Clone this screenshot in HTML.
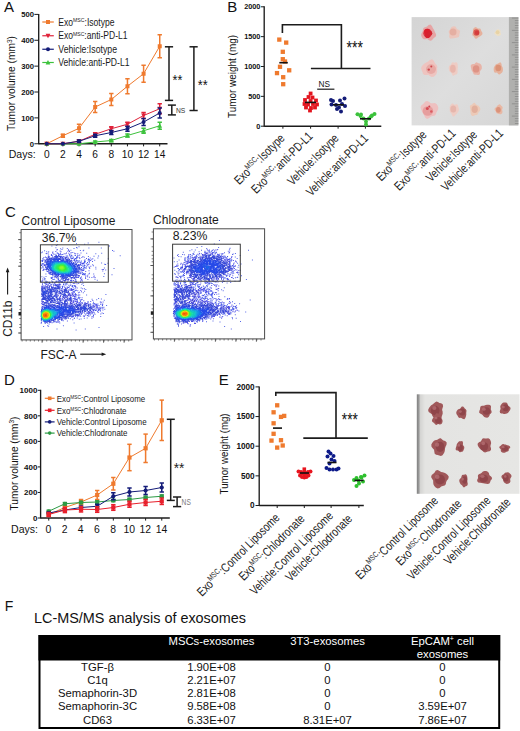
<!DOCTYPE html>
<html><head><meta charset="utf-8"><style>
html,body{margin:0;padding:0;background:#fff;}
body{width:520px;height:731px;overflow:hidden;position:relative;}
svg{position:absolute;left:0;top:0;font-family:"Liberation Sans", sans-serif;}
</style></head><body>
<svg width="520" height="731" viewBox="0 0 520 731">
<defs><filter id="bl" x="-5%" y="-5%" width="110%" height="110%"><feGaussianBlur stdDeviation="0.6"/></filter></defs>
<text x="4.0" y="11.9" font-size="15" fill="#111">A</text>
<line x1="38.7" y1="13.9" x2="38.7" y2="144.25" stroke="#1c1c1c" stroke-width="1.35"/>
<line x1="34.4" y1="143.75" x2="38.7" y2="143.75" stroke="#1c1c1c" stroke-width="1.0"/>
<text x="34.0" y="146.55" font-size="7.7" text-anchor="end" font-weight="bold" fill="#111">0</text>
<line x1="34.4" y1="117.88" x2="38.7" y2="117.88" stroke="#1c1c1c" stroke-width="1.0"/>
<text x="34.0" y="120.67999999999999" font-size="7.7" text-anchor="end" font-weight="bold" fill="#111">100</text>
<line x1="34.4" y1="92.01" x2="38.7" y2="92.01" stroke="#1c1c1c" stroke-width="1.0"/>
<text x="34.0" y="94.81" font-size="7.7" text-anchor="end" font-weight="bold" fill="#111">200</text>
<line x1="34.4" y1="66.14" x2="38.7" y2="66.14" stroke="#1c1c1c" stroke-width="1.0"/>
<text x="34.0" y="68.94" font-size="7.7" text-anchor="end" font-weight="bold" fill="#111">300</text>
<line x1="34.4" y1="40.27000000000001" x2="38.7" y2="40.27000000000001" stroke="#1c1c1c" stroke-width="1.0"/>
<text x="34.0" y="43.07000000000001" font-size="7.7" text-anchor="end" font-weight="bold" fill="#111">400</text>
<line x1="34.4" y1="14.400000000000006" x2="38.7" y2="14.400000000000006" stroke="#1c1c1c" stroke-width="1.0"/>
<text x="34.0" y="17.200000000000006" font-size="7.7" text-anchor="end" font-weight="bold" fill="#111">500</text>
<line x1="38.7" y1="143.75" x2="167.5" y2="143.75" stroke="#1c1c1c" stroke-width="1.35"/>
<line x1="46.75" y1="143.75" x2="46.75" y2="146.35" stroke="#1c1c1c" stroke-width="1.0"/>
<text x="46.75" y="158.3" font-size="10.2" text-anchor="middle" fill="#111">0</text>
<line x1="62.89" y1="143.75" x2="62.89" y2="146.35" stroke="#1c1c1c" stroke-width="1.0"/>
<text x="62.89" y="158.3" font-size="10.2" text-anchor="middle" fill="#111">2</text>
<line x1="79.03" y1="143.75" x2="79.03" y2="146.35" stroke="#1c1c1c" stroke-width="1.0"/>
<text x="79.03" y="158.3" font-size="10.2" text-anchor="middle" fill="#111">4</text>
<line x1="95.17" y1="143.75" x2="95.17" y2="146.35" stroke="#1c1c1c" stroke-width="1.0"/>
<text x="95.17" y="158.3" font-size="10.2" text-anchor="middle" fill="#111">6</text>
<line x1="111.31" y1="143.75" x2="111.31" y2="146.35" stroke="#1c1c1c" stroke-width="1.0"/>
<text x="111.31" y="158.3" font-size="10.2" text-anchor="middle" fill="#111">8</text>
<line x1="127.45" y1="143.75" x2="127.45" y2="146.35" stroke="#1c1c1c" stroke-width="1.0"/>
<text x="127.45" y="158.3" font-size="10.2" text-anchor="middle" fill="#111">10</text>
<line x1="143.59" y1="143.75" x2="143.59" y2="146.35" stroke="#1c1c1c" stroke-width="1.0"/>
<text x="143.59" y="158.3" font-size="10.2" text-anchor="middle" fill="#111">12</text>
<line x1="159.73000000000002" y1="143.75" x2="159.73000000000002" y2="146.35" stroke="#1c1c1c" stroke-width="1.0"/>
<text x="159.73000000000002" y="158.3" font-size="10.2" text-anchor="middle" fill="#111">14</text>
<text x="8.7" y="157.9" font-size="10.8" textLength="27" lengthAdjust="spacingAndGlyphs" fill="#111">Days:</text>
<text transform="translate(15.0,131) rotate(-90)" font-size="10.2" fill="#111" textLength="95" lengthAdjust="spacingAndGlyphs">Tumor volume (mm<tspan font-size="6.5" dy="-3.5">3</tspan><tspan dy="3.5">)</tspan></text>
<polyline points="46.75,143.75 62.89,135.75 79.03,128.25 95.17,107.00 111.31,99.50 127.45,86.25 143.59,73.75 159.73,46.25" fill="none" stroke="#ef7a2e" stroke-width="1.0"/>
<rect x="44.75" y="141.75" width="4.0" height="4.0" fill="#ef7a2e"/>
<line x1="62.89" y1="134.25" x2="62.89" y2="137.25" stroke="#ef7a2e" stroke-width="1.5"/>
<line x1="60.69" y1="134.25" x2="65.09" y2="134.25" stroke="#ef7a2e" stroke-width="1.5"/>
<line x1="60.69" y1="137.25" x2="65.09" y2="137.25" stroke="#ef7a2e" stroke-width="1.5"/>
<rect x="60.89" y="133.75" width="4.0" height="4.0" fill="#ef7a2e"/>
<line x1="79.03" y1="124.25" x2="79.03" y2="132.25" stroke="#ef7a2e" stroke-width="1.5"/>
<line x1="76.83" y1="124.25" x2="81.23" y2="124.25" stroke="#ef7a2e" stroke-width="1.5"/>
<line x1="76.83" y1="132.25" x2="81.23" y2="132.25" stroke="#ef7a2e" stroke-width="1.5"/>
<rect x="77.03" y="126.25" width="4.0" height="4.0" fill="#ef7a2e"/>
<line x1="95.17" y1="101.5" x2="95.17" y2="112.5" stroke="#ef7a2e" stroke-width="1.5"/>
<line x1="92.97" y1="101.5" x2="97.37" y2="101.5" stroke="#ef7a2e" stroke-width="1.5"/>
<line x1="92.97" y1="112.5" x2="97.37" y2="112.5" stroke="#ef7a2e" stroke-width="1.5"/>
<rect x="93.17" y="105.00" width="4.0" height="4.0" fill="#ef7a2e"/>
<line x1="111.31" y1="93.5" x2="111.31" y2="105.5" stroke="#ef7a2e" stroke-width="1.5"/>
<line x1="109.11" y1="93.5" x2="113.51" y2="93.5" stroke="#ef7a2e" stroke-width="1.5"/>
<line x1="109.11" y1="105.5" x2="113.51" y2="105.5" stroke="#ef7a2e" stroke-width="1.5"/>
<rect x="109.31" y="97.50" width="4.0" height="4.0" fill="#ef7a2e"/>
<line x1="127.45" y1="78.75" x2="127.45" y2="93.75" stroke="#ef7a2e" stroke-width="1.5"/>
<line x1="125.25" y1="78.75" x2="129.65" y2="78.75" stroke="#ef7a2e" stroke-width="1.5"/>
<line x1="125.25" y1="93.75" x2="129.65" y2="93.75" stroke="#ef7a2e" stroke-width="1.5"/>
<rect x="125.45" y="84.25" width="4.0" height="4.0" fill="#ef7a2e"/>
<line x1="143.59" y1="65.25" x2="143.59" y2="82.25" stroke="#ef7a2e" stroke-width="1.5"/>
<line x1="141.39000000000001" y1="65.25" x2="145.79" y2="65.25" stroke="#ef7a2e" stroke-width="1.5"/>
<line x1="141.39000000000001" y1="82.25" x2="145.79" y2="82.25" stroke="#ef7a2e" stroke-width="1.5"/>
<rect x="141.59" y="71.75" width="4.0" height="4.0" fill="#ef7a2e"/>
<line x1="159.73000000000002" y1="34.75" x2="159.73000000000002" y2="57.75" stroke="#ef7a2e" stroke-width="1.5"/>
<line x1="157.53000000000003" y1="34.75" x2="161.93" y2="34.75" stroke="#ef7a2e" stroke-width="1.5"/>
<line x1="157.53000000000003" y1="57.75" x2="161.93" y2="57.75" stroke="#ef7a2e" stroke-width="1.5"/>
<rect x="157.73" y="44.25" width="4.0" height="4.0" fill="#ef7a2e"/>
<polyline points="46.75,143.75 62.89,143.75 79.03,143.75 95.17,142.00 111.31,140.50 127.45,135.50 143.59,130.75 159.73,125.75" fill="none" stroke="#3cc23c" stroke-width="1.0"/>
<polygon points="46.75,141.35 49.15,145.75 44.35,145.75" fill="#3cc23c"/>
<polygon points="62.89,141.35 65.29,145.75 60.49,145.75" fill="#3cc23c"/>
<polygon points="79.03,141.35 81.43,145.75 76.63,145.75" fill="#3cc23c"/>
<line x1="95.17" y1="141" x2="95.17" y2="143" stroke="#3cc23c" stroke-width="1.5"/>
<line x1="92.97" y1="141" x2="97.37" y2="141" stroke="#3cc23c" stroke-width="1.5"/>
<line x1="92.97" y1="143" x2="97.37" y2="143" stroke="#3cc23c" stroke-width="1.5"/>
<polygon points="95.17,139.60 97.57,144.00 92.77,144.00" fill="#3cc23c"/>
<line x1="111.31" y1="139.5" x2="111.31" y2="141.5" stroke="#3cc23c" stroke-width="1.5"/>
<line x1="109.11" y1="139.5" x2="113.51" y2="139.5" stroke="#3cc23c" stroke-width="1.5"/>
<line x1="109.11" y1="141.5" x2="113.51" y2="141.5" stroke="#3cc23c" stroke-width="1.5"/>
<polygon points="111.31,138.10 113.71,142.50 108.91,142.50" fill="#3cc23c"/>
<line x1="127.45" y1="134.0" x2="127.45" y2="137.0" stroke="#3cc23c" stroke-width="1.5"/>
<line x1="125.25" y1="134.0" x2="129.65" y2="134.0" stroke="#3cc23c" stroke-width="1.5"/>
<line x1="125.25" y1="137.0" x2="129.65" y2="137.0" stroke="#3cc23c" stroke-width="1.5"/>
<polygon points="127.45,133.10 129.85,137.50 125.05,137.50" fill="#3cc23c"/>
<line x1="143.59" y1="128.25" x2="143.59" y2="133.25" stroke="#3cc23c" stroke-width="1.5"/>
<line x1="141.39000000000001" y1="128.25" x2="145.79" y2="128.25" stroke="#3cc23c" stroke-width="1.5"/>
<line x1="141.39000000000001" y1="133.25" x2="145.79" y2="133.25" stroke="#3cc23c" stroke-width="1.5"/>
<polygon points="143.59,128.35 145.99,132.75 141.19,132.75" fill="#3cc23c"/>
<line x1="159.73000000000002" y1="122.25" x2="159.73000000000002" y2="129.25" stroke="#3cc23c" stroke-width="1.5"/>
<line x1="157.53000000000003" y1="122.25" x2="161.93" y2="122.25" stroke="#3cc23c" stroke-width="1.5"/>
<line x1="157.53000000000003" y1="129.25" x2="161.93" y2="129.25" stroke="#3cc23c" stroke-width="1.5"/>
<polygon points="159.73,123.35 162.13,127.75 157.33,127.75" fill="#3cc23c"/>
<polyline points="46.75,143.75 62.89,143.75 79.03,141.25 95.17,134.25 111.31,128.75 127.45,124.25 143.59,115.50 159.73,108.75" fill="none" stroke="#e0233a" stroke-width="1.0"/>
<polygon points="46.75,146.15 49.15,141.75 44.35,141.75" fill="#e0233a"/>
<polygon points="62.89,146.15 65.29,141.75 60.49,141.75" fill="#e0233a"/>
<line x1="79.03" y1="140.05" x2="79.03" y2="142.45" stroke="#e0233a" stroke-width="1.5"/>
<line x1="76.83" y1="140.05" x2="81.23" y2="140.05" stroke="#e0233a" stroke-width="1.5"/>
<line x1="76.83" y1="142.45" x2="81.23" y2="142.45" stroke="#e0233a" stroke-width="1.5"/>
<polygon points="79.03,143.65 81.43,139.25 76.63,139.25" fill="#e0233a"/>
<line x1="95.17" y1="132.75" x2="95.17" y2="135.75" stroke="#e0233a" stroke-width="1.5"/>
<line x1="92.97" y1="132.75" x2="97.37" y2="132.75" stroke="#e0233a" stroke-width="1.5"/>
<line x1="92.97" y1="135.75" x2="97.37" y2="135.75" stroke="#e0233a" stroke-width="1.5"/>
<polygon points="95.17,136.65 97.57,132.25 92.77,132.25" fill="#e0233a"/>
<line x1="111.31" y1="126.75" x2="111.31" y2="130.75" stroke="#e0233a" stroke-width="1.5"/>
<line x1="109.11" y1="126.75" x2="113.51" y2="126.75" stroke="#e0233a" stroke-width="1.5"/>
<line x1="109.11" y1="130.75" x2="113.51" y2="130.75" stroke="#e0233a" stroke-width="1.5"/>
<polygon points="111.31,131.15 113.71,126.75 108.91,126.75" fill="#e0233a"/>
<line x1="127.45" y1="122.25" x2="127.45" y2="126.25" stroke="#e0233a" stroke-width="1.5"/>
<line x1="125.25" y1="122.25" x2="129.65" y2="122.25" stroke="#e0233a" stroke-width="1.5"/>
<line x1="125.25" y1="126.25" x2="129.65" y2="126.25" stroke="#e0233a" stroke-width="1.5"/>
<polygon points="127.45,126.65 129.85,122.25 125.05,122.25" fill="#e0233a"/>
<line x1="143.59" y1="112.5" x2="143.59" y2="118.5" stroke="#e0233a" stroke-width="1.5"/>
<line x1="141.39000000000001" y1="112.5" x2="145.79" y2="112.5" stroke="#e0233a" stroke-width="1.5"/>
<line x1="141.39000000000001" y1="118.5" x2="145.79" y2="118.5" stroke="#e0233a" stroke-width="1.5"/>
<polygon points="143.59,117.90 145.99,113.50 141.19,113.50" fill="#e0233a"/>
<line x1="159.73000000000002" y1="103.75" x2="159.73000000000002" y2="113.75" stroke="#e0233a" stroke-width="1.5"/>
<line x1="157.53000000000003" y1="103.75" x2="161.93" y2="103.75" stroke="#e0233a" stroke-width="1.5"/>
<line x1="157.53000000000003" y1="113.75" x2="161.93" y2="113.75" stroke="#e0233a" stroke-width="1.5"/>
<polygon points="159.73,111.15 162.13,106.75 157.33,106.75" fill="#e0233a"/>
<polyline points="46.75,143.75 62.89,143.75 79.03,141.25 95.17,135.75 111.31,132.50 127.45,128.75 143.59,122.00 159.73,113.00" fill="none" stroke="#141c78" stroke-width="1.0"/>
<circle cx="46.75" cy="143.75" r="2.00" fill="#141c78"/>
<circle cx="62.89" cy="143.75" r="2.00" fill="#141c78"/>
<line x1="79.03" y1="140.05" x2="79.03" y2="142.45" stroke="#141c78" stroke-width="1.5"/>
<line x1="76.83" y1="140.05" x2="81.23" y2="140.05" stroke="#141c78" stroke-width="1.5"/>
<line x1="76.83" y1="142.45" x2="81.23" y2="142.45" stroke="#141c78" stroke-width="1.5"/>
<circle cx="79.03" cy="141.25" r="2.00" fill="#141c78"/>
<line x1="95.17" y1="134.25" x2="95.17" y2="137.25" stroke="#141c78" stroke-width="1.5"/>
<line x1="92.97" y1="134.25" x2="97.37" y2="134.25" stroke="#141c78" stroke-width="1.5"/>
<line x1="92.97" y1="137.25" x2="97.37" y2="137.25" stroke="#141c78" stroke-width="1.5"/>
<circle cx="95.17" cy="135.75" r="2.00" fill="#141c78"/>
<line x1="111.31" y1="130.5" x2="111.31" y2="134.5" stroke="#141c78" stroke-width="1.5"/>
<line x1="109.11" y1="130.5" x2="113.51" y2="130.5" stroke="#141c78" stroke-width="1.5"/>
<line x1="109.11" y1="134.5" x2="113.51" y2="134.5" stroke="#141c78" stroke-width="1.5"/>
<circle cx="111.31" cy="132.50" r="2.00" fill="#141c78"/>
<line x1="127.45" y1="126.25" x2="127.45" y2="131.25" stroke="#141c78" stroke-width="1.5"/>
<line x1="125.25" y1="126.25" x2="129.65" y2="126.25" stroke="#141c78" stroke-width="1.5"/>
<line x1="125.25" y1="131.25" x2="129.65" y2="131.25" stroke="#141c78" stroke-width="1.5"/>
<circle cx="127.45" cy="128.75" r="2.00" fill="#141c78"/>
<line x1="143.59" y1="118.5" x2="143.59" y2="125.5" stroke="#141c78" stroke-width="1.5"/>
<line x1="141.39000000000001" y1="118.5" x2="145.79" y2="118.5" stroke="#141c78" stroke-width="1.5"/>
<line x1="141.39000000000001" y1="125.5" x2="145.79" y2="125.5" stroke="#141c78" stroke-width="1.5"/>
<circle cx="143.59" cy="122.00" r="2.00" fill="#141c78"/>
<line x1="159.73000000000002" y1="108" x2="159.73000000000002" y2="118" stroke="#141c78" stroke-width="1.5"/>
<line x1="157.53000000000003" y1="108" x2="161.93" y2="108" stroke="#141c78" stroke-width="1.5"/>
<line x1="157.53000000000003" y1="118" x2="161.93" y2="118" stroke="#141c78" stroke-width="1.5"/>
<circle cx="159.73" cy="113.00" r="2.00" fill="#141c78"/>
<line x1="42.3" y1="22" x2="53.8" y2="22" stroke="#ef7a2e" stroke-width="1.2"/>
<rect x="46.00" y="20.00" width="4.0" height="4.0" fill="#ef7a2e"/>
<text x="58.3" y="25.6" font-size="10" textLength="56.3" lengthAdjust="spacingAndGlyphs" fill="#1a1a1a">Exo<tspan font-size="6" dy="-3.3">MSC</tspan><tspan dy="3.3">:Isotype</tspan></text>
<line x1="42.3" y1="35.75" x2="53.8" y2="35.75" stroke="#e0233a" stroke-width="1.2"/>
<polygon points="48.00,38.15 50.40,33.75 45.60,33.75" fill="#e0233a"/>
<text x="58.3" y="39.35" font-size="10" textLength="69.2" lengthAdjust="spacingAndGlyphs" fill="#1a1a1a">Exo<tspan font-size="6" dy="-3.3">MSC</tspan><tspan dy="3.3">:anti-PD-L1</tspan></text>
<line x1="42.3" y1="49.25" x2="53.8" y2="49.25" stroke="#141c78" stroke-width="1.2"/>
<circle cx="48.00" cy="49.25" r="2.00" fill="#141c78"/>
<text x="58.3" y="52.85" font-size="10" textLength="58.7" lengthAdjust="spacingAndGlyphs" fill="#1a1a1a">Vehicle:Isotype</text>
<line x1="42.3" y1="62.5" x2="53.8" y2="62.5" stroke="#3cc23c" stroke-width="1.2"/>
<polygon points="48.00,60.10 50.40,64.50 45.60,64.50" fill="#3cc23c"/>
<text x="58.3" y="66.1" font-size="10" textLength="71.2" lengthAdjust="spacingAndGlyphs" fill="#1a1a1a">Vehicle:anti-PD-L1</text>
<line x1="169.0" y1="46.8" x2="169.0" y2="100.4" stroke="#1c1c1c" stroke-width="1.5"/>
<line x1="164.9" y1="46.8" x2="173.1" y2="46.8" stroke="#1c1c1c" stroke-width="1.5"/>
<line x1="164.9" y1="100.4" x2="173.1" y2="100.4" stroke="#1c1c1c" stroke-width="1.5"/>
<text x="172.6" y="85.0" font-size="15" textLength="9.8" lengthAdjust="spacingAndGlyphs" fill="#111">**</text>
<line x1="193.9" y1="46.8" x2="193.9" y2="110.5" stroke="#1c1c1c" stroke-width="1.5"/>
<line x1="189.5" y1="46.8" x2="197.7" y2="46.8" stroke="#1c1c1c" stroke-width="1.5"/>
<line x1="189.5" y1="110.5" x2="197.7" y2="110.5" stroke="#1c1c1c" stroke-width="1.5"/>
<text x="197.7" y="90.3" font-size="15" textLength="9.9" lengthAdjust="spacingAndGlyphs" fill="#111">**</text>
<line x1="171.8" y1="105.1" x2="171.8" y2="114.9" stroke="#1c1c1c" stroke-width="1.5"/>
<line x1="167.9" y1="105.1" x2="175.9" y2="105.1" stroke="#1c1c1c" stroke-width="1.5"/>
<line x1="167.9" y1="114.9" x2="175.9" y2="114.9" stroke="#1c1c1c" stroke-width="1.5"/>
<text x="175.9" y="112.9" font-size="8" textLength="9.3" lengthAdjust="spacingAndGlyphs" fill="#333">NS</text>
<text x="227.3" y="11.9" font-size="15" fill="#111">B</text>
<line x1="264.2" y1="6.3" x2="264.2" y2="126.7" stroke="#1c1c1c" stroke-width="1.35"/>
<line x1="260.8" y1="126.2" x2="264.2" y2="126.2" stroke="#1c1c1c" stroke-width="1.0"/>
<text x="260.4" y="128.8" font-size="7.3" text-anchor="end" font-weight="bold" fill="#111">0</text>
<line x1="260.8" y1="96.35" x2="264.2" y2="96.35" stroke="#1c1c1c" stroke-width="1.0"/>
<text x="260.4" y="98.94999999999999" font-size="7.3" text-anchor="end" font-weight="bold" fill="#111">500</text>
<line x1="260.8" y1="66.5" x2="264.2" y2="66.5" stroke="#1c1c1c" stroke-width="1.0"/>
<text x="260.4" y="69.1" font-size="7.3" text-anchor="end" font-weight="bold" fill="#111">1000</text>
<line x1="260.8" y1="36.64999999999999" x2="264.2" y2="36.64999999999999" stroke="#1c1c1c" stroke-width="1.0"/>
<text x="260.4" y="39.24999999999999" font-size="7.3" text-anchor="end" font-weight="bold" fill="#111">1500</text>
<line x1="260.8" y1="6.799999999999997" x2="264.2" y2="6.799999999999997" stroke="#1c1c1c" stroke-width="1.0"/>
<text x="260.4" y="9.399999999999997" font-size="7.3" text-anchor="end" font-weight="bold" fill="#111">2000</text>
<line x1="264.2" y1="126.2" x2="381.3" y2="126.2" stroke="#1c1c1c" stroke-width="1.35"/>
<line x1="282.9" y1="126.2" x2="282.9" y2="128.7" stroke="#1c1c1c" stroke-width="1.0"/>
<line x1="310.6" y1="126.2" x2="310.6" y2="128.7" stroke="#1c1c1c" stroke-width="1.0"/>
<line x1="338.1" y1="126.2" x2="338.1" y2="128.7" stroke="#1c1c1c" stroke-width="1.0"/>
<line x1="365.4" y1="126.2" x2="365.4" y2="128.7" stroke="#1c1c1c" stroke-width="1.0"/>
<text transform="translate(236.4,118.0) rotate(-90)" font-size="10.7" fill="#111" textLength="83" lengthAdjust="spacingAndGlyphs">Tumor weight (mg)</text>
<rect x="277.15" y="37.45" width="4.3" height="4.3" fill="#ef7a2e"/>
<rect x="284.05" y="40.45" width="4.3" height="4.3" fill="#ef7a2e"/>
<rect x="280.65" y="49.65" width="4.3" height="4.3" fill="#ef7a2e"/>
<rect x="280.65" y="57.05" width="4.3" height="4.3" fill="#ef7a2e"/>
<rect x="277.85" y="64.65" width="4.3" height="4.3" fill="#ef7a2e"/>
<rect x="287.05" y="68.15" width="4.3" height="4.3" fill="#ef7a2e"/>
<rect x="274.85" y="70.95" width="4.3" height="4.3" fill="#ef7a2e"/>
<rect x="281.05" y="75.05" width="4.3" height="4.3" fill="#ef7a2e"/>
<rect x="281.05" y="82.05" width="4.3" height="4.3" fill="#ef7a2e"/>
<rect x="282.85" y="59.35" width="4.3" height="4.3" fill="#ef7a2e"/>
<line x1="279.3" y1="62.7" x2="287.8" y2="62.7" stroke="#111" stroke-width="1.6"/>
<rect x="308.70" y="91.60" width="3.8" height="3.8" fill="#e3151f"/>
<rect x="306.60" y="95.10" width="3.8" height="3.8" fill="#e3151f"/>
<rect x="310.60" y="95.60" width="3.8" height="3.8" fill="#e3151f"/>
<rect x="303.10" y="98.10" width="3.8" height="3.8" fill="#e3151f"/>
<rect x="308.70" y="99.10" width="3.8" height="3.8" fill="#e3151f"/>
<rect x="314.10" y="98.60" width="3.8" height="3.8" fill="#e3151f"/>
<rect x="302.60" y="102.10" width="3.8" height="3.8" fill="#e3151f"/>
<rect x="306.10" y="102.60" width="3.8" height="3.8" fill="#e3151f"/>
<rect x="311.10" y="102.10" width="3.8" height="3.8" fill="#e3151f"/>
<rect x="315.10" y="102.60" width="3.8" height="3.8" fill="#e3151f"/>
<rect x="304.10" y="105.60" width="3.8" height="3.8" fill="#e3151f"/>
<rect x="309.10" y="106.10" width="3.8" height="3.8" fill="#e3151f"/>
<rect x="313.10" y="105.60" width="3.8" height="3.8" fill="#e3151f"/>
<rect x="308.10" y="108.60" width="3.8" height="3.8" fill="#e3151f"/>
<line x1="305" y1="102.4" x2="316" y2="102.4" stroke="#111" stroke-width="1.6"/>
<circle cx="344.50" cy="98.50" r="2.00" fill="#141c78"/>
<circle cx="340.00" cy="100.50" r="2.00" fill="#141c78"/>
<circle cx="333.00" cy="101.00" r="2.00" fill="#141c78"/>
<circle cx="342.00" cy="104.00" r="2.00" fill="#141c78"/>
<circle cx="336.00" cy="105.00" r="2.00" fill="#141c78"/>
<circle cx="331.50" cy="104.50" r="2.00" fill="#141c78"/>
<circle cx="339.00" cy="107.50" r="2.00" fill="#141c78"/>
<circle cx="345.00" cy="106.00" r="2.00" fill="#141c78"/>
<circle cx="341.00" cy="111.50" r="2.00" fill="#141c78"/>
<circle cx="337.00" cy="109.00" r="2.00" fill="#141c78"/>
<circle cx="331.00" cy="100.00" r="2.00" fill="#141c78"/>
<line x1="333" y1="104.8" x2="344" y2="104.8" stroke="#111" stroke-width="1.6"/>
<circle cx="357.50" cy="114.20" r="2.00" fill="#3cc23c"/>
<circle cx="360.50" cy="116.00" r="2.00" fill="#3cc23c"/>
<circle cx="363.50" cy="118.50" r="2.00" fill="#3cc23c"/>
<circle cx="366.00" cy="121.50" r="2.00" fill="#3cc23c"/>
<circle cx="366.00" cy="124.50" r="2.00" fill="#3cc23c"/>
<circle cx="369.00" cy="118.50" r="2.00" fill="#3cc23c"/>
<circle cx="372.00" cy="115.50" r="2.00" fill="#3cc23c"/>
<circle cx="374.50" cy="114.00" r="2.00" fill="#3cc23c"/>
<circle cx="361.00" cy="114.50" r="2.00" fill="#3cc23c"/>
<circle cx="371.00" cy="116.50" r="2.00" fill="#3cc23c"/>
<line x1="360" y1="118.8" x2="371" y2="118.8" stroke="#111" stroke-width="1.6"/>
<polyline points="282.40,32.90 282.40,24.80 341.40,24.80 341.40,68.50" fill="none" stroke="#1c1c1c" stroke-width="1.6"/>
<line x1="310.9" y1="68.5" x2="370.5" y2="68.5" stroke="#1c1c1c" stroke-width="1.6"/>
<text x="346.6" y="53.8" font-size="18" textLength="16.4" lengthAdjust="spacingAndGlyphs" fill="#111">***</text>
<line x1="317.2" y1="89.2" x2="334.4" y2="89.2" stroke="#1c1c1c" stroke-width="1.2"/>
<text x="318.6" y="86.6" font-size="9" textLength="11.5" lengthAdjust="spacingAndGlyphs" fill="#111">NS</text>
<text transform="translate(285.5,139.0) rotate(-45) scale(0.79,1)" font-size="12.5" text-anchor="end" fill="#1a1a1a">Exo<tspan font-size="8" dy="-4.8">MSC</tspan><tspan dy="4.8">:Isotype</tspan></text>
<text transform="translate(313.5,137.0) rotate(-45) scale(0.79,1)" font-size="12.5" text-anchor="end" fill="#1a1a1a">Exo<tspan font-size="8" dy="-4.8">MSC</tspan><tspan dy="4.8">:anti-PD-L1</tspan></text>
<text transform="translate(339.5,139.0) rotate(-45) scale(0.79,1)" font-size="12.5" text-anchor="end" fill="#1a1a1a">Vehicle:Isotype</text>
<text transform="translate(369.0,139.0) rotate(-45) scale(0.79,1)" font-size="12.5" text-anchor="end" fill="#1a1a1a">Vehicle:anti-PD-L1</text>
<defs><linearGradient id="pbg" x1="0" y1="0" x2="1" y2="1"><stop offset="0" stop-color="#d4d4d4"/><stop offset="0.5" stop-color="#dedede"/><stop offset="1" stop-color="#d6d6d6"/></linearGradient></defs>
<rect x="411.6" y="17.1" width="106.79999999999995" height="108.30000000000001" fill="url(#pbg)"/>
<rect x="508.9" y="17.1" width="9.5" height="108.3" fill="#b0b0ae"/>
<line x1="511.9" y1="18.1" x2="518.4" y2="18.1" stroke="#7a7a7a" stroke-width="0.6"/>
<line x1="514.9" y1="20.6" x2="518.4" y2="20.6" stroke="#7a7a7a" stroke-width="0.6"/>
<line x1="514.9" y1="23.0" x2="518.4" y2="23.0" stroke="#7a7a7a" stroke-width="0.6"/>
<line x1="514.9" y1="25.5" x2="518.4" y2="25.5" stroke="#7a7a7a" stroke-width="0.6"/>
<line x1="514.9" y1="27.9" x2="518.4" y2="27.9" stroke="#7a7a7a" stroke-width="0.6"/>
<line x1="511.9" y1="30.4" x2="518.4" y2="30.4" stroke="#7a7a7a" stroke-width="0.6"/>
<line x1="514.9" y1="32.8" x2="518.4" y2="32.8" stroke="#7a7a7a" stroke-width="0.6"/>
<line x1="514.9" y1="35.2" x2="518.4" y2="35.2" stroke="#7a7a7a" stroke-width="0.6"/>
<line x1="514.9" y1="37.7" x2="518.4" y2="37.7" stroke="#7a7a7a" stroke-width="0.6"/>
<line x1="514.9" y1="40.2" x2="518.4" y2="40.2" stroke="#7a7a7a" stroke-width="0.6"/>
<line x1="511.9" y1="42.6" x2="518.4" y2="42.6" stroke="#7a7a7a" stroke-width="0.6"/>
<line x1="514.9" y1="45.1" x2="518.4" y2="45.1" stroke="#7a7a7a" stroke-width="0.6"/>
<line x1="514.9" y1="47.5" x2="518.4" y2="47.5" stroke="#7a7a7a" stroke-width="0.6"/>
<line x1="514.9" y1="50.0" x2="518.4" y2="50.0" stroke="#7a7a7a" stroke-width="0.6"/>
<line x1="514.9" y1="52.4" x2="518.4" y2="52.4" stroke="#7a7a7a" stroke-width="0.6"/>
<line x1="511.9" y1="54.9" x2="518.4" y2="54.9" stroke="#7a7a7a" stroke-width="0.6"/>
<line x1="514.9" y1="57.3" x2="518.4" y2="57.3" stroke="#7a7a7a" stroke-width="0.6"/>
<line x1="514.9" y1="59.8" x2="518.4" y2="59.8" stroke="#7a7a7a" stroke-width="0.6"/>
<line x1="514.9" y1="62.2" x2="518.4" y2="62.2" stroke="#7a7a7a" stroke-width="0.6"/>
<line x1="514.9" y1="64.7" x2="518.4" y2="64.7" stroke="#7a7a7a" stroke-width="0.6"/>
<line x1="511.9" y1="67.1" x2="518.4" y2="67.1" stroke="#7a7a7a" stroke-width="0.6"/>
<line x1="514.9" y1="69.6" x2="518.4" y2="69.6" stroke="#7a7a7a" stroke-width="0.6"/>
<line x1="514.9" y1="72.0" x2="518.4" y2="72.0" stroke="#7a7a7a" stroke-width="0.6"/>
<line x1="514.9" y1="74.5" x2="518.4" y2="74.5" stroke="#7a7a7a" stroke-width="0.6"/>
<line x1="514.9" y1="76.9" x2="518.4" y2="76.9" stroke="#7a7a7a" stroke-width="0.6"/>
<line x1="511.9" y1="79.4" x2="518.4" y2="79.4" stroke="#7a7a7a" stroke-width="0.6"/>
<line x1="514.9" y1="81.8" x2="518.4" y2="81.8" stroke="#7a7a7a" stroke-width="0.6"/>
<line x1="514.9" y1="84.2" x2="518.4" y2="84.2" stroke="#7a7a7a" stroke-width="0.6"/>
<line x1="514.9" y1="86.7" x2="518.4" y2="86.7" stroke="#7a7a7a" stroke-width="0.6"/>
<line x1="514.9" y1="89.2" x2="518.4" y2="89.2" stroke="#7a7a7a" stroke-width="0.6"/>
<line x1="511.9" y1="91.6" x2="518.4" y2="91.6" stroke="#7a7a7a" stroke-width="0.6"/>
<line x1="514.9" y1="94.1" x2="518.4" y2="94.1" stroke="#7a7a7a" stroke-width="0.6"/>
<line x1="514.9" y1="96.5" x2="518.4" y2="96.5" stroke="#7a7a7a" stroke-width="0.6"/>
<line x1="514.9" y1="99.0" x2="518.4" y2="99.0" stroke="#7a7a7a" stroke-width="0.6"/>
<line x1="514.9" y1="101.4" x2="518.4" y2="101.4" stroke="#7a7a7a" stroke-width="0.6"/>
<line x1="511.9" y1="103.8" x2="518.4" y2="103.8" stroke="#7a7a7a" stroke-width="0.6"/>
<line x1="514.9" y1="106.3" x2="518.4" y2="106.3" stroke="#7a7a7a" stroke-width="0.6"/>
<line x1="514.9" y1="108.8" x2="518.4" y2="108.8" stroke="#7a7a7a" stroke-width="0.6"/>
<line x1="514.9" y1="111.2" x2="518.4" y2="111.2" stroke="#7a7a7a" stroke-width="0.6"/>
<line x1="514.9" y1="113.7" x2="518.4" y2="113.7" stroke="#7a7a7a" stroke-width="0.6"/>
<line x1="511.9" y1="116.1" x2="518.4" y2="116.1" stroke="#7a7a7a" stroke-width="0.6"/>
<line x1="514.9" y1="118.6" x2="518.4" y2="118.6" stroke="#7a7a7a" stroke-width="0.6"/>
<line x1="514.9" y1="121.0" x2="518.4" y2="121.0" stroke="#7a7a7a" stroke-width="0.6"/>
<line x1="514.9" y1="123.5" x2="518.4" y2="123.5" stroke="#7a7a7a" stroke-width="0.6"/>
<path d="M435.6 33.2 L436.2 35.0 L435.6 36.7 L434.1 37.8 L432.9 38.9 L431.9 40.3 L430.2 40.8 L428.6 39.9 L427.3 39.0 L425.8 39.3 L424.0 39.3 L422.5 38.3 L421.6 36.8 L421.1 35.0 L421.6 33.2 L422.5 31.7 L422.9 30.3 L423.2 28.6 L424.2 27.4 L425.8 27.0 L427.1 26.4 L428.6 25.1 L430.5 24.6 L431.9 25.9 L432.7 27.8 L433.5 29.1 L434.2 30.3 L434.8 31.7Z" fill="#e6a4a4"/>
<ellipse cx="427.6" cy="33.2" rx="4.3" ry="4.4" fill="#d82432" opacity="0.85"/>
<circle cx="427.1" cy="31.7" r="3.0" fill="#dc1e2c"/>
<circle cx="427.6" cy="35.2" r="2.8" fill="#d8202e"/>
<circle cx="430.1" cy="33.2" r="2.2" fill="#d42430"/>
<path d="M459.8 32.8 L459.4 34.1 L459.3 35.6 L458.8 36.9 L457.5 37.5 L456.3 37.8 L455.2 38.1 L454.1 38.2 L453.0 38.2 L451.6 38.5 L450.0 38.4 L449.2 37.1 L449.3 35.3 L449.4 34.0 L448.8 32.8 L448.7 31.5 L449.4 30.3 L450.2 29.4 L450.7 28.1 L451.5 27.0 L452.8 26.4 L454.1 26.2 L455.4 26.5 L456.3 27.7 L456.9 29.0 L457.8 29.6 L459.2 30.1 L460.1 31.3Z" fill="#ecc6bc"/>
<ellipse cx="453.1" cy="32.0" rx="3.4" ry="3.6" fill="#e4aa9e" opacity="0.85"/>
<path d="M482.4 32.8 L482.4 34.2 L481.5 35.2 L480.5 35.9 L479.7 36.5 L478.8 36.9 L478.0 37.4 L477.0 38.4 L475.8 38.8 L474.7 38.0 L474.1 36.8 L473.3 36.1 L472.4 35.2 L472.3 34.0 L472.8 32.8 L473.0 31.8 L472.9 30.6 L473.0 29.3 L473.7 28.2 L474.6 27.4 L475.8 27.1 L477.0 27.8 L477.9 28.5 L478.9 28.5 L480.1 28.5 L480.8 29.5 L481.1 30.6 L481.6 31.6Z" fill="#e6b09c"/>
<ellipse cx="476.4" cy="32.5" rx="3.0" ry="3.2" fill="#d84a44" opacity="0.85"/>
<circle cx="477.0" cy="32.8" r="2.2" fill="#d43c3c"/>
<path d="M500.4 32.8 L500.9 33.5 L501.0 34.5 L500.5 35.1 L499.8 35.4 L499.2 35.8 L498.6 36.1 L497.9 36.0 L497.3 35.8 L496.7 35.6 L496.1 35.3 L495.7 34.7 L495.1 34.3 L494.4 33.7 L494.4 32.8 L495.0 32.1 L495.6 31.6 L495.8 31.0 L496.1 30.3 L496.6 29.8 L497.2 29.6 L497.9 29.4 L498.6 29.3 L499.3 29.7 L499.9 30.1 L500.4 30.6 L500.5 31.4 L500.3 32.2Z" fill="#eee0c4"/>
<ellipse cx="497.6" cy="32.2" rx="1.9" ry="2.0" fill="#e6d0a0" opacity="0.85"/>
<path d="M437.1 68.6 L437.1 70.3 L437.1 72.1 L436.4 73.9 L435.2 75.4 L433.7 76.7 L431.7 77.1 L429.8 76.0 L428.4 74.8 L426.8 74.9 L424.6 75.1 L423.0 74.0 L422.5 72.1 L421.8 70.4 L421.1 68.6 L421.5 66.7 L422.6 65.2 L423.9 63.9 L425.2 62.9 L426.8 62.3 L428.2 61.5 L429.8 60.0 L432.0 59.2 L433.7 60.5 L434.6 62.6 L435.5 64.0 L436.9 65.2 L437.4 66.9Z" fill="#eec4c0"/>
<ellipse cx="431.0" cy="69.1" rx="5.0" ry="4.8" fill="#e6a4a0" opacity="0.85"/>
<circle cx="428.8" cy="69.6" r="1.2" fill="#d04a50"/>
<circle cx="431.3" cy="66.6" r="1.0" fill="#cc4448"/>
<path d="M457.7 68.6 L457.5 69.9 L457.6 71.4 L457.5 73.1 L456.8 74.3 L455.7 74.6 L454.7 75.0 L453.7 75.8 L452.6 75.6 L451.9 74.1 L451.4 72.8 L450.6 72.2 L449.6 71.5 L449.0 70.2 L448.7 68.6 L448.8 66.9 L449.5 65.6 L450.5 64.9 L451.2 63.9 L451.8 62.7 L452.7 62.2 L453.7 62.6 L454.6 62.7 L455.8 62.2 L457.0 62.5 L457.6 64.0 L457.7 65.8 L457.8 67.2Z" fill="#eeccc4"/>
<ellipse cx="452.9" cy="68.8" rx="2.8" ry="4.0" fill="#e6b2a8" opacity="0.85"/>
<path d="M481.8 68.6 L481.1 69.9 L480.2 70.8 L480.0 72.0 L480.0 73.8 L479.1 75.1 L477.7 75.1 L476.4 74.7 L475.2 74.8 L474.0 74.4 L473.2 73.3 L472.7 72.1 L472.0 71.1 L471.5 69.9 L471.2 68.6 L470.8 67.1 L470.7 65.4 L471.8 64.3 L473.4 64.1 L474.5 63.9 L475.3 63.0 L476.4 62.3 L477.6 62.7 L478.6 63.2 L479.8 63.6 L481.0 64.4 L481.6 65.7 L481.8 67.1Z" fill="#e8b4a8"/>
<ellipse cx="476.1" cy="68.9" rx="3.3" ry="3.7" fill="#dc8e80" opacity="0.85"/>
<path d="M502.9 68.6 L502.9 69.8 L502.8 71.1 L502.3 72.3 L501.5 73.0 L500.6 73.8 L499.6 74.5 L498.5 74.3 L497.6 73.2 L496.9 72.5 L495.8 72.7 L494.5 72.4 L493.9 71.3 L493.7 69.9 L493.7 68.6 L493.9 67.4 L494.5 66.3 L495.1 65.4 L495.7 64.4 L496.6 63.9 L497.6 63.7 L498.5 63.3 L499.7 62.4 L500.9 62.6 L501.5 64.1 L501.7 65.6 L502.1 66.5 L502.7 67.5Z" fill="#e6b29c"/>
<ellipse cx="498.3" cy="68.0" rx="2.9" ry="3.3" fill="#d88c70" opacity="0.85"/>
<path d="M438.1 109.5 L437.1 111.2 L436.3 112.7 L435.8 114.4 L434.5 115.7 L432.6 116.0 L431.0 116.6 L429.3 118.1 L427.0 118.9 L425.1 117.6 L424.2 115.6 L423.3 114.0 L422.4 112.6 L421.8 111.1 L421.1 109.5 L420.5 107.6 L421.0 105.7 L422.5 104.4 L423.9 103.2 L425.3 101.6 L427.2 101.0 L429.3 102.1 L430.8 103.3 L432.5 103.2 L434.8 103.0 L436.6 104.0 L437.7 105.7 L438.3 107.6Z" fill="#eec0c0"/>
<ellipse cx="427.9" cy="111.0" rx="5.3" ry="4.8" fill="#e49898" opacity="0.85"/>
<circle cx="427.3" cy="108.5" r="1.5" fill="#d84a54"/>
<circle cx="431.3" cy="111.5" r="1.3" fill="#dc5a60"/>
<circle cx="429.3" cy="106.5" r="1.0" fill="#d04450"/>
<path d="M459.0 109.5 L458.7 110.9 L458.0 112.0 L457.4 113.0 L456.7 113.8 L455.9 114.4 L455.1 115.3 L454.1 116.4 L452.9 116.5 L452.0 115.1 L451.6 113.7 L450.8 112.9 L450.0 112.1 L449.7 110.8 L449.8 109.5 L449.7 108.2 L449.7 106.8 L450.2 105.5 L451.0 104.4 L451.9 103.6 L453.1 103.6 L454.1 104.4 L454.9 104.8 L456.0 104.3 L457.3 104.3 L458.0 105.4 L458.3 106.9 L458.7 108.1Z" fill="#eeccc4"/>
<ellipse cx="453.3" cy="109.0" rx="2.9" ry="3.6" fill="#e4b2a8" opacity="0.85"/>
<path d="M480.4 109.5 L479.8 110.9 L478.8 111.9 L478.2 113.0 L477.8 114.3 L476.9 115.1 L475.7 115.0 L474.7 115.2 L473.5 115.9 L472.2 116.0 L471.2 114.9 L470.7 113.4 L470.4 112.1 L470.4 110.7 L470.4 109.5 L470.1 108.2 L469.8 106.6 L470.4 105.3 L471.6 104.7 L472.5 103.9 L473.5 102.9 L474.7 102.8 L475.7 103.9 L476.5 104.8 L477.5 105.2 L478.5 105.7 L479.4 106.7 L480.2 108.0Z" fill="#eccab8"/>
<ellipse cx="474.7" cy="109.3" rx="3.1" ry="3.7" fill="#e0ac98" opacity="0.85"/>
<path d="M502.1 109.5 L502.2 110.4 L502.5 111.6 L502.3 112.9 L501.6 113.7 L500.8 114.2 L499.9 114.3 L499.0 114.0 L498.2 113.7 L497.4 113.6 L496.6 113.3 L496.2 112.4 L495.8 111.4 L495.1 110.6 L494.5 109.5 L494.8 108.3 L495.7 107.5 L496.4 106.9 L496.9 106.2 L497.5 105.5 L498.2 105.0 L499.0 104.4 L499.9 104.3 L500.7 105.0 L501.3 105.8 L502.1 106.4 L502.7 107.3 L502.5 108.5Z" fill="#e8b8a4"/>
<ellipse cx="498.4" cy="109.8" rx="2.4" ry="2.9" fill="#d88c74" opacity="0.85"/>
<text transform="translate(427.5,135.5) rotate(-45) scale(0.79,1)" font-size="12.5" text-anchor="end" fill="#1a1a1a">Exo<tspan font-size="8" dy="-4.8">MSC</tspan><tspan dy="4.8">:Isotype</tspan></text>
<text transform="translate(456.5,134.0) rotate(-45) scale(0.79,1)" font-size="12.5" text-anchor="end" fill="#1a1a1a">Exo<tspan font-size="8" dy="-4.8">MSC</tspan><tspan dy="4.8">:anti-PD-L1</tspan></text>
<text transform="translate(478.0,135.5) rotate(-45) scale(0.79,1)" font-size="12.5" text-anchor="end" fill="#1a1a1a">Vehicle:Isotype</text>
<text transform="translate(504.0,134.0) rotate(-45) scale(0.79,1)" font-size="12.5" text-anchor="end" fill="#1a1a1a">Vehicle:anti-PD-L1</text>
<text x="5.0" y="216.8" font-size="15" fill="#111">C</text>
<g transform="translate(21.1,229.5)" filter="url(#bl)"><path d="M0 0m33.1 32h1v1h-1zm0 .1h1v1h-1zm.5 .1h1v1h-1zm3.6 .4h1v1h-1zm-3.9 .1h1v1h-1zm4.5 0h1v1h-1zm-.4 .2h1v1h-1zm-6.2 .1h1v1h-1zm-.1 .1h1v1h-1zm.1 .3h1v1h-1zm0 .1h1v1h-1zm.5 .3h1v1h-1zm-.2 .1h1v1h-1zm.3 0h1v1h-1zm-1.5 .1h1v1h-1zm.5 .1h1v1h-1zm15.4 .3h1v1h-1zm-16 .1h1v1h-1zm16.2 0h1v1h-1zm-15.6 .1h1v1h-1zm16 .1h1v1h-1zm-15.9 .3h1v1h-1zm15.3 0h1v1h-1zm-16 .1h1v1h-1zm-.1 .1h1v1h-1zm18.1 0h1v1h-1zm-18 .1h1v1h-1zm.7 .1h1v1h-1zm.1 .1h1v1h-1zm-.6 .2h1v1h-1zm18.4 .1h1v1h-1zm-.8 .1h1v1h-1zm1.8 .1h1v1h-1zm-.2 .4h1v1h-1zm-.2 .2h1v1h-1zm.4 .2h1v1h-1zm.6 .4h1v1h-1zm.1 0h1v1h-1zm.5 0h1v1h-1zm-.1 .1h1v1h-1zm-.9 .1h1v1h-1zm.6 .2h1v1h-1zm-.1 .2h1v1h-1zm-.4 .2h1v1h-1zm.6 0h1v1h-1zm-.6 .3h1v1h-1zm.3 0h1v1h-1zm.3 0h1v1h-1zm-.5 .6h1v1h-1zm.5 0h1v1h-1zm-20.5 .1h1v1h-1zm.7 .2h1v1h-1zm-.4 .1h1v1h-1zm.3 0h1v1h-1zm-.1 .1h1v1h-1zm-.5 .2h1v1h-1zm.6 0h1v1h-1zm-.1 .1h1v1h-1zm.1 .1h1v1h-1zm1.1 .4h1v1h-1zm18.4 0h1v1h-1zm-18.8 .1h1v1h-1zm18.6 0h1v1h-1zm.2 .1h1v1h-1zm.1 0h1v1h-1zm-18.9 .2h1v1h-1zm-.5 .2h1v1h-1zm.9 .1h1v1h-1zm18.5 0h1v1h-1zm-17.1 .6h1v1h-1zm.4 0h1v1h-1zm-.3 .2h1v1h-1zm.4 .1h1v1h-1zm-.3 .1h1v1h-1zm2.2 .2h1v1h-1zm13.2 0h1v1h-1zm-13.6 .2h1v1h-1zm13.5 0h1v1h-1zm0 0h1v1h-1zm-13.5 .1h1v1h-1zm13.2 .1h1v1h-1zm-12.7 .1h1v1h-1zm-.4 .1h1v1h-1zm12.6 0h1v1h-1zm-12.9 .1h1v1h-1zm13.4 0h1v1h-1zm-13.4 .1h1v1h-1zm6.3 .1h1v1h-1zm1.9 0h1v1h-1zm.9 0h1v1h-1zm-3.3 .1h1v1h-1zm1.7 0h1v1h-1zm1.5 0h1v1h-1zm-3.9 .1h1v1h-1zm4.4 0h1v1h-1zm1.4 0h1v1h-1zm.3 0h1v1h-1zm.2 0h1v1h-1zm-5.2 .1h1v1h-1zm1.1 0h1v1h-1zm.6 0h1v1h-1zm3 0h1v1h-1zm-5.8 .1h1v1h-1zm.5 0h1v1h-1zm.7 0h1v1h-1zm1.6 0h1v1h-1zm.8 0h1v1h-1zm3.1 0h1v1h-1zm-6.2 .1h1v1h-1zm3 0h1v1h-1zm2.7 0h1v1h-1zm.5 0h1v1h-1zm-5.5 .1h1v1h-1zm2.8 0h1v1h-1zm1.8 .2h1v1h-1zm.6 0h1v1h-1zm-5.5 .1h1v1h-1zm2.2 0h1v1h-1zm3.4 0h1v1h-1zm-3.4 .1h1v1h-1zm1.4 0h1v1h-1zm.5 0h1v1h-1zm1 0h1v1h-1zm-22.4 35h1v1h-1zm3.5 .1h1v1h-1zm-4.3 .2h1v1h-1zm.8 0h1v1h-1zm-.7 .1h1v1h-1zm0 .1h1v1h-1zm.9 .3h1v1h-1zm3.4 0h1v1h-1zm.5 .1h1v1h-1zm4.4 .3h1v1h-1zm0 .2h1v1h-1zm-.2 .2h1v1h-1zm0 0h1v1h-1zm0 0h1v1h-1zm.2 0h1v1h-1zm0 .1h1v1h-1zm0 .2h1v1h-1zm0 .1h1v1h-1zm2.1 .5h1v1h-1zm-.3 .3h1v1h-1zm.1 0h1v1h-1zm.7 .1h1v1h-1zm.1 .2h1v1h-1zm.1 .5h1v1h-1zm.3 0h1v1h-1zm.5 .2h1v1h-1zm-.8 .1h1v1h-1zm.5 0h1v1h-1zm-.2 .2h1v1h-1zm.1 0h1v1h-1zm-.4 .1h1v1h-1zm.9 .2h1v1h-1zm-.6 .1h1v1h-1zm.1 .1h1v1h-1zm-1.6 1.6h1v1h-1zm-.9 .4h1v1h-1zm.8 0h1v1h-1zm-1.8 .5h1v1h-1zm.1 0h1v1h-1zm-12.4 .3h1v1h-1zm.2 0h1v1h-1zm13 0h1v1h-1zm-13.3 .1h1v1h-1zm13.4 0h1v1h-1zm-13.5 .1h1v1h-1z" fill="#1888e8"/><path d="M0 0m33.6 31h1v1h-1zm1.9 0h1v1h-1zm5.7 0h1v1h-1zm-8.8 .1h1v1h-1zm9.2 0h1v1h-1zm-8.8 .1h1v1h-1zm1.2 0h1v1h-1zm.2 0h1v1h-1zm.9 0h1v1h-1zm-2.9 .1h1v1h-1zm7 0h1v1h-1zm-5.9 .1h1v1h-1zm.2 0h1v1h-1zm2.4 0h1v1h-1zm.8 0h1v1h-1zm4 0h1v1h-1zm-.2 .1h1v1h-1zm.5 0h1v1h-1zm.3 0h1v1h-1zm-7.9 .1h1v1h-1zm1.9 .1h1v1h-1zm.2 0h1v1h-1zm6 0h1v1h-1zm-9.4 .1h1v1h-1zm.1 0h1v1h-1zm.8 0h1v1h-1zm.5 0h1v1h-1zm1.4 0h1v1h-1zm5.2 0h1v1h-1zm.3 0h1v1h-1zm-5 .1h1v1h-1zm.5 0h1v1h-1zm5.7 0h1v1h-1zm.1 0h1v1h-1zm-10.8 .1h1v1h-1zm3.6 0h1v1h-1zm1 0h1v1h-1zm8.9 0h1v1h-1zm-.3 .1h1v1h-1zm.3 0h1v1h-1zm-14.2 .1h1v1h-1zm.7 0h1v1h-1zm-.4 .1h1v1h-1zm13.8 .2h1v1h-1zm-14 .3h1v1h-1zm.6 0h1v1h-1zm-.9 .1h1v1h-1zm.8 0h1v1h-1zm-1.7 .2h1v1h-1zm0 0h1v1h-1zm.5 0h1v1h-1zm-.6 .2h1v1h-1zm17.6 .1h1v1h-1zm-17.3 .2h1v1h-1zm-.1 .1h1v1h-1zm17 0h1v1h-1zm.6 .1h1v1h-1zm-17.8 .1h1v1h-1zm.7 .5h1v1h-1zm-.5 .4h1v1h-1zm-.1 .4h1v1h-1zm20 0h1v1h-1zm-19.5 .2h1v1h-1zm20.1 0h1v1h-1zm-.3 .1h1v1h-1zm-.2 .4h1v1h-1zm2.3 2.1h1v1h-1zm.4 0h1v1h-1zm0 .1h1v1h-1zm-.5 .3h1v1h-1zm.4 .1h1v1h-1zm.1 0h1v1h-1zm-.8 .2h1v1h-1zm.6 0h1v1h-1zm.3 0h1v1h-1zm-22.4 .5h1v1h-1zm22.1 .1h1v1h-1zm-22.4 .1h1v1h-1zm22.5 .2h1v1h-1zm-22.4 .2h1v1h-1zm22.3 0h1v1h-1zm-.4 .1h1v1h-1zm-20.8 .1h1v1h-1zm.2 0h1v1h-1zm-.4 .1h1v1h-1zm21.3 .1h1v1h-1zm.3 .1h1v1h-1zm-21.3 .2h1v1h-1zm.2 0h1v1h-1zm0 .3h1v1h-1zm1.4 .3h1v1h-1zm.2 0h1v1h-1zm-.2 .7h1v1h-1zm.7 .2h1v1h-1zm1.6 .7h1v1h-1zm.4 .2h1v1h-1zm1.8 .1h1v1h-1zm12.2 0h1v1h-1zm-11.4 .1h1v1h-1zm-1.5 .2h1v1h-1zm1.4 0h1v1h-1zm11.4 0h1v1h-1zm-12.3 .1h1v1h-1zm.1 .1h1v1h-1zm-.4 .2h1v1h-1zm.9 0h1v1h-1zm-.2 .1h1v1h-1zm.3 .1h1v1h-1zm.3 0h1v1h-1zm10.8 0h1v1h-1zm-7.1 .1h1v1h-1zm3.1 0h1v1h-1zm-2.9 .1h1v1h-1zm.4 0h1v1h-1zm-.7 .1h1v1h-1zm1 0h1v1h-1zm2.2 0h1v1h-1zm.7 0h1v1h-1zm-2.9 .1h1v1h-1zm2.9 0h1v1h-1zm.7 .1h1v1h-1zm-.6 .1h1v1h-1zm-3.3 .2h1v1h-1zm2.7 0h1v1h-1zm.8 0h1v1h-1zm-3 .2h1v1h-1zm3.1 0h1v1h-1zm-20.6 33.2h1v1h-1zm.9 .1h1v1h-1zm-1.2 .1h1v1h-1zm.2 .6h1v1h-1zm6 .1h1v1h-1zm.2 0h1v1h-1zm1.4 .1h1v1h-1zm.4 0h1v1h-1zm-1.8 .3h1v1h-1zm1.2 .1h1v1h-1zm-.9 .1h1v1h-1zm-1.2 .1h1v1h-1zm.1 0h1v1h-1zm2.3 0h1v1h-1zm4.2 .3h1v1h-1zm1.2 .1h1v1h-1zm-1.5 .1h1v1h-1zm.8 0h1v1h-1zm-2.8 .1h1v1h-1zm-.3 .1h1v1h-1zm1.3 0h1v1h-1zm.6 0h1v1h-1zm0 .1h1v1h-1zm1.3 0h1v1h-1zm-1.3 .2h1v1h-1zm1 0h1v1h-1zm.8 0h1v1h-1zm-1.3 .2h1v1h-1zm1.2 0h1v1h-1zm-1.6 .1h1v1h-1zm.4 0h1v1h-1zm1.1 .1h1v1h-1zm.3 .2h1v1h-1zm.9 0h1v1h-1zm-.3 .1h1v1h-1zm.2 .1h1v1h-1zm.3 0h1v1h-1zm-.5 .2h1v1h-1zm.2 .1h1v1h-1zm-1.3 .1h1v1h-1zm.9 .1h1v1h-1zm-.7 .1h1v1h-1zm-.1 .1h1v1h-1zm.2 .3h1v1h-1zm-.4 .2h1v1h-1zm.6 0h1v1h-1zm.1 0h1v1h-1zm-.4 .1h1v1h-1zm-.3 .2h1v1h-1zm-.8 .1h1v1h-1zm-.1 .1h1v1h-1zm-.1 .8h1v1h-1zm-3.1 2.1h1v1h-1zm.6 .1h1v1h-1zm.3 0h1v1h-1zm-.5 .1h1v1h-1zm-.2 .3h1v1h-1zm.3 0h1v1h-1zm0 .3h1v1h-1zm-.7 .3h1v1h-1zm-13 .2h1v1h-1zm13 .2h1v1h-1zm-2.1 .5h1v1h-1zm0 .1h1v1h-1zm.1 .3h1v1h-1zm-.5 .1h1v1h-1zm-8.2 1.4h1v1h-1zm.7 .1h1v1h-1zm0 .3h1v1h-1zm-.2 .2h1v1h-1zm-.6 .2h1v1h-1zm.3 .1h1v1h-1z" fill="#1868e8"/><path d="M0 0m40.1 32.2h1v1h-1zm.5 0h1v1h-1zm1.2 0h1v1h-1zm.1 0h1v1h-1zm-1.8 .1h1v1h-1zm1.8 0h1v1h-1zm-.8 .3h1v1h-1zm-.6 .1h1v1h-1zm-.4 .1h1v1h-1zm1.4 .1h1v1h-1zm.4 0h1v1h-1zm-1.2 .1h1v1h-1zm-7.4 .3h1v1h-1zm.1 0h1v1h-1zm.2 0h1v1h-1zm-.1 .7h1v1h-1zm11.7 .1h1v1h-1zm-.1 .4h1v1h-1zm0 0h1v1h-1zm.2 0h1v1h-1zm.5 0h1v1h-1zm-.4 .2h1v1h-1zm.3 .1h1v1h-1zm.6 .2h1v1h-1zm.3 0h1v1h-1zm-14.7 .1h1v1h-1zm-.5 .1h1v1h-1zm.1 0h1v1h-1zm.4 0h1v1h-1zm14.4 0h1v1h-1zm-14.8 .1h1v1h-1zm-.5 .1h1v1h-1zm.7 .2h1v1h-1zm.1 .1h1v1h-1zm14.5 0h1v1h-1zm0 .1h1v1h-1zm-15.2 .1h1v1h-1zm15.8 .1h1v1h-1zm2 .2h1v1h-1zm-.8 .1h1v1h-1zm.8 .2h1v1h-1zm-.3 .4h1v1h-1zm1.2 .4h1v1h-1zm-.1 .2h1v1h-1zm.2 .1h1v1h-1zm-.9 .1h1v1h-1zm.2 0h1v1h-1zm-18.2 1.3h1v1h-1zm.3 .1h1v1h-1zm18.1 0h1v1h-1zm.5 0h1v1h-1zm-.4 .1h1v1h-1zm-18 .1h1v1h-1zm18.5 .2h1v1h-1zm-18.1 .1h1v1h-1zm-.9 .1h1v1h-1zm.3 0h1v1h-1zm0 .2h1v1h-1zm18.2 0h1v1h-1zm-.2 .1h1v1h-1zm.3 0h1v1h-1zm-.1 .4h1v1h-1zm.5 .4h1v1h-1zm-1 .1h1v1h-1zm.5 0h1v1h-1zm-.2 .1h1v1h-1zm-11.3 1.1h1v1h-1zm9.2 0h1v1h-1zm-9.9 .2h1v1h-1zm.6 .1h1v1h-1zm9.3 0h1v1h-1zm-9.7 .1h1v1h-1zm.3 0h1v1h-1zm9.8 0h1v1h-1zm.3 .1h1v1h-1zm-.3 .2h1v1h-1zm-18.4 37.2h1v1h-1zm.3 .2h1v1h-1zm.5 .5h1v1h-1zm0 .2h1v1h-1zm-.8 .1h1v1h-1zm.2 0h1v1h-1zm2.9 .1h1v1h-1zm.3 .1h1v1h-1zm-.4 .2h1v1h-1zm-.1 .2h1v1h-1zm.2 0h1v1h-1zm.1 0h1v1h-1zm.4 .4h1v1h-1zm1.5 .1h1v1h-1zm-.2 .1h1v1h-1zm-.1 .5h1v1h-1zm0 0h1v1h-1zm.5 0h1v1h-1zm.3 .2h1v1h-1zm-.8 .1h1v1h-1zm.2 .3h1v1h-1zm.5 0h1v1h-1zm.1 0h1v1h-1zm.1 0h1v1h-1zm-.7 .1h1v1h-1zm.3 0h1v1h-1zm-.1 .1h1v1h-1zm.1 .1h1v1h-1zm.2 .1h1v1h-1zm-.6 .1h1v1h-1zm.9 0h1v1h-1zm-.7 .2h1v1h-1zm-1 .1h1v1h-1zm-13.4 .1h1v1h-1zm13.9 0h1v1h-1zm.1 .4h1v1h-1zm-14.3 .1h1v1h-1zm13.6 0h1v1h-1zm.2 0h1v1h-1zm-13.4 .1h1v1h-1zm-.5 .1h1v1h-1zm13.9 0h1v1h-1zm-13.8 .1h1v1h-1zm0 .5h1v1h-1zm.3 .3h1v1h-1zm7 3.3h1v1h-1zm-.5 .2h1v1h-1zm.3 .6h1v1h-1z" fill="#18a8e8"/><path d="M0 0m31.2 32h1v1h-1zm.5 .2h1v1h-1zm.1 0h1v1h-1zm.6 0h1v1h-1zm-.2 .1h1v1h-1zm11.7 .1h1v1h-1zm-11.9 .1h1v1h-1zm.5 0h1v1h-1zm.1 .1h1v1h-1zm-.8 .2h1v1h-1zm-.7 .1h1v1h-1zm12.3 0h1v1h-1zm-12.4 .2h1v1h-1zm14.3 0h1v1h-1zm-.2 .1h1v1h-1zm.1 .1h1v1h-1zm-15.2 .7h1v1h-1zm.5 0h1v1h-1zm14.8 0h1v1h-1zm.5 0h1v1h-1zm2.1 0h1v1h-1zm-.9 .9h1v1h-1zm3.6 1.2h1v1h-1zm.1 0h1v1h-1zm-.5 .1h1v1h-1zm.2 .4h1v1h-1zm-.1 .3h1v1h-1zm-21.1 .1h1v1h-1zm.3 .1h1v1h-1zm-.2 .2h1v1h-1zm.6 .3h1v1h-1zm-.4 .4h1v1h-1zm.5 0h1v1h-1zm-.4 .1h1v1h-1zm-.5 .2h1v1h-1zm.9 .1h1v1h-1zm-.8 .2h1v1h-1zm.6 0h1v1h-1zm0 .2h1v1h-1zm.1 .1h1v1h-1zm20.8 2.3h1v1h-1zm0 .2h1v1h-1zm.1 0h1v1h-1zm-.4 .1h1v1h-1zm-1.4 .8h1v1h-1zm.7 .3h1v1h-1zm-.6 .3h1v1h-1zm-9.4 .1h1v1h-1zm-1.1 .3h1v1h-1zm1.2 0h1v1h-1zm-.7 .3h1v1h-1zm8 0h1v1h-1zm.8 .1h1v1h-1zm-8.5 .2h1v1h-1zm8 0h1v1h-1zm-18 35.2h1v1h-1zm-1 .1h1v1h-1zm-.3 .1h1v1h-1zm.3 .1h1v1h-1zm.8 0h1v1h-1zm.3 0h1v1h-1zm-6.5 .1h1v1h-1zm5.2 .1h1v1h-1zm-6.2 .1h1v1h-1zm6.6 0h1v1h-1zm-.4 .1h1v1h-1zm-5.6 .1h1v1h-1zm10.9 .2h1v1h-1zm-.5 .1h1v1h-1zm.3 .2h1v1h-1zm.1 0h1v1h-1zm3.3 1.2h1v1h-1zm-1.2 .1h1v1h-1zm-.2 .1h1v1h-1zm.4 .1h1v1h-1zm.5 0h1v1h-1zm-16.3 .2h1v1h-1zm16.8 .3h1v1h-1zm0 .2h1v1h-1zm-16.8 .1h1v1h-1zm.1 0h1v1h-1zm-.3 .1h1v1h-1zm16.7 0h1v1h-1zm-16.4 .1h1v1h-1zm16.1 0h1v1h-1zm0 0h1v1h-1zm-.5 1.1h1v1h-1zm.2 .3h1v1h-1zm-.5 .1h1v1h-1zm.5 .4h1v1h-1zm-1.7 .4h1v1h-1zm.4 .6h1v1h-1zm-2.7 1.5h1v1h-1zm-.7 .2h1v1h-1zm.1 .4h1v1h-1zm-2.9 1.1h1v1h-1zm.3 .4h1v1h-1zm.2 0h1v1h-1zm-.6 .2h1v1h-1zm-4.7 .4h1v1h-1zm2 0h1v1h-1zm-2.5 .2h1v1h-1zm.8 0h1v1h-1zm.3 0h1v1h-1zm.1 .2h1v1h-1zm.6 0h1v1h-1zm-.5 .1h1v1h-1zm.3 0h1v1h-1zm-1.2 .1h1v1h-1zm1.7 .1h1v1h-1zm-2 .1h1v1h-1zm2.3 .2h1v1h-1z" fill="#1878e8"/><path d="M0 0m36.5 32h1v1h-1zm6.3 0h1v1h-1zm-8.7 .1h1v1h-1zm.5 0h1v1h-1zm.9 0h1v1h-1zm0 0h1v1h-1zm6.6 0h1v1h-1zm-7.7 .1h1v1h-1zm4.7 .1h1v1h-1zm.7 0h1v1h-1zm-2.8 .1h1v1h-1zm1.3 0h1v1h-1zm-3.2 .1h1v1h-1zm.1 0h1v1h-1zm1.2 0h1v1h-1zm2.7 0h1v1h-1zm3.8 .1h1v1h-1zm-4.6 .1h1v1h-1zm1 0h1v1h-1zm3.3 0h1v1h-1zm-8.4 .1h1v1h-1zm4.6 0h1v1h-1zm3.3 0h1v1h-1zm-5.4 .1h1v1h-1zm-1 .1h1v1h-1zm3.3 0h1v1h-1zm.2 0h1v1h-1zm5.4 0h1v1h-1zm-11.9 .1h1v1h-1zm-.1 .1h1v1h-1zm.3 .1h1v1h-1zm0 .1h1v1h-1zm11.8 .1h1v1h-1zm-.7 .1h1v1h-1zm.1 0h1v1h-1zm-11.8 .1h1v1h-1zm12.4 .1h1v1h-1zm.1 0h1v1h-1zm0 0h1v1h-1zm-13.5 .4h1v1h-1zm.2 .2h1v1h-1zm.2 .1h1v1h-1zm-.3 .4h1v1h-1zm15.7 .3h1v1h-1zm.3 0h1v1h-1zm-.3 .2h1v1h-1zm.6 0h1v1h-1zm0 .1h1v1h-1zm-.6 .3h1v1h-1zm-16.4 .4h1v1h-1zm-.3 .2h1v1h-1zm-.2 .3h1v1h-1zm.2 .6h1v1h-1zm.3 0h1v1h-1zm.1 0h1v1h-1zm-.6 .3h1v1h-1zm.6 .3h1v1h-1zm-.1 .3h1v1h-1zm-.4 .8h1v1h-1zm.2 0h1v1h-1zm1.9 1.3h1v1h-1zm.1 .3h1v1h-1zm0 .1h1v1h-1zm.2 .1h1v1h-1zm1.6 .2h1v1h-1zm15.3 .1h1v1h-1zm-14.8 .1h1v1h-1zm14.4 0h1v1h-1zm-.1 .1h1v1h-1zm.6 0h1v1h-1zm-14.9 .2h1v1h-1zm15.1 .2h1v1h-1zm-.6 .1h1v1h-1zm-14.7 .1h1v1h-1zm15.4 0h1v1h-1zm-13.1 .2h1v1h-1zm0 .1h1v1h-1zm-.1 .3h1v1h-1zm-.4 .3h1v1h-1zm-.3 .2h1v1h-1zm-11.5 36.2h1v1h-1zm-.5 .1h1v1h-1zm1.1 0h1v1h-1zm.2 0h1v1h-1zm1.5 0h1v1h-1zm-1 .2h1v1h-1zm.3 0h1v1h-1zm-.5 .3h1v1h-1zm.5 .1h1v1h-1zm-.1 .1h1v1h-1zm5.3 0h1v1h-1zm-9.7 .2h1v1h-1zm9.9 0h1v1h-1zm-1.6 .1h1v1h-1zm.4 0h1v1h-1zm.1 0h1v1h-1zm.1 .1h1v1h-1zm.7 0h1v1h-1zm-1 .1h1v1h-1zm.9 .1h1v1h-1zm-10.2 .1h1v1h-1zm10.4 0h1v1h-1zm-9.9 .1h1v1h-1zm9 0h1v1h-1zm.3 0h1v1h-1zm.3 0h1v1h-1zm.5 .1h1v1h-1zm1.4 .4h1v1h-1zm-12.9 .2h1v1h-1zm.3 .2h1v1h-1zm0 .1h1v1h-1zm.4 .2h1v1h-1zm12.7 0h1v1h-1zm-13.6 1.2h1v1h-1zm-.2 .1h1v1h-1zm.2 .1h1v1h-1zm14.1 .9h1v1h-1zm.7 .2h1v1h-1zm-.6 .4h1v1h-1zm.6 .1h1v1h-1zm-2.4 .1h1v1h-1zm.7 0h1v1h-1zm-.9 .4h1v1h-1zm.6 .2h1v1h-1zm0 .1h1v1h-1zm-1.2 .2h1v1h-1zm.5 0h1v1h-1zm-.9 .2h1v1h-1zm.8 .1h1v1h-1zm-.6 .1h1v1h-1zm.3 0h1v1h-1zm0 .1h1v1h-1zm-.7 .5h1v1h-1zm.6 0h1v1h-1zm-1.3 .1h1v1h-1zm.1 0h1v1h-1zm.6 .2h1v1h-1zm-.1 .5h1v1h-1zm-.3 .1h1v1h-1zm-9.9 .1h1v1h-1zm.2 0h1v1h-1zm9.6 0h1v1h-1zm-.8 .1h1v1h-1zm.4 0h1v1h-1zm-9.3 .2h1v1h-1zm8.3 0h1v1h-1zm.4 0h1v1h-1zm-9.3 .3h1v1h-1zm8.9 .3h1v1h-1zm-1.6 .3h1v1h-1zm-5.9 .1h1v1h-1zm.3 .3h1v1h-1zm.2 .1h1v1h-1zm-.9 .1h1v1h-1zm6.6 .1h1v1h-1z" fill="#1898e8"/><path d="M0 0m48.1 34.5h1v1h-1zm.5 0h1v1h-1zm.3 0h1v1h-1zm-.5 .2h1v1h-1zm-20.2 2.4h1v1h-1zm.5 0h1v1h-1zm-.1 .2h1v1h-1zm21.8 4.7h1v1h-1zm-.2 .1h1v1h-1zm.2 .4h1v1h-1zm-3.7 1.9h1v1h-1zm.2 .1h1v1h-1zm0 .1h1v1h-1zm-3.4 .1h1v1h-1zm.1 0h1v1h-1zm0 0h1v1h-1zm3.2 .1h1v1h-1zm-.2 .2h1v1h-1zm-13.1 34h1v1h-1zm0 .1h1v1h-1zm-.2 .4h1v1h-1zm.1 .1h1v1h-1zm.5 .3h1v1h-1zm4.6 .3h1v1h-1zm-.3 .2h1v1h-1zm.1 .2h1v1h-1zm.4 .1h1v1h-1zm-.2 1.4h1v1h-1zm-.4 .3h1v1h-1zm.5 0h1v1h-1zm.1 .3h1v1h-1zm-12.4 7.3h1v1h-1zm0 .3h1v1h-1zm-.3 .5h1v1h-1z" fill="#1858e8"/><path d="M0 0m35 28.1h1v1h-1zm-1.4 .3h1v1h-1zm2 .4h1v1h-1zm1.1 0h1v1h-1zm-.6 .1h1v1h-1zm-2.5 .1h1v1h-1zm1.1 0h1v1h-1zm1.9 0h1v1h-1zm.4 0h1v1h-1zm.9 0h1v1h-1zm-4.3 .1h1v1h-1zm5.2 0h1v1h-1zm-4.9 .1h1v1h-1zm.8 0h1v1h-1zm.6 0h1v1h-1zm-3.8 .2h1v1h-1zm1.6 0h1v1h-1zm1.3 0h1v1h-1zm.8 0h1v1h-1zm-4.1 .2h1v1h-1zm1.4 0h1v1h-1zm1.1 0h1v1h-1zm.7 0h1v1h-1zm2.7 0h1v1h-1zm.9 0h1v1h-1zm.1 0h1v1h-1zm-1.9 .1h1v1h-1zm2.8 .1h1v1h-1zm-6.5 .1h1v1h-1zm.7 0h1v1h-1zm3.3 0h1v1h-1zm-1.2 .1h1v1h-1zm-6.2 .1h1v1h-1zm1.3 0h1v1h-1zm10.5 0h1v1h-1zm-11.7 .1h1v1h-1zm1.2 0h1v1h-1zm1.6 0h1v1h-1zm1.1 0h1v1h-1zm.5 0h1v1h-1zm2.6 0h1v1h-1zm.2 0h1v1h-1zm5 0h1v1h-1zm-8.9 .1h1v1h-1zm9.4 0h1v1h-1zm-13.5 .1h1v1h-1zm0 0h1v1h-1zm8.6 0h1v1h-1zm-7.9 .1h1v1h-1zm7.2 0h1v1h-1zm4 0h1v1h-1zm-6.6 .1h1v1h-1zm6.3 0h1v1h-1zm-10 .1h1v1h-1zm3.3 0h1v1h-1zm8.6 0h1v1h-1zm-8.5 .1h1v1h-1zm6.6 0h1v1h-1zm1.1 0h1v1h-1zm-11.4 .1h1v1h-1zm4.2 0h1v1h-1zm1.5 0h1v1h-1zm.9 0h1v1h-1zm3.9 0h1v1h-1zm-.5 .1h1v1h-1zm-10.4 .1h1v1h-1zm15.2 0h1v1h-1zm.8 0h1v1h-1zm1.3 0h1v1h-1zm-20.1 .1h1v1h-1zm.4 0h1v1h-1zm19.3 0h1v1h-1zm-17.8 .1h1v1h-1zm-1.7 .1h1v1h-1zm1.9 0h1v1h-1zm-.4 .2h1v1h-1zm16.3 0h1v1h-1zm1.4 0h1v1h-1zm-19.1 .1h1v1h-1zm2.9 0h1v1h-1zm1.1 0h1v1h-1zm12.8 0h1v1h-1zm-15 .1h1v1h-1zm16.2 0h1v1h-1zm0 0h1v1h-1zm-18.2 .1h1v1h-1zm4.5 0h1v1h-1zm15.4 0h1v1h-1zm-18.7 .1h1v1h-1zm1.2 0h1v1h-1zm-1.7 .1h1v1h-1zm19.3 0h1v1h-1zm.9 .1h1v1h-1zm.9 .5h1v1h-1zm-20 .1h1v1h-1zm19.2 0h1v1h-1zm.8 0h1v1h-1zm-22.1 .1h1v1h-1zm2.7 0h1v1h-1zm18.7 0h1v1h-1zm1.7 .2h1v1h-1zm-22.1 .1h1v1h-1zm21.1 0h1v1h-1zm-21.9 .4h1v1h-1zm22.9 0h1v1h-1zm1.5 0h1v1h-1zm0 0h1v1h-1zm-24 .1h1v1h-1zm23.1 0h1v1h-1zm-22 .1h1v1h-1zm21.7 0h1v1h-1zm0 0h1v1h-1zm-23.3 .1h1v1h-1zm1.5 .1h1v1h-1zm21.4 0h1v1h-1zm.1 0h1v1h-1zm1.1 0h1v1h-1zm-23.5 .1h1v1h-1zm24.5 0h1v1h-1zm-24.1 .1h1v1h-1zm-.5 .1h1v1h-1zm1.2 .3h1v1h-1zm22.7 .2h1v1h-1zm.7 0h1v1h-1zm-2.1 .1h1v1h-1zm-22 .1h1v1h-1zm24 0h1v1h-1zm.4 0h1v1h-1zm-24.9 .1h1v1h-1zm25.1 .1h1v1h-1zm-25.8 .1h1v1h-1zm26.7 0h1v1h-1zm-26.1 .1h1v1h-1zm26 .1h1v1h-1zm-25.1 .2h1v1h-1zm24.4 .2h1v1h-1zm.3 0h1v1h-1zm.2 .2h1v1h-1zm.2 .1h1v1h-1zm-.1 .1h1v1h-1zm1 0h1v1h-1zm-27.1 .3h1v1h-1zm1 0h1v1h-1zm.2 0h1v1h-1zm24.7 0h1v1h-1zm.8 0h1v1h-1zm-.2 .1h1v1h-1zm-26.6 .1h1v1h-1zm.2 0h1v1h-1zm.8 .2h1v1h-1zm25 .1h1v1h-1zm-24.4 .1h1v1h-1zm24.2 0h1v1h-1zm2.4 0h1v1h-1zm.1 0h1v1h-1zm-27.7 .1h1v1h-1zm.9 .1h1v1h-1zm25 .1h1v1h-1zm-24.9 .1h1v1h-1zm25.5 .1h1v1h-1zm.2 .3h1v1h-1zm-27.2 .1h1v1h-1zm1.4 .1h1v1h-1zm-1.9 .3h1v1h-1zm1.9 .1h1v1h-1zm25.2 0h1v1h-1zm1.6 0h1v1h-1zm-1 .1h1v1h-1zm1.2 0h1v1h-1zm-1.9 .2h1v1h-1zm.5 0h1v1h-1zm-27.2 .1h1v1h-1zm28.1 .1h1v1h-1zm-25.8 .3h1v1h-1zm25.5 .1h1v1h-1zm-25.3 .1h1v1h-1zm.1 0h1v1h-1zm-.6 .1h1v1h-1zm26.4 0h1v1h-1zm-1.2 .2h1v1h-1zm-.1 .1h1v1h-1zm1.8 0h1v1h-1zm-2.2 .2h1v1h-1zm-23.1 .1h1v1h-1zm23.6 0h1v1h-1zm1.7 0h1v1h-1zm.2 0h1v1h-1zm-25.5 .1h1v1h-1zm-.2 .1h1v1h-1zm22.7 .2h1v1h-1zm-23.2 .1h1v1h-1zm.1 0h1v1h-1zm23.9 0h1v1h-1zm.6 0h1v1h-1zm1.6 0h1v1h-1zm-3.2 .1h1v1h-1zm2 0h1v1h-1zm-23.2 .4h1v1h-1zm-.3 .1h1v1h-1zm22.6 0h1v1h-1zm.3 0h1v1h-1zm.7 0h1v1h-1zm-2.2 .1h1v1h-1zm.2 .1h1v1h-1zm2.6 .2h1v1h-1zm-2.8 .1h1v1h-1zm2.5 0h1v1h-1zm-3.1 .1h1v1h-1zm.9 0h1v1h-1zm1.2 0h1v1h-1zm1 0h1v1h-1zm-22.9 .1h1v1h-1zm.9 0h1v1h-1zm18.6 0h1v1h-1zm2.2 0h1v1h-1zm-21.4 .1h1v1h-1zm.3 0h1v1h-1zm21.7 .1h1v1h-1zm.1 0h1v1h-1zm-23.5 .1h1v1h-1zm23.3 0h1v1h-1zm-.6 .1h1v1h-1zm-1.5 .2h1v1h-1zm-19.6 .1h1v1h-1zm20 .1h1v1h-1zm-19.1 .1h1v1h-1zm.9 0h1v1h-1zm17.7 0h1v1h-1zm-18.8 .3h1v1h-1zm1 0h1v1h-1zm-.8 .1h1v1h-1zm19 0h1v1h-1zm-.9 .1h1v1h-1zm-19.1 .3h1v1h-1zm1.4 .1h1v1h-1zm17.5 .2h1v1h-1zm-14.5 .1h1v1h-1zm0 0h1v1h-1zm1.3 0h1v1h-1zm1.8 0h1v1h-1zm0 0h1v1h-1zm9.8 0h1v1h-1zm-15.1 .1h1v1h-1zm.5 0h1v1h-1zm2.1 0h1v1h-1zm.3 .1h1v1h-1zm-2.3 .1h1v1h-1zm1.1 0h1v1h-1zm1.2 0h1v1h-1zm11.7 0h1v1h-1zm.8 0h1v1h-1zm-13.5 .1h1v1h-1zm2.2 .1h1v1h-1zm.1 0h1v1h-1zm10.5 0h1v1h-1zm-14.6 .1h1v1h-1zm13.7 .1h1v1h-1zm-3.2 .1h1v1h-1zm-5.1 .1h1v1h-1zm.6 0h1v1h-1zm1.1 0h1v1h-1zm2.1 0h1v1h-1zm2.8 0h1v1h-1zm-5.5 .1h1v1h-1zm3.1 0h1v1h-1zm1.1 0h1v1h-1zm1.4 0h1v1h-1zm1.2 0h1v1h-1zm-6.5 .1h1v1h-1zm2.4 0h1v1h-1zm1.7 0h1v1h-1zm-5.2 .1h1v1h-1zm.8 .1h1v1h-1zm1.2 0h1v1h-1zm3.8 0h1v1h-1zm1.6 0h1v1h-1zm.3 0h1v1h-1zm1.1 0h1v1h-1zm-7 .1h1v1h-1zm.4 0h1v1h-1zm-.7 .1h1v1h-1zm4.9 0h1v1h-1zm-5.2 .2h1v1h-1zm6.1 0h1v1h-1zm-7.4 .1h1v1h-1zm2.2 0h1v1h-1zm0 0h1v1h-1zm2.9 0h1v1h-1zm1.9 0h1v1h-1zm-6.5 .1h1v1h-1zm2.9 0h1v1h-1zm-2.1 .3h1v1h-1zm-.7 .1h1v1h-1zm3.1 .2h1v1h-1zm1.9 0h1v1h-1zm-2.4 .1h1v1h-1zm.9 .1h1v1h-1zm-2.2 .1h1v1h-1zm-17.6 14.1h1v1h-1zm.7 .1h1v1h-1zm-2.7 .1h1v1h-1zm.9 .1h1v1h-1zm1.8 0h1v1h-1zm-1.9 .1h1v1h-1zm5.7 .1h1v1h-1zm.1 0h1v1h-1zm-5.6 .1h1v1h-1zm5 0h1v1h-1zm.4 0h1v1h-1zm-6 .1h1v1h-1zm.9 .2h1v1h-1zm-1.7 .2h1v1h-1zm-.3 .1h1v1h-1zm0 0h1v1h-1zm1.2 .5h1v1h-1zm-1.6 .1h1v1h-1zm2.6 0h1v1h-1zm-2.1 .4h1v1h-1zm.6 0h1v1h-1zm-.4 .4h1v1h-1zm-.2 .1h1v1h-1zm.7 0h1v1h-1zm-.6 .1h1v1h-1zm4.9 12.1h1v1h-1zm-2.1 .1h1v1h-1zm2.2 .1h1v1h-1zm10.6 0h1v1h-1zm.1 .1h1v1h-1zm2.2 0h1v1h-1zm-15.2 .1h1v1h-1zm1 0h1v1h-1zm12 0h1v1h-1zm-12.7 .1h1v1h-1zm17 0h1v1h-1zm-15.2 .1h1v1h-1zm.9 0h1v1h-1zm10.4 0h1v1h-1zm2.5 0h1v1h-1zm-13.2 .1h1v1h-1zm12.1 0h1v1h-1zm-12.7 .1h1v1h-1zm12.8 0h1v1h-1zm.5 0h1v1h-1zm-12.3 .1h1v1h-1zm7.9 .1h1v1h-1zm3.7 0h1v1h-1zm2.2 0h1v1h-1zm2.2 0h1v1h-1zm5.4 0h1v1h-1zm2.2 0h1v1h-1zm11.2 0h1v1h-1zm.5 0h1v1h-1zm-26 .1h1v1h-1zm-4.9 .1h1v1h-1zm9.2 0h1v1h-1zm2.3 0h1v1h-1zm1.3 0h1v1h-1zm4.2 0h1v1h-1zm-23.9 .1h1v1h-1zm6.8 0h1v1h-1zm12.4 0h1v1h-1zm2.7 0h1v1h-1zm15.5 0h1v1h-1zm-39.8 .1h1v1h-1zm1.3 0h1v1h-1zm1.3 0h1v1h-1zm1.3 0h1v1h-1zm5.7 0h1v1h-1zm.9 0h1v1h-1zm1.8 0h1v1h-1zm3.3 0h1v1h-1zm3 0h1v1h-1zm.6 0h1v1h-1zm6.3 0h1v1h-1zm.3 0h1v1h-1zm1.8 0h1v1h-1zm13.6 0h1v1h-1zm-40.6 .1h1v1h-1zm1.5 0h1v1h-1zm5.6 0h1v1h-1zm12.6 0h1v1h-1zm20.4 0h1v1h-1zm-40.8 .1h1v1h-1zm1.8 0h1v1h-1zm3.1 0h1v1h-1zm4.6 0h1v1h-1zm2.9 0h1v1h-1zm1.5 0h1v1h-1zm1.2 0h1v1h-1zm-14.3 .1h1v1h-1zm1.2 0h1v1h-1zm1.3 0h1v1h-1zm5 0h1v1h-1zm.6 0h1v1h-1zm6.4 0h1v1h-1zm.7 0h1v1h-1zm1.5 0h1v1h-1zm7 0h1v1h-1zm14.9 0h1v1h-1zm-36.5 .1h1v1h-1zm1.7 0h1v1h-1zm3.1 0h1v1h-1zm20.9 0h1v1h-1zm12.4 0h1v1h-1zm-40.6 .1h1v1h-1zm2.1 0h1v1h-1zm.8 0h1v1h-1zm1.8 0h1v1h-1zm1.8 0h1v1h-1zm2.6 0h1v1h-1zm.9 0h1v1h-1zm3.1 0h1v1h-1zm3.3 0h1v1h-1zm1.5 0h1v1h-1zm.5 0h1v1h-1zm.4 0h1v1h-1zm21.3 0h1v1h-1zm-39.1 .1h1v1h-1zm.3 0h1v1h-1zm4.1 0h1v1h-1zm9.1 0h1v1h-1zm6.5 0h1v1h-1zm.6 0h1v1h-1zm5.5 0h1v1h-1zm-20.2 .1h1v1h-1zm1.7 0h1v1h-1zm.3 0h1v1h-1zm.3 0h1v1h-1zm1.4 0h1v1h-1zm6.5 0h1v1h-1zm9.6 0h1v1h-1zm13.3 0h1v1h-1zm-30.9 .1h1v1h-1zm.4 0h1v1h-1zm5.4 0h1v1h-1zm.6 0h1v1h-1zm10.1 0h1v1h-1zm-8.7 .1h1v1h-1zm9.9 0h1v1h-1zm1.5 0h1v1h-1zm.3 0h1v1h-1zm-29.1 .1h1v1h-1zm16.1 0h1v1h-1zm1.6 0h1v1h-1zm7.4 0h1v1h-1zm1.7 0h1v1h-1zm.2 0h1v1h-1zm1.3 0h1v1h-1zm12.4 0h1v1h-1zm.8 0h1v1h-1zm-35 .1h1v1h-1zm9.9 0h1v1h-1zm.6 0h1v1h-1zm1.5 0h1v1h-1zm7.9 0h1v1h-1zm.5 0h1v1h-1zm1.6 0h1v1h-1zm11.2 0h1v1h-1zm.1 0h1v1h-1zm.3 0h1v1h-1zm-30.2 .1h1v1h-1zm1.1 0h1v1h-1zm4.8 0h1v1h-1zm2.5 0h1v1h-1zm2.7 0h1v1h-1zm4 0h1v1h-1zm.2 0h1v1h-1zm14.1 0h1v1h-1zm-32.5 .1h1v1h-1zm11.3 0h1v1h-1zm1.2 0h1v1h-1zm2.8 0h1v1h-1zm4.1 0h1v1h-1zm15.1 0h1v1h-1zm-41 .1h1v1h-1zm.1 0h1v1h-1zm10.6 0h1v1h-1zm6.7 0h1v1h-1zm3.1 0h1v1h-1zm1.2 0h1v1h-1zm3 0h1v1h-1zm3.1 0h1v1h-1zm-27.9 .1h1v1h-1zm15.6 0h1v1h-1zm1.2 0h1v1h-1zm5.3 0h1v1h-1zm2.7 0h1v1h-1zm4.3 0h1v1h-1zm.3 0h1v1h-1zm-23.7 .1h1v1h-1zm6.3 0h1v1h-1zm5.7 0h1v1h-1zm1.8 0h1v1h-1zm11.2 0h1v1h-1zm8.1 0h1v1h-1zm-41.3 .1h1v1h-1zm16.4 0h1v1h-1zm4.9 0h1v1h-1zm3.2 0h1v1h-1zm2.9 0h1v1h-1zm.2 0h1v1h-1zm2.3 0h1v1h-1zm.6 0h1v1h-1zm.4 0h1v1h-1zm-30 .1h1v1h-1zm19.8 0h1v1h-1zm8.6 0h1v1h-1zm-12.6 .1h1v1h-1zm1.2 0h1v1h-1zm2.8 0h1v1h-1zm.9 0h1v1h-1zm12 0h1v1h-1zm-17.9 .1h1v1h-1zm2.6 0h1v1h-1zm.5 0h1v1h-1zm4.1 0h1v1h-1zm.4 0h1v1h-1zm7.8 0h1v1h-1zm-14.4 .1h1v1h-1zm5.2 0h1v1h-1zm9.1 0h1v1h-1zm-13.1 .1h1v1h-1zm5.1 0h1v1h-1zm6.5 0h1v1h-1zm-27.8 .1h1v1h-1zm13.8 0h1v1h-1zm5.5 0h1v1h-1zm0 0h1v1h-1zm5.4 0h1v1h-1zm1.8 0h1v1h-1zm3.1 0h1v1h-1zm1.4 0h1v1h-1zm-32.7 .1h1v1h-1zm15.2 0h1v1h-1zm.1 0h1v1h-1zm.9 0h1v1h-1zm7.7 0h1v1h-1zm.5 0h1v1h-1zm0 0h1v1h-1zm.5 0h1v1h-1zm2.2 0h1v1h-1zm-7.7 .1h1v1h-1zm2 0h1v1h-1zm1.9 0h1v1h-1zm2.7 0h1v1h-1zm1 0h1v1h-1zm-12.1 .1h1v1h-1zm.3 0h1v1h-1zm7.7 0h1v1h-1zm3.8 0h1v1h-1zm1.2 0h1v1h-1zm1.4 0h1v1h-1zm2.5 0h1v1h-1zm.3 0h1v1h-1zm.7 0h1v1h-1zm-7.8 .2h1v1h-1zm.3 0h1v1h-1zm5.4 0h1v1h-1zm-8 .1h1v1h-1zm3.7 0h1v1h-1zm6.3 0h1v1h-1zm-9.9 .1h1v1h-1zm1.2 0h1v1h-1zm.1 0h1v1h-1zm1 0h1v1h-1zm2.9 0h1v1h-1zm1.1 0h1v1h-1zm.8 0h1v1h-1zm.9 0h1v1h-1zm-10.6 .1h1v1h-1zm1.7 0h1v1h-1zm.3 0h1v1h-1zm7.5 0h1v1h-1zm1.9 0h1v1h-1zm-11.3 .1h1v1h-1zm2.6 0h1v1h-1zm0 0h1v1h-1zm1.9 0h1v1h-1zm1.8 0h1v1h-1zm-6.4 .1h1v1h-1zm1.4 0h1v1h-1zm3.8 0h1v1h-1zm1.7 0h1v1h-1zm.3 0h1v1h-1zm4.2 0h1v1h-1zm1.9 0h1v1h-1zm.1 0h1v1h-1zm-11.4 .1h1v1h-1zm5.2 0h1v1h-1zm2.9 0h1v1h-1zm3.2 0h1v1h-1zm-7 .1h1v1h-1zm3.4 0h1v1h-1zm-5.4 .1h1v1h-1zm4.4 0h1v1h-1zm.3 0h1v1h-1zm1 0h1v1h-1zm1.9 0h1v1h-1zm-11.8 .1h1v1h-1zm3.2 0h1v1h-1zm3 0h1v1h-1zm3.5 0h1v1h-1zm1.4 0h1v1h-1zm.8 0h1v1h-1zm1.2 0h1v1h-1zm-7.2 .1h1v1h-1zm.2 0h1v1h-1zm.6 0h1v1h-1zm3.7 0h1v1h-1zm1 0h1v1h-1zm.4 0h1v1h-1zm-8.9 .1h1v1h-1zm3.9 0h1v1h-1zm1.3 0h1v1h-1zm.2 0h1v1h-1zm.1 .1h1v1h-1zm3.3 0h1v1h-1zm-10.4 .1h1v1h-1zm.5 0h1v1h-1zm.3 0h1v1h-1zm1 0h1v1h-1zm2.3 0h1v1h-1zm.4 0h1v1h-1zm5.7 0h1v1h-1zm.4 0h1v1h-1zm-32.8 .1h1v1h-1zm0 0h1v1h-1zm24.1 0h1v1h-1zm3.1 0h1v1h-1zm6 0h1v1h-1zm-12.1 .1h1v1h-1zm.1 0h1v1h-1zm.7 0h1v1h-1zm5.2 0h1v1h-1zm-4.7 .1h1v1h-1zm.4 0h1v1h-1zm2.4 0h1v1h-1zm8.9 0h1v1h-1zm.1 0h1v1h-1zm-13.5 .1h1v1h-1zm7.7 0h1v1h-1zm4.3 0h1v1h-1zm-32.5 .1h1v1h-1zm20.3 0h1v1h-1zm8.4 0h1v1h-1zm-1.7 .1h1v1h-1zm-1.6 .1h1v1h-1zm1.9 0h1v1h-1zm3.8 0h1v1h-1zm-10.9 .1h1v1h-1zm1.1 0h1v1h-1zm.8 0h1v1h-1zm4.9 0h1v1h-1zm1.4 0h1v1h-1zm-1.6 .1h1v1h-1zm5.2 0h1v1h-1zm-11.6 .1h1v1h-1zm.2 0h1v1h-1zm0 0h1v1h-1zm.9 0h1v1h-1zm2.1 0h1v1h-1zm2.9 0h1v1h-1zm2.4 .1h1v1h-1zm.1 0h1v1h-1zm-8 .1h1v1h-1zm.1 0h1v1h-1zm7.2 0h1v1h-1zm2.9 0h1v1h-1zm.4 0h1v1h-1zm-9.8 .1h1v1h-1zm6.1 0h1v1h-1zm1.2 0h1v1h-1zm-5.2 .1h1v1h-1zm.5 0h1v1h-1zm1.2 0h1v1h-1zm2.2 0h1v1h-1zm3 0h1v1h-1zm1.1 0h1v1h-1zm1.2 0h1v1h-1zm-14.4 .1h1v1h-1zm9.4 0h1v1h-1zm.2 0h1v1h-1zm-8.1 .2h1v1h-1zm2.3 0h1v1h-1zm4.4 0h1v1h-1zm-7.4 .1h1v1h-1zm10.5 0h1v1h-1zm-7.7 .1h1v1h-1zm6 .2h1v1h-1zm-7.9 .2h1v1h-1zm.5 0h1v1h-1zm4.6 0h1v1h-1zm3.3 0h1v1h-1zm-9.9 .1h1v1h-1zm.9 0h1v1h-1zm.5 0h1v1h-1zm5.3 0h1v1h-1zm.6 0h1v1h-1zm-5.1 .1h1v1h-1zm.8 .1h1v1h-1zm-1.7 .1h1v1h-1zm-2.7 .1h1v1h-1zm3.8 .1h1v1h-1zm-.1 .1h1v1h-1zm.4 0h1v1h-1zm.7 0h1v1h-1zm-3.5 .1h1v1h-1zm4.1 .1h1v1h-1zm-5.1 .1h1v1h-1zm5.2 0h1v1h-1zm-2.3 .1h1v1h-1zm.1 0h1v1h-1zm-2 .1h1v1h-1zm-1.1 .1h1v1h-1zm2.4 0h1v1h-1zm-1 .1h1v1h-1zm0 .1h1v1h-1zm.1 0h1v1h-1zm1.3 0h1v1h-1zm1 0h1v1h-1zm.3 0h1v1h-1zm-2.7 .1h1v1h-1zm1.5 0h1v1h-1zm-2.9 .1h1v1h-1zm.6 .1h1v1h-1zm1.6 0h1v1h-1zm1.2 0h1v1h-1zm-3.2 .1h1v1h-1zm-.7 .2h1v1h-1zm3.8 0h1v1h-1zm-4.7 .1h1v1h-1zm1.7 0h1v1h-1zm-.3 .1h1v1h-1zm.8 .1h1v1h-1zm-1.3 .3h1v1h-1zm.8 0h1v1h-1zm-.3 .3h1v1h-1zm-2.1 .1h1v1h-1zm2.7 .1h1v1h-1zm-.9 .1h1v1h-1zm-1.2 .1h1v1h-1zm-1.9 .1h1v1h-1zm4.7 0h1v1h-1zm-.5 .1h1v1h-1zm-3.9 .1h1v1h-1zm.1 0h1v1h-1zm1.5 0h1v1h-1zm1.4 0h1v1h-1zm.4 0h1v1h-1zm.7 0h1v1h-1zm-1.6 .1h1v1h-1zm-2.6 .1h1v1h-1zm2.2 0h1v1h-1zm.1 0h1v1h-1zm.1 0h1v1h-1zm-3.5 .4h1v1h-1zm.9 0h1v1h-1zm-14.4 .1h1v1h-1zm.2 0h1v1h-1zm13.8 0h1v1h-1zm0 .1h1v1h-1zm1.4 0h1v1h-1zm0 .1h1v1h-1zm.5 0h1v1h-1zm-15.7 .1h1v1h-1zm14.3 0h1v1h-1zm.3 0h1v1h-1zm1.1 0h1v1h-1zm-2.2 .1h1v1h-1zm-13.6 .1h1v1h-1zm13.4 .2h1v1h-1zm-3.2 .2h1v1h-1zm2.2 0h1v1h-1zm-1.8 .1h1v1h-1zm1.2 0h1v1h-1zm.5 0h1v1h-1zm0 .1h1v1h-1zm.4 0h1v1h-1zm.3 0h1v1h-1zm-.3 .3h1v1h-1zm-4.6 .5h1v1h-1zm.9 0h1v1h-1zm1.1 .2h1v1h-1zm-1.9 .1h1v1h-1zm-1 .4h1v1h-1zm1.2 0h1v1h-1zm-.7 .1h1v1h-1zm-4 .1h1v1h-1zm-1.5 .1h1v1h-1zm.3 0h1v1h-1zm3.4 .2h1v1h-1zm-2.1 .1h1v1h-1zm3.4 0h1v1h-1zm-1.3 .1h1v1h-1zm-1.6 .2h1v1h-1zm-1.1 .2h1v1h-1zm1.9 .1h1v1h-1z" fill="#2848e8"/><path d="M0 0m43.4 33.1h1v1h-1zm.2 .5h1v1h-1zm0 0h1v1h-1zm-.4 .1h1v1h-1zm.3 .1h1v1h-1zm.2 0h1v1h-1zm-.4 .1h1v1h-1zm0 0h1v1h-1zm.1 0h1v1h-1zm.2 0h1v1h-1zm-11.4 .1h1v1h-1zm.8 .3h1v1h-1zm0 0h1v1h-1zm-.7 .3h1v1h-1zm.5 .3h1v1h-1zm-.3 .1h1v1h-1zm15.2 1h1v1h-1zm-.4 .1h1v1h-1zm.1 .1h1v1h-1zm.5 .1h1v1h-1zm0 .1h1v1h-1zm0 .1h1v1h-1zm-.8 .1h1v1h-1zm0 0h1v1h-1zm.1 .2h1v1h-1zm0 .1h1v1h-1zm.4 0h1v1h-1zm.2 0h1v1h-1zm1.5 1.2h1v1h-1zm.4 .1h1v1h-1zm0 .2h1v1h-1zm-.6 .2h1v1h-1zm.3 .1h1v1h-1zm0 .2h1v1h-1zm-.1 .1h1v1h-1zm-1.1 2.1h1v1h-1zm-.2 .4h1v1h-1zm.3 0h1v1h-1zm.2 .2h1v1h-1zm.2 0h1v1h-1zm.1 0h1v1h-1zm-2.1 .4h1v1h-1zm-8.6 .1h1v1h-1zm.3 0h1v1h-1zm.3 .1h1v1h-1zm8.1 0h1v1h-1zm-8.2 .1h1v1h-1zm8.1 0h1v1h-1zm.2 .3h1v1h-1zm.1 .1h1v1h-1zm-8.1 .1h1v1h-1zm-.3 .1h1v1h-1zm-9.8 37.4h1v1h-1zm-.7 .1h1v1h-1zm.7 .1h1v1h-1zm-.4 .1h1v1h-1zm-.1 .1h1v1h-1zm3.1 .4h1v1h-1zm.1 0h1v1h-1zm0 .1h1v1h-1zm.4 .1h1v1h-1zm-.8 .2h1v1h-1z" fill="#18a8d8"/><path d="M0 0m35.9 33h1v1h-1zm-.2 .2h1v1h-1zm-1.5 .2h1v1h-1zm.5 .1h1v1h-1zm.4 0h1v1h-1zm-.4 .1h1v1h-1zm.9 0h1v1h-1zm-1.3 .1h1v1h-1zm.2 .1h1v1h-1zm.6 0h1v1h-1zm.5 0h1v1h-1zm.1 0h1v1h-1zm-1.4 .1h1v1h-1zm1.1 0h1v1h-1zm9.1 .2h1v1h-1zm.1 .2h1v1h-1zm-.5 .1h1v1h-1zm.4 0h1v1h-1zm-.2 .1h1v1h-1zm.5 .1h1v1h-1zm0 .2h1v1h-1zm-13.1 1.2h1v1h-1zm-.3 .1h1v1h-1zm-.2 .2h1v1h-1zm.5 0h1v1h-1zm-.5 .1h1v1h-1zm.6 0h1v1h-1zm-.3 .2h1v1h-1zm-.2 .1h1v1h-1zm.2 0h1v1h-1zm.5 0h1v1h-1zm-.1 .2h1v1h-1zm16.9 .1h1v1h-1zm-17.4 .1h1v1h-1zm16.9 0h1v1h-1zm.1 0h1v1h-1zm.2 0h1v1h-1zm-17.5 .1h1v1h-1zm.5 0h1v1h-1zm16.7 0h1v1h-1zm-16.5 .1h1v1h-1zm16.4 .2h1v1h-1zm.1 0h1v1h-1zm0 0h1v1h-1zm-17 .1h1v1h-1zm16.8 0h1v1h-1zm-16.6 .1h1v1h-1zm17.1 0h1v1h-1zm-17 .1h1v1h-1zm.3 0h1v1h-1zm16.3 0h1v1h-1zm.3 .1h1v1h-1zm.4 0h1v1h-1zm-17.7 .1h1v1h-1zm.2 0h1v1h-1zm17.2 0h1v1h-1zm.4 0h1v1h-1zm-17.7 .1h1v1h-1zm0 .4h1v1h-1zm0 .1h1v1h-1zm.6 0h1v1h-1zm-.4 .2h1v1h-1zm-.4 .1h1v1h-1zm.5 0h1v1h-1zm.2 0h1v1h-1zm-.7 .1h1v1h-1zm1.3 .3h1v1h-1zm-.4 .4h1v1h-1zm.3 0h1v1h-1zm.5 0h1v1h-1zm-.4 .1h1v1h-1zm.9 .3h1v1h-1zm.3 0h1v1h-1zm.3 .2h1v1h-1zm-.6 .1h1v1h-1zm0 0h1v1h-1zm0 .4h1v1h-1zm.3 0h1v1h-1zm1.9 .2h1v1h-1zm-.4 .2h1v1h-1zm.2 0h1v1h-1zm.1 .5h1v1h-1zm.1 0h1v1h-1zm.2 .1h1v1h-1zm.3 0h1v1h-1zm-1 .2h1v1h-1zm7.1 0h1v1h-1zm-3 .1h1v1h-1zm.7 0h1v1h-1zm.5 0h1v1h-1zm1.3 0h1v1h-1zm.9 0h1v1h-1zm-2.3 .1h1v1h-1zm.1 0h1v1h-1zm4.1 0h1v1h-1zm.2 0h1v1h-1zm-2.8 .1h1v1h-1zm.6 0h1v1h-1zm2.6 0h1v1h-1zm.1 0h1v1h-1zm-4.8 .1h1v1h-1zm.6 0h1v1h-1zm.1 0h1v1h-1zm-1.9 .1h1v1h-1zm1.5 0h1v1h-1zm3.7 0h1v1h-1zm1.2 0h1v1h-1zm-6 .1h1v1h-1zm1.5 0h1v1h-1zm1 0h1v1h-1zm1.8 0h1v1h-1zm1.9 0h1v1h-1zm-5.1 .1h1v1h-1zm2.8 0h1v1h-1zm2 0h1v1h-1zm-3.7 .1h1v1h-1zm1.6 0h1v1h-1zm.6 0h1v1h-1zm1.7 0h1v1h-1zm-5.9 .2h1v1h-1zm0 0h1v1h-1zm3.6 0h1v1h-1zm-20.9 37.1h1v1h-1zm.5 0h1v1h-1zm-.7 .1h1v1h-1zm.1 .1h1v1h-1zm5.2 .1h1v1h-1zm-5.1 .1h1v1h-1zm4.8 0h1v1h-1zm.5 0h1v1h-1zm-5 .1h1v1h-1zm-.1 .1h1v1h-1zm0 0h1v1h-1zm4.7 0h1v1h-1zm.3 0h1v1h-1zm-4.7 .1h1v1h-1zm4.9 0h1v1h-1zm.1 .1h1v1h-1zm-4.9 .1h1v1h-1zm4.5 0h1v1h-1zm3 .1h1v1h-1zm.2 0h1v1h-1zm-.3 .1h1v1h-1zm-.3 .2h1v1h-1zm.7 0h1v1h-1zm0 .1h1v1h-1zm-.2 .1h1v1h-1zm-.3 .2h1v1h-1zm.4 .2h1v1h-1zm1.6 0h1v1h-1zm-1.2 .2h1v1h-1zm.6 0h1v1h-1zm1.6 0h1v1h-1zm.3 0h1v1h-1zm.1 0h1v1h-1zm-2.2 .1h1v1h-1zm0 0h1v1h-1zm1.6 0h1v1h-1zm.4 0h1v1h-1zm.3 0h1v1h-1zm-1.1 .1h1v1h-1zm-.4 .1h1v1h-1zm.3 0h1v1h-1zm.2 .1h1v1h-1zm1.1 0h1v1h-1zm0 .2h1v1h-1zm-2.2 .1h1v1h-1zm.6 0h1v1h-1zm.1 0h1v1h-1zm1.3 0h1v1h-1zm-1.6 .1h1v1h-1zm0 0h1v1h-1zm1.6 0h1v1h-1zm-1.3 .1h1v1h-1zm.3 0h1v1h-1zm.8 0h1v1h-1zm.1 0h1v1h-1zm.3 0h1v1h-1zm-1.3 .2h1v1h-1zm.3 0h1v1h-1zm.7 0h1v1h-1zm-1.2 .1h1v1h-1zm.8 0h1v1h-1zm0 0h1v1h-1zm-.3 .1h1v1h-1zm-.8 .1h1v1h-1zm0 .1h1v1h-1zm0 0h1v1h-1zm.1 0h1v1h-1zm1.3 0h1v1h-1zm.2 0h1v1h-1zm-.7 .1h1v1h-1zm.6 0h1v1h-1zm.1 0h1v1h-1zm-1.5 .2h1v1h-1zm.5 0h1v1h-1zm-.5 .4h1v1h-1zm.6 .2h1v1h-1zm-.1 .1h1v1h-1zm-.6 .1h1v1h-1zm.2 .1h1v1h-1zm-1.1 .4h1v1h-1zm.8 0h1v1h-1zm0 .1h1v1h-1zm-.6 .1h1v1h-1zm-.4 .1h1v1h-1zm.5 0h1v1h-1zm-.4 .1h1v1h-1zm-.3 .4h1v1h-1zm.2 0h1v1h-1zm-.6 .1h1v1h-1zm-.4 .1h1v1h-1zm.3 0h1v1h-1zm-.2 .3h1v1h-1zm0 .2h1v1h-1zm-.7 .4h1v1h-1zm.4 .1h1v1h-1zm-.1 .1h1v1h-1zm.3 0h1v1h-1zm-.9 .1h1v1h-1zm.8 .1h1v1h-1zm-.1 .1h1v1h-1zm.1 .1h1v1h-1zm.1 .1h1v1h-1zm-1.9 .1h1v1h-1zm.1 .1h1v1h-1zm.1 0h1v1h-1zm.1 0h1v1h-1zm.1 0h1v1h-1zm-.3 .1h1v1h-1zm.7 0h1v1h-1zm-.2 .5h1v1h-1zm-.3 .3h1v1h-1zm-5.7 .2h1v1h-1zm.1 0h1v1h-1zm-.4 .1h1v1h-1zm0 .5h1v1h-1zm.3 .2h1v1h-1z" fill="#18b8d8"/><path d="M0 0m42.9 31h1v1h-1zm-11.6 .2h1v1h-1zm.3 0h1v1h-1zm5.5 0h1v1h-1zm1.8 .1h1v1h-1zm3.6 .1h1v1h-1zm-10.9 .2h1v1h-1zm6.8 0h1v1h-1zm-1.4 .1h1v1h-1zm.5 .1h1v1h-1zm5.3 .2h1v1h-1zm3.1 .5h1v1h-1zm-.4 .2h1v1h-1zm-16.3 .1h1v1h-1zm.3 .2h1v1h-1zm17.6 0h1v1h-1zm.5 0h1v1h-1zm-19 .3h1v1h-1zm19.2 0h1v1h-1zm-18.9 .1h1v1h-1zm-.1 .1h1v1h-1zm18.3 0h1v1h-1zm.6 .1h1v1h-1zm-19.5 .1h1v1h-1zm.1 0h1v1h-1zm19.6 0h1v1h-1zm-19.3 .6h1v1h-1zm-.5 .1h1v1h-1zm.2 0h1v1h-1zm0 0h1v1h-1zm.6 .5h1v1h-1zm-.9 .6h1v1h-1zm.7 .1h1v1h-1zm21.3 .1h1v1h-1zm.6 0h1v1h-1zm-21.7 .2h1v1h-1zm21.3 0h1v1h-1zm-22 .1h1v1h-1zm22.4 0h1v1h-1zm1.2 0h1v1h-1zm0 .1h1v1h-1zm0 .1h1v1h-1zm-22.9 .1h1v1h-1zm-.9 .3h1v1h-1zm.8 0h1v1h-1zm22.5 .1h1v1h-1zm-23.2 .2h1v1h-1zm.1 0h1v1h-1zm.4 1.2h1v1h-1zm23.9 .1h1v1h-1zm-23.7 .3h1v1h-1zm23.9 0h1v1h-1zm-24.7 .1h1v1h-1zm.2 .1h1v1h-1zm.2 0h1v1h-1zm0 .1h1v1h-1zm24 .7h1v1h-1zm-.3 .3h1v1h-1zm.3 0h1v1h-1zm-.2 .1h1v1h-1zm-20.9 1.4h1v1h-1zm20.4 .1h1v1h-1zm.3 0h1v1h-1zm-20.6 .3h1v1h-1zm20.2 0h1v1h-1zm.1 0h1v1h-1zm.1 0h1v1h-1zm-20.6 .1h1v1h-1zm20.4 .1h1v1h-1zm-17.7 .6h1v1h-1zm-.6 .1h1v1h-1zm2.2 .6h1v1h-1zm14.1 0h1v1h-1zm-.5 .1h1v1h-1zm0 0h1v1h-1zm.1 .2h1v1h-1zm.5 0h1v1h-1zm.2 .3h1v1h-1zm-.7 .1h1v1h-1zm.5 0h1v1h-1zm-.5 .1h1v1h-1zm-8.6 .3h1v1h-1zm-.2 .1h1v1h-1zm7.3 0h1v1h-1zm-24.1 33.8h1v1h-1zm3.5 0h1v1h-1zm-.1 .2h1v1h-1zm-.5 .1h1v1h-1zm1 0h1v1h-1zm.1 .1h1v1h-1zm-.4 .2h1v1h-1zm-3.6 .1h1v1h-1zm10.7 .1h1v1h-1zm.5 .1h1v1h-1zm3.2 0h1v1h-1zm-.5 .1h1v1h-1zm-.1 .3h1v1h-1zm.3 0h1v1h-1zm-3.3 .3h1v1h-1zm5.5 .2h1v1h-1zm-.5 .1h1v1h-1zm.5 .2h1v1h-1zm0 .4h1v1h-1zm-19.3 .2h1v1h-1zm19.2 .2h1v1h-1zm.2 1.1h1v1h-1zm-.4 .4h1v1h-1zm-.2 .1h1v1h-1zm-1.6 .4h1v1h-1zm-.2 .3h1v1h-1zm.4 .2h1v1h-1zm-.1 .3h1v1h-1zm-1.8 .8h1v1h-1zm0 0h1v1h-1zm-.1 .4h1v1h-1zm-.4 .1h1v1h-1zm-.5 .1h1v1h-1zm-.4 1.3h1v1h-1zm-.3 .1h1v1h-1zm-.1 .1h1v1h-1zm.4 .2h1v1h-1zm-1.6 .1h1v1h-1zm.1 .1h1v1h-1zm.6 .2h1v1h-1zm-13.4 1.9h1v1h-1zm9.3 .1h1v1h-1zm0 0h1v1h-1zm-9.7 .3h1v1h-1z" fill="#2858e8"/><path d="M0 0m42.3 33h1v1h-1zm-4.6 .1h1v1h-1zm.2 0h1v1h-1zm4.4 0h1v1h-1zm-5.3 .1h1v1h-1zm-.8 .2h1v1h-1zm5.9 0h1v1h-1zm.1 .1h1v1h-1zm-6.1 .1h1v1h-1zm.1 0h1v1h-1zm1 0h1v1h-1zm.1 0h1v1h-1zm.1 0h1v1h-1zm-.3 .1h1v1h-1zm-.1 .1h1v1h-1zm.8 .1h1v1h-1zm-1.6 .1h1v1h-1zm.6 0h1v1h-1zm1.1 0h1v1h-1zm-4.2 .5h1v1h-1zm0 .1h1v1h-1zm.2 .2h1v1h-1zm-1.5 .2h1v1h-1zm12.8 .1h1v1h-1zm.3 0h1v1h-1zm-13.4 .2h1v1h-1zm.5 .1h1v1h-1zm13.1 0h1v1h-1zm-.3 .2h1v1h-1zm.2 .1h1v1h-1zm-12.9 .1h1v1h-1zm13.2 .2h1v1h-1zm.5 0h1v1h-1zm.5 .1h1v1h-1zm.1 .1h1v1h-1zm-.3 .2h1v1h-1zm.2 0h1v1h-1zm-.1 .6h1v1h-1zm1.3 1.1h1v1h-1zm.5 0h1v1h-1zm-.4 .2h1v1h-1zm.4 0h1v1h-1zm-.3 .1h1v1h-1zm0 .3h1v1h-1zm.1 0h1v1h-1zm.2 0h1v1h-1zm-.4 .3h1v1h-1zm0 0h1v1h-1zm-.2 1.1h1v1h-1zm.1 0h1v1h-1zm.2 .2h1v1h-1zm.3 0h1v1h-1zm-.2 .6h1v1h-1zm-.1 .1h1v1h-1zm.7 0h1v1h-1zm-1.9 .1h1v1h-1zm.1 0h1v1h-1zm.2 0h1v1h-1zm0 .3h1v1h-1zm-.2 .1h1v1h-1zm.7 .4h1v1h-1zm-16 41.2h1v1h-1zm-.3 .1h1v1h-1zm-.4 .1h1v1h-1zm.1 .3h1v1h-1zm.7 .1h1v1h-1zm-.5 .4h1v1h-1zm.5 0h1v1h-1zm-.4 .2h1v1h-1zm-5.8 4.8h1v1h-1zm.1 0h1v1h-1zm-.7 .4h1v1h-1zm.7 0h1v1h-1zm-.7 .1h1v1h-1zm.1 .1h1v1h-1zm.5 0h1v1h-1zm0 0h1v1h-1z" fill="#18b8c8"/><path d="M0 0m41.9 33.1h1v1h-1zm-3.1 .1h1v1h-1zm-.1 .1h1v1h-1zm1.2 0h1v1h-1zm1.1 0h1v1h-1zm.5 0h1v1h-1zm.1 0h1v1h-1zm-.3 .1h1v1h-1zm.6 0h1v1h-1zm-3.1 .1h1v1h-1zm.1 .1h1v1h-1zm.4 0h1v1h-1zm1.8 0h1v1h-1zm-3 .1h1v1h-1zm.8 0h1v1h-1zm.2 0h1v1h-1zm2.4 0h1v1h-1zm-2.5 .1h1v1h-1zm.2 0h1v1h-1zm-.9 .1h1v1h-1zm.9 .1h1v1h-1zm.6 0h1v1h-1zm7.9 3.2h1v1h-1zm-.6 .3h1v1h-1zm.4 .3h1v1h-1zm.9 1.2h1v1h-1zm.2 .2h1v1h-1zm-.1 .1h1v1h-1zm.2 .1h1v1h-1zm.2 .2h1v1h-1zm0 .1h1v1h-1zm-.6 .1h1v1h-1zm0 .1h1v1h-1zm-13.4 .1h1v1h-1zm-.2 .2h1v1h-1zm-.2 .1h1v1h-1zm-.2 .1h1v1h-1zm.1 0h1v1h-1zm2.3 .8h1v1h-1zm-.4 .1h1v1h-1zm.2 0h1v1h-1zm-.2 .3h1v1h-1zm.2 0h1v1h-1zm-.2 .1h1v1h-1zm.3 0h1v1h-1zm-9.8 38.4h1v1h-1zm-.5 .1h1v1h-1zm0 .1h1v1h-1zm-3.1 .1h1v1h-1zm3.4 0h1v1h-1zm-2.7 .4h1v1h-1zm2.8 0h1v1h-1zm-2.9 .1h1v1h-1zm.2 0h1v1h-1zm2.3 0h1v1h-1zm-3.3 .1h1v1h-1zm6.4 .3h1v1h-1zm.3 0h1v1h-1zm-.1 .2h1v1h-1zm0 0h1v1h-1zm-.1 .2h1v1h-1zm.2 0h1v1h-1zm.1 .1h1v1h-1zm-.7 .1h1v1h-1zm-8.9 .2h1v1h-1zm.1 0h1v1h-1zm10.4 0h1v1h-1zm-.5 .1h1v1h-1zm-9.8 .3h1v1h-1zm10.4 0h1v1h-1zm-.4 .1h1v1h-1zm.5 .2h1v1h-1zm-10.5 .1h1v1h-1zm10.3 2.1h1v1h-1zm.2 .1h1v1h-1zm-.7 .2h1v1h-1zm.5 0h1v1h-1zm-.2 .2h1v1h-1zm.2 .1h1v1h-1zm.2 0h1v1h-1zm-.1 .1h1v1h-1zm.1 .1h1v1h-1zm-.3 .1h1v1h-1zm-10.1 1.2h1v1h-1zm-.4 .1h1v1h-1zm.9 .1h1v1h-1zm0 0h1v1h-1zm-.1 .2h1v1h-1zm-.5 .3h1v1h-1zm4 1.2h1v1h-1zm-.1 .2h1v1h-1zm.2 0h1v1h-1zm.4 0h1v1h-1zm-1.3 .2h1v1h-1zm1.1 0h1v1h-1zm-1.6 .1h1v1h-1zm1.3 0h1v1h-1zm-1.3 .2h1v1h-1zm.3 .1h1v1h-1zm1 0h1v1h-1zm-.4 .1h1v1h-1z" fill="#18c8c8"/><path d="M0 0m27.3 30h1v1h-1zm17.1 .6h1v1h-1zm-19.4 1.4h1v1h-1zm.3 .4h1v1h-1zm-.3 .2h1v1h-1zm.5 0h1v1h-1zm24.4 0h1v1h-1zm-24.5 .2h1v1h-1zm0 .6h1v1h-1zm.2 .6h1v1h-1zm.3 .3h1v1h-1zm-.9 .2h1v1h-1zm.7 0h1v1h-1zm.2 0h1v1h-1zm-.4 .3h1v1h-1zm27.7 .6h1v1h-1zm2.2 3.6h1v1h-1zm-.3 2.3h1v1h-1zm.7 .3h1v1h-1zm-.6 .2h1v1h-1zm-1.8 1.4h1v1h-1zm0 .4h1v1h-1zm.4 .2h1v1h-1zm-20.7 .3h1v1h-1zm18 .1h1v1h-1zm-17.8 .1h1v1h-1zm17.8 0h1v1h-1zm.5 .4h1v1h-1zm-17.8 .2h1v1h-1zm12.4 1.1h1v1h-1zm-2.7 1.7h1v1h-1zm-.3 .1h1v1h-1zm-.2 .1h1v1h-1zm-14.1 12.3h1v1h-1zm-.6 .1h1v1h-1zm.4 .1h1v1h-1zm-.2 .5h1v1h-1zm-2.8 .3h1v1h-1zm3.8 0h1v1h-1zm.3 0h1v1h-1zm-.7 .2h1v1h-1zm-8 .2h1v1h-1zm0 0h1v1h-1zm4.6 0h1v1h-1zm4.3 .2h1v1h-1zm-8.3 .1h1v1h-1zm-.1 .1h1v1h-1zm3.1 .1h1v1h-1zm.1 0h1v1h-1zm-.6 .3h1v1h-1zm.2 .5h1v1h-1zm-.9 .9h1v1h-1zm-.8 .2h1v1h-1zm-1.2 .2h1v1h-1zm.4 .3h1v1h-1zm0 .3h1v1h-1zm5.4 1.4h1v1h-1zm-.8 .4h1v1h-1zm0 0h1v1h-1zm.4 0h1v1h-1zm.4 0h1v1h-1zm.5 .1h1v1h-1zm-1.3 .2h1v1h-1zm-.2 .2h1v1h-1zm1.7 .1h1v1h-1zm-1.4 .7h1v1h-1zm.9 .1h1v1h-1zm.2 0h1v1h-1zm-.9 .6h1v1h-1zm-.5 .3h1v1h-1zm.6 0h1v1h-1zm.6 .1h1v1h-1zm15.5 7.7h1v1h-1zm-14.9 .2h1v1h-1zm17.7 .2h1v1h-1zm.3 .4h1v1h-1zm-.7 .3h1v1h-1zm1.4 .1h1v1h-1zm-1.6 .1h1v1h-1zm17.5 1.1h1v1h-1zm.1 0h1v1h-1zm.2 .1h1v1h-1zm.3 0h1v1h-1zm-.6 .2h1v1h-1zm-.4 .1h1v1h-1zm1.1 0h1v1h-1zm-1.2 .2h1v1h-1zm.3 .1h1v1h-1zm1.2 .1h1v1h-1zm-43.8 .5h1v1h-1zm0 .2h1v1h-1zm30.7 2.7h1v1h-1zm.1 .2h1v1h-1zm.2 0h1v1h-1zm0 .2h1v1h-1zm-7.4 .3h1v1h-1zm3.2 0h1v1h-1zm3.4 0h1v1h-1zm-4 .5h1v1h-1zm.5 .1h1v1h-1zm-.4 .1h1v1h-1zm.6 .1h1v1h-1zm-4.4 .5h1v1h-1zm-.3 .6h1v1h-1zm-1.9 .3h1v1h-1zm.7 .4h1v1h-1zm-4.1 1.5h1v1h-1zm-.6 .1h1v1h-1zm-.1 .1h1v1h-1zm-16.2 1h1v1h-1zm0 0h1v1h-1z" fill="#2848d8"/><path d="M0 0m34.4 25h1v1h-1zm0 .3h1v1h-1zm.4 .1h1v1h-1zm2.1 .1h1v1h-1zm.5 .2h1v1h-1zm-3.2 .2h1v1h-1zm3.2 0h1v1h-1zm-2.2 .1h1v1h-1zm3.8 .2h1v1h-1zm-4.6 .1h1v1h-1zm-.8 .2h1v1h-1zm1.8 0h1v1h-1zm.7 0h1v1h-1zm1.9 0h1v1h-1zm-4.9 .1h1v1h-1zm6.6 0h1v1h-1zm-.3 .1h1v1h-1zm-6.2 .1h1v1h-1zm1.1 .1h1v1h-1zm4.7 0h1v1h-1zm-1.7 .2h1v1h-1zm3.9 .1h1v1h-1zm-1.7 .1h1v1h-1zm-4.5 .2h1v1h-1zm.6 0h1v1h-1zm3.2 0h1v1h-1zm-7.6 .2h1v1h-1zm4.9 0h1v1h-1zm4.7 .1h1v1h-1zm-7 .1h1v1h-1zm-3.3 .1h1v1h-1zm1.4 0h1v1h-1zm2.9 0h1v1h-1zm.9 0h1v1h-1zm8.2 0h1v1h-1zm-14.6 .1h1v1h-1zm2.3 0h1v1h-1zm1.2 0h1v1h-1zm-3.1 .1h1v1h-1zm12.6 0h1v1h-1zm0 .1h1v1h-1zm3.3 0h1v1h-1zm-17.6 .1h1v1h-1zm1.1 0h1v1h-1zm3.1 0h1v1h-1zm5.6 0h1v1h-1zm-.8 .1h1v1h-1zm-9.6 .1h1v1h-1zm10.2 0h1v1h-1zm-7.1 .1h1v1h-1zm9.8 0h1v1h-1zm-2.1 .1h1v1h-1zm.7 0h1v1h-1zm-6.1 .1h1v1h-1zm5 0h1v1h-1zm6.5 0h1v1h-1zm-14.3 .1h1v1h-1zm9.3 0h1v1h-1zm4.3 0h1v1h-1zm-2.5 .1h1v1h-1zm.9 0h1v1h-1zm-14.9 .1h1v1h-1zm20.3 0h1v1h-1zm-22 .2h1v1h-1zm3.3 0h1v1h-1zm15.8 0h1v1h-1zm.3 0h1v1h-1zm3.1 0h1v1h-1zm-21.3 .1h1v1h-1zm1.5 .1h1v1h-1zm16.4 0h1v1h-1zm1.3 0h1v1h-1zm-15.7 .2h1v1h-1zm9.4 0h1v1h-1zm1.9 0h1v1h-1zm-15.7 .1h1v1h-1zm22 0h1v1h-1zm-5.2 .1h1v1h-1zm4 0h1v1h-1zm.5 .2h1v1h-1zm2.5 0h1v1h-1zm-25.5 .2h1v1h-1zm21.2 0h1v1h-1zm.7 .1h1v1h-1zm3.2 .2h1v1h-1zm-22.1 .1h1v1h-1zm-.8 .1h1v1h-1zm19.6 0h1v1h-1zm1.7 0h1v1h-1zm1.1 0h1v1h-1zm-24.6 .2h1v1h-1zm1.1 0h1v1h-1zm25.2 0h1v1h-1zm-24.6 .3h1v1h-1zm22.4 .1h1v1h-1zm.7 0h1v1h-1zm-.2 .1h1v1h-1zm1.7 .1h1v1h-1zm-24.4 .2h1v1h-1zm-2.3 .3h1v1h-1zm28.4 .2h1v1h-1zm-1.8 .2h1v1h-1zm-26.8 .2h1v1h-1zm30.6 .3h1v1h-1zm-2.2 .3h1v1h-1zm.7 .1h1v1h-1zm-27.6 .2h1v1h-1zm27.4 0h1v1h-1zm2.6 0h1v1h-1zm-.2 .4h1v1h-1zm.2 .1h1v1h-1zm-1.2 .2h1v1h-1zm-30.2 .1h1v1h-1zm30.3 .1h1v1h-1zm-.8 .3h1v1h-1zm2.4 0h1v1h-1zm-1 .1h1v1h-1zm3.5 .1h1v1h-1zm-34.8 .2h1v1h-1zm.2 .1h1v1h-1zm32.7 0h1v1h-1zm1.2 0h1v1h-1zm-.5 .2h1v1h-1zm-1 .1h1v1h-1zm-30.1 .2h1v1h-1zm-1.2 .1h1v1h-1zm31.7 0h1v1h-1zm-30.4 .1h1v1h-1zm31.7 .2h1v1h-1zm-1.8 .1h1v1h-1zm-1.5 .1h1v1h-1zm-28.3 .1h1v1h-1zm.1 .1h1v1h-1zm30 .1h1v1h-1zm.8 .4h1v1h-1zm1.2 0h1v1h-1zm-1.5 .1h1v1h-1zm-32.3 .2h1v1h-1zm1.3 .1h1v1h-1zm31.1 .2h1v1h-1zm.2 0h1v1h-1zm-31 .2h1v1h-1zm.1 0h1v1h-1zm-.8 .1h1v1h-1zm32.7 0h1v1h-1zm-2.5 .1h1v1h-1zm3.4 0h1v1h-1zm-33.5 .1h1v1h-1zm30 .1h1v1h-1zm2 0h1v1h-1zm-31.3 .2h1v1h-1zm.1 .1h1v1h-1zm31.8 0h1v1h-1zm.6 .2h1v1h-1zm-2.6 .1h1v1h-1zm-30 .1h1v1h-1zm31.4 0h1v1h-1zm-32.9 .2h1v1h-1zm1 0h1v1h-1zm32.8 0h1v1h-1zm-31.1 .1h1v1h-1zm0 0h1v1h-1zm31.6 0h1v1h-1zm-33.8 .4h1v1h-1zm.6 .1h1v1h-1zm33.2 0h1v1h-1zm-1.9 .2h1v1h-1zm-.5 .2h1v1h-1zm-29.2 .4h1v1h-1zm.7 0h1v1h-1zm29.5 .2h1v1h-1zm-28.9 .2h1v1h-1zm29.1 .2h1v1h-1zm.1 .2h1v1h-1zm-.7 .3h1v1h-1zm.3 .1h1v1h-1zm-27.7 .1h1v1h-1zm26.7 0h1v1h-1zm-26.1 .1h1v1h-1zm0 0h1v1h-1zm25.3 0h1v1h-1zm1.9 .1h1v1h-1zm-2.1 .1h1v1h-1zm-26.8 .2h1v1h-1zm.2 0h1v1h-1zm.9 .1h1v1h-1zm26.2 .1h1v1h-1zm-26.8 .5h1v1h-1zm2.3 .3h1v1h-1zm24.1 .3h1v1h-1zm-25.5 .1h1v1h-1zm1.7 0h1v1h-1zm1.5 .1h1v1h-1zm-3.1 .2h1v1h-1zm.9 0h1v1h-1zm.4 .2h1v1h-1zm24.4 .1h1v1h-1zm-26.1 .1h1v1h-1zm23.6 .1h1v1h-1zm1.6 0h1v1h-1zm-.9 .1h1v1h-1zm.3 0h1v1h-1zm-23 .2h1v1h-1zm3.7 0h1v1h-1zm18.2 0h1v1h-1zm-17.8 .1h1v1h-1zm15.6 0h1v1h-1zm3.9 0h1v1h-1zm-17.6 .3h1v1h-1zm12.4 .1h1v1h-1zm1 0h1v1h-1zm.2 0h1v1h-1zm-15.1 .1h1v1h-1zm15.8 0h1v1h-1zm.9 0h1v1h-1zm1.6 .1h1v1h-1zm-17.8 .2h1v1h-1zm17.7 0h1v1h-1zm-20.4 .2h1v1h-1zm2.9 0h1v1h-1zm18.8 0h1v1h-1zm-20.5 .1h1v1h-1zm2 0h1v1h-1zm2.8 0h1v1h-1zm8.6 0h1v1h-1zm-14.3 .1h1v1h-1zm18.5 0h1v1h-1zm-12.4 .1h1v1h-1zm9.1 0h1v1h-1zm-12.7 .1h1v1h-1zm11.2 0h1v1h-1zm-8.8 .1h1v1h-1zm-3.8 .1h1v1h-1zm4.5 0h1v1h-1zm.1 .2h1v1h-1zm9.2 0h1v1h-1zm5.4 0h1v1h-1zm-11.4 .2h1v1h-1zm2 0h1v1h-1zm.2 0h1v1h-1zm-3.7 .1h1v1h-1zm10.1 0h1v1h-1zm.4 0h1v1h-1zm-10.4 .1h1v1h-1zm10.2 0h1v1h-1zm0 0h1v1h-1zm-5.9 .1h1v1h-1zm0 0h1v1h-1zm5.7 .1h1v1h-1zm.6 0h1v1h-1zm-11.2 .1h1v1h-1zm3.7 0h1v1h-1zm5.9 0h1v1h-1zm3 0h1v1h-1zm-12.2 .1h1v1h-1zm5.2 0h1v1h-1zm3.3 0h1v1h-1zm-6.5 .2h1v1h-1zm8.5 0h1v1h-1zm-10.7 .1h1v1h-1zm1.6 .1h1v1h-1zm.2 .4h1v1h-1zm-1 .1h1v1h-1zm3 0h1v1h-1zm.5 .1h1v1h-1zm-1.1 .4h1v1h-1zm1.1 0h1v1h-1zm-1.1 .2h1v1h-1zm.8 0h1v1h-1zm-.7 .2h1v1h-1zm-2.4 .1h1v1h-1zm4.4 0h1v1h-1zm-2.1 .1h1v1h-1zm.1 .6h1v1h-1zm-1.4 .3h1v1h-1zm.9 .1h1v1h-1zm-8 4.1h1v1h-1zm.5 0h1v1h-1zm-.8 .1h1v1h-1zm.9 0h1v1h-1zm-.1 .1h1v1h-1zm-1.7 .1h1v1h-1zm.9 0h1v1h-1zm2.3 .1h1v1h-1zm-2.9 .5h1v1h-1zm2.3 .2h1v1h-1zm-1.4 .2h1v1h-1zm2.1 .1h1v1h-1zm-1.5 .2h1v1h-1zm.7 .1h1v1h-1zm-8.8 .2h1v1h-1zm-1.4 .3h1v1h-1zm12 .1h1v1h-1zm-10.6 .1h1v1h-1zm10.4 0h1v1h-1zm-15.4 .1h1v1h-1zm11.3 0h1v1h-1zm1.5 0h1v1h-1zm-11.5 .1h1v1h-1zm6.6 0h1v1h-1zm6 0h1v1h-1zm-6.9 .1h1v1h-1zm2.6 .1h1v1h-1zm-6.9 .1h1v1h-1zm.4 0h1v1h-1zm6.2 0h1v1h-1zm5.5 0h1v1h-1zm-15.7 .1h1v1h-1zm5.2 .1h1v1h-1zm10.2 0h1v1h-1zm-1 .1h1v1h-1zm-14 .1h1v1h-1zm2.9 0h1v1h-1zm4.6 0h1v1h-1zm1.2 0h1v1h-1zm2.7 0h1v1h-1zm.7 0h1v1h-1zm0 .1h1v1h-1zm1.9 0h1v1h-1zm-9.1 .1h1v1h-1zm6.2 0h1v1h-1zm-12.7 .1h1v1h-1zm12.2 0h1v1h-1zm.4 0h1v1h-1zm2.4 0h1v1h-1zm1.9 0h1v1h-1zm-17.6 .1h1v1h-1zm12.6 0h1v1h-1zm-9.3 .1h1v1h-1zm10 0h1v1h-1zm.7 0h1v1h-1zm2.9 0h1v1h-1zm-14.9 .1h1v1h-1zm5.7 0h1v1h-1zm3.2 0h1v1h-1zm4.8 0h1v1h-1zm-12.4 .1h1v1h-1zm11.6 0h1v1h-1zm-14.6 .1h1v1h-1zm2.3 0h1v1h-1zm9.6 0h1v1h-1zm11.9 0h1v1h-1zm-23.8 .1h1v1h-1zm3.2 0h1v1h-1zm.5 .1h1v1h-1zm1.7 0h1v1h-1zm2.5 0h1v1h-1zm1.1 0h1v1h-1zm8.5 0h1v1h-1zm.5 0h1v1h-1zm6.2 0h1v1h-1zm-13.8 .1h1v1h-1zm-9.6 .1h1v1h-1zm2.9 0h1v1h-1zm13.4 0h1v1h-1zm-11.2 .1h1v1h-1zm6.3 0h1v1h-1zm-5.6 .1h1v1h-1zm3.2 0h1v1h-1zm4 0h1v1h-1zm9.5 0h1v1h-1zm-23.6 .1h1v1h-1zm4.1 0h1v1h-1zm18.8 0h1v1h-1zm-14 .1h1v1h-1zm0 0h1v1h-1zm2.6 .1h1v1h-1zm-4.5 .1h1v1h-1zm1.1 0h1v1h-1zm-1.7 .1h1v1h-1zm.5 0h1v1h-1zm17.4 0h1v1h-1zm-18 .1h1v1h-1zm1.3 0h1v1h-1zm6.8 0h1v1h-1zm10.7 0h1v1h-1zm-23.8 .1h1v1h-1zm11.3 0h1v1h-1zm2.5 0h1v1h-1zm9.7 0h1v1h-1zm-24.2 .1h1v1h-1zm11.9 0h1v1h-1zm3.4 0h1v1h-1zm-15.9 .1h1v1h-1zm9.9 0h1v1h-1zm13.8 0h1v1h-1zm1.6 0h1v1h-1zm0 0h1v1h-1zm-19.6 .1h1v1h-1zm12.6 0h1v1h-1zm-5.7 .1h1v1h-1zm3.4 0h1v1h-1zm6.7 0h1v1h-1zm-19.1 .1h1v1h-1zm.4 0h1v1h-1zm.6 0h1v1h-1zm.1 0h1v1h-1zm4.3 0h1v1h-1zm2.3 0h1v1h-1zm-5.6 .1h1v1h-1zm8.1 0h1v1h-1zm11 0h1v1h-1zm-22.7 .1h1v1h-1zm.2 .1h1v1h-1zm1.6 0h1v1h-1zm17.2 .1h1v1h-1zm3.9 0h1v1h-1zm-24.6 .1h1v1h-1zm23.5 0h1v1h-1zm.4 0h1v1h-1zm-24.1 .1h1v1h-1zm26.6 0h1v1h-1zm-26.5 .1h1v1h-1zm12.3 0h1v1h-1zm9.6 0h1v1h-1zm.9 0h1v1h-1zm-7.6 .1h1v1h-1zm2.3 0h1v1h-1zm7.5 0h1v1h-1zm-14 .1h1v1h-1zm1.9 0h1v1h-1zm-6.7 .1h1v1h-1zm.3 0h1v1h-1zm3.5 0h1v1h-1zm1.9 0h1v1h-1zm2.4 0h1v1h-1zm5.8 0h1v1h-1zm-12.9 .1h1v1h-1zm2.5 0h1v1h-1zm6.7 0h1v1h-1zm-16.4 .1h1v1h-1zm6 0h1v1h-1zm10.4 0h1v1h-1zm5.8 0h1v1h-1zm-21.9 .1h1v1h-1zm8.7 0h1v1h-1zm11.6 0h1v1h-1zm1.3 0h1v1h-1zm-21.9 .1h1v1h-1zm.5 0h1v1h-1zm4.3 0h1v1h-1zm20.3 0h1v1h-1zm1.4 0h1v1h-1zm-16.6 .1h1v1h-1zm4.9 0h1v1h-1zm.6 0h1v1h-1zm-5.6 .1h1v1h-1zm7.8 0h1v1h-1zm-8.6 .1h1v1h-1zm1 0h1v1h-1zm4.2 0h1v1h-1zm10.2 0h1v1h-1zm-16.5 .1h1v1h-1zm10.3 0h1v1h-1zm.4 0h1v1h-1zm1.6 0h1v1h-1zm-14 .1h1v1h-1zm3 0h1v1h-1zm.1 0h1v1h-1zm14.6 0h1v1h-1zm1.7 0h1v1h-1zm-5.3 .1h1v1h-1zm-7.2 .1h1v1h-1zm5.1 0h1v1h-1zm4.6 0h1v1h-1zm-8.7 .1h1v1h-1zm3.9 0h1v1h-1zm7.8 .1h1v1h-1zm-18.8 .1h1v1h-1zm-7 .1h1v1h-1zm6 0h1v1h-1zm7.2 0h1v1h-1zm.4 0h1v1h-1zm-5.1 .1h1v1h-1zm5.9 0h1v1h-1zm-5.1 .1h1v1h-1zm-4.6 .1h1v1h-1zm1.4 0h1v1h-1zm-1.8 .1h1v1h-1zm2.5 0h1v1h-1zm1.9 0h1v1h-1zm9.3 0h1v1h-1zm.9 0h1v1h-1zm-15 .2h1v1h-1zm5.2 0h1v1h-1zm5.1 0h1v1h-1zm4.8 0h1v1h-1zm3.4 0h1v1h-1zm-22.8 .1h1v1h-1zm11.2 0h1v1h-1zm9.1 0h1v1h-1zm-16.1 .1h1v1h-1zm2.1 0h1v1h-1zm17.2 0h1v1h-1zm-20.4 .1h1v1h-1zm.8 0h1v1h-1zm15.8 0h1v1h-1zm.5 0h1v1h-1zm1.8 0h1v1h-1zm-13.4 .1h1v1h-1zm1.7 0h1v1h-1zm10.1 0h1v1h-1zm-19.5 .1h1v1h-1zm-.7 .1h1v1h-1zm13.9 0h1v1h-1zm9.8 .1h1v1h-1zm2.8 0h1v1h-1zm-23.7 .1h1v1h-1zm19.8 0h1v1h-1zm-7.6 .1h1v1h-1zm8.9 0h1v1h-1zm-23.6 .1h1v1h-1zm5.8 0h1v1h-1zm.9 0h1v1h-1zm3.1 0h1v1h-1zm10.9 0h1v1h-1zm-11.7 .1h1v1h-1zm-8.7 .1h1v1h-1zm5.9 0h1v1h-1zm15.6 0h1v1h-1zm4.4 0h1v1h-1zm-16.2 .1h1v1h-1zm2.9 0h1v1h-1zm-9.8 .1h1v1h-1zm.7 .1h1v1h-1zm2.2 0h1v1h-1zm2.2 0h1v1h-1zm-.6 .1h1v1h-1zm13.9 0h1v1h-1zm-19.8 .1h1v1h-1zm-.5 .1h1v1h-1zm5.5 0h1v1h-1zm.7 0h1v1h-1zm5.2 0h1v1h-1zm2 0h1v1h-1zm7.1 0h1v1h-1zm.8 0h1v1h-1zm.5 0h1v1h-1zm-22.7 .1h1v1h-1zm.4 0h1v1h-1zm1.2 0h1v1h-1zm7.3 0h1v1h-1zm-7.8 .1h1v1h-1zm2.1 0h1v1h-1zm3.6 0h1v1h-1zm1.2 0h1v1h-1zm5.1 0h1v1h-1zm-4.6 .2h1v1h-1zm3 0h1v1h-1zm11.9 0h1v1h-1zm-22.4 .1h1v1h-1zm3.8 0h1v1h-1zm.2 0h1v1h-1zm-5.6 .1h1v1h-1zm.3 0h1v1h-1zm1.7 0h1v1h-1zm3.1 0h1v1h-1zm10.4 0h1v1h-1zm-2.5 .2h1v1h-1zm1.9 .1h1v1h-1zm-14.7 .1h1v1h-1zm7.7 0h1v1h-1zm1.8 0h1v1h-1zm12.6 0h1v1h-1zm1.8 0h1v1h-1zm-19.8 .1h1v1h-1zm17.8 0h1v1h-1zm-11.3 .1h1v1h-1zm.8 0h1v1h-1zm3.6 0h1v1h-1zm-10.2 .1h1v1h-1zm9.1 0h1v1h-1zm.1 0h1v1h-1zm7.2 0h1v1h-1zm-17.3 .1h1v1h-1zm4.9 0h1v1h-1zm5.2 0h1v1h-1zm-12.7 .1h1v1h-1zm1 0h1v1h-1zm.8 0h1v1h-1zm-1.6 .1h1v1h-1zm1.9 0h1v1h-1zm7.6 .2h1v1h-1zm3.4 0h1v1h-1zm14 0h1v1h-1zm-27 .1h1v1h-1zm27.4 0h1v1h-1zm-27.6 .1h1v1h-1zm4.3 0h1v1h-1zm2.3 0h1v1h-1zm-6.6 .1h1v1h-1zm8.8 0h1v1h-1zm11.7 0h1v1h-1zm1.5 0h1v1h-1zm-9 .1h1v1h-1zm-11.6 .1h1v1h-1zm.3 0h1v1h-1zm12.3 0h1v1h-1zm-13.3 .1h1v1h-1zm8.2 0h1v1h-1zm16.8 0h1v1h-1zm-15.8 .1h1v1h-1zm.2 0h1v1h-1zm18.1 0h1v1h-1zm0 0h1v1h-1zm-28.8 .1h1v1h-1zm4.9 0h1v1h-1zm6.2 0h1v1h-1zm5.6 0h1v1h-1zm-14 .1h1v1h-1zm11.8 0h1v1h-1zm-10.2 .1h1v1h-1zm4 0h1v1h-1zm19 0h1v1h-1zm.8 0h1v1h-1zm-26.7 .1h1v1h-1zm6.3 0h1v1h-1zm1.6 0h1v1h-1zm1 0h1v1h-1zm16.4 0h1v1h-1zm-15 .1h1v1h-1zm2.9 0h1v1h-1zm-14.1 .1h1v1h-1zm2.8 0h1v1h-1zm.1 0h1v1h-1zm6.2 0h1v1h-1zm15.4 0h1v1h-1zm-22.9 .1h1v1h-1zm-2.6 .1h1v1h-1zm.2 0h1v1h-1zm1.3 0h1v1h-1zm8.4 0h1v1h-1zm19 0h1v1h-1zm-17.6 .1h1v1h-1zm4.9 0h1v1h-1zm-12.7 .1h1v1h-1zm24.2 0h1v1h-1zm-26.3 .1h1v1h-1zm2.4 0h1v1h-1zm4.6 0h1v1h-1zm6.8 0h1v1h-1zm.1 0h1v1h-1zm1.8 0h1v1h-1zm-17.3 .1h1v1h-1zm3.5 0h1v1h-1zm4.6 0h1v1h-1zm1.3 0h1v1h-1zm4.6 0h1v1h-1zm4.3 0h1v1h-1zm7.3 0h1v1h-1zm-23 .1h1v1h-1zm4.2 0h1v1h-1zm1.8 0h1v1h-1zm7.5 0h1v1h-1zm7.8 0h1v1h-1zm3.1 0h1v1h-1zm-25.5 .1h1v1h-1zm1.1 0h1v1h-1zm3.6 0h1v1h-1zm-5.9 .1h1v1h-1zm.1 0h1v1h-1zm6.8 0h1v1h-1zm.8 0h1v1h-1zm4.6 0h1v1h-1zm15.7 0h1v1h-1zm-27.7 .1h1v1h-1zm14.6 0h1v1h-1zm-11.7 .1h1v1h-1zm3.6 0h1v1h-1zm.5 0h1v1h-1zm9.9 0h1v1h-1zm-17.6 .1h1v1h-1zm6.4 0h1v1h-1zm6.5 0h1v1h-1zm-8.1 .1h1v1h-1zm4.6 0h1v1h-1zm15.5 0h1v1h-1zm4.2 0h1v1h-1zm-20.8 .1h1v1h-1zm-4.3 .1h1v1h-1zm2.6 0h1v1h-1zm8.9 0h1v1h-1zm-4.6 .1h1v1h-1zm1.4 0h1v1h-1zm6.9 0h1v1h-1zm7.8 0h1v1h-1zm-21.5 .1h1v1h-1zm2.3 0h1v1h-1zm10.4 0h1v1h-1zm-10.7 .1h1v1h-1zm2.8 0h1v1h-1zm0 0h1v1h-1zm13.2 0h1v1h-1zm.5 0h1v1h-1zm-19.4 .1h1v1h-1zm8.3 0h1v1h-1zm.1 0h1v1h-1zm15.8 0h1v1h-1zm-23.9 .1h1v1h-1zm5.4 0h1v1h-1zm3.4 0h1v1h-1zm13.8 0h1v1h-1zm-23 .1h1v1h-1zm1.1 0h1v1h-1zm5.4 0h1v1h-1zm-1.3 .1h1v1h-1zm8.3 0h1v1h-1zm.3 0h1v1h-1zm.4 0h1v1h-1zm5.1 0h1v1h-1zm5.1 0h1v1h-1zm.6 0h1v1h-1zm-10.2 .2h1v1h-1zm5.3 0h1v1h-1zm-8.5 .1h1v1h-1zm7 .1h1v1h-1zm-16.8 .1h1v1h-1zm2.3 0h1v1h-1zm1.7 0h1v1h-1zm-8.7 .1h1v1h-1zm4.1 0h1v1h-1zm17 0h1v1h-1zm-4.5 .1h1v1h-1zm6.1 0h1v1h-1zm-18.3 .1h1v1h-1zm8.5 0h1v1h-1zm8.4 0h1v1h-1zm-4.7 .1h1v1h-1zm-8.1 .1h1v1h-1zm2.1 0h1v1h-1zm4.4 0h1v1h-1zm9.1 0h1v1h-1zm-17 .1h1v1h-1zm2.9 0h1v1h-1zm1.4 0h1v1h-1zm-8.2 .1h1v1h-1zm19 0h1v1h-1zm-12.6 .1h1v1h-1zm9.2 0h1v1h-1zm-16.8 .1h1v1h-1zm4.8 0h1v1h-1zm3.5 0h1v1h-1zm11.9 0h1v1h-1zm0 0h1v1h-1zm-12.3 .1h1v1h-1zm11.2 0h1v1h-1zm-19.5 .1h1v1h-1zm.8 0h1v1h-1zm1.2 0h1v1h-1zm14.1 0h1v1h-1zm-16.3 .1h1v1h-1zm.9 0h1v1h-1zm-2 .1h1v1h-1zm.6 0h1v1h-1zm7.2 0h1v1h-1zm7.6 0h1v1h-1zm1.9 0h1v1h-1zm-10.5 .1h1v1h-1zm-5.1 .1h1v1h-1zm9.8 0h1v1h-1zm.2 0h1v1h-1zm6.6 0h1v1h-1zm-7 .1h1v1h-1zm4.7 0h1v1h-1zm-11.4 .1h1v1h-1zm14.6 .1h1v1h-1zm-16 .1h1v1h-1zm11.1 0h1v1h-1zm-13.2 .1h1v1h-1zm.1 0h1v1h-1zm3.2 0h1v1h-1zm.2 0h1v1h-1zm9.7 0h1v1h-1zm6.5 0h1v1h-1zm-7.9 .1h1v1h-1zm1 0h1v1h-1zm.1 0h1v1h-1zm2.2 0h1v1h-1zm5.2 .1h1v1h-1zm1.1 0h1v1h-1zm-16.8 .1h1v1h-1zm16.6 0h1v1h-1zm14.3 0h1v1h-1zm-21.3 .1h1v1h-1zm4.9 0h1v1h-1zm3.4 0h1v1h-1zm11.6 0h1v1h-1zm-32.3 .1h1v1h-1zm3.2 0h1v1h-1zm13.1 0h1v1h-1zm.5 0h1v1h-1zm-14.4 .1h1v1h-1zm25.7 0h1v1h-1zm-14.8 .1h1v1h-1zm2.7 0h1v1h-1zm6.4 0h1v1h-1zm7.4 0h1v1h-1zm11.8 0h1v1h-1zm-44.6 .1h1v1h-1zm29.3 0h1v1h-1zm11.2 0h1v1h-1zm-40.6 .1h1v1h-1zm5.2 0h1v1h-1zm4 0h1v1h-1zm14 .1h1v1h-1zm12 0h1v1h-1zm1 0h1v1h-1zm5.2 0h1v1h-1zm.5 0h1v1h-1zm-26.4 .1h1v1h-1zm2.5 0h1v1h-1zm2.9 0h1v1h-1zm10 0h1v1h-1zm2.9 0h1v1h-1zm-10.1 .1h1v1h-1zm7.7 0h1v1h-1zm-23.3 .1h1v1h-1zm2.7 0h1v1h-1zm7.3 0h1v1h-1zm3.7 0h1v1h-1zm.6 0h1v1h-1zm18.9 0h1v1h-1zm2 0h1v1h-1zm-42.1 .1h1v1h-1zm10.3 0h1v1h-1zm0 0h1v1h-1zm9.7 0h1v1h-1zm5.9 0h1v1h-1zm9.4 0h1v1h-1zm-20 .1h1v1h-1zm.8 0h1v1h-1zm.4 0h1v1h-1zm.6 0h1v1h-1zm3.4 0h1v1h-1zm15.7 0h1v1h-1zm.2 0h1v1h-1zm.1 0h1v1h-1zm-37.7 .1h1v1h-1zm7 0h1v1h-1zm3.4 0h1v1h-1zm26.4 0h1v1h-1zm-36.1 .1h1v1h-1zm6.9 0h1v1h-1zm.5 0h1v1h-1zm1.7 0h1v1h-1zm6.3 0h1v1h-1zm5.2 0h1v1h-1zm5.9 0h1v1h-1zm1 0h1v1h-1zm18.8 0h1v1h-1zm-41.4 .1h1v1h-1zm2.3 0h1v1h-1zm7.9 0h1v1h-1zm2.4 0h1v1h-1zm7.7 0h1v1h-1zm.8 0h1v1h-1zm7.5 0h1v1h-1zm5.4 0h1v1h-1zm5.5 0h1v1h-1zm.5 0h1v1h-1zm-43.3 .1h1v1h-1zm1.4 0h1v1h-1zm.8 0h1v1h-1zm2.2 0h1v1h-1zm.2 0h1v1h-1zm2.3 0h1v1h-1zm2 0h1v1h-1zm24.6 0h1v1h-1zm.7 0h1v1h-1zm-25.6 .1h1v1h-1zm2.6 0h1v1h-1zm1 0h1v1h-1zm3.4 0h1v1h-1zm14 0h1v1h-1zm1.9 0h1v1h-1zm-30.8 .1h1v1h-1zm20.4 0h1v1h-1zm2 0h1v1h-1zm3.8 0h1v1h-1zm5.9 0h1v1h-1zm6.1 0h1v1h-1zm2.3 0h1v1h-1zm-41.9 .1h1v1h-1zm10.1 0h1v1h-1zm6.2 0h1v1h-1zm27.1 0h1v1h-1zm-39.2 .1h1v1h-1zm14.6 0h1v1h-1zm22 0h1v1h-1zm-40.3 .1h1v1h-1zm18.5 0h1v1h-1zm7.3 0h1v1h-1zm1.7 0h1v1h-1zm3 0h1v1h-1zm7.2 0h1v1h-1zm-32.8 .1h1v1h-1zm.5 0h1v1h-1zm3 0h1v1h-1zm8 0h1v1h-1zm2.1 0h1v1h-1zm1.4 0h1v1h-1zm9.6 0h1v1h-1zm-19.6 .1h1v1h-1zm1.2 0h1v1h-1zm8 0h1v1h-1zm.1 0h1v1h-1zm1.4 0h1v1h-1zm9.1 0h1v1h-1zm5.2 0h1v1h-1zm4.8 0h1v1h-1zm-31.9 .1h1v1h-1zm2 0h1v1h-1zm12.4 0h1v1h-1zm7.8 0h1v1h-1zm3.8 0h1v1h-1zm5.3 0h1v1h-1zm.2 0h1v1h-1zm-29.4 .1h1v1h-1zm13.2 0h1v1h-1zm8.8 0h1v1h-1zm6.9 0h1v1h-1zm1.6 0h1v1h-1zm-34.9 .1h1v1h-1zm2.8 0h1v1h-1zm12.4 0h1v1h-1zm10.3 .1h1v1h-1zm5.3 0h1v1h-1zm6.7 0h1v1h-1zm.1 0h1v1h-1zm-31.8 .1h1v1h-1zm8.5 0h1v1h-1zm4.2 0h1v1h-1zm1.5 0h1v1h-1zm2.1 0h1v1h-1zm13 0h1v1h-1zm-43.5 .1h1v1h-1zm9.2 0h1v1h-1zm.6 0h1v1h-1zm17.6 0h1v1h-1zm1.9 0h1v1h-1zm11.3 0h1v1h-1zm7.8 0h1v1h-1zm-48.4 .1h1v1h-1zm1.3 0h1v1h-1zm14.4 0h1v1h-1zm11.6 0h1v1h-1zm.2 0h1v1h-1zm5.8 0h1v1h-1zm.6 0h1v1h-1zm.3 0h1v1h-1zm6.9 0h1v1h-1zm6.5 0h1v1h-1zm-46 .1h1v1h-1zm6.4 0h1v1h-1zm4.4 0h1v1h-1zm2.8 0h1v1h-1zm.3 0h1v1h-1zm13.2 0h1v1h-1zm2.6 0h1v1h-1zm10.5 0h1v1h-1zm-40.2 .1h1v1h-1zm12.4 0h1v1h-1zm1.7 0h1v1h-1zm8.5 0h1v1h-1zm4 0h1v1h-1zm.1 0h1v1h-1zm3.3 0h1v1h-1zm7.5 0h1v1h-1zm-14.9 .1h1v1h-1zm10.8 0h1v1h-1zm.5 0h1v1h-1zm.1 0h1v1h-1zm-2.2 .1h1v1h-1zm2.8 0h1v1h-1zm9.1 0h1v1h-1zm-7.4 .1h1v1h-1zm9.9 0h1v1h-1zm-47.6 .1h1v1h-1zm49 0h1v1h-1zm-15.1 .1h1v1h-1zm4.3 0h1v1h-1zm0 0h1v1h-1zm-4.9 .1h1v1h-1zm5.2 0h1v1h-1zm.8 0h1v1h-1zm8.1 0h1v1h-1zm-9.9 .1h1v1h-1zm.6 0h1v1h-1zm8.3 0h1v1h-1zm-47.5 .1h1v1h-1zm36.8 0h1v1h-1zm4.6 0h1v1h-1zm-9.4 .1h1v1h-1zm0 0h1v1h-1zm15.8 0h1v1h-1zm-15.1 .1h1v1h-1zm.3 .1h1v1h-1zm6.6 0h1v1h-1zm4.9 0h1v1h-1zm5.1 0h1v1h-1zm.9 .1h1v1h-1zm-14.5 .1h1v1h-1zm2.4 0h1v1h-1zm9.8 0h1v1h-1zm.4 0h1v1h-1zm0 0h1v1h-1zm-9.7 .1h1v1h-1zm9.5 0h1v1h-1zm1.6 .1h1v1h-1zm-49.4 .1h1v1h-1zm35 0h1v1h-1zm5 0h1v1h-1zm-7.6 .1h1v1h-1zm3.9 0h1v1h-1zm1.8 0h1v1h-1zm.3 0h1v1h-1zm5.6 0h1v1h-1zm.7 0h1v1h-1zm1.4 0h1v1h-1zm-7.7 .2h1v1h-1zm.7 0h1v1h-1zm7.3 0h1v1h-1zm-13.6 .1h1v1h-1zm10.8 0h1v1h-1zm5.1 0h1v1h-1zm-13.7 .1h1v1h-1zm2.4 .1h1v1h-1zm-1.2 .1h1v1h-1zm10.4 0h1v1h-1zm-10.2 .1h1v1h-1zm0 .1h1v1h-1zm-3 .1h1v1h-1zm.6 0h1v1h-1zm5.5 0h1v1h-1zm10.4 0h1v1h-1zm-14.3 .1h1v1h-1zm2.8 0h1v1h-1zm6.7 0h1v1h-1zm-11.6 .1h1v1h-1zm2.5 0h1v1h-1zm1.9 .1h1v1h-1zm5.6 0h1v1h-1zm4.4 0h1v1h-1zm-48.8 .1h1v1h-1zm35.9 0h1v1h-1zm.5 0h1v1h-1zm3.1 0h1v1h-1zm8.7 0h1v1h-1zm-3 .1h1v1h-1zm-6.4 .1h1v1h-1zm7.2 0h1v1h-1zm3 .1h1v1h-1zm-3.4 .1h1v1h-1zm.2 .1h1v1h-1zm-3.3 .1h1v1h-1zm-1.6 .1h1v1h-1zm4.9 0h1v1h-1zm3.2 0h1v1h-1zm-9.6 .1h1v1h-1zm1.8 0h1v1h-1zm2.2 0h1v1h-1zm4.9 0h1v1h-1zm-7.3 .1h1v1h-1zm-5.9 .2h1v1h-1zm2.8 .1h1v1h-1zm1.4 .1h1v1h-1zm-4.8 .1h1v1h-1zm2.6 0h1v1h-1zm.1 0h1v1h-1zm1.2 0h1v1h-1zm-1.8 .1h1v1h-1zm10.5 0h1v1h-1zm-10.8 .1h1v1h-1zm4.7 0h1v1h-1zm-1.6 .1h1v1h-1zm3.7 0h1v1h-1zm.8 0h1v1h-1zm-9.6 .1h1v1h-1zm5 .1h1v1h-1zm1.5 0h1v1h-1zm-3.4 .1h1v1h-1zm-2.8 .1h1v1h-1zm2.2 0h1v1h-1zm-.6 .1h1v1h-1zm1.5 0h1v1h-1zm1.3 0h1v1h-1zm-4.1 .1h1v1h-1zm4.2 0h1v1h-1zm-3.9 .1h1v1h-1zm1.4 .1h1v1h-1zm-2.6 .2h1v1h-1zm5.5 .1h1v1h-1zm-8.2 .4h1v1h-1zm.3 0h1v1h-1zm5.1 0h1v1h-1zm1.7 .1h1v1h-1zm-6.3 .5h1v1h-1zm2.2 0h1v1h-1zm4 0h1v1h-1zm-14.9 .4h1v1h-1zm6.7 0h1v1h-1zm-7 .1h1v1h-1zm5.4 0h1v1h-1zm-4.9 .1h1v1h-1zm1.1 0h1v1h-1zm13.3 0h1v1h-1zm-3.7 .1h1v1h-1zm1.8 0h1v1h-1zm-11.4 .1h1v1h-1zm2.7 0h1v1h-1zm1.1 .1h1v1h-1zm1.1 0h1v1h-1zm5.2 0h1v1h-1zm1.7 0h1v1h-1zm-6 .1h1v1h-1zm3.2 .1h1v1h-1zm.7 .1h1v1h-1zm-8.6 .1h1v1h-1zm2.6 0h1v1h-1zm1.1 .1h1v1h-1zm-3.7 .1h1v1h-1zm1 0h1v1h-1zm9.7 0h1v1h-1zm.2 0h1v1h-1zm-10.9 .1h1v1h-1zm.1 0h1v1h-1zm5.6 0h1v1h-1zm.3 0h1v1h-1zm-5.8 .1h1v1h-1zm9.5 .2h1v1h-1zm-9.4 .1h1v1h-1zm3.3 0h1v1h-1zm7.4 0h1v1h-1zm-10.2 .1h1v1h-1zm9.2 0h1v1h-1zm-10.4 .2h1v1h-1zm2.7 0h1v1h-1zm-3.6 .1h1v1h-1zm4.8 0h1v1h-1zm-6.4 .1h1v1h-1zm.3 0h1v1h-1zm1.8 0h1v1h-1zm-2.6 .1h1v1h-1zm4.4 0h1v1h-1zm1.3 .1h1v1h-1zm1.4 0h1v1h-1zm-6.8 .1h1v1h-1zm-1.4 .1h1v1h-1zm4.2 0h1v1h-1zm-1.5 .1h1v1h-1zm.7 0h1v1h-1zm.9 .1h1v1h-1zm-2.8 .4h1v1h-1zm-3.7 .2h1v1h-1zm1.4 0h1v1h-1zm4 .2h1v1h-1zm-4.5 .1h1v1h-1zm6.5 0h1v1h-1zm-4.5 .1h1v1h-1zm1.6 0h1v1h-1zm-3.2 .1h1v1h-1zm6.3 0h1v1h-1zm-6.5 .2h1v1h-1zm1.2 .1h1v1h-1zm-3.5 .1h1v1h-1zm5.8 .2h1v1h-1zm-5.8 .2h1v1h-1zm1.4 0h1v1h-1zm.3 0h1v1h-1zm3.6 0h1v1h-1zm.7 .3h1v1h-1zm-10.1 .3h1v1h-1zm4.5 .1h1v1h-1zm1.7 0h1v1h-1zm-2.4 .1h1v1h-1zm.2 .1h1v1h-1zm-3.8 .2h1v1h-1zm2.5 .2h1v1h-1zm-16.8 .1h1v1h-1zm10.7 0h1v1h-1zm.9 .3h1v1h-1zm.8 .1h1v1h-1zm.8 .4h1v1h-1zm-12.6 .2h1v1h-1zm9.2 0h1v1h-1zm-1.4 .2h1v1h-1zm1.2 .1h1v1h-1zm-2 .3h1v1h-1zm-1.9 .3h1v1h-1zm6.5 0h1v1h-1zm-8.3 .1h1v1h-1zm.8 .2h1v1h-1zm3.7 0h1v1h-1zm-2.2 .6h1v1h-1z" fill="#3848d8"/><path d="M0 0m34.2 34.1h1v1h-1zm.3 0h1v1h-1zm.2 0h1v1h-1zm.9 0h1v1h-1zm.2 0h1v1h-1zm-1.8 .1h1v1h-1zm.1 0h1v1h-1zm.5 0h1v1h-1zm0 0h1v1h-1zm1.2 0h1v1h-1zm-1.2 .1h1v1h-1zm.5 0h1v1h-1zm.1 0h1v1h-1zm8.7 0h1v1h-1zm-9.8 .1h1v1h-1zm.7 0h1v1h-1zm8.2 0h1v1h-1zm-8.7 .1h1v1h-1zm.7 0h1v1h-1zm.3 0h1v1h-1zm7.8 0h1v1h-1zm-9.1 .1h1v1h-1zm9.2 0h1v1h-1zm-8.3 .1h1v1h-1zm-.8 .2h1v1h-1zm1.3 0h1v1h-1zm7.6 0h1v1h-1zm-8.2 .1h1v1h-1zm-1.4 .1h1v1h-1zm.3 0h1v1h-1zm10.3 0h1v1h-1zm-10.9 .1h1v1h-1zm.1 .1h1v1h-1zm10.8 .1h1v1h-1zm.5 0h1v1h-1zm-11 .1h1v1h-1zm11 0h1v1h-1zm.4 .3h1v1h-1zm-.6 .2h1v1h-1zm.9 .1h1v1h-1zm-.2 .1h1v1h-1zm.5 0h1v1h-1zm-.1 .4h1v1h-1zm.2 .2h1v1h-1zm-13.1 .4h1v1h-1zm-.2 .1h1v1h-1zm-.1 .1h1v1h-1zm.5 .2h1v1h-1zm-.5 .1h1v1h-1zm-.1 .1h1v1h-1zm15.7 1.3h1v1h-1zm-.7 .5h1v1h-1zm0 0h1v1h-1zm.3 .1h1v1h-1zm.2 0h1v1h-1zm-11.8 .3h1v1h-1zm11.2 0h1v1h-1zm-11.4 .1h1v1h-1zm12.2 0h1v1h-1zm-.7 .1h1v1h-1zm.4 0h1v1h-1zm.3 0h1v1h-1zm.1 0h1v1h-1zm-12.2 .1h1v1h-1zm-.5 .1h1v1h-1zm.5 0h1v1h-1zm11.3 0h1v1h-1zm.3 .1h1v1h-1zm-11.4 .1h1v1h-1zm11.6 .1h1v1h-1zm-.5 .1h1v1h-1zm.2 0h1v1h-1zm.2 0h1v1h-1zm.3 0h1v1h-1zm-.2 .1h1v1h-1zm.4 0h1v1h-1zm-3.6 .1h1v1h-1zm1.2 0h1v1h-1zm1.7 0h1v1h-1zm-8.8 .1h1v1h-1zm.5 0h1v1h-1zm6.1 0h1v1h-1zm.2 0h1v1h-1zm-.5 .1h1v1h-1zm.1 0h1v1h-1zm-.7 .1h1v1h-1zm-6 .1h1v1h-1zm.1 0h1v1h-1zm.6 0h1v1h-1zm6.9 0h1v1h-1zm.1 0h1v1h-1zm-7.3 .1h1v1h-1zm.1 0h1v1h-1zm7 0h1v1h-1zm.1 0h1v1h-1zm-1.4 .1h1v1h-1zm.8 0h1v1h-1zm-1 .1h1v1h-1zm.7 0h1v1h-1zm.5 0h1v1h-1zm.5 0h1v1h-1zm-7.5 .1h1v1h-1zm.3 0h1v1h-1zm-.2 .1h1v1h-1zm.2 0h1v1h-1zm.1 0h1v1h-1zm7.3 0h1v1h-1zm-21.1 38.2h1v1h-1zm.3 0h1v1h-1zm-1 .1h1v1h-1zm.4 0h1v1h-1zm.5 0h1v1h-1zm.7 0h1v1h-1zm-.9 .1h1v1h-1zm-.2 .1h1v1h-1zm-.6 .1h1v1h-1zm-.1 .1h1v1h-1zm.1 0h1v1h-1zm1.4 .1h1v1h-1zm-1 .1h1v1h-1zm-.3 .1h1v1h-1zm.4 0h1v1h-1zm.5 .1h1v1h-1zm.5 0h1v1h-1zm.2 0h1v1h-1zm2.7 .2h1v1h-1zm.3 0h1v1h-1zm.1 .2h1v1h-1zm.1 0h1v1h-1zm-.9 .2h1v1h-1zm.6 .1h1v1h-1zm-.6 .1h1v1h-1zm.4 .1h1v1h-1zm.9 .2h1v1h-1zm.5 0h1v1h-1zm0 0h1v1h-1zm-.2 .3h1v1h-1zm-.4 .4h1v1h-1zm0 0h1v1h-1zm.2 0h1v1h-1zm.5 .1h1v1h-1zm-.1 .1h1v1h-1zm.7 1h1v1h-1zm-.5 .1h1v1h-1zm.3 .1h1v1h-1zm-.2 .2h1v1h-1zm.4 .2h1v1h-1zm0 .1h1v1h-1zm-.5 .1h1v1h-1zm.9 .1h1v1h-1zm-.4 .1h1v1h-1zm.2 0h1v1h-1zm-1.6 1.1h1v1h-1zm0 .2h1v1h-1zm.1 .1h1v1h-1zm.6 .2h1v1h-1zm-.4 .4h1v1h-1zm-8 1.1h1v1h-1zm-.5 .2h1v1h-1zm.6 .1h1v1h-1zm-.5 .1h1v1h-1zm-.1 .2h1v1h-1zm0 0h1v1h-1zm.2 0h1v1h-1zm.2 0h1v1h-1zm0 .3h1v1h-1zm.3 0h1v1h-1zm.1 0h1v1h-1z" fill="#18d8b8"/><path d="M0 0m40.2 33.2h1v1h-1zm0 .2h1v1h-1zm.1 0h1v1h-1zm0 .2h1v1h-1zm-.2 .1h1v1h-1zm.1 0h1v1h-1zm.6 .1h1v1h-1zm-.7 .1h1v1h-1zm0 0h1v1h-1zm.5 0h1v1h-1zm-.6 .1h1v1h-1zm-7.4 2.2h1v1h-1zm.1 0h1v1h-1zm-.1 .4h1v1h-1zm-.4 .1h1v1h-1zm-.1 .3h1v1h-1zm.1 0h1v1h-1zm14.4 .2h1v1h-1zm-.2 .1h1v1h-1zm-.2 .1h1v1h-1zm.7 0h1v1h-1zm-.6 .1h1v1h-1zm.4 0h1v1h-1zm-.6 .3h1v1h-1zm.7 0h1v1h-1zm-.3 .2h1v1h-1zm1 0h1v1h-1zm-14.7 .2h1v1h-1zm14.6 0h1v1h-1zm0 0h1v1h-1zm.3 .1h1v1h-1zm-.2 .1h1v1h-1zm0 0h1v1h-1zm-14.8 .1h1v1h-1zm-.5 .2h1v1h-1zm.2 .1h1v1h-1zm1.1 .3h1v1h-1zm0 0h1v1h-1zm0 .2h1v1h-1zm-.4 .2h1v1h-1zm.4 0h1v1h-1zm0 0h1v1h-1zm-.3 .1h1v1h-1zm0 .2h1v1h-1zm.4 0h1v1h-1zm-.2 .1h1v1h-1zm.2 0h1v1h-1zm12.6 1.1h1v1h-1zm-8.8 .1h1v1h-1zm-.3 .2h1v1h-1zm-.1 .1h1v1h-1zm.8 0h1v1h-1zm-.3 .1h1v1h-1zm.2 0h1v1h-1zm8.7 .1h1v1h-1zm-.2 .1h1v1h-1zm-8.9 .1h1v1h-1zm-15.6 39.3h1v1h-1zm-.5 .1h1v1h-1zm.1 0h1v1h-1zm.7 .1h1v1h-1zm-.1 .3h1v1h-1zm0 0h1v1h-1zm-.1 .2h1v1h-1zm-.1 .1h1v1h-1zm8.5 1.3h1v1h-1zm-.2 .3h1v1h-1zm.3 0h1v1h-1zm.3 .1h1v1h-1zm-.3 .3h1v1h-1zm-2.5 4.1h1v1h-1zm0 .4h1v1h-1zm.1 0h1v1h-1zm-.7 .3h1v1h-1zm.2 .1h1v1h-1zm-.2 .1h1v1h-1zm.1 0h1v1h-1zm.1 0h1v1h-1z" fill="#18c8b8"/><path d="M0 0m35.5 22.9h1v1h-1zm.5 0h1v1h-1zm2.9 .3h1v1h-1zm-2.4 .3h1v1h-1zm.8 .4h1v1h-1zm12 .2h1v1h-1zm-16 .2h1v1h-1zm-3.5 .2h1v1h-1zm11.4 .1h1v1h-1zm-1.1 .1h1v1h-1zm13.3 .5h1v1h-1zm2.6 0h1v1h-1zm-26.2 .1h1v1h-1zm.6 .1h1v1h-1zm23.4 .1h1v1h-1zm-24 .1h1v1h-1zm19.8 0h1v1h-1zm.7 .1h1v1h-1zm-2.5 .1h1v1h-1zm-3.2 .1h1v1h-1zm1.2 .2h1v1h-1zm-19.2 .2h1v1h-1zm22.6 0h1v1h-1zm-7 .1h1v1h-1zm13.4 .1h1v1h-1zm-28.2 .1h1v1h-1zm.2 .1h1v1h-1zm23.8 .2h1v1h-1zm-2.1 .2h1v1h-1zm-3 .2h1v1h-1zm8.7 0h1v1h-1zm-30.4 .3h1v1h-1zm30.8 .1h1v1h-1zm.5 0h1v1h-1zm-6.7 .3h1v1h-1zm2.5 .1h1v1h-1zm3.2 .2h1v1h-1zm-4 .1h1v1h-1zm-1.1 .1h1v1h-1zm4.1 0h1v1h-1zm-1.1 .4h1v1h-1zm14.1 .1h1v1h-1zm-45.3 .1h1v1h-1zm31.2 .5h1v1h-1zm14.4 .1h1v1h-1zm.7 .1h1v1h-1zm-13.1 .1h1v1h-1zm8.8 .2h1v1h-1zm2.9 0h1v1h-1zm-3.7 .1h1v1h-1zm-41.4 .1h1v1h-1zm47.6 0h1v1h-1zm-48.5 .1h1v1h-1zm34.3 .1h1v1h-1zm14.3 0h1v1h-1zm-13.1 .3h1v1h-1zm1.6 0h1v1h-1zm-.3 .1h1v1h-1zm10.4 0h1v1h-1zm-46.7 .2h1v1h-1zm38.7 0h1v1h-1zm3.2 .3h1v1h-1zm.7 0h1v1h-1zm-42.8 .1h1v1h-1zm33.6 .1h1v1h-1zm13.1 0h1v1h-1zm-11 .4h1v1h-1zm-.1 .2h1v1h-1zm6.4 0h1v1h-1zm-4.5 .1h1v1h-1zm1.1 0h1v1h-1zm6.5 .1h1v1h-1zm-10.3 .3h1v1h-1zm7.7 0h1v1h-1zm4.5 0h1v1h-1zm-5.5 .1h1v1h-1zm-3 .1h1v1h-1zm3.4 .1h1v1h-1zm-41.1 .6h1v1h-1zm-.8 .1h1v1h-1zm44.2 0h1v1h-1zm-5.7 .3h1v1h-1zm2 .1h1v1h-1zm-41.2 .1h1v1h-1zm.6 .1h1v1h-1zm42 .6h1v1h-1zm-42.8 .7h1v1h-1zm0 0h1v1h-1zm39.6 0h1v1h-1zm3.8 0h1v1h-1zm-.9 .1h1v1h-1zm-41.1 .4h1v1h-1zm39.5 0h1v1h-1zm1.5 .3h1v1h-1zm-41.1 .6h1v1h-1zm42 .3h1v1h-1zm-.6 .4h1v1h-1zm1.1 .2h1v1h-1zm1.1 0h1v1h-1zm-2.7 .1h1v1h-1zm-40.5 .1h1v1h-1zm39.8 1h1v1h-1zm1 .2h1v1h-1zm-40.3 .7h1v1h-1zm40 .4h1v1h-1zm-.5 .2h1v1h-1zm-36.1 .9h1v1h-1zm1.3 .6h1v1h-1zm33.7 .7h1v1h-1zm.5 0h1v1h-1zm-1.9 .2h1v1h-1zm3 .4h1v1h-1zm-2.9 .4h1v1h-1zm4.6 0h1v1h-1zm-.7 .2h1v1h-1zm-2.2 .3h1v1h-1zm.6 0h1v1h-1zm-.5 .1h1v1h-1zm1.7 .1h1v1h-1zm-1.2 .3h1v1h-1zm1.9 .2h1v1h-1zm-5.6 .4h1v1h-1zm-.4 1h1v1h-1zm-26.2 .6h1v1h-1zm1.6 0h1v1h-1zm-3.1 .6h1v1h-1zm27.2 0h1v1h-1zm1.9 .1h1v1h-1zm-28.1 .2h1v1h-1zm-1.2 .1h1v1h-1zm.5 .5h1v1h-1zm28.8 0h1v1h-1zm-36 .2h1v1h-1zm14.2 0h1v1h-1zm-13.4 .1h1v1h-1zm12.8 0h1v1h-1zm-13 .3h1v1h-1zm30.8 0h1v1h-1zm-21.2 .2h1v1h-1zm26.7 .1h1v1h-1zm-28.4 .2h1v1h-1zm.4 0h1v1h-1zm5.3 .1h1v1h-1zm-14.5 .2h1v1h-1zm27.6 0h1v1h-1zm3.5 0h1v1h-1zm-17 .1h1v1h-1zm17.5 .1h1v1h-1zm-5 .1h1v1h-1zm-11.1 .4h1v1h-1zm13.8 0h1v1h-1zm-1.7 .1h1v1h-1zm-1.2 .1h1v1h-1zm1.3 .1h1v1h-1zm-15.6 .1h1v1h-1zm-10.3 .1h1v1h-1zm5.8 0h1v1h-1zm8.6 0h1v1h-1zm-2 .1h1v1h-1zm17.9 0h1v1h-1zm-14 .2h1v1h-1zm-16.1 .1h1v1h-1zm14.9 .1h1v1h-1zm14.1 0h1v1h-1zm-22.4 .1h1v1h-1zm4.3 .1h1v1h-1zm2.7 0h1v1h-1zm16.7 0h1v1h-1zm-20.5 .1h1v1h-1zm-8.5 .2h1v1h-1zm20.2 0h1v1h-1zm-4.9 .1h1v1h-1zm1.9 0h1v1h-1zm4.6 0h1v1h-1zm-19.9 .1h1v1h-1zm9.6 0h1v1h-1zm-14 .1h1v1h-1zm1.4 0h1v1h-1zm.1 0h1v1h-1zm8.4 0h1v1h-1zm12.2 0h1v1h-1zm.6 0h1v1h-1zm-15 .2h1v1h-1zm9.1 0h1v1h-1zm1.2 0h1v1h-1zm-13.2 .1h1v1h-1zm20.9 0h1v1h-1zm-22.3 .4h1v1h-1zm17.8 .2h1v1h-1zm-21.2 .2h1v1h-1zm4.6 0h1v1h-1zm5.3 .1h1v1h-1zm-12.2 .2h1v1h-1zm2.8 0h1v1h-1zm7.6 .1h1v1h-1zm13.8 0h1v1h-1zm.3 0h1v1h-1zm-16.3 .1h1v1h-1zm12.7 0h1v1h-1zm1.5 0h1v1h-1zm-4.4 .3h1v1h-1zm2.9 .2h1v1h-1zm-12.2 .1h1v1h-1zm-.2 .2h1v1h-1zm3.3 .1h1v1h-1zm11.4 0h1v1h-1zm-12.1 .1h1v1h-1zm17.2 .1h1v1h-1zm-2 .1h1v1h-1zm1.5 0h1v1h-1zm-16.9 .1h1v1h-1zm19.2 .2h1v1h-1zm1.6 0h1v1h-1zm-30.5 .4h1v1h-1zm20.2 .1h1v1h-1zm11.5 0h1v1h-1zm-33.7 .2h1v1h-1zm30.2 0h1v1h-1zm-9.8 .1h1v1h-1zm12.4 0h1v1h-1zm-2.1 .1h1v1h-1zm-9.9 .2h1v1h-1zm6.7 .1h1v1h-1zm-2.1 .4h1v1h-1zm8.2 0h1v1h-1zm-10.7 .1h1v1h-1zm8.4 0h1v1h-1zm-4.3 .2h1v1h-1zm-6.3 .1h1v1h-1zm5.4 0h1v1h-1zm-6.1 1.1h1v1h-1zm9.8 .1h1v1h-1zm-1.5 .1h1v1h-1zm5 0h1v1h-1zm-12.4 .2h1v1h-1zm10.8 .2h1v1h-1zm0 .2h1v1h-1zm.2 .1h1v1h-1zm2.7 .8h1v1h-1zm-1.1 .3h1v1h-1zm-.6 .7h1v1h-1zm-1 .3h1v1h-1zm.5 .8h1v1h-1zm1.3 1.4h1v1h-1zm.5 .7h1v1h-1zm-.2 .1h1v1h-1zm0 .1h1v1h-1zm2.2 .5h1v1h-1zm.8 1.7h1v1h-1zm-2.7 .2h1v1h-1zm3.8 .5h1v1h-1zm-1.5 .2h1v1h-1zm-.1 .4h1v1h-1zm1.3 .6h1v1h-1zm-2.5 .3h1v1h-1zm.2 .8h1v1h-1zm2.9 .1h1v1h-1zm.7 .2h1v1h-1zm-.5 1.3h1v1h-1zm8 .5h1v1h-1zm5.1 .2h1v1h-1zm-8.4 .2h1v1h-1zm-3.2 .2h1v1h-1zm.3 .4h1v1h-1zm12 .4h1v1h-1zm-4 .3h1v1h-1zm2.9 .1h1v1h-1zm0 .2h1v1h-1zm4.8 0h1v1h-1zm2.7 .2h1v1h-1zm1.6 .5h1v1h-1zm.4 0h1v1h-1zm-6 .1h1v1h-1zm-5.8 .1h1v1h-1zm.1 .1h1v1h-1zm8.1 .6h1v1h-1zm3.5 .2h1v1h-1zm-3.2 1.4h1v1h-1zm1.6 .1h1v1h-1zm1.5 .4h1v1h-1zm-5 .4h1v1h-1zm3.5 0h1v1h-1zm-1.1 .6h1v1h-1zm-4.1 .2h1v1h-1zm5 0h1v1h-1zm-.2 .1h1v1h-1zm-6.5 .5h1v1h-1zm4.1 .4h1v1h-1zm-1.5 .1h1v1h-1zm3.6 .4h1v1h-1zm-4.5 .1h1v1h-1zm-.6 .1h1v1h-1zm3.5 0h1v1h-1zm1.8 .4h1v1h-1zm-2.7 .6h1v1h-1zm-3.9 .7h1v1h-1zm.5 .7h1v1h-1zm-7.2 .2h1v1h-1zm4.8 .5h1v1h-1zm-5.9 .2h1v1h-1zm2.4 .3h1v1h-1zm-7.1 .3h1v1h-1zm8.8 .5h1v1h-1zm3.3 .1h1v1h-1zm-13.5 .2h1v1h-1zm7.4 .1h1v1h-1zm6.2 .3h1v1h-1zm-5.3 .1h1v1h-1zm-12.7 .5h1v1h-1zm5.2 0h1v1h-1zm11.4 .3h1v1h-1zm-20.1 .6h1v1h-1zm5.2 .7h1v1h-1zm-3 .2h1v1h-1zm-5.9 .1h1v1h-1zm6.1 .2h1v1h-1zm-4.1 .4h1v1h-1zm-8.6 1.6h1v1h-1zm1.5 .3h1v1h-1zm-6.1 .8h1v1h-1zm2.2 .2h1v1h-1zm-4.3 .3h1v1h-1zm1.6 .2h1v1h-1zm-4.5 .6h1v1h-1zm-6.9 .7h1v1h-1zm3.9 .4h1v1h-1z" fill="#4858e8"/><path d="M0 0m38.6 24.4h1v1h-1zm-1.3 .1h1v1h-1zm-.1 .3h1v1h-1zm-6.1 1.5h1v1h-1zm9 .7h1v1h-1zm1.1 0h1v1h-1zm12 2.7h1v1h-1zm-30.2 .4h1v1h-1zm29.4 .2h1v1h-1zm.2 .1h1v1h-1zm.7 .5h1v1h-1zm7.9 2.3h1v1h-1zm-.6 .4h1v1h-1zm1.2 0h1v1h-1zm-1.1 .1h1v1h-1zm-1.8 .9h1v1h-1zm-36.7 .2h1v1h-1zm.4 0h1v1h-1zm35.5 .5h1v1h-1zm-35.1 .1h1v1h-1zm36.9 2.2h1v1h-1zm-36.7 1.6h1v1h-1zm37.2 .1h1v1h-1zm.3 1.2h1v1h-1zm-.5 .4h1v1h-1zm-1.7 1.2h1v1h-1zm-31.2 1h1v1h-1zm30.9 .2h1v1h-1zm-30.6 .3h1v1h-1zm.6 .5h1v1h-1zm.2 0h1v1h-1zm5.4 3h1v1h-1zm20.6 .3h1v1h-1zm1.1 0h1v1h-1zm.2 0h1v1h-1zm-6 1h1v1h-1zm-2.3 .6h1v1h-1zm-8.3 1h1v1h-1zm7.5 .8h1v1h-1zm-3.3 .4h1v1h-1zm-18 2.7h1v1h-1zm-.4 .2h1v1h-1zm13 0h1v1h-1zm-.9 .2h1v1h-1zm-12.4 .3h1v1h-1zm9.2 0h1v1h-1zm4 0h1v1h-1zm-11.4 .4h1v1h-1zm12 0h1v1h-1zm-9.7 .7h1v1h-1zm-5 .1h1v1h-1zm4.9 0h1v1h-1zm-7.4 .4h1v1h-1zm8.8 0h1v1h-1zm-6.4 .2h1v1h-1zm6.6 .2h1v1h-1zm-9 .3h1v1h-1zm10.7 .1h1v1h-1zm7.7 2h1v1h-1zm10.4 0h1v1h-1zm.8 .4h1v1h-1zm-1 .4h1v1h-1zm-2.6 .1h1v1h-1zm1.1 0h1v1h-1zm-1.3 .2h1v1h-1zm1.8 0h1v1h-1zm1.3 0h1v1h-1zm.4 .1h1v1h-1zm-.9 .2h1v1h-1zm1.7 .6h1v1h-1zm-.8 1.4h1v1h-1zm1.5 .6h1v1h-1zm-1.4 .3h1v1h-1zm-2.5 .3h1v1h-1zm2.7 .1h1v1h-1zm2.8 .5h1v1h-1zm-1.9 .7h1v1h-1zm.1 .1h1v1h-1zm1.4 0h1v1h-1zm1.3 0h1v1h-1zm-.2 .3h1v1h-1zm-2.8 .1h1v1h-1zm.2 .1h1v1h-1zm1.1 1h1v1h-1zm-13.9 .1h1v1h-1zm12.5 0h1v1h-1zm2.2 0h1v1h-1zm-15.1 .2h1v1h-1zm-.4 .9h1v1h-1zm15.2 .1h1v1h-1zm-.1 .2h1v1h-1zm-12.6 .2h1v1h-1zm.1 .2h1v1h-1zm12.9 0h1v1h-1zm-2 .2h1v1h-1zm1.1 .3h1v1h-1zm.8 .3h1v1h-1zm.2 .2h1v1h-1zm1.2 .2h1v1h-1zm-3.2 1.2h1v1h-1zm1.4 .2h1v1h-1zm.6 0h1v1h-1zm-1.8 .1h1v1h-1zm3.4 0h1v1h-1zm.4 0h1v1h-1zm-4.2 .4h1v1h-1zm2.6 .1h1v1h-1zm1.5 .3h1v1h-1zm-3.4 .3h1v1h-1zm4.1 0h1v1h-1zm-.1 .3h1v1h-1zm-4.8 .1h1v1h-1zm7 0h1v1h-1zm-.7 .3h1v1h-1zm3 .3h1v1h-1zm-40.3 .1h1v1h-1zm-.2 .3h1v1h-1zm.3 .1h1v1h-1zm.1 .2h1v1h-1zm30.7 .1h1v1h-1zm21.9 0h1v1h-1zm1.3 .1h1v1h-1zm-53.5 .4h1v1h-1zm53.3 0h1v1h-1zm.2 .4h1v1h-1zm1 .3h1v1h-1zm.2 0h1v1h-1zm-3.4 .1h1v1h-1zm.1 0h1v1h-1zm-1 .3h1v1h-1zm3.9 .6h1v1h-1zm-4.1 .5h1v1h-1zm4 .2h1v1h-1zm.7 .1h1v1h-1zm-3.9 .3h1v1h-1zm2.7 .7h1v1h-1zm1.9 .1h1v1h-1zm-4 .8h1v1h-1zm4.8 0h1v1h-1zm-.3 .7h1v1h-1zm.6 0h1v1h-1zm-5.8 .3h1v1h-1zm-.2 .7h1v1h-1zm.3 .1h1v1h-1zm-.6 .4h1v1h-1zm-1.4 .1h1v1h-1zm.1 .5h1v1h-1zm-4.8 .4h1v1h-1zm4.7 0h1v1h-1zm.9 .6h1v1h-1zm-8 .2h1v1h-1zm7.7 .1h1v1h-1zm-10.1 .2h1v1h-1zm5.7 .1h1v1h-1zm-6.1 .1h1v1h-1zm7.2 0h1v1h-1zm1.3 .6h1v1h-1zm-11.6 1.2h1v1h-1zm.5 .8h1v1h-1zm-1.7 .1h1v1h-1zm-4.8 .4h1v1h-1zm.8 .1h1v1h-1zm-10.7 3.2h1v1h-1zm-4.1 1.2h1v1h-1zm-3.5 .3h1v1h-1zm-4.3 1.1h1v1h-1z" fill="#4848e8"/><path d="M0 0m42.2 34.1h1v1h-1zm.1 0h1v1h-1zm-.1 .1h1v1h-1zm.4 0h1v1h-1zm.2 0h1v1h-1zm-.4 .4h1v1h-1zm.5 0h1v1h-1zm-.8 .1h1v1h-1zm.4 0h1v1h-1zm.1 0h1v1h-1zm-.6 .1h1v1h-1zm.6 0h1v1h-1zm-.5 .1h1v1h-1zm.7 0h1v1h-1zm-9.5 1.2h1v1h-1zm.7 .1h1v1h-1zm-1 .1h1v1h-1zm.4 0h1v1h-1zm.3 0h1v1h-1zm-.7 .1h1v1h-1zm.9 0h1v1h-1zm-.1 .1h1v1h-1zm-.8 .1h1v1h-1zm.2 0h1v1h-1zm.4 .1h1v1h-1zm-.2 .1h1v1h-1zm0 0h1v1h-1zm11.8 .5h1v1h-1zm-.2 .1h1v1h-1zm.5 .1h1v1h-1zm.1 0h1v1h-1zm.3 0h1v1h-1zm-.6 .2h1v1h-1zm.2 0h1v1h-1zm.4 .2h1v1h-1zm-12.1 .2h1v1h-1zm.1 0h1v1h-1zm-.7 .1h1v1h-1zm0 0h1v1h-1zm.4 0h1v1h-1zm.1 0h1v1h-1zm-.3 .2h1v1h-1zm.5 0h1v1h-1zm-.4 .2h1v1h-1zm.4 0h1v1h-1zm-.8 .1h1v1h-1zm0 0h1v1h-1zm0 .1h1v1h-1zm.3 .1h1v1h-1zm1.2 .1h1v1h-1zm-.5 .1h1v1h-1zm.5 .1h1v1h-1zm.1 0h1v1h-1zm-.5 .1h1v1h-1zm.8 .1h1v1h-1zm-.2 .2h1v1h-1zm.1 0h1v1h-1zm-.8 .1h1v1h-1zm.6 .2h1v1h-1zm-.1 .1h1v1h-1zm2.3 0h1v1h-1zm9.9 0h1v1h-1zm-10.2 .1h1v1h-1zm.1 0h1v1h-1zm.2 0h1v1h-1zm9.4 0h1v1h-1zm.3 .1h1v1h-1zm-10.4 .1h1v1h-1zm10.6 0h1v1h-1zm-10.7 .1h1v1h-1zm9.9 0h1v1h-1zm0 0h1v1h-1zm.1 0h1v1h-1zm0 0h1v1h-1zm.3 0h1v1h-1zm-10.3 .1h1v1h-1zm.2 0h1v1h-1zm.7 0h1v1h-1zm9.7 0h1v1h-1zm-.6 .1h1v1h-1zm.1 0h1v1h-1zm-9.4 .1h1v1h-1zm9.4 0h1v1h-1zm.2 0h1v1h-1zm-10.1 .1h1v1h-1zm10.4 0h1v1h-1zm-.4 .1h1v1h-1zm.4 0h1v1h-1zm.1 0h1v1h-1zm-4.1 .1h1v1h-1zm-.7 .1h1v1h-1zm.2 0h1v1h-1zm.5 0h1v1h-1zm-.2 .1h1v1h-1zm.3 .1h1v1h-1zm-.3 .2h1v1h-1zm.1 0h1v1h-1zm.3 0h1v1h-1zm.1 0h1v1h-1zm-.8 .1h1v1h-1zm.5 0h1v1h-1zm-.1 .1h1v1h-1zm.4 0h1v1h-1zm-.9 .1h1v1h-1zm.8 .2h1v1h-1z" fill="#18e8a8"/><path d="M0 0m36.6 34h1v1h-1zm-.1 .4h1v1h-1zm-.3 .1h1v1h-1zm.1 0h1v1h-1zm0 0h1v1h-1zm.1 0h1v1h-1zm.5 0h1v1h-1zm-.2 .4h1v1h-1zm10.1 3.2h1v1h-1zm-7 3h1v1h-1zm0 0h1v1h-1zm3.6 0h1v1h-1zm.3 0h1v1h-1zm-.2 .1h1v1h-1zm.2 0h1v1h-1zm.2 0h1v1h-1zm-4.3 .1h1v1h-1zm.1 0h1v1h-1zm3.3 .1h1v1h-1zm-3 .2h1v1h-1zm3.6 0h1v1h-1zm-.5 .1h1v1h-1zm.2 0h1v1h-1zm.7 0h1v1h-1zm-4.1 .2h1v1h-1zm-11.8 45.1h1v1h-1zm.3 0h1v1h-1zm.2 .1h1v1h-1zm-.3 .2h1v1h-1zm0 0h1v1h-1zm.4 .2h1v1h-1zm.1 0h1v1h-1zm-.3 .4h1v1h-1zm.2 0h1v1h-1z" fill="#18d8a8"/><path d="M0 0m27.2 27.1h1v1h-1zm17.7 .1h1v1h-1zm-1.6 .1h1v1h-1zm-16.7 .2h1v1h-1zm17.9 .1h1v1h-1zm-.2 .2h1v1h-1zm-16.6 .1h1v1h-1zm19.3 .3h1v1h-1zm-21.6 .1h1v1h-1zm.2 .5h1v1h-1zm.3 .2h1v1h-1zm-1.3 .4h1v1h-1zm25.4 .8h1v1h-1zm-26.5 1.4h1v1h-1zm30 .6h1v1h-1zm3.3 2.4h1v1h-1zm-33 1.6h1v1h-1zm35.9 3.1h1v1h-1zm-.1 .6h1v1h-1zm-33.4 1.5h1v1h-1zm30.9 1.9h1v1h-1zm-25.4 1.8h1v1h-1zm24.7 .1h1v1h-1zm0 0h1v1h-1zm.5 .4h1v1h-1zm0 .1h1v1h-1zm-1.4 .4h1v1h-1zm-18.9 1.2h1v1h-1zm-1.5 .2h1v1h-1zm.2 .5h1v1h-1zm17.1 .3h1v1h-1zm.4 .1h1v1h-1zm-13 .4h1v1h-1zm7.1 .3h1v1h-1zm-6.5 .2h1v1h-1zm6.6 .3h1v1h-1zm-.9 .1h1v1h-1zm-.9 .4h1v1h-1zm-3.7 .4h1v1h-1zm-14.7 4.5h1v1h-1zm6.9 .6h1v1h-1zm-8 .4h1v1h-1zm2.2 0h1v1h-1zm-2 .3h1v1h-1zm2.3 .2h1v1h-1zm-3.1 .1h1v1h-1zm-4.8 .4h1v1h-1zm18 0h1v1h-1zm-17.4 .3h1v1h-1zm-.7 .4h1v1h-1zm23.6 .3h1v1h-1zm1.6 .2h1v1h-1zm0 .1h1v1h-1zm.2 .3h1v1h-1zm-1.9 .2h1v1h-1zm-1.3 .9h1v1h-1zm-2.6 .6h1v1h-1zm.7 .4h1v1h-1zm-1.2 .2h1v1h-1zm7.9 1.7h1v1h-1zm0 .1h1v1h-1zm-10.7 1h1v1h-1zm1.2 .1h1v1h-1zm10.1 .1h1v1h-1zm-.7 .1h1v1h-1zm3.3 .2h1v1h-1zm-1.9 .1h1v1h-1zm2.4 .5h1v1h-1zm-2.3 .1h1v1h-1zm-1.2 .1h1v1h-1zm-11.3 .1h1v1h-1zm2.9 .2h1v1h-1zm7.8 0h1v1h-1zm1.7 .1h1v1h-1zm1.1 0h1v1h-1zm-10.4 .2h1v1h-1zm5.9 0h1v1h-1zm-8.3 .1h1v1h-1zm8.5 .3h1v1h-1zm.9 .1h1v1h-1zm2.1 0h1v1h-1zm.9 .1h1v1h-1zm-8.4 .5h1v1h-1zm3.2 .4h1v1h-1zm1.7 0h1v1h-1zm-3.8 .2h1v1h-1zm2.7 .1h1v1h-1zm-6.3 .7h1v1h-1zm4.5 0h1v1h-1zm2.9 .1h1v1h-1zm-2.7 .2h1v1h-1zm-4 .3h1v1h-1zm6.6 .2h1v1h-1zm-5 .7h1v1h-1zm1.5 .2h1v1h-1zm8.1 0h1v1h-1zm-9.6 .1h1v1h-1zm0 .4h1v1h-1zm2 0h1v1h-1zm3.7 .1h1v1h-1zm3.8 .1h1v1h-1zm-29.9 .7h1v1h-1zm.1 0h1v1h-1zm29.4 .3h1v1h-1zm-29 .1h1v1h-1zm-.1 .3h1v1h-1zm34.7 .2h1v1h-1zm-34.4 .1h1v1h-1zm15 0h1v1h-1zm13 0h1v1h-1zm0 .2h1v1h-1zm.4 .1h1v1h-1zm-.6 .4h1v1h-1zm-2.7 .1h1v1h-1zm8.5 .3h1v1h-1zm8.6 0h1v1h-1zm2.7 0h1v1h-1zm-16.8 .1h1v1h-1zm6.1 0h1v1h-1zm8.3 0h1v1h-1zm1.7 0h1v1h-1zm-15.7 .1h1v1h-1zm.9 0h1v1h-1zm14.7 .1h1v1h-1zm-.9 .2h1v1h-1zm-4.6 .1h1v1h-1zm4.1 0h1v1h-1zm3.4 .7h1v1h-1zm.6 .1h1v1h-1zm-.6 .1h1v1h-1zm7.3 .9h1v1h-1zm-53.8 .5h1v1h-1zm51.8 .3h1v1h-1zm.7 .2h1v1h-1zm-.5 .1h1v1h-1zm.7 .1h1v1h-1zm-5.6 5.1h1v1h-1zm-6.5 .1h1v1h-1zm5.3 0h1v1h-1zm2.3 0h1v1h-1zm-7.4 .1h1v1h-1zm6.1 .3h1v1h-1zm1 .4h1v1h-1zm-.6 .1h1v1h-1zm-15.3 2.2h1v1h-1zm1.7 .2h1v1h-1zm-4 1.3h1v1h-1zm-5.6 1.4h1v1h-1zm.2 .6h1v1h-1zm-4.5 .5h1v1h-1zm-4 .8h1v1h-1zm-4 1.2h1v1h-1zm-4.1 1h1v1h-1z" fill="#4848d8"/><path d="M0 0m77.3 12.3h1v1h-1zm-10.7 .8h1v1h-1zm-11.7 .7h1v1h-1zm8.2 .5h1v1h-1zm-27.1 .4h1v1h-1zm-1.3 .8h1v1h-1zm-4.4 .4h1v1h-1zm57.6 .2h1v1h-1zm-30.5 .7h1v1h-1zm-2.5 .8h1v1h-1zm-20.6 .1h1v1h-1zm6.9 .2h1v1h-1zm14.4 0h1v1h-1zm11.7 0h1v1h-1zm12.4 .1h1v1h-1zm-27.3 .4h1v1h-1zm-6.7 .2h1v1h-1zm-6.7 .2h1v1h-1zm1.4 .7h1v1h-1zm8.9 .7h1v1h-1zm12.8 0h1v1h-1zm-3.3 .4h1v1h-1zm32.1 0h1v1h-1zm-67.9 .1h1v1h-1zm38.6 0h1v1h-1zm30.7 .6h1v1h-1zm-65.2 .4h1v1h-1zm-2 .1h1v1h-1zm-4.3 .2h1v1h-1zm30.4 .4h1v1h-1zm-31.1 .4h1v1h-1zm39.3 .3h1v1h-1zm5.7 .1h1v1h-1zm15 0h1v1h-1zm-5.9 .5h1v1h-1zm24.4 2.1h1v1h-1zm-21.6 .2h1v1h-1zm-.2 .1h1v1h-1zm-4.4 .2h1v1h-1zm-11.1 .2h1v1h-1zm5.5 .1h1v1h-1zm-4.2 .6h1v1h-1zm13.7 .9h1v1h-1zm-5.1 .6h1v1h-1zm15.5 0h1v1h-1zm-13.6 1.6h1v1h-1zm6.9 2.6h1v1h-1zm6.3 .4h1v1h-1zm-3.2 1h1v1h-1zm.9 .3h1v1h-1zm-12.9 .1h1v1h-1zm.7 1h1v1h-1zm2.4 1.6h1v1h-1zm8.6 .8h1v1h-1zm9.6 .4h1v1h-1zm-18.1 .6h1v1h-1zm9.8 .9h1v1h-1zm-16.7 .8h1v1h-1zm.5 2.4h1v1h-1zm14.9 .5h1v1h-1zm-58.5 .4h1v1h-1zm47.8 0h1v1h-1zm18.3 .7h1v1h-1zm-66 1.8h1v1h-1zm57.8 0h1v1h-1zm-61.9 .1h1v1h-1zm50 .9h1v1h-1zm3.1 1.6h1v1h-1zm-7.1 .3h1v1h-1zm9.4 .7h1v1h-1zm-14.3 3h1v1h-1zm-4.3 .2h1v1h-1zm3.1 .9h1v1h-1zm1.8 1.3h1v1h-1zm-2.4 2.5h1v1h-1zm3.3 .7h1v1h-1zm1.3 .8h1v1h-1zm-1.2 1.6h1v1h-1zm-1.3 1.5h1v1h-1zm22.6 1.9h1v1h-1zm-19.3 .5h1v1h-1zm12 3.4h1v1h-1zm2.8 .5h1v1h-1zm-9.3 .3h1v1h-1zm4.6 .5h1v1h-1zm7.6 .4h1v1h-1zm2.3 5.2h1v1h-1zm-1.8 3.8h1v1h-1zm-1.4 4.3h1v1h-1zm-2.6 .5h1v1h-1zm-.1 2.4h1v1h-1zm-13.5 1.7h1v1h-1zm-2.9 .2h1v1h-1zm-3.2 .6h1v1h-1zm-1.8 .3h1v1h-1zm-5.2 3.8h1v1h-1zm-14.3 .1h1v1h-1zm3.6 2.6h1v1h-1zm-14.8 .5h1v1h-1zm-5 .3h1v1h-1zm55.4 1h1v1h-1zm-42 1.4h1v1h-1zm28.3 .2h1v1h-1zm-9.2 .8h1v1h-1z" fill="#5868e8"/><path d="M0 0m35.7 19.6h1v1h-1zm11.2 .2h1v1h-1zm-11.6 .2h1v1h-1zm12 .4h1v1h-1zm-8.8 .6h1v1h-1zm7.8 .3h1v1h-1zm-12.1 .3h1v1h-1zm13.7 0h1v1h-1zm-8.5 .1h1v1h-1zm-8.1 .4h1v1h-1zm18.2 .4h1v1h-1zm-4.6 .4h1v1h-1zm-18.3 .1h1v1h-1zm4.4 0h1v1h-1zm16.2 .2h1v1h-1zm5.8 .1h1v1h-1zm-28.4 .2h1v1h-1zm19.6 .2h1v1h-1zm9.9 0h1v1h-1zm-28.8 .1h1v1h-1zm17.3 0h1v1h-1zm13.6 0h1v1h-1zm-24.4 .1h1v1h-1zm16 .6h1v1h-1zm-20.8 .5h1v1h-1zm31.2 .1h1v1h-1zm-.9 .7h1v1h-1zm-33.4 1.1h1v1h-1zm33.7 .6h1v1h-1zm-35.3 .1h1v1h-1zm38 0h1v1h-1zm8.3 .3h1v1h-1zm-10.4 .5h1v1h-1zm6.7 .1h1v1h-1zm-43.7 .3h1v1h-1zm49 .5h1v1h-1zm-50.6 1.8h1v1h-1zm51.3 .5h1v1h-1zm-4.6 2.7h1v1h-1zm1 0h1v1h-1zm-1.2 1h1v1h-1zm-1 .9h1v1h-1zm4.1 0h1v1h-1zm-1.8 .9h1v1h-1zm.6 .7h1v1h-1zm-48.3 .1h1v1h-1zm48.4 .6h1v1h-1zm12.5 1h1v1h-1zm1.2 0h1v1h-1zm-60 .1h1v1h-1zm-.4 1h1v1h-1zm59.8 .4h1v1h-1zm-17.1 .4h1v1h-1zm3.2 2.6h1v1h-1zm-1.2 1.3h1v1h-1zm-1.8 .7h1v1h-1zm8.3 .1h1v1h-1zm-6.6 .6h1v1h-1zm6.2 .3h1v1h-1zm-12.3 .1h1v1h-1zm4 .1h1v1h-1zm-41.5 .1h1v1h-1zm45.4 0h1v1h-1zm5.7 .1h1v1h-1zm-9.5 1.2h1v1h-1zm-42.9 .3h1v1h-1zm39.2 .1h1v1h-1zm-.1 1.3h1v1h-1zm-39.6 .3h1v1h-1zm38.4 .3h1v1h-1zm1.8 .1h1v1h-1zm-40.3 .4h1v1h-1zm-.3 .3h1v1h-1zm29.6 .6h1v1h-1zm9.2 0h1v1h-1zm-7.3 1.1h1v1h-1zm1.5 .2h1v1h-1zm2.2 .2h1v1h-1zm-34.5 .9h1v1h-1zm33.4 2.4h1v1h-1zm1.3 .8h1v1h-1zm5.5 .8h1v1h-1zm-1.9 1.9h1v1h-1zm-3 .2h1v1h-1zm3.7 1h1v1h-1zm-1.9 .5h1v1h-1zm-1.2 .4h1v1h-1zm.3 2.2h1v1h-1zm1.1 .1h1v1h-1zm2.3 2.8h1v1h-1zm-.4 1.8h1v1h-1zm.4 0h1v1h-1zm10.7 .8h1v1h-1zm-9 .4h1v1h-1zm6.9 .7h1v1h-1zm-3 .4h1v1h-1zm13.2 0h1v1h-1zm-.6 .1h1v1h-1zm2.8 .1h1v1h-1zm-1.9 .7h1v1h-1zm1.5 1.1h1v1h-1zm1.2 3.4h1v1h-1zm-1 1h1v1h-1zm0 1.7h1v1h-1zm-4.7 2.4h1v1h-1zm3.9 .7h1v1h-1zm-7.1 1.2h1v1h-1zm-9.6 .8h1v1h-1zm-2 .9h1v1h-1zm1 0h1v1h-1zm4.5 .3h1v1h-1zm-4.6 .2h1v1h-1zm9.1 .5h1v1h-1zm-1.5 .9h1v1h-1zm0 .3h1v1h-1zm-19.1 1.6h1v1h-1zm-5.4 1.1h1v1h-1zm-26 1.7h1v1h-1zm16.6 0h1v1h-1zm-16.8 .7h1v1h-1zm6.5 2.4h1v1h-1z" fill="#5858e8"/><path d="M0 0m46 39h1v1h-1zm.2 .2h1v1h-1zm.7 0h1v1h-1zm-.6 .1h1v1h-1zm-.2 .2h1v1h-1zm.3 .2h1v1h-1zm.2 0h1v1h-1zm-.6 .1h1v1h-1zm.6 0h1v1h-1zm.1 0h1v1h-1zm.2 0h1v1h-1zm-.7 .1h1v1h-1zm-5.9 1.4h1v1h-1zm.7 0h1v1h-1zm-.7 .2h1v1h-1zm0 0h1v1h-1zm.2 0h1v1h-1zm.3 0h1v1h-1zm0 0h1v1h-1zm-.8 .1h1v1h-1zm.1 0h1v1h-1zm.6 0h1v1h-1zm0 .3h1v1h-1zm.2 0h1v1h-1z" fill="#28e8a8"/><path d="M0 0m37.4 34h1v1h-1zm1.5 .1h1v1h-1zm-.6 .1h1v1h-1zm.7 0h1v1h-1zm-1.1 .1h1v1h-1zm-.3 .1h1v1h-1zm.5 0h1v1h-1zm.3 .1h1v1h-1zm.2 0h1v1h-1zm-.8 .1h1v1h-1zm.4 0h1v1h-1zm.6 0h1v1h-1zm-1.7 .1h1v1h-1zm.8 0h1v1h-1zm.4 .1h1v1h-1zm-.2 .1h1v1h-1zm.7 0h1v1h-1zm-4.6 .2h1v1h-1zm0 0h1v1h-1zm9.5 .1h1v1h-1zm.1 0h1v1h-1zm-9.7 .1h1v1h-1zm.6 0h1v1h-1zm-.1 .1h1v1h-1zm8.8 0h1v1h-1zm.3 0h1v1h-1zm0 0h1v1h-1zm-9.4 .1h1v1h-1zm9.3 0h1v1h-1zm0 .1h1v1h-1zm.1 0h1v1h-1zm-9.5 .1h1v1h-1zm.6 0h1v1h-1zm.2 0h1v1h-1zm8.6 0h1v1h-1zm-9.6 .1h1v1h-1zm.7 0h1v1h-1zm8.9 0h1v1h-1zm.3 0h1v1h-1zm-9.8 .1h1v1h-1zm.1 0h1v1h-1zm.7 0h1v1h-1zm0 0h1v1h-1zm.1 0h1v1h-1zm-.7 .1h1v1h-1zm9.4 0h1v1h-1zm1.2 .2h1v1h-1zm-.8 .1h1v1h-1zm.1 .2h1v1h-1zm.1 .1h1v1h-1zm.5 0h1v1h-1zm-.3 .2h1v1h-1zm0 .1h1v1h-1zm-10.6 .1h1v1h-1zm-.3 .1h1v1h-1zm.3 0h1v1h-1zm0 .1h1v1h-1zm.1 .1h1v1h-1zm-.8 .2h1v1h-1zm.4 0h1v1h-1zm.4 0h1v1h-1zm-.9 .1h1v1h-1zm.7 .2h1v1h-1zm-.8 .1h1v1h-1zm.1 0h1v1h-1zm.6 0h1v1h-1zm0 .1h1v1h-1zm11.5 2h1v1h-1zm0 .1h1v1h-1zm.8 0h1v1h-1zm-.3 .1h1v1h-1zm-.3 .1h1v1h-1zm-.4 .1h1v1h-1zm0 0h1v1h-1zm.1 0h1v1h-1zm.3 0h1v1h-1zm-.3 .1h1v1h-1zm.6 .3h1v1h-1zm-.7 .1h1v1h-1zm.9 0h1v1h-1zm-4.1 .3h1v1h-1zm-.2 .1h1v1h-1zm.4 .2h1v1h-1zm-.2 .1h1v1h-1zm.2 .3h1v1h-1zm-14.4 39.5h1v1h-1zm0 .1h1v1h-1zm.2 .1h1v1h-1zm.1 0h1v1h-1zm-.7 .2h1v1h-1zm.6 0h1v1h-1zm2.2 1.2h1v1h-1zm-9.7 .1h1v1h-1zm.7 0h1v1h-1zm-.7 .1h1v1h-1zm9.3 .1h1v1h-1zm0 0h1v1h-1zm-.2 .2h1v1h-1zm0 0h1v1h-1zm.3 0h1v1h-1zm-9.1 .1h1v1h-1zm9.4 0h1v1h-1zm-9.1 .1h1v1h-1zm8.7 0h1v1h-1zm.3 0h1v1h-1zm-9.3 .1h1v1h-1zm9 1.3h1v1h-1zm-.3 .1h1v1h-1zm.3 0h1v1h-1zm-.5 .2h1v1h-1zm.1 .1h1v1h-1zm.1 0h1v1h-1zm.1 0h1v1h-1zm-.3 .2h1v1h-1zm.7 0h1v1h-1zm0 .1h1v1h-1zm-9.2 .2h1v1h-1zm.1 .3h1v1h-1zm.3 .1h1v1h-1zm-.8 .1h1v1h-1zm.6 0h1v1h-1zm-.6 .3h1v1h-1zm.3 0h1v1h-1zm0 .2h1v1h-1zm.3 0h1v1h-1zm.1 0h1v1h-1zm6.1 1h1v1h-1zm-.1 .1h1v1h-1zm-.1 .1h1v1h-1zm-.3 .1h1v1h-1zm-.1 .1h1v1h-1zm-.3 .1h1v1h-1zm.3 0h1v1h-1z" fill="#28e898"/><path d="M0 0m39.8 34.1h1v1h-1zm1.1 0h1v1h-1zm.3 0h1v1h-1zm.4 0h1v1h-1zm.1 0h1v1h-1zm-.2 .1h1v1h-1zm-.6 .1h1v1h-1zm-1.2 .1h1v1h-1zm1.1 0h1v1h-1zm-1.2 .1h1v1h-1zm1.9 .1h1v1h-1zm-1.9 .1h1v1h-1zm.2 0h1v1h-1zm1.4 0h1v1h-1zm.4 0h1v1h-1zm.1 0h1v1h-1zm-1.8 .1h1v1h-1zm0 0h1v1h-1zm.9 0h1v1h-1zm.3 0h1v1h-1zm-1.8 .1h1v1h-1zm0 0h1v1h-1zm.4 0h1v1h-1zm1.1 0h1v1h-1zm.2 0h1v1h-1zm.4 0h1v1h-1zm.1 .1h1v1h-1zm-5.9 .2h1v1h-1zm.2 .2h1v1h-1zm-.7 .1h1v1h-1zm.1 0h1v1h-1zm.4 0h1v1h-1zm.3 .1h1v1h-1zm0 0h1v1h-1zm-.6 .1h1v1h-1zm.1 0h1v1h-1zm0 .1h1v1h-1zm0 0h1v1h-1zm.2 0h1v1h-1zm-.8 .2h1v1h-1zm-.1 .1h1v1h-1zm.1 .3h1v1h-1zm.2 .1h1v1h-1zm-.3 .1h1v1h-1zm.2 .1h1v1h-1zm0 0h1v1h-1zm-.2 .1h1v1h-1zm.2 0h1v1h-1zm-.2 .1h1v1h-1zm0 .1h1v1h-1zm-.4 1.1h1v1h-1zm10.7 0h1v1h-1zm.1 0h1v1h-1zm.8 0h1v1h-1zm0 0h1v1h-1zm-.7 .1h1v1h-1zm.6 0h1v1h-1zm-.4 .1h1v1h-1zm.1 0h1v1h-1zm0 .1h1v1h-1zm-.5 .1h1v1h-1zm.9 0h1v1h-1zm.1 0h1v1h-1zm-11.4 .1h1v1h-1zm-.5 .1h1v1h-1zm.1 0h1v1h-1zm.5 0h1v1h-1zm.1 0h1v1h-1zm10.3 0h1v1h-1zm.5 0h1v1h-1zm-11 .1h1v1h-1zm.3 0h1v1h-1zm11 0h1v1h-1zm-11.6 .1h1v1h-1zm.1 0h1v1h-1zm10.7 .1h1v1h-1zm.1 0h1v1h-1zm-9.5 .2h1v1h-1zm9.7 0h1v1h-1zm-10.4 .1h1v1h-1zm.5 0h1v1h-1zm10.1 0h1v1h-1zm-9.6 .1h1v1h-1zm10 0h1v1h-1zm-10.6 .1h1v1h-1zm.2 0h1v1h-1zm.2 0h1v1h-1zm-.4 .1h1v1h-1zm.1 0h1v1h-1zm-.5 .2h1v1h-1zm10.5 .1h1v1h-1zm.3 0h1v1h-1zm-10.5 .1h1v1h-1zm.3 0h1v1h-1zm9.2 .1h1v1h-1zm-6.9 .1h1v1h-1zm6.7 0h1v1h-1zm-7.1 .1h1v1h-1zm7.1 0h1v1h-1zm0 0h1v1h-1zm-7.6 .1h1v1h-1zm.7 0h1v1h-1zm0 0h1v1h-1zm6.7 0h1v1h-1zm-7.2 .1h1v1h-1zm.3 0h1v1h-1zm6.7 .1h1v1h-1zm.1 0h1v1h-1zm.5 0h1v1h-1zm.1 0h1v1h-1zm-7.3 .1h1v1h-1zm.1 0h1v1h-1zm7.3 0h1v1h-1zm-.2 .1h1v1h-1zm.1 0h1v1h-1zm-7.3 .1h1v1h-1zm6.9 0h1v1h-1zm.3 0h1v1h-1zm-.5 .1h1v1h-1zm.3 0h1v1h-1zm-22.5 40h1v1h-1zm.8 .1h1v1h-1zm-.6 .2h1v1h-1zm.4 .2h1v1h-1zm.1 0h1v1h-1zm-.6 .2h1v1h-1zm.1 0h1v1h-1zm.2 0h1v1h-1zm-.4 .1h1v1h-1zm0 .1h1v1h-1zm5.9 .1h1v1h-1zm.5 0h1v1h-1zm.3 .1h1v1h-1zm.1 0h1v1h-1zm-.3 .1h1v1h-1zm0 0h1v1h-1zm-.6 .1h1v1h-1zm.6 .1h1v1h-1zm0 .1h1v1h-1zm1 1.5h1v1h-1zm-.5 .1h1v1h-1zm.6 .1h1v1h-1zm-.1 .2h1v1h-1zm-.4 .1h1v1h-1zm.5 .1h1v1h-1zm-.1 .1h1v1h-1zm0 0h1v1h-1zm.2 .1h1v1h-1z" fill="#28e888"/><path d="M0 0m36.1 35h1v1h-1zm.4 .1h1v1h-1zm.4 0h1v1h-1zm-.9 .2h1v1h-1zm.2 .1h1v1h-1zm-.1 .3h1v1h-1zm.4 0h1v1h-1zm.4 .1h1v1h-1zm-.6 .1h1v1h-1zm-.2 .1h1v1h-1zm.3 0h1v1h-1zm-2 1.1h1v1h-1zm9.6 0h1v1h-1zm.3 0h1v1h-1zm-9.9 .1h1v1h-1zm.1 .1h1v1h-1zm9.5 0h1v1h-1zm.1 0h1v1h-1zm.4 0h1v1h-1zm.3 0h1v1h-1zm.1 0h1v1h-1zm.1 0h1v1h-1zm-10.1 .1h1v1h-1zm9.8 .1h1v1h-1zm-10.2 .1h1v1h-1zm9.6 0h1v1h-1zm.1 .1h1v1h-1zm.5 0h1v1h-1zm-10.3 .1h1v1h-1zm.2 0h1v1h-1zm9.9 0h1v1h-1zm-10.3 .1h1v1h-1zm0 0h1v1h-1zm.1 0h1v1h-1zm-.2 .1h1v1h-1zm10 0h1v1h-1zm.6 0h1v1h-1zm.2 0h1v1h-1zm-8.8 1.2h1v1h-1zm.5 .1h1v1h-1zm0 .2h1v1h-1zm.2 0h1v1h-1zm-.6 .1h1v1h-1zm.5 0h1v1h-1zm-.5 .1h1v1h-1zm.6 .1h1v1h-1zm0 .1h1v1h-1zm.1 0h1v1h-1zm-.7 .1h1v1h-1zm.5 0h1v1h-1zm1.9 0h1v1h-1zm5.3 0h1v1h-1zm-5.7 .1h1v1h-1zm5.4 .1h1v1h-1zm-.6 .1h1v1h-1zm.1 0h1v1h-1zm.1 0h1v1h-1zm-4.9 .1h1v1h-1zm.3 .1h1v1h-1zm.1 0h1v1h-1zm4.9 0h1v1h-1zm-5.2 .2h1v1h-1zm.6 .1h1v1h-1zm4 0h1v1h-1zm-4.6 .1h1v1h-1zm4.6 0h1v1h-1zm.7 .1h1v1h-1zm-20.7 47h1v1h-1zm-.9 .1h1v1h-1zm.6 .2h1v1h-1zm-.1 .2h1v1h-1zm-.2 .1h1v1h-1zm0 .1h1v1h-1zm-.1 .1h1v1h-1zm.6 0h1v1h-1zm-.5 .1h1v1h-1zm.4 .1h1v1h-1z" fill="#28e878"/><path d="M0 0m37.1 35h1v1h-1zm5.5 0h1v1h-1zm-5.6 .1h1v1h-1zm.9 0h1v1h-1zm.1 0h1v1h-1zm-.2 .3h1v1h-1zm0 0h1v1h-1zm.2 0h1v1h-1zm-.8 .1h1v1h-1zm4.9 0h1v1h-1zm.6 0h1v1h-1zm-5.3 .1h1v1h-1zm.1 0h1v1h-1zm-.2 .1h1v1h-1zm5.4 0h1v1h-1zm-.7 .1h1v1h-1zm.4 0h1v1h-1zm-.3 .1h1v1h-1zm-6.8 .1h1v1h-1zm2.2 0h1v1h-1zm.4 0h1v1h-1zm4.7 0h1v1h-1zm1 0h1v1h-1zm.2 .1h1v1h-1zm-.8 .1h1v1h-1zm.6 0h1v1h-1zm.1 0h1v1h-1zm.1 0h1v1h-1zm0 0h1v1h-1zm-7.9 .1h1v1h-1zm7.7 0h1v1h-1zm.3 0h1v1h-1zm-8.7 .1h1v1h-1zm.5 0h1v1h-1zm7.9 .1h1v1h-1zm-.2 .1h1v1h-1zm-.1 .1h1v1h-1zm.3 0h1v1h-1zm.3 0h1v1h-1zm-8.1 .3h1v1h-1zm7.8 0h1v1h-1zm-7.7 .1h1v1h-1zm-.8 .1h1v1h-1zm.3 .1h1v1h-1zm-.2 .1h1v1h-1zm.1 0h1v1h-1zm.3 .2h1v1h-1zm.1 0h1v1h-1zm-.5 .2h1v1h-1zm.4 0h1v1h-1zm-.4 .3h1v1h-1zm.5 0h1v1h-1zm9.1 0h1v1h-1zm-9.6 .1h1v1h-1zm.2 0h1v1h-1zm.2 0h1v1h-1zm0 0h1v1h-1zm8.7 0h1v1h-1zm.4 0h1v1h-1zm-9.6 .1h1v1h-1zm.1 0h1v1h-1zm9.6 0h1v1h-1zm.2 0h1v1h-1zm-9.5 .1h1v1h-1zm8.6 0h1v1h-1zm-8.7 .1h1v1h-1zm8.9 0h1v1h-1zm-9.3 .1h1v1h-1zm.8 0h1v1h-1zm9.2 .1h1v1h-1zm-.8 .1h1v1h-1zm.7 0h1v1h-1zm-.4 .2h1v1h-1zm-.3 .3h1v1h-1zm.6 0h1v1h-1zm.2 0h1v1h-1zm-.3 .1h1v1h-1zm-.5 .3h1v1h-1zm.3 0h1v1h-1zm-.4 .1h1v1h-1zm0 0h1v1h-1zm.3 0h1v1h-1zm.4 .1h1v1h-1zm-18.7 41.2h1v1h-1zm.4 0h1v1h-1zm.2 0h1v1h-1zm-.7 .1h1v1h-1zm.4 .1h1v1h-1zm.6 .1h1v1h-1zm-.9 .1h1v1h-1zm.7 .1h1v1h-1zm-.1 .1h1v1h-1zm-.4 .1h1v1h-1zm-4.7 .2h1v1h-1zm4.6 0h1v1h-1zm-4.7 .1h1v1h-1zm.4 0h1v1h-1zm0 0h1v1h-1zm-.1 .1h1v1h-1zm-.3 .1h1v1h-1zm.1 0h1v1h-1zm-.2 .1h1v1h-1zm.1 0h1v1h-1zm.2 .2h1v1h-1zm.2 0h1v1h-1zm-.8 .1h1v1h-1zm.5 .1h1v1h-1zm.3 .1h1v1h-1zm-.2 .1h1v1h-1zm0 0h1v1h-1zm-1.1 1h1v1h-1zm0 0h1v1h-1zm.2 .2h1v1h-1zm-.7 .1h1v1h-1zm.3 0h1v1h-1zm.5 0h1v1h-1zm.1 0h1v1h-1zm-.7 .1h1v1h-1zm.2 .1h1v1h-1zm.3 0h1v1h-1zm-.5 .1h1v1h-1zm.2 0h1v1h-1zm.3 0h1v1h-1zm-.5 .1h1v1h-1zm-.2 .2h1v1h-1zm.6 0h1v1h-1zm-.6 .3h1v1h-1zm.9 0h1v1h-1zm-.3 .6h1v1h-1zm.2 0h1v1h-1zm-.3 .2h1v1h-1zm8 0h1v1h-1zm-.3 .2h1v1h-1zm.2 .2h1v1h-1zm.2 .2h1v1h-1zm-.3 .1h1v1h-1zm-.2 .1h1v1h-1zm.1 .1h1v1h-1zm-.5 .1h1v1h-1zm.1 0h1v1h-1zm-.7 .2h1v1h-1zm.3 0h1v1h-1zm.3 .2h1v1h-1zm0 0h1v1h-1zm-.5 .5h1v1h-1zm-1.7 .1h1v1h-1zm.2 0h1v1h-1zm2.1 0h1v1h-1zm-2.7 .4h1v1h-1zm.6 0h1v1h-1zm-.6 .1h1v1h-1zm.2 0h1v1h-1zm.1 .1h1v1h-1zm.1 0h1v1h-1zm.1 .1h1v1h-1z" fill="#28e868"/><path d="M0 0m42 40.1h1v1h-1zm-2.1 .1h1v1h-1zm2.5 0h1v1h-1zm.3 0h1v1h-1zm.1 0h1v1h-1zm-3.5 .1h1v1h-1zm.1 0h1v1h-1zm.4 0h1v1h-1zm-.5 .1h1v1h-1zm3.1 0h1v1h-1zm-2.8 .2h1v1h-1zm2.5 0h1v1h-1zm-2.1 .1h1v1h-1zm-.9 .1h1v1h-1zm.8 0h1v1h-1zm-.3 .1h1v1h-1zm2.5 0h1v1h-1zm.5 .1h1v1h-1z" fill="#38e868"/><path d="M0 0m36 36.1h1v1h-1zm.6 0h1v1h-1zm-.6 .2h1v1h-1zm.2 0h1v1h-1zm.2 0h1v1h-1zm.3 .1h1v1h-1zm-.1 .1h1v1h-1zm.1 .1h1v1h-1zm.1 0h1v1h-1zm.1 0h1v1h-1zm-.2 .3h1v1h-1zm-.5 1.1h1v1h-1zm.1 .1h1v1h-1zm.1 0h1v1h-1zm.1 .2h1v1h-1zm.2 0h1v1h-1zm-.1 .2h1v1h-1zm.3 .2h1v1h-1zm-.7 .1h1v1h-1zm0 0h1v1h-1zm0 .1h1v1h-1zm.2 0h1v1h-1zm1.6 .1h1v1h-1zm-.4 .1h1v1h-1zm-.3 .1h1v1h-1zm.1 0h1v1h-1zm0 .3h1v1h-1zm.2 0h1v1h-1zm.3 .1h1v1h-1zm-.5 .2h1v1h-1zm.5 0h1v1h-1zm-.2 .1h1v1h-1zm-.3 .1h1v1h-1zm.2 0h1v1h-1zm.2 0h1v1h-1zm2.2 0h1v1h-1zm.3 0h1v1h-1zm-.1 .1h1v1h-1zm1 0h1v1h-1zm.3 0h1v1h-1zm-1.4 .1h1v1h-1zm1 0h1v1h-1zm-1 .1h1v1h-1zm.2 0h1v1h-1zm.4 0h1v1h-1zm.1 0h1v1h-1zm.4 0h1v1h-1zm.8 0h1v1h-1zm-1.7 .1h1v1h-1zm.8 0h1v1h-1zm0 0h1v1h-1zm.4 0h1v1h-1zm-1.4 .1h1v1h-1zm.6 0h1v1h-1zm.1 0h1v1h-1zm-.5 .1h1v1h-1zm.1 0h1v1h-1zm.4 0h1v1h-1zm.4 0h1v1h-1zm.3 0h1v1h-1zm0 0h1v1h-1zm0 .1h1v1h-1zm-.2 .1h1v1h-1zm0 .1h1v1h-1zm.6 0h1v1h-1zm.1 .1h1v1h-1zm-16.3 40.1h1v1h-1zm-2.7 .1h1v1h-1zm2.2 .1h1v1h-1zm-.1 .1h1v1h-1zm.4 0h1v1h-1zm.4 0h1v1h-1zm-.4 .1h1v1h-1zm.3 0h1v1h-1zm-1.8 .1h1v1h-1zm1.2 0h1v1h-1zm.6 0h1v1h-1zm-2 .1h1v1h-1zm2 0h1v1h-1zm-2.6 .1h1v1h-1zm.2 0h1v1h-1zm2.3 0h1v1h-1zm.1 0h1v1h-1zm-2.1 .1h1v1h-1zm4.8 1.2h1v1h-1zm.2 .1h1v1h-1zm-.3 .2h1v1h-1zm.1 0h1v1h-1zm.2 0h1v1h-1zm0 .1h1v1h-1zm-.4 .1h1v1h-1zm.1 0h1v1h-1zm.4 .1h1v1h-1zm-.8 .2h1v1h-1zm.5 0h1v1h-1zm0 0h1v1h-1zm0 0h1v1h-1zm.1 0h1v1h-1z" fill="#38e858"/><path d="M0 0m38.5 35h1v1h-1zm2.6 0h1v1h-1zm.7 0h1v1h-1zm-3.4 .1h1v1h-1zm.3 0h1v1h-1zm.9 0h1v1h-1zm.4 0h1v1h-1zm0 0h1v1h-1zm.3 0h1v1h-1zm.8 0h1v1h-1zm.1 0h1v1h-1zm.2 .1h1v1h-1zm.1 0h1v1h-1zm0 0h1v1h-1zm-3.1 .1h1v1h-1zm.5 0h1v1h-1zm1.9 0h1v1h-1zm1.1 0h1v1h-1zm-3.7 .1h1v1h-1zm2.2 0h1v1h-1zm0 0h1v1h-1zm.6 0h1v1h-1zm.1 0h1v1h-1zm-2.3 .1h1v1h-1zm.5 0h1v1h-1zm.5 0h1v1h-1zm0 0h1v1h-1zm.1 0h1v1h-1zm-1.7 .1h1v1h-1zm0 0h1v1h-1zm2.8 0h1v1h-1zm1 0h1v1h-1zm-4 .1h1v1h-1zm.6 0h1v1h-1zm.3 0h1v1h-1zm.4 0h1v1h-1zm1.7 0h1v1h-1zm.3 0h1v1h-1zm.6 0h1v1h-1zm.1 0h1v1h-1zm-3.3 .1h1v1h-1zm.2 0h1v1h-1zm.4 0h1v1h-1zm.6 0h1v1h-1zm.8 0h1v1h-1zm.3 0h1v1h-1zm.4 0h1v1h-1zm0 0h1v1h-1zm-2.9 .1h1v1h-1zm.2 0h1v1h-1zm0 0h1v1h-1zm.5 0h1v1h-1zm2 0h1v1h-1zm.2 0h1v1h-1zm-1.9 .1h1v1h-1zm1.3 0h1v1h-1zm.5 0h1v1h-1zm-5.2 1.1h1v1h-1zm7.6 0h1v1h-1zm-7.5 .1h1v1h-1zm.1 0h1v1h-1zm.4 0h1v1h-1zm.1 0h1v1h-1zm6.4 0h1v1h-1zm.4 0h1v1h-1zm0 0h1v1h-1zm-6.9 .1h1v1h-1zm.1 0h1v1h-1zm6.5 0h1v1h-1zm0 0h1v1h-1zm.3 0h1v1h-1zm-7.5 .1h1v1h-1zm.1 0h1v1h-1zm.7 .1h1v1h-1zm6.4 0h1v1h-1zm.3 0h1v1h-1zm.2 0h1v1h-1zm-7.3 .1h1v1h-1zm7.1 0h1v1h-1zm-.5 .1h1v1h-1zm.7 0h1v1h-1zm-7.6 .1h1v1h-1zm.3 0h1v1h-1zm7.1 0h1v1h-1zm-7.4 .1h1v1h-1zm.4 0h1v1h-1zm.1 0h1v1h-1zm.1 0h1v1h-1zm6.8 0h1v1h-1zm-.4 1.2h1v1h-1zm.3 0h1v1h-1zm.4 0h1v1h-1zm-.4 .1h1v1h-1zm.3 .2h1v1h-1zm.1 0h1v1h-1zm0 0h1v1h-1zm-.5 .1h1v1h-1zm.4 .1h1v1h-1zm-.4 .3h1v1h-1zm-18.8 41.1h1v1h-1zm-.6 .1h1v1h-1zm.3 0h1v1h-1zm.1 .1h1v1h-1zm.4 .1h1v1h-1zm-.7 .1h1v1h-1zm.7 0h1v1h-1zm-.2 .1h1v1h-1zm-.1 .1h1v1h-1zm.2 0h1v1h-1zm.2 .1h1v1h-1zm-.5 .2h1v1h-1zm.4 0h1v1h-1zm0 0h1v1h-1zm2.5 .2h1v1h-1zm.1 .1h1v1h-1zm-.4 .1h1v1h-1zm0 .1h1v1h-1zm.1 0h1v1h-1zm.5 0h1v1h-1zm.1 0h1v1h-1zm-.4 .1h1v1h-1zm.4 .4h1v1h-1zm0 .1h1v1h-1zm.7 2.1h1v1h-1zm.5 0h1v1h-1zm-.5 .1h1v1h-1zm-.4 .1h1v1h-1zm.1 .3h1v1h-1zm.7 0h1v1h-1zm-.6 .1h1v1h-1zm.6 0h1v1h-1zm-.7 .1h1v1h-1zm.3 0h1v1h-1zm.2 0h1v1h-1zm-.4 .1h1v1h-1zm.2 0h1v1h-1zm.2 0h1v1h-1zm-7.3 1.2h1v1h-1zm.7 .1h1v1h-1zm-.7 .2h1v1h-1zm.4 0h1v1h-1zm-.7 .1h1v1h-1zm.3 .1h1v1h-1zm.4 0h1v1h-1zm-.3 .1h1v1h-1zm-.1 .1h1v1h-1zm.6 .1h1v1h-1zm0 0h1v1h-1zm.1 0h1v1h-1zm1 .1h1v1h-1zm.2 .1h1v1h-1zm0 0h1v1h-1zm.2 .1h1v1h-1zm1.6 0h1v1h-1zm-1.5 .1h1v1h-1zm.6 0h1v1h-1zm.7 0h1v1h-1zm-1.5 .1h1v1h-1zm.5 0h1v1h-1zm.5 0h1v1h-1zm.3 .1h1v1h-1zm-1.4 .1h1v1h-1zm.8 0h1v1h-1zm.3 0h1v1h-1zm0 .1h1v1h-1zm.6 0h1v1h-1zm-1.6 .1h1v1h-1zm-.3 .1h1v1h-1zm1.9 .1h1v1h-1z" fill="#38e848"/><path d="M0 0m37.7 36h1v1h-1zm5.2 0h1v1h-1zm-5 .1h1v1h-1zm.1 0h1v1h-1zm4.5 0h1v1h-1zm.2 0h1v1h-1zm-5.3 .1h1v1h-1zm5.1 0h1v1h-1zm.5 0h1v1h-1zm-5.5 .1h1v1h-1zm0 0h1v1h-1zm.4 0h1v1h-1zm4.7 0h1v1h-1zm-4.8 .1h1v1h-1zm5.1 0h1v1h-1zm-5.6 .1h1v1h-1zm.3 .1h1v1h-1zm0 .1h1v1h-1zm4.7 .1h1v1h-1zm.1 0h1v1h-1zm.1 .1h1v1h-1zm.2 0h1v1h-1zm-5 .1h1v1h-1zm.2 0h1v1h-1zm-.4 1h1v1h-1zm.3 0h1v1h-1zm5.6 .1h1v1h-1zm.5 0h1v1h-1zm-.5 .1h1v1h-1zm0 0h1v1h-1zm.3 0h1v1h-1zm-.3 .1h1v1h-1zm.2 0h1v1h-1zm-6.3 .1h1v1h-1zm6.6 0h1v1h-1zm-6.9 .1h1v1h-1zm6.6 0h1v1h-1zm.1 .1h1v1h-1zm.2 0h1v1h-1zm.1 0h1v1h-1zm-7 .1h1v1h-1zm6.6 0h1v1h-1zm-6.6 .1h1v1h-1zm.8 0h1v1h-1zm-.3 .1h1v1h-1zm5.7 0h1v1h-1zm-4.9 .1h1v1h-1zm3.9 0h1v1h-1zm.3 0h1v1h-1zm.8 0h1v1h-1zm-4.6 .1h1v1h-1zm0 0h1v1h-1zm3.3 0h1v1h-1zm.1 0h1v1h-1zm.5 0h1v1h-1zm-4.6 .1h1v1h-1zm1 0h1v1h-1zm3 0h1v1h-1zm.1 0h1v1h-1zm.5 0h1v1h-1zm-4.6 .1h1v1h-1zm.4 0h1v1h-1zm4.1 0h1v1h-1zm.3 0h1v1h-1zm-.7 .1h1v1h-1zm.6 0h1v1h-1zm-.3 .1h1v1h-1zm-4.4 .1h1v1h-1zm.6 0h1v1h-1zm4 0h1v1h-1zm.1 0h1v1h-1zm.2 0h1v1h-1zm.1 0h1v1h-1zm-5 .1h1v1h-1zm.3 0h1v1h-1zm4.5 0h1v1h-1zm-4.6 .1h1v1h-1zm.7 0h1v1h-1zm-.7 .1h1v1h-1zm4 0h1v1h-1zm.8 0h1v1h-1zm-4.8 .1h1v1h-1zm4.7 0h1v1h-1zm-14.1 44.1h1v1h-1zm.1 0h1v1h-1zm0 .1h1v1h-1zm-.2 .1h1v1h-1zm-.4 .2h1v1h-1zm.3 .2h1v1h-1zm.3 0h1v1h-1zm-.3 .1h1v1h-1zm0 .1h1v1h-1zm.3 .1h1v1h-1z" fill="#38e838"/><path d="M0 0m37.1 37.1h1v1h-1zm0 .2h1v1h-1zm.4 0h1v1h-1zm.2 0h1v1h-1zm-.5 .3h1v1h-1zm.3 0h1v1h-1zm.2 .1h1v1h-1zm-.1 .1h1v1h-1zm-.3 .1h1v1h-1zm.6 0h1v1h-1zm.1 0h1v1h-1zm-.4 .1h1v1h-1z" fill="#48f838"/><path d="M0 0m43 37.1h1v1h-1zm-.1 .1h1v1h-1zm-.2 .1h1v1h-1zm-.6 .1h1v1h-1zm.3 0h1v1h-1zm.3 0h1v1h-1zm0 0h1v1h-1zm.2 0h1v1h-1zm-.7 .1h1v1h-1zm0 0h1v1h-1zm.2 .3h1v1h-1zm-.3 .1h1v1h-1zm.9 0h1v1h-1zm-3.6 1.1h1v1h-1zm2 .1h1v1h-1zm.3 0h1v1h-1zm-2.3 .1h1v1h-1zm2.6 0h1v1h-1zm-2.8 .1h1v1h-1zm0 0h1v1h-1zm.1 0h1v1h-1zm.4 0h1v1h-1zm1.6 0h1v1h-1zm.4 0h1v1h-1zm-2.2 .1h1v1h-1zm.4 0h1v1h-1zm-.8 .1h1v1h-1zm.2 0h1v1h-1zm.6 0h1v1h-1zm-.3 .1h1v1h-1zm1.5 0h1v1h-1zm.1 0h1v1h-1zm-1.3 .1h1v1h-1zm1.8 0h1v1h-1zm-.2 .1h1v1h-1zm-.2 .1h1v1h-1zm.6 0h1v1h-1zm.1 0h1v1h-1zm-2.4 .1h1v1h-1zm2.3 0h1v1h-1z" fill="#48f828"/><path d="M0 0m38.8 36h1v1h-1zm-.2 .1h1v1h-1zm.3 0h1v1h-1zm2.2 0h1v1h-1zm.7 0h1v1h-1zm-2.8 .1h1v1h-1zm2 .1h1v1h-1zm.1 0h1v1h-1zm.7 0h1v1h-1zm-3.3 .1h1v1h-1zm2.9 0h1v1h-1zm.1 0h1v1h-1zm.4 0h1v1h-1zm-3.5 .1h1v1h-1zm3.4 0h1v1h-1zm-3.3 .1h1v1h-1zm.3 0h1v1h-1zm2.5 0h1v1h-1zm.6 0h1v1h-1zm-3.7 .1h1v1h-1zm.5 0h1v1h-1zm0 0h1v1h-1zm2.7 0h1v1h-1zm-2.9 .1h1v1h-1zm-.4 .1h1v1h-1zm0 0h1v1h-1zm3 0h1v1h-1zm.6 0h1v1h-1zm.3 0h1v1h-1zm-3.1 .1h1v1h-1zm2.8 0h1v1h-1zm.2 0h1v1h-1zm.9 1.2h1v1h-1zm.1 .1h1v1h-1zm-.4 .1h1v1h-1zm-.2 .2h1v1h-1zm.4 0h1v1h-1zm.1 .1h1v1h-1zm.1 0h1v1h-1zm-.1 .1h1v1h-1zm-2.6 .2h1v1h-1zm.3 0h1v1h-1zm-.1 .2h1v1h-1zm-.1 .1h1v1h-1zm.1 0h1v1h-1zm0 0h1v1h-1zm-.2 .1h1v1h-1zm.6 0h1v1h-1zm-.6 .2h1v1h-1zm.6 .1h1v1h-1zm-.8 .1h1v1h-1zm.3 .1h1v1h-1zm.3 0h1v1h-1zm-.3 .1h1v1h-1zm0 0h1v1h-1zm.4 0h1v1h-1zm-14.5 47h1v1h-1zm.4 0h1v1h-1zm-.4 .1h1v1h-1zm.5 0h1v1h-1zm.3 0h1v1h-1zm-.6 .1h1v1h-1zm-.2 .2h1v1h-1zm0 0h1v1h-1zm.3 .1h1v1h-1zm-.2 .1h1v1h-1zm.3 0h1v1h-1zm.1 0h1v1h-1zm-.3 .2h1v1h-1zm.1 0h1v1h-1zm.3 0h1v1h-1z" fill="#58f828"/><path d="M0 0m38.1 38.2h1v1h-1zm.3 0h1v1h-1zm-.4 .2h1v1h-1zm.6 0h1v1h-1zm-.5 .1h1v1h-1zm.1 0h1v1h-1zm.5 0h1v1h-1zm-.3 .1h1v1h-1zm.1 0h1v1h-1zm0 0h1v1h-1zm0 0h1v1h-1zm-.2 .1h1v1h-1zm0 0h1v1h-1zm.1 .1h1v1h-1zm-.3 .1h1v1h-1zm.7 .1h1v1h-1z" fill="#68f828"/><path d="M0 0m40.1 36h1v1h-1zm.2 .1h1v1h-1zm-1.3 .1h1v1h-1zm.3 0h1v1h-1zm1 0h1v1h-1zm.1 0h1v1h-1zm0 0h1v1h-1zm-1.3 .1h1v1h-1zm.2 0h1v1h-1zm.4 0h1v1h-1zm.3 0h1v1h-1zm-.1 .1h1v1h-1zm1 0h1v1h-1zm-1.6 .1h1v1h-1zm0 0h1v1h-1zm.2 0h1v1h-1zm.1 0h1v1h-1zm.1 0h1v1h-1zm.2 0h1v1h-1zm-.4 .1h1v1h-1zm.6 0h1v1h-1zm-.8 .1h1v1h-1zm1.4 0h1v1h-1zm-1.2 .1h1v1h-1zm.7 0h1v1h-1zm0 0h1v1h-1zm.2 0h1v1h-1zm.4 0h1v1h-1zm-1.3 .1h1v1h-1zm1.1 0h1v1h-1zm-1.9 .1h1v1h-1zm1.4 0h1v1h-1zm.3 0h1v1h-1zm.4 0h1v1h-1zm.5 0h1v1h-1zm-2.6 .1h1v1h-1zm2.6 0h1v1h-1zm.7 0h1v1h-1zm-.9 .1h1v1h-1zm.4 0h1v1h-1zm-3.4 .1h1v1h-1zm0 0h1v1h-1zm3.7 0h1v1h-1zm-3.7 .1h1v1h-1zm.9 0h1v1h-1zm3 0h1v1h-1zm-.4 .1h1v1h-1zm-3.1 .1h1v1h-1zm.2 0h1v1h-1zm2.9 0h1v1h-1zm-3 .1h1v1h-1zm.3 0h1v1h-1zm3 0h1v1h-1zm-3.2 .1h1v1h-1zm2.4 0h1v1h-1zm.5 0h1v1h-1zm-3.6 .1h1v1h-1zm.1 0h1v1h-1zm.1 0h1v1h-1zm3.5 0h1v1h-1zm0 0h1v1h-1zm-3 .1h1v1h-1zm2.8 0h1v1h-1zm.2 0h1v1h-1zm.2 0h1v1h-1zm-.2 .1h1v1h-1zm-.5 .1h1v1h-1zm.7 0h1v1h-1zm-.8 .1h1v1h-1zm.2 0h1v1h-1zm.6 0h1v1h-1zm-.7 .1h1v1h-1zm.6 0h1v1h-1zm0 0h1v1h-1zm-.6 .1h1v1h-1zm.4 0h1v1h-1zm-.6 .1h1v1h-1zm.6 .1h1v1h-1zm.2 0h1v1h-1zm-.4 .2h1v1h-1zm-14.6 43.1h1v1h-1zm-.6 .1h1v1h-1zm.2 0h1v1h-1zm.5 0h1v1h-1zm0 0h1v1h-1zm-.9 .1h1v1h-1zm.5 0h1v1h-1zm-4 .1h1v1h-1zm4.2 0h1v1h-1zm-4 .1h1v1h-1zm.3 0h1v1h-1zm3 0h1v1h-1zm0 0h1v1h-1zm-3.6 .1h1v1h-1zm.2 0h1v1h-1zm3.8 0h1v1h-1zm.1 0h1v1h-1zm.1 0h1v1h-1zm0 0h1v1h-1zm-3.9 .1h1v1h-1zm-.4 .1h1v1h-1zm.4 0h1v1h-1zm.2 0h1v1h-1zm3.1 0h1v1h-1zm-3.1 .1h1v1h-1zm3.5 .2h1v1h-1zm.2 0h1v1h-1zm.7 3h1v1h-1zm-.1 .4h1v1h-1zm.3 0h1v1h-1zm.1 0h1v1h-1zm-.2 .2h1v1h-1zm.3 0h1v1h-1zm.1 .1h1v1h-1zm-.3 .1h1v1h-1zm-.1 .1h1v1h-1zm-.3 .1h1v1h-1zm.7 0h1v1h-1z" fill="#78f828"/><path d="M0 0m39.3 38h1v1h-1zm.3 0h1v1h-1zm-.5 .1h1v1h-1zm.5 0h1v1h-1zm.1 0h1v1h-1zm.3 0h1v1h-1zm-.4 .1h1v1h-1zm.2 0h1v1h-1zm.6 0h1v1h-1zm.1 0h1v1h-1zm0 0h1v1h-1zm.5 0h1v1h-1zm-1.4 .1h1v1h-1zm.4 0h1v1h-1zm.4 0h1v1h-1zm.4 0h1v1h-1zm-.9 .1h1v1h-1zm.2 0h1v1h-1zm-.8 .1h1v1h-1zm.3 0h1v1h-1zm-.6 .1h1v1h-1zm1.7 0h1v1h-1zm-1.7 .1h1v1h-1zm.7 0h1v1h-1zm.1 0h1v1h-1zm-.1 .1h1v1h-1zm-.1 .1h1v1h-1zm.7 0h1v1h-1zm.2 0h1v1h-1zm-19.3 44.1h1v1h-1zm.3 .1h1v1h-1zm.1 0h1v1h-1zm.2 0h1v1h-1zm-.7 .1h1v1h-1zm.3 .1h1v1h-1zm.3 0h1v1h-1zm5.8 0h1v1h-1zm-5.8 .1h1v1h-1zm.2 0h1v1h-1zm5.3 .1h1v1h-1zm-5.9 .1h1v1h-1zm5.9 0h1v1h-1zm.5 0h1v1h-1zm-6.5 .1h1v1h-1zm.1 0h1v1h-1zm.4 0h1v1h-1zm6.1 0h1v1h-1zm-6.1 .1h1v1h-1zm0 0h1v1h-1zm-.2 .1h1v1h-1zm.1 0h1v1h-1zm5.5 0h1v1h-1zm.5 0h1v1h-1zm-5.9 .1h1v1h-1zm.1 0h1v1h-1zm5.3 0h1v1h-1zm.3 0h1v1h-1z" fill="#88f828"/><path d="M0 0m39.5 37h1v1h-1zm.1 0h1v1h-1zm-.2 .1h1v1h-1zm.4 0h1v1h-1zm0 0h1v1h-1zm.1 0h1v1h-1zm.6 0h1v1h-1zm.4 0h1v1h-1zm-1.3 .1h1v1h-1zm.7 0h1v1h-1zm.6 0h1v1h-1zm-1.5 .1h1v1h-1zm.4 0h1v1h-1zm1 0h1v1h-1zm-.8 .1h1v1h-1zm.2 0h1v1h-1zm.1 0h1v1h-1zm-1.2 .1h1v1h-1zm.7 0h1v1h-1zm1.2 0h1v1h-1zm-1.3 .1h1v1h-1zm.8 0h1v1h-1zm.1 0h1v1h-1zm-1.2 .1h1v1h-1zm.1 0h1v1h-1zm.3 0h1v1h-1zm-.5 .1h1v1h-1zm.1 0h1v1h-1zm.9 0h1v1h-1zm.1 0h1v1h-1zm0 0h1v1h-1zm-1.3 .1h1v1h-1zm.2 0h1v1h-1zm0 0h1v1h-1zm.3 0h1v1h-1zm.3 0h1v1h-1zm.4 0h1v1h-1zm.3 0h1v1h-1zm-19.3 48.1h1v1h-1zm.3 0h1v1h-1zm.2 0h1v1h-1zm-.7 .1h1v1h-1zm.5 0h1v1h-1zm-.6 .1h1v1h-1zm.3 0h1v1h-1zm0 0h1v1h-1zm0 0h1v1h-1zm.2 0h1v1h-1zm.2 .2h1v1h-1zm.2 0h1v1h-1zm-.7 .2h1v1h-1zm.3 0h1v1h-1zm0 .2h1v1h-1zm.1 0h1v1h-1zm-.3 .1h1v1h-1zm.2 0h1v1h-1z" fill="#98f828"/><path d="M0 0m22.1 87.1h1v1h-1zm.5 .2h1v1h-1zm.1 0h1v1h-1zm.1 0h1v1h-1zm.2 0h1v1h-1zm-.5 .1h1v1h-1zm0 0h1v1h-1zm.1 0h1v1h-1zm.3 0h1v1h-1zm-.7 .1h1v1h-1zm.4 0h1v1h-1zm.4 0h1v1h-1zm-.4 .2h1v1h-1zm.3 0h1v1h-1zm-.8 .1h1v1h-1zm.4 0h1v1h-1zm.2 .1h1v1h-1zm-.3 .1h1v1h-1z" fill="#a8f818"/><path d="M0 0m23.5 82h1v1h-1zm.3 .1h1v1h-1zm-.1 .1h1v1h-1zm-.7 .1h1v1h-1zm.6 0h1v1h-1zm-.5 .1h1v1h-1zm.7 0h1v1h-1zm.1 .1h1v1h-1zm-.9 .2h1v1h-1zm.3 0h1v1h-1zm.6 .1h1v1h-1zm-.6 .1h1v1h-1zm.2 0h1v1h-1zm.5 0h1v1h-1zm-.4 .1h1v1h-1z" fill="#b8f818"/><path d="M0 0m25 82h1v1h-1zm0 .2h1v1h-1zm.6 0h1v1h-1zm-.5 .1h1v1h-1zm.1 0h1v1h-1zm.5 0h1v1h-1zm-.6 .1h1v1h-1zm.1 .1h1v1h-1zm.5 0h1v1h-1zm.1 0h1v1h-1zm-.4 .1h1v1h-1zm.1 0h1v1h-1zm-.4 .2h1v1h-1zm.5 0h1v1h-1zm.2 0h1v1h-1zm.1 0h1v1h-1zm-.9 .1h1v1h-1zm.3 0h1v1h-1zm1.8 1.1h1v1h-1zm-.1 .1h1v1h-1zm.6 0h1v1h-1zm-.3 .1h1v1h-1zm.3 0h1v1h-1zm.1 0h1v1h-1zm.2 0h1v1h-1zm-.9 .2h1v1h-1zm.3 0h1v1h-1zm.7 0h1v1h-1zm-.4 .1h1v1h-1zm-.2 .1h1v1h-1zm0 0h1v1h-1zm0 0h1v1h-1zm.1 .1h1v1h-1zm.1 0h1v1h-1zm.1 0h1v1h-1zm-.7 .1h1v1h-1zm.8 0h1v1h-1zm-.7 .1h1v1h-1zm.3 0h1v1h-1zm.3 0h1v1h-1zm-.6 .1h1v1h-1zm.2 0h1v1h-1zm0 0h1v1h-1zm.5 0h1v1h-1zm-.4 .1h1v1h-1zm.4 0h1v1h-1zm-.7 .1h1v1h-1zm.2 0h1v1h-1zm-.3 .1h1v1h-1zm.1 0h1v1h-1zm0 .1h1v1h-1zm.8 0h1v1h-1zm-.7 .1h1v1h-1zm-.1 .1h1v1h-1zm.3 0h1v1h-1zm-.3 .1h1v1h-1zm.4 0h1v1h-1zm.4 0h1v1h-1zm-.4 .1h1v1h-1zm-.4 .1h1v1h-1zm.2 0h1v1h-1zm.5 0h1v1h-1zm-2.4 1.2h1v1h-1zm.2 0h1v1h-1zm.1 0h1v1h-1zm-.3 .1h1v1h-1zm.2 0h1v1h-1zm-.3 .1h1v1h-1zm.2 0h1v1h-1zm0 0h1v1h-1zm.4 0h1v1h-1zm-.8 .3h1v1h-1zm0 0h1v1h-1zm.8 0h1v1h-1zm-.1 .1h1v1h-1zm-.4 .1h1v1h-1zm.3 .2h1v1h-1z" fill="#c8f818"/><path d="M0 0m24.6 82h1v1h-1zm-.5 .1h1v1h-1zm.3 0h1v1h-1zm.1 0h1v1h-1zm-.4 .1h1v1h-1zm.3 0h1v1h-1zm-.3 .2h1v1h-1zm.2 0h1v1h-1zm-.1 .1h1v1h-1zm.2 0h1v1h-1zm.4 0h1v1h-1zm.1 0h1v1h-1zm-.8 .1h1v1h-1zm.8 .1h1v1h-1zm-.6 .1h1v1h-1zm.3 0h1v1h-1zm0 0h1v1h-1zm.2 0h1v1h-1zm.2 0h1v1h-1zm-.3 .2h1v1h-1z" fill="#d8f818"/><path d="M0 0m22 84h1v1h-1zm-.1 .1h1v1h-1zm-.6 .3h1v1h-1zm.2 0h1v1h-1zm.4 0h1v1h-1zm-.4 .1h1v1h-1zm-.1 .1h1v1h-1zm.2 0h1v1h-1zm-.2 .2h1v1h-1zm.2 0h1v1h-1zm.1 0h1v1h-1zm.1 0h1v1h-1zm.2 0h1v1h-1zm-.3 .1h1v1h-1zm-.7 .1h1v1h-1zm.1 0h1v1h-1zm.9 .1h1v1h-1zm-.9 .1h1v1h-1zm.7 0h1v1h-1zm0 0h1v1h-1zm-.3 .1h1v1h-1zm0 0h1v1h-1zm-.1 .1h1v1h-1zm.2 0h1v1h-1zm.4 0h1v1h-1zm-.4 .1h1v1h-1zm0 0h1v1h-1zm-.3 .1h1v1h-1zm.1 0h1v1h-1zm.6 0h1v1h-1zm-.8 .2h1v1h-1zm.2 0h1v1h-1zm0 0h1v1h-1zm0 0h1v1h-1zm.1 0h1v1h-1zm.2 .2h1v1h-1z" fill="#e8f818"/><path d="M0 0m23.6 85h1v1h-1zm.1 0h1v1h-1zm.2 0h1v1h-1zm1 0h1v1h-1zm-.4 .1h1v1h-1zm-1.5 .1h1v1h-1zm.5 0h1v1h-1zm0 0h1v1h-1zm0 0h1v1h-1zm.6 0h1v1h-1zm.3 0h1v1h-1zm-1.2 .1h1v1h-1zm.1 0h1v1h-1zm.4 0h1v1h-1zm.4 0h1v1h-1zm.6 0h1v1h-1zm-1.6 .1h1v1h-1zm.3 0h1v1h-1zm.8 0h1v1h-1zm0 0h1v1h-1zm0 0h1v1h-1zm.4 0h1v1h-1zm.4 0h1v1h-1zm-2 .1h1v1h-1zm.3 0h1v1h-1zm1 0h1v1h-1zm.6 0h1v1h-1zm-1.5 .1h1v1h-1zm.3 0h1v1h-1zm.2 0h1v1h-1zm.6 0h1v1h-1zm.1 0h1v1h-1zm-1.2 .1h1v1h-1zm.1 0h1v1h-1zm.1 0h1v1h-1zm.3 0h1v1h-1zm.2 0h1v1h-1zm.5 0h1v1h-1zm.3 0h1v1h-1zm-1.7 .1h1v1h-1zm.1 0h1v1h-1zm.6 0h1v1h-1zm.1 0h1v1h-1zm.4 0h1v1h-1zm.2 0h1v1h-1zm.2 0h1v1h-1zm.1 0h1v1h-1zm0 0h1v1h-1zm-1.8 .1h1v1h-1zm0 0h1v1h-1zm.2 0h1v1h-1zm1.4 0h1v1h-1zm.1 0h1v1h-1zm.1 0h1v1h-1zm-1.5 .1h1v1h-1zm.3 0h1v1h-1zm1.2 0h1v1h-1z" fill="#e81808"/><path d="M0 0m22.3 83.1h1v1h-1zm.2 0h1v1h-1zm.2 0h1v1h-1zm.1 0h1v1h-1zm.1 0h1v1h-1zm-.2 .1h1v1h-1zm-.3 .1h1v1h-1zm0 0h1v1h-1zm-.2 .1h1v1h-1zm.1 0h1v1h-1zm.4 0h1v1h-1zm.1 0h1v1h-1zm.1 0h1v1h-1zm.1 0h1v1h-1zm-.9 .1h1v1h-1zm.3 0h1v1h-1zm.4 .1h1v1h-1zm-.8 .1h1v1h-1zm.1 0h1v1h-1zm.2 0h1v1h-1zm.2 0h1v1h-1zm0 0h1v1h-1zm.2 0h1v1h-1zm-.2 .1h1v1h-1zm.1 0h1v1h-1zm0 0h1v1h-1zm.1 0h1v1h-1zm.1 .1h1v1h-1zm-.2 .1h1v1h-1z" fill="#f8c818"/><path d="M0 0m26.6 86h1v1h-1zm-.3 .1h1v1h-1zm0 0h1v1h-1zm.4 0h1v1h-1zm-.4 .1h1v1h-1zm.3 0h1v1h-1zm.1 0h1v1h-1zm-.6 .2h1v1h-1zm.3 0h1v1h-1zm-.3 .1h1v1h-1zm.2 0h1v1h-1zm-.2 .1h1v1h-1zm.5 0h1v1h-1zm-.1 .1h1v1h-1zm.3 0h1v1h-1zm.1 0h1v1h-1zm-.6 .2h1v1h-1zm.4 0h1v1h-1zm0 0h1v1h-1zm-2.9 .1h1v1h-1zm.5 0h1v1h-1zm-1.2 .1h1v1h-1zm.2 0h1v1h-1zm.4 0h1v1h-1zm.1 0h1v1h-1zm.3 0h1v1h-1zm-.9 .1h1v1h-1zm.3 0h1v1h-1zm.7 0h1v1h-1zm.4 0h1v1h-1zm-1.5 .1h1v1h-1zm.3 0h1v1h-1zm.2 0h1v1h-1zm0 0h1v1h-1zm.3 0h1v1h-1zm.1 0h1v1h-1zm0 0h1v1h-1zm-.6 .1h1v1h-1zm.8 0h1v1h-1zm.7 0h1v1h-1zm-1.8 .1h1v1h-1zm.1 .1h1v1h-1zm.1 0h1v1h-1zm.8 0h1v1h-1zm.2 0h1v1h-1zm-1.3 .1h1v1h-1zm1.9 0h1v1h-1zm-1.8 .1h1v1h-1zm.4 0h1v1h-1zm.4 0h1v1h-1zm.2 0h1v1h-1zm.3 0h1v1h-1zm.1 0h1v1h-1zm.1 0h1v1h-1zm-1.4 .1h1v1h-1zm1.3 0h1v1h-1zm.5 0h1v1h-1zm-2 .1h1v1h-1z" fill="#f8e818"/><path d="M0 0m25 84h1v1h-1zm.1 0h1v1h-1zm.1 0h1v1h-1zm-.1 .1h1v1h-1zm.1 0h1v1h-1zm.2 0h1v1h-1zm.1 0h1v1h-1zm0 0h1v1h-1zm.1 0h1v1h-1zm-.3 .1h1v1h-1zm0 0h1v1h-1zm.1 .1h1v1h-1zm.4 0h1v1h-1zm-.4 .2h1v1h-1zm.1 0h1v1h-1zm.2 0h1v1h-1zm0 0h1v1h-1zm-.6 .1h1v1h-1zm.3 0h1v1h-1zm.4 0h1v1h-1zm.2 0h1v1h-1zm0 0h1v1h-1zm-.9 .1h1v1h-1zm.3 0h1v1h-1zm0 0h1v1h-1zm.2 .1h1v1h-1zm.4 0h1v1h-1zm-.9 .1h1v1h-1zm.1 0h1v1h-1zm.1 0h1v1h-1zm.2 0h1v1h-1zm-.3 .1h1v1h-1zm.2 0h1v1h-1zm-.3 .1h1v1h-1zm.8 0h1v1h-1zm-.1 .1h1v1h-1zm-.1 .1h1v1h-1zm.1 0h1v1h-1zm-.5 .1h1v1h-1zm.1 0h1v1h-1zm.1 0h1v1h-1zm.2 0h1v1h-1zm.2 0h1v1h-1zm-.8 .1h1v1h-1zm0 0h1v1h-1zm.4 0h1v1h-1zm.2 0h1v1h-1zm-.7 .1h1v1h-1zm0 0h1v1h-1zm.1 0h1v1h-1zm.2 0h1v1h-1zm.6 0h1v1h-1zm-.7 .1h1v1h-1zm.6 0h1v1h-1zm-.8 .1h1v1h-1zm.3 0h1v1h-1zm.2 0h1v1h-1zm.1 0h1v1h-1zm-.2 .1h1v1h-1zm.2 0h1v1h-1zm0 0h1v1h-1zm-.5 .1h1v1h-1zm.2 0h1v1h-1zm.5 0h1v1h-1zm.1 0h1v1h-1z" fill="#e84808"/><path d="M0 0m24.3 84h1v1h-1zm.1 0h1v1h-1zm.3 0h1v1h-1zm-1.5 .1h1v1h-1zm1.1 0h1v1h-1zm.2 0h1v1h-1zm.3 0h1v1h-1zm-1.7 .1h1v1h-1zm.1 0h1v1h-1zm.3 0h1v1h-1zm1.3 0h1v1h-1zm.1 0h1v1h-1zm.1 0h1v1h-1zm-2 .1h1v1h-1zm.3 0h1v1h-1zm.3 0h1v1h-1zm.1 0h1v1h-1zm.2 0h1v1h-1zm0 0h1v1h-1zm.5 0h1v1h-1zm.6 0h1v1h-1zm-1.7 .1h1v1h-1zm.2 0h1v1h-1zm1.1 0h1v1h-1zm.3 0h1v1h-1zm-1.8 .1h1v1h-1zm.4 0h1v1h-1zm0 0h1v1h-1zm.1 0h1v1h-1zm1 0h1v1h-1zm.2 0h1v1h-1zm.1 0h1v1h-1zm-1.8 .1h1v1h-1zm.5 0h1v1h-1zm0 0h1v1h-1zm1.2 0h1v1h-1zm-1.4 .1h1v1h-1zm.5 0h1v1h-1zm0 0h1v1h-1zm.2 0h1v1h-1zm.3 0h1v1h-1zm.1 0h1v1h-1zm-.9 .1h1v1h-1zm.1 0h1v1h-1zm.3 0h1v1h-1zm.4 0h1v1h-1zm.2 0h1v1h-1zm0 0h1v1h-1zm-1.4 .1h1v1h-1zm.1 0h1v1h-1zm.2 0h1v1h-1zm.2 0h1v1h-1zm.2 0h1v1h-1zm.3 0h1v1h-1zm0 0h1v1h-1zm.2 0h1v1h-1zm.3 0h1v1h-1zm-1.3 .1h1v1h-1zm.4 0h1v1h-1zm.7 0h1v1h-1z" fill="#e82808"/><path d="M0 0m26.9 83h1v1h-1zm-.7 .1h1v1h-1zm0 0h1v1h-1zm.2 .1h1v1h-1zm.3 0h1v1h-1zm.1 0h1v1h-1zm-.6 .1h1v1h-1zm.7 0h1v1h-1zm-.6 .2h1v1h-1zm0 0h1v1h-1zm-.3 .1h1v1h-1zm.3 0h1v1h-1zm.5 .1h1v1h-1zm-.8 .1h1v1h-1zm.1 0h1v1h-1zm-.1 .1h1v1h-1zm.1 0h1v1h-1zm.1 0h1v1h-1zm.7 0h1v1h-1zm0 0h1v1h-1zm-.7 .1h1v1h-1zm.2 0h1v1h-1zm.5 0h1v1h-1zm.1 0h1v1h-1z" fill="#f8d818"/><path d="M0 0m22.2 84h1v1h-1zm.3 0h1v1h-1zm0 .1h1v1h-1zm.4 0h1v1h-1zm-.9 .1h1v1h-1zm0 0h1v1h-1zm.1 0h1v1h-1zm0 0h1v1h-1zm.2 0h1v1h-1zm.2 0h1v1h-1zm0 0h1v1h-1zm.2 0h1v1h-1zm-.6 .1h1v1h-1zm0 0h1v1h-1zm.1 0h1v1h-1zm0 0h1v1h-1zm.2 0h1v1h-1zm.1 0h1v1h-1zm.3 0h1v1h-1zm.1 0h1v1h-1zm-.6 .1h1v1h-1zm.2 0h1v1h-1zm.2 0h1v1h-1zm-.4 .1h1v1h-1zm.6 .1h1v1h-1zm-.6 .1h1v1h-1zm-.3 .1h1v1h-1zm.1 0h1v1h-1zm.1 0h1v1h-1zm-.1 .1h1v1h-1zm.2 0h1v1h-1zm.1 0h1v1h-1zm0 0h1v1h-1zm.2 0h1v1h-1zm.4 0h1v1h-1zm-.9 .1h1v1h-1zm.8 0h1v1h-1z" fill="#f87808"/><path d="M0 0m25.1 83h1v1h-1zm-1.5 .1h1v1h-1zm0 0h1v1h-1zm.1 0h1v1h-1zm.2 0h1v1h-1zm1.2 0h1v1h-1zm.2 0h1v1h-1zm-1.4 .1h1v1h-1zm1.1 0h1v1h-1zm.4 0h1v1h-1zm.3 0h1v1h-1zm-2.4 .1h1v1h-1zm.5 0h1v1h-1zm0 0h1v1h-1zm1.9 0h1v1h-1zm.2 0h1v1h-1zm-2.8 .1h1v1h-1zm2 0h1v1h-1zm.5 0h1v1h-1zm.1 0h1v1h-1zm-.7 .1h1v1h-1zm.3 0h1v1h-1zm0 .1h1v1h-1zm.7 0h1v1h-1zm-.9 .1h1v1h-1zm.3 0h1v1h-1zm.3 0h1v1h-1zm0 0h1v1h-1zm-2.4 .1h1v1h-1zm.3 0h1v1h-1zm0 0h1v1h-1zm-.6 .1h1v1h-1zm.3 0h1v1h-1zm2.1 0h1v1h-1zm-1.8 .1h1v1h-1zm1.6 0h1v1h-1zm.6 0h1v1h-1zm-.4 2h1v1h-1zm-.2 .1h1v1h-1zm.1 0h1v1h-1zm.6 0h1v1h-1zm-.3 .1h1v1h-1zm.1 0h1v1h-1zm-.5 .1h1v1h-1zm0 0h1v1h-1zm.5 0h1v1h-1zm-.7 .1h1v1h-1zm0 0h1v1h-1zm.2 0h1v1h-1zm.2 0h1v1h-1zm.5 0h1v1h-1zm-.2 .1h1v1h-1zm-.2 .1h1v1h-1zm.4 0h1v1h-1zm-.8 .1h1v1h-1zm.8 0h1v1h-1zm-.9 .1h1v1h-1zm.4 0h1v1h-1zm.1 0h1v1h-1zm0 0h1v1h-1zm.2 0h1v1h-1zm0 0h1v1h-1zm0 0h1v1h-1zm.2 0h1v1h-1zm.1 0h1v1h-1zm-.6 .1h1v1h-1zm.5 0h1v1h-1zm.1 0h1v1h-1z" fill="#f89808"/><path d="M0 0m26.8 84h1v1h-1zm-.7 .1h1v1h-1zm.3 0h1v1h-1zm.3 0h1v1h-1zm-.4 .2h1v1h-1zm0 0h1v1h-1zm.1 .1h1v1h-1zm.2 0h1v1h-1zm.1 .4h1v1h-1zm-.1 .1h1v1h-1zm0 0h1v1h-1zm0 0h1v1h-1zm.1 0h1v1h-1zm-.6 .1h1v1h-1zm.6 0h1v1h-1zm-.3 .2h1v1h-1zm0 0h1v1h-1zm.4 0h1v1h-1zm-.6 .1h1v1h-1zm.1 0h1v1h-1zm.2 0h1v1h-1zm.2 0h1v1h-1zm-.4 .1h1v1h-1zm.1 0h1v1h-1zm.4 0h1v1h-1zm-.5 .1h1v1h-1zm0 0h1v1h-1zm.2 0h1v1h-1zm-.4 .1h1v1h-1zm.6 0h1v1h-1zm.1 0h1v1h-1zm-.3 .1h1v1h-1zm-.5 .1h1v1h-1zm.5 0h1v1h-1zm-.4 .1h1v1h-1zm.3 0h1v1h-1zm.2 0h1v1h-1zm-4.2 .1h1v1h-1zm.2 0h1v1h-1zm3.5 0h1v1h-1zm0 0h1v1h-1zm-4 .1h1v1h-1zm.1 0h1v1h-1zm.4 0h1v1h-1zm-.3 .1h1v1h-1zm.1 0h1v1h-1zm.1 0h1v1h-1zm.3 0h1v1h-1zm-.8 .1h1v1h-1zm.3 0h1v1h-1zm.1 0h1v1h-1zm.2 0h1v1h-1zm-.3 .1h1v1h-1zm0 0h1v1h-1zm.1 0h1v1h-1zm.4 0h1v1h-1zm.1 .3h1v1h-1zm-.8 .1h1v1h-1zm.3 0h1v1h-1zm-.3 .1h1v1h-1zm.5 0h1v1h-1zm.1 0h1v1h-1zm0 0h1v1h-1z" fill="#f8a808"/><path d="M0 0m22.7 85h1v1h-1zm-.7 .1h1v1h-1zm.5 0h1v1h-1zm-.4 .1h1v1h-1zm.5 0h1v1h-1zm.2 0h1v1h-1zm.1 0h1v1h-1zm-.8 .3h1v1h-1zm0 0h1v1h-1zm0 0h1v1h-1zm0 0h1v1h-1zm.4 0h1v1h-1zm0 0h1v1h-1zm.5 0h1v1h-1zm-.9 .1h1v1h-1zm.5 0h1v1h-1zm.4 0h1v1h-1zm-.8 .1h1v1h-1zm.1 0h1v1h-1zm.6 0h1v1h-1zm0 0h1v1h-1zm-.8 .1h1v1h-1zm0 0h1v1h-1zm.2 0h1v1h-1zm.1 0h1v1h-1zm.1 0h1v1h-1zm.1 0h1v1h-1zm.2 0h1v1h-1zm.1 0h1v1h-1zm-.9 .1h1v1h-1zm.7 0h1v1h-1zm0 0h1v1h-1zm-.4 .1h1v1h-1zm.2 0h1v1h-1zm1.9 0h1v1h-1zm.1 0h1v1h-1zm-1.1 .1h1v1h-1zm.1 0h1v1h-1zm.4 0h1v1h-1zm.2 0h1v1h-1zm.4 0h1v1h-1zm.2 0h1v1h-1zm0 0h1v1h-1zm-1.4 .1h1v1h-1zm.4 0h1v1h-1zm.1 0h1v1h-1zm.1 0h1v1h-1zm.2 0h1v1h-1zm.5 0h1v1h-1zm.4 0h1v1h-1zm-1.9 .1h1v1h-1zm.3 0h1v1h-1zm.4 0h1v1h-1zm0 0h1v1h-1zm-.2 .1h1v1h-1zm.1 0h1v1h-1zm0 0h1v1h-1zm.1 0h1v1h-1zm0 0h1v1h-1zm.8 0h1v1h-1zm0 0h1v1h-1zm.1 0h1v1h-1zm-.9 .1h1v1h-1zm0 0h1v1h-1zm.1 0h1v1h-1zm.3 0h1v1h-1zm.7 0h1v1h-1zm-.7 .1h1v1h-1zm.2 0h1v1h-1zm.1 0h1v1h-1zm-1.4 .1h1v1h-1zm1.5 0h1v1h-1zm-.9 .1h1v1h-1zm.5 0h1v1h-1zm.1 0h1v1h-1zm.2 0h1v1h-1zm0 0h1v1h-1zm.2 0h1v1h-1zm-1.4 .1h1v1h-1zm.1 0h1v1h-1zm.1 0h1v1h-1zm.1 0h1v1h-1zm0 0h1v1h-1zm.4 0h1v1h-1zm.5 0h1v1h-1zm-1.4 .1h1v1h-1zm.6 0h1v1h-1zm.4 0h1v1h-1z" fill="#f86808"/><path d="M0 0m24.3 83h1v1h-1zm.2 0h1v1h-1zm-.3 .1h1v1h-1zm.6 .1h1v1h-1zm-.5 .2h1v1h-1zm.2 0h1v1h-1zm.2 0h1v1h-1zm.3 0h1v1h-1zm-.6 .1h1v1h-1zm.1 0h1v1h-1zm.2 0h1v1h-1zm-.5 .1h1v1h-1zm.1 0h1v1h-1zm.3 0h1v1h-1zm-.5 .1h1v1h-1zm.1 0h1v1h-1zm.3 0h1v1h-1zm.4 .1h1v1h-1zm-.5 .2h1v1h-1z" fill="#f88808"/></g>
<g transform="translate(153.4,228.8)" filter="url(#bl)"><path d="M0 0m52.1 38.1h1v1h-1zm.8 .2h1v1h-1zm-.2 .5h1v1h-1zm-.6 .2h1v1h-1zm1.7 .1h1v1h-1zm-.7 .2h1v1h-1zm.2 0h1v1h-1zm1.3 .2h1v1h-1zm-1.2 .5h1v1h-1zm.7 0h1v1h-1zm-24.1 38.1h1v1h-1zm-.1 .1h1v1h-1zm-.3 .7h1v1h-1zm15.4 1.1h1v1h-1zm0 .7h1v1h-1zm-.6 .2h1v1h-1zm.6 0h1v1h-1zm2.7 2.2h1v1h-1zm.2 .1h1v1h-1zm0 .3h1v1h-1zm-.7 .2h1v1h-1zm-.2 1.3h1v1h-1zm.4 .1h1v1h-1zm.1 .1h1v1h-1zm.2 0h1v1h-1zm-20.8 3.9h1v1h-1zm-.2 .2h1v1h-1zm.3 0h1v1h-1zm-.9 .2h1v1h-1zm.5 0h1v1h-1zm0 .3h1v1h-1zm-.3 .1h1v1h-1z" fill="#1858e8"/><path d="M0 0m53.7 37h1v1h-1zm-.2 .1h1v1h-1zm.7 0h1v1h-1zm-.9 .1h1v1h-1zm.2 0h1v1h-1zm.8 0h1v1h-1zm-2 .1h1v1h-1zm1.9 0h1v1h-1zm.6 0h1v1h-1zm.1 0h1v1h-1zm-1.8 .1h1v1h-1zm.9 .1h1v1h-1zm-1.7 .1h1v1h-1zm.5 0h1v1h-1zm.8 0h1v1h-1zm1.1 0h1v1h-1zm-2.3 .1h1v1h-1zm.9 0h1v1h-1zm1.2 0h1v1h-1zm-1.4 .1h1v1h-1zm1.1 .1h1v1h-1zm.6 0h1v1h-1zm-1.3 .1h1v1h-1zm1.5 .1h1v1h-1zm-1.5 .2h1v1h-1zm.2 .1h1v1h-1zm.8 .1h1v1h-1zm-1.1 .1h1v1h-1zm.8 0h1v1h-1zm-23.7 39.6h1v1h-1zm.8 .2h1v1h-1zm-1 .1h1v1h-1zm1.3 0h1v1h-1zm-1.5 .2h1v1h-1zm.6 .3h1v1h-1zm-5.6 .1h1v1h-1zm14.4 0h1v1h-1zm-.4 .2h1v1h-1zm.1 0h1v1h-1zm.8 0h1v1h-1zm-14.2 .1h1v1h-1zm-1.6 .1h1v1h-1zm.9 0h1v1h-1zm-.9 .1h1v1h-1zm1.4 0h1v1h-1zm14.2 0h1v1h-1zm-15.5 .1h1v1h-1zm.7 0h1v1h-1zm1.5 0h1v1h-1zm.1 0h1v1h-1zm-2.6 .2h1v1h-1zm2.7 0h1v1h-1zm15.8 .6h1v1h-1zm.4 .1h1v1h-1zm.2 0h1v1h-1zm.2 .1h1v1h-1zm-.5 .2h1v1h-1zm.1 0h1v1h-1zm2.3 .1h1v1h-1zm.5 0h1v1h-1zm-.4 .4h1v1h-1zm0 .2h1v1h-1zm-.2 .4h1v1h-1zm1.5 .3h1v1h-1zm.3 .2h1v1h-1zm-.2 .2h1v1h-1zm-.5 .3h1v1h-1zm.5 .1h1v1h-1zm-.3 .2h1v1h-1zm.5 0h1v1h-1zm-25.1 .1h1v1h-1zm-.4 .2h1v1h-1zm24.6 .1h1v1h-1zm2 .3h1v1h-1zm-26.5 .2h1v1h-1zm26.4 .3h1v1h-1zm-.3 .2h1v1h-1zm-.6 .2h1v1h-1zm.5 0h1v1h-1zm-1.5 .5h1v1h-1zm.4 .3h1v1h-1zm.5 0h1v1h-1zm.1 .2h1v1h-1zm-2.7 .2h1v1h-1zm.1 .2h1v1h-1zm.4 0h1v1h-1zm-.4 .6h1v1h-1zm-.6 .4h1v1h-1zm-.8 .2h1v1h-1zm.7 .2h1v1h-1zm-.2 .2h1v1h-1zm-18.5 .3h1v1h-1zm-.6 .1h1v1h-1zm0 0h1v1h-1zm.1 .2h1v1h-1zm-.5 .2h1v1h-1zm.1 .1h1v1h-1zm11.7 .2h1v1h-1zm-7.9 .1h1v1h-1zm-.5 .2h1v1h-1zm7.8 0h1v1h-1zm.3 .2h1v1h-1zm-7.7 .1h1v1h-1zm7.4 0h1v1h-1zm-7.9 .1h1v1h-1zm.8 .1h1v1h-1zm.6 0h1v1h-1zm6.4 0h1v1h-1zm.7 .1h1v1h-1z" fill="#1868e8"/><path d="M0 0m30.7 79.2h1v1h-1zm.5 0h1v1h-1zm.1 0h1v1h-1zm-1 .1h1v1h-1zm.1 0h1v1h-1zm.2 0h1v1h-1zm-.1 .2h1v1h-1zm-.2 .1h1v1h-1zm1.3 .1h1v1h-1zm-.3 .1h1v1h-1zm.4 0h1v1h-1zm5 .2h1v1h-1zm-.9 .2h1v1h-1zm0 .1h1v1h-1zm-.7 .1h1v1h-1zm1 .2h1v1h-1zm.8 0h1v1h-1zm-1 .1h1v1h-1zm.1 0h1v1h-1zm.7 .2h1v1h-1zm-12.6 .1h1v1h-1zm15.9 0h1v1h-1zm.1 0h1v1h-1zm.1 .1h1v1h-1zm.3 0h1v1h-1zm-.4 .1h1v1h-1zm-15.2 .2h1v1h-1zm15.1 0h1v1h-1zm-15.3 .1h1v1h-1zm.3 .1h1v1h-1zm15.9 .1h1v1h-1zm0 0h1v1h-1zm-16.7 .1h1v1h-1zm.1 0h1v1h-1zm16.4 0h1v1h-1zm-15.9 .1h1v1h-1zm0 0h1v1h-1zm17.7 .2h1v1h-1zm.4 .1h1v1h-1zm-.7 .1h1v1h-1zm-.1 .2h1v1h-1zm.2 0h1v1h-1zm.4 .5h1v1h-1zm-19.8 .1h1v1h-1zm-.5 .1h1v1h-1zm-.3 .3h1v1h-1zm.6 .1h1v1h-1zm-.1 .1h1v1h-1zm.4 .1h1v1h-1zm19.1 .2h1v1h-1zm-19.8 .1h1v1h-1zm20.7 .1h1v1h-1zm-21 .1h1v1h-1zm.1 0h1v1h-1zm.3 0h1v1h-1zm19.9 0h1v1h-1zm-.1 .1h1v1h-1zm.4 0h1v1h-1zm-19.9 .1h1v1h-1zm19.7 0h1v1h-1zm-20.1 .1h1v1h-1zm0 0h1v1h-1zm.1 .1h1v1h-1zm-.3 .1h1v1h-1zm.5 0h1v1h-1zm19.7 0h1v1h-1zm-.1 .4h1v1h-1zm.6 .2h1v1h-1zm-.7 .3h1v1h-1zm.1 0h1v1h-1zm.2 0h1v1h-1zm.3 .2h1v1h-1zm-.7 .5h1v1h-1zm-18.2 .1h1v1h-1zm17.2 0h1v1h-1zm.3 .1h1v1h-1zm-17.9 .1h1v1h-1zm.6 .2h1v1h-1zm13.1 .1h1v1h-1zm4.8 0h1v1h-1zm-15.9 .1h1v1h-1zm11.1 .1h1v1h-1zm-11.8 .1h1v1h-1zm11.8 0h1v1h-1zm-11.5 .1h1v1h-1zm14.5 0h1v1h-1zm.2 0h1v1h-1zm-15 .1h1v1h-1zm15.3 .1h1v1h-1zm-14.9 .1h1v1h-1zm15.3 0h1v1h-1zm-3.6 .1h1v1h-1zm-11.9 .1h1v1h-1zm15.2 0h1v1h-1zm-13.4 .1h1v1h-1zm.3 .1h1v1h-1zm7.2 .2h1v1h-1zm-.4 .3h1v1h-1zm.1 0h1v1h-1zm-6.7 .2h1v1h-1zm-.1 .2h1v1h-1z" fill="#18a8e8"/><path d="M0 0m35.9 79.1h1v1h-1zm2 0h1v1h-1zm.3 0h1v1h-1zm-2.2 .1h1v1h-1zm.9 0h1v1h-1zm.2 0h1v1h-1zm.8 0h1v1h-1zm-1.3 .1h1v1h-1zm1.6 0h1v1h-1zm-1 .1h1v1h-1zm.9 0h1v1h-1zm-1.8 .1h1v1h-1zm-8.8 .1h1v1h-1zm10.8 0h1v1h-1zm-11 .1h1v1h-1zm7.9 0h1v1h-1zm0 0h1v1h-1zm2.7 0h1v1h-1zm.4 0h1v1h-1zm-2.9 .1h1v1h-1zm.4 0h1v1h-1zm.4 0h1v1h-1zm-.6 .2h1v1h-1zm-11.7 .1h1v1h-1zm17.7 0h1v1h-1zm-.1 .1h1v1h-1zm-17.5 .1h1v1h-1zm-1 .1h1v1h-1zm18.5 0h1v1h-1zm-.3 .4h1v1h-1zm-17.5 .1h1v1h-1zm17.6 0h1v1h-1zm-18.8 .1h1v1h-1zm.4 .1h1v1h-1zm0 0h1v1h-1zm21.8 .1h1v1h-1zm-21.7 .3h1v1h-1zm21.3 0h1v1h-1zm.6 .1h1v1h-1zm-22.1 .2h1v1h-1zm21.9 0h1v1h-1zm-22.1 .1h1v1h-1zm22.4 0h1v1h-1zm-.4 .1h1v1h-1zm1 .2h1v1h-1zm.1 .6h1v1h-1zm-.6 .3h1v1h-1zm.5 0h1v1h-1zm.1 .1h1v1h-1zm-.5 .1h1v1h-1zm-.2 .1h1v1h-1zm.6 .1h1v1h-1zm-.1 .2h1v1h-1zm.5 .4h1v1h-1zm.5 0h1v1h-1zm0 0h1v1h-1zm-1.3 .1h1v1h-1zm0 .3h1v1h-1zm1.1 0h1v1h-1zm0 0h1v1h-1zm-.7 .1h1v1h-1zm-.2 .1h1v1h-1zm1.3 .1h1v1h-1zm-.6 .1h1v1h-1zm-2 .1h1v1h-1zm.5 0h1v1h-1zm1.7 0h1v1h-1zm-1.7 .4h1v1h-1zm.7 .1h1v1h-1zm.5 0h1v1h-1zm-.5 .1h1v1h-1zm-.6 .1h1v1h-1zm.6 0h1v1h-1zm-.3 .1h1v1h-1zm.4 .2h1v1h-1zm-22.9 .2h1v1h-1zm.2 .1h1v1h-1zm20.9 0h1v1h-1zm-20.6 .1h1v1h-1zm-.4 .1h1v1h-1zm20.9 0h1v1h-1zm-21 .2h1v1h-1zm.2 0h1v1h-1zm.2 0h1v1h-1zm20.7 0h1v1h-1zm-21.5 .1h1v1h-1zm20.9 .1h1v1h-1zm.1 .1h1v1h-1zm-20 .2h1v1h-1zm.6 0h1v1h-1zm19.3 .3h1v1h-1zm-19.1 .1h1v1h-1zm18.3 0h1v1h-1zm.4 0h1v1h-1zm-19.1 .1h1v1h-1zm17.5 .3h1v1h-1zm.3 .1h1v1h-1zm0 .6h1v1h-1zm.5 0h1v1h-1zm.1 0h1v1h-1zm-.8 .1h1v1h-1zm0 0h1v1h-1zm.5 .1h1v1h-1zm-10.4 .1h1v1h-1zm.4 0h1v1h-1zm1.1 .1h1v1h-1zm.9 0h1v1h-1zm.3 0h1v1h-1zm.3 0h1v1h-1zm.3 0h1v1h-1zm.3 0h1v1h-1zm-5 .1h1v1h-1zm2.6 .1h1v1h-1zm1.8 0h1v1h-1zm.7 0h1v1h-1zm-1 .1h1v1h-1zm-4.6 .1h1v1h-1zm4.9 0h1v1h-1zm-4.6 .1h1v1h-1zm1.1 0h1v1h-1zm3.4 0h1v1h-1zm-2.3 .1h1v1h-1zm2.6 0h1v1h-1zm-5.3 .1h1v1h-1zm3.8 0h1v1h-1zm.5 .1h1v1h-1zm1.3 0h1v1h-1zm.2 0h1v1h-1zm-5.2 .1h1v1h-1zm2.3 0h1v1h-1z" fill="#1878e8"/><path d="M0 0m32.7 79.1h1v1h-1zm1.2 0h1v1h-1zm-1.8 .2h1v1h-1zm1.7 0h1v1h-1zm-1.8 .1h1v1h-1zm-2.6 .1h1v1h-1zm4.6 0h1v1h-1zm-4.8 .1h1v1h-1zm3.1 0h1v1h-1zm0 0h1v1h-1zm-2.9 .1h1v1h-1zm.1 0h1v1h-1zm3.1 .1h1v1h-1zm-3.3 .1h1v1h-1zm4 0h1v1h-1zm-3.5 .1h1v1h-1zm2.8 0h1v1h-1zm-6.1 .1h1v1h-1zm12.4 0h1v1h-1zm-.1 .2h1v1h-1zm-1.3 .1h1v1h-1zm-.3 .1h1v1h-1zm-10.4 .1h1v1h-1zm10.3 0h1v1h-1zm-10.3 .1h1v1h-1zm10.9 0h1v1h-1zm1.2 0h1v1h-1zm-12.5 .1h1v1h-1zm10.8 0h1v1h-1zm.6 0h1v1h-1zm-11.7 .1h1v1h-1zm.2 0h1v1h-1zm12.3 0h1v1h-1zm4.3 .1h1v1h-1zm-.5 .1h1v1h-1zm-.5 .1h1v1h-1zm-18 .2h1v1h-1zm17.9 0h1v1h-1zm-17.9 .1h1v1h-1zm18.2 .1h1v1h-1zm.2 0h1v1h-1zm.1 0h1v1h-1zm.4 0h1v1h-1zm.1 0h1v1h-1zm-1 .1h1v1h-1zm-18.6 .1h1v1h-1zm17.8 0h1v1h-1zm0 .1h1v1h-1zm-18.6 .2h1v1h-1zm.2 .1h1v1h-1zm20.6 0h1v1h-1zm.3 0h1v1h-1zm-20.8 .1h1v1h-1zm.1 0h1v1h-1zm20.4 0h1v1h-1zm.1 0h1v1h-1zm-20.6 .1h1v1h-1zm20.7 0h1v1h-1zm-21.4 .1h1v1h-1zm.7 .1h1v1h-1zm20.2 0h1v1h-1zm0 .1h1v1h-1zm.1 0h1v1h-1zm.4 .2h1v1h-1zm-21 .1h1v1h-1zm.1 0h1v1h-1zm20.9 .1h1v1h-1zm.2 .4h1v1h-1zm-.5 .1h1v1h-1zm.1 0h1v1h-1zm-.2 .7h1v1h-1zm.5 0h1v1h-1zm.3 .1h1v1h-1zm-.4 .2h1v1h-1zm-.2 .1h1v1h-1zm.3 .2h1v1h-1zm.1 .1h1v1h-1zm-21.7 .2h1v1h-1zm.1 0h1v1h-1zm.6 0h1v1h-1zm-.5 .2h1v1h-1zm.4 0h1v1h-1zm.1 0h1v1h-1zm-.4 .1h1v1h-1zm.3 .1h1v1h-1zm.2 .1h1v1h-1zm-.3 .1h1v1h-1zm.4 0h1v1h-1zm-.6 .1h1v1h-1zm.6 0h1v1h-1zm19.3 .1h1v1h-1zm.8 0h1v1h-1zm-.3 .2h1v1h-1zm-.7 .5h1v1h-1zm.5 .3h1v1h-1zm-1.3 .1h1v1h-1zm.8 .2h1v1h-1zm-17.2 .1h1v1h-1zm16.7 0h1v1h-1zm.1 0h1v1h-1zm-17.4 .2h1v1h-1zm.7 0h1v1h-1zm-.4 .2h1v1h-1zm16.9 0h1v1h-1zm-5.7 .2h1v1h-1zm5.8 0h1v1h-1zm.2 0h1v1h-1zm-6.6 .2h1v1h-1zm.4 .1h1v1h-1zm-.2 .2h1v1h-1zm.3 0h1v1h-1zm0 .2h1v1h-1z" fill="#1898e8"/><path d="M0 0m28.6 79.1h1v1h-1zm5.4 0h1v1h-1zm1 .2h1v1h-1zm-6.1 .1h1v1h-1zm5.3 0h1v1h-1zm-5.4 .2h1v1h-1zm5.9 0h1v1h-1zm.1 0h1v1h-1zm-.2 .1h1v1h-1zm-.5 .2h1v1h-1zm.8 0h1v1h-1zm-9.7 .2h1v1h-1zm13.9 0h1v1h-1zm1.4 0h1v1h-1zm-14.9 .1h1v1h-1zm-1.6 .1h1v1h-1zm1 0h1v1h-1zm15.6 .1h1v1h-1zm-.2 .1h1v1h-1zm-.6 .1h1v1h-1zm-15.1 .1h1v1h-1zm14.6 0h1v1h-1zm.4 0h1v1h-1zm-.3 .1h1v1h-1zm-15.3 .1h1v1h-1zm1 0h1v1h-1zm.4 .1h1v1h-1zm17.9 .5h1v1h-1zm.2 .2h1v1h-1zm0 0h1v1h-1zm.3 .2h1v1h-1zm.9 .2h1v1h-1zm.1 .2h1v1h-1zm-.6 .1h1v1h-1zm0 .3h1v1h-1zm-.2 .1h1v1h-1zm.7 .2h1v1h-1zm-.5 .3h1v1h-1zm-.1 .4h1v1h-1zm.6 0h1v1h-1zm-.4 .1h1v1h-1zm.2 0h1v1h-1zm-.5 .2h1v1h-1zm.5 .4h1v1h-1zm-1.4 .6h1v1h-1zm-.2 .2h1v1h-1zm.3 .1h1v1h-1zm.5 .1h1v1h-1zm.1 .3h1v1h-1zm0 .1h1v1h-1zm0 0h1v1h-1zm-5.1 2.2h1v1h-1zm-2.1 .1h1v1h-1zm4.2 0h1v1h-1zm-14.5 .1h1v1h-1zm9.9 0h1v1h-1zm2.4 0h1v1h-1zm2.2 0h1v1h-1zm-15.2 .1h1v1h-1zm.2 0h1v1h-1zm10.4 0h1v1h-1zm-10.7 .1h1v1h-1zm13.5 0h1v1h-1zm.1 0h1v1h-1zm.5 0h1v1h-1zm-14.3 .1h1v1h-1zm14.2 0h1v1h-1zm.8 0h1v1h-1zm-15.1 .1h1v1h-1zm12.1 0h1v1h-1zm.3 0h1v1h-1zm1.9 0h1v1h-1zm-1.1 .1h1v1h-1zm.5 0h1v1h-1zm.8 0h1v1h-1zm-3.3 .1h1v1h-1zm3.3 0h1v1h-1zm1.2 0h1v1h-1zm-14.6 .1h1v1h-1zm9.7 0h1v1h-1zm0 0h1v1h-1zm3.4 0h1v1h-1zm-1.8 .1h1v1h-1z" fill="#1888e8"/><path d="M0 0m55.9 30.1h1v1h-1zm-5.2 .1h1v1h-1zm1.2 0h1v1h-1zm1.8 0h1v1h-1zm-2.7 .1h1v1h-1zm.7 .1h1v1h-1zm3.1 0h1v1h-1zm.7 0h1v1h-1zm-6 .1h1v1h-1zm.5 0h1v1h-1zm0 .1h1v1h-1zm1.8 0h1v1h-1zm1.4 0h1v1h-1zm3.4 0h1v1h-1zm-6.7 .1h1v1h-1zm3.2 0h1v1h-1zm-3.8 .1h1v1h-1zm6.8 0h1v1h-1zm-6.8 .1h1v1h-1zm.9 0h1v1h-1zm6.3 .1h1v1h-1zm-6.4 .1h1v1h-1zm.8 0h1v1h-1zm3.6 0h1v1h-1zm1.6 0h1v1h-1zm4.4 0h1v1h-1zm-10.9 .1h1v1h-1zm.6 0h1v1h-1zm.8 0h1v1h-1zm4.1 0h1v1h-1zm1.1 0h1v1h-1zm3 0h1v1h-1zm4.2 0h1v1h-1zm-14.5 .1h1v1h-1zm1.8 0h1v1h-1zm2.3 0h1v1h-1zm7.8 0h1v1h-1zm.9 0h1v1h-1zm-10.5 .1h1v1h-1zm1.2 0h1v1h-1zm11.9 0h1v1h-1zm-12.2 .1h1v1h-1zm1.4 0h1v1h-1zm1.4 0h1v1h-1zm4.8 0h1v1h-1zm2.3 0h1v1h-1zm-8.2 .1h1v1h-1zm.7 0h1v1h-1zm2.5 0h1v1h-1zm.8 0h1v1h-1zm1.9 0h1v1h-1zm-7.6 .2h1v1h-1zm6.2 0h1v1h-1zm.4 0h1v1h-1zm2.5 0h1v1h-1zm.6 0h1v1h-1zm.3 0h1v1h-1zm1.9 0h1v1h-1zm.2 0h1v1h-1zm-14.3 .1h1v1h-1zm.5 0h1v1h-1zm5.3 0h1v1h-1zm5.7 0h1v1h-1zm-11.1 .1h1v1h-1zm4 0h1v1h-1zm8.2 0h1v1h-1zm-12.1 .1h1v1h-1zm.8 0h1v1h-1zm6 0h1v1h-1zm2.9 0h1v1h-1zm1.6 0h1v1h-1zm1.3 0h1v1h-1zm-14.9 .1h1v1h-1zm2.1 0h1v1h-1zm2.9 0h1v1h-1zm6.7 0h1v1h-1zm2.5 0h1v1h-1zm.2 0h1v1h-1zm-14 .1h1v1h-1zm5.8 0h1v1h-1zm0 0h1v1h-1zm2.4 0h1v1h-1zm3 0h1v1h-1zm.1 0h1v1h-1zm1.9 0h1v1h-1zm.1 0h1v1h-1zm-9.5 .1h1v1h-1zm.4 0h1v1h-1zm-1 .1h1v1h-1zm3.7 0h1v1h-1zm1.4 0h1v1h-1zm2 0h1v1h-1zm6 0h1v1h-1zm-15.2 .1h1v1h-1zm4.2 0h1v1h-1zm3 0h1v1h-1zm2.8 0h1v1h-1zm-10.6 .1h1v1h-1zm13.1 0h1v1h-1zm.4 0h1v1h-1zm-13.8 .1h1v1h-1zm7.8 0h1v1h-1zm3.5 0h1v1h-1zm1.4 0h1v1h-1zm-5.3 .1h1v1h-1zm3.3 0h1v1h-1zm4.1 0h1v1h-1zm0 0h1v1h-1zm1.3 0h1v1h-1zm-14.7 .1h1v1h-1zm2.5 0h1v1h-1zm.5 0h1v1h-1zm.7 0h1v1h-1zm7.5 0h1v1h-1zm-14.1 .1h1v1h-1zm.1 0h1v1h-1zm3.1 0h1v1h-1zm0 .1h1v1h-1zm.3 0h1v1h-1zm1.7 0h1v1h-1zm.9 0h1v1h-1zm2.3 0h1v1h-1zm-6.3 .1h1v1h-1zm6.9 0h1v1h-1zm4.1 0h1v1h-1zm-14 .1h1v1h-1zm3.5 0h1v1h-1zm.9 0h1v1h-1zm3.5 0h1v1h-1zm2.4 0h1v1h-1zm1.7 0h1v1h-1zm-10.1 .1h1v1h-1zm1.2 0h1v1h-1zm10 0h1v1h-1zm5.4 0h1v1h-1zm-14.7 .1h1v1h-1zm6.8 0h1v1h-1zm-11.2 .1h1v1h-1zm4 0h1v1h-1zm.7 0h1v1h-1zm7.2 0h1v1h-1zm4.5 0h1v1h-1zm-10 .1h1v1h-1zm3.4 0h1v1h-1zm.1 0h1v1h-1zm1.9 0h1v1h-1zm.9 0h1v1h-1zm1.2 0h1v1h-1zm2 0h1v1h-1zm.2 0h1v1h-1zm.2 0h1v1h-1zm-14.8 .1h1v1h-1zm5.8 0h1v1h-1zm.1 0h1v1h-1zm4.8 0h1v1h-1zm2 0h1v1h-1zm.4 0h1v1h-1zm-16.4 .1h1v1h-1zm3.1 0h1v1h-1zm.6 0h1v1h-1zm2.3 0h1v1h-1zm1.8 0h1v1h-1zm2.2 0h1v1h-1zm5.1 0h1v1h-1zm-10.1 .1h1v1h-1zm13.8 0h1v1h-1zm-.4 .1h1v1h-1zm.5 0h1v1h-1zm-13.2 .1h1v1h-1zm1.7 0h1v1h-1zm6.5 0h1v1h-1zm1.3 0h1v1h-1zm4.2 0h1v1h-1zm.7 0h1v1h-1zm1.1 0h1v1h-1zm-20.6 .1h1v1h-1zm5.6 0h1v1h-1zm.8 0h1v1h-1zm3.3 0h1v1h-1zm1.1 0h1v1h-1zm5.8 0h1v1h-1zm3.4 0h1v1h-1zm-20.8 .1h1v1h-1zm3.3 0h1v1h-1zm3.7 0h1v1h-1zm0 0h1v1h-1zm2.1 0h1v1h-1zm3.6 0h1v1h-1zm.2 0h1v1h-1zm2 0h1v1h-1zm1.3 0h1v1h-1zm-14 .1h1v1h-1zm9.6 0h1v1h-1zm.1 0h1v1h-1zm4.6 0h1v1h-1zm.7 0h1v1h-1zm-16.9 .1h1v1h-1zm.3 0h1v1h-1zm0 0h1v1h-1zm.4 0h1v1h-1zm8.8 0h1v1h-1zm4.7 0h1v1h-1zm4.1 0h1v1h-1zm-16.5 .1h1v1h-1zm2.3 0h1v1h-1zm.5 0h1v1h-1zm3.1 0h1v1h-1zm.9 0h1v1h-1zm.8 0h1v1h-1zm2.8 0h1v1h-1zm.1 0h1v1h-1zm3.2 0h1v1h-1zm.5 0h1v1h-1zm.1 0h1v1h-1zm-10.9 .1h1v1h-1zm.4 0h1v1h-1zm.7 0h1v1h-1zm6.3 0h1v1h-1zm.2 0h1v1h-1zm-11.7 .1h1v1h-1zm.4 0h1v1h-1zm.7 0h1v1h-1zm1.9 0h1v1h-1zm.5 0h1v1h-1zm4.7 0h1v1h-1zm.2 0h1v1h-1zm3 0h1v1h-1zm6.1 0h1v1h-1zm.9 0h1v1h-1zm-19 .1h1v1h-1zm.9 0h1v1h-1zm2.7 0h1v1h-1zm4.9 0h1v1h-1zm2.5 0h1v1h-1zm1.8 0h1v1h-1zm0 0h1v1h-1zm-10.2 .1h1v1h-1zm5.6 0h1v1h-1zm2.9 0h1v1h-1zm4 0h1v1h-1zm1.8 0h1v1h-1zm1.6 0h1v1h-1zm.6 0h1v1h-1zm2.5 0h1v1h-1zm-19.4 .1h1v1h-1zm.8 0h1v1h-1zm4.7 0h1v1h-1zm3.8 0h1v1h-1zm.1 0h1v1h-1zm1.5 0h1v1h-1zm4.7 0h1v1h-1zm1.2 0h1v1h-1zm.8 0h1v1h-1zm-6.8 .1h1v1h-1zm1.3 0h1v1h-1zm.4 0h1v1h-1zm1 0h1v1h-1zm1.7 0h1v1h-1zm.6 0h1v1h-1zm1 0h1v1h-1zm-6.6 .1h1v1h-1zm.2 0h1v1h-1zm.5 0h1v1h-1zm.3 0h1v1h-1zm1.9 0h1v1h-1zm-13.5 .1h1v1h-1zm.4 0h1v1h-1zm1.8 0h1v1h-1zm.3 0h1v1h-1zm5.1 0h1v1h-1zm.5 0h1v1h-1zm6.9 0h1v1h-1zm.8 0h1v1h-1zm2.6 0h1v1h-1zm-12.1 .1h1v1h-1zm2.7 0h1v1h-1zm5.7 0h1v1h-1zm1.4 0h1v1h-1zm.4 0h1v1h-1zm1.8 0h1v1h-1zm-12.4 .1h1v1h-1zm2.7 0h1v1h-1zm.6 0h1v1h-1zm2.9 0h1v1h-1zm2.3 0h1v1h-1zm1.3 0h1v1h-1zm.3 0h1v1h-1zm3.1 0h1v1h-1zm.5 0h1v1h-1zm-21.1 .1h1v1h-1zm3.5 0h1v1h-1zm4.7 0h1v1h-1zm6.8 0h1v1h-1zm3.8 0h1v1h-1zm-6.2 .1h1v1h-1zm3.2 0h1v1h-1zm-17.3 .1h1v1h-1zm2 0h1v1h-1zm13.9 0h1v1h-1zm3.5 0h1v1h-1zm1.6 0h1v1h-1zm1.8 0h1v1h-1zm.4 0h1v1h-1zm-27.5 .1h1v1h-1zm4.3 0h1v1h-1zm3.7 0h1v1h-1zm12.2 0h1v1h-1zm2.4 0h1v1h-1zm2.4 0h1v1h-1zm2.3 0h1v1h-1zm.5 0h1v1h-1zm-27.5 .1h1v1h-1zm7.2 0h1v1h-1zm1.3 0h1v1h-1zm10.3 0h1v1h-1zm2.7 0h1v1h-1zm-19.6 .1h1v1h-1zm2.1 0h1v1h-1zm1.2 0h1v1h-1zm2.4 0h1v1h-1zm11 0h1v1h-1zm-16.2 .1h1v1h-1zm.1 0h1v1h-1zm1 0h1v1h-1zm1.6 0h1v1h-1zm2.3 0h1v1h-1zm11.9 0h1v1h-1zm.5 0h1v1h-1zm.4 0h1v1h-1zm.5 0h1v1h-1zm1.6 0h1v1h-1zm-20.6 .1h1v1h-1zm.4 0h1v1h-1zm17.6 0h1v1h-1zm1.3 0h1v1h-1zm5.4 0h1v1h-1zm.1 0h1v1h-1zm-9 .1h1v1h-1zm6.2 0h1v1h-1zm4.3 0h1v1h-1zm-28.2 .1h1v1h-1zm2.8 0h1v1h-1zm3.3 0h1v1h-1zm1.6 0h1v1h-1zm.2 0h1v1h-1zm0 0h1v1h-1zm1 0h1v1h-1zm-5.7 .1h1v1h-1zm.6 0h1v1h-1zm3.6 0h1v1h-1zm1 0h1v1h-1zm.2 0h1v1h-1zm10 0h1v1h-1zm0 0h1v1h-1zm2.7 0h1v1h-1zm2.9 0h1v1h-1zm.7 0h1v1h-1zm3.2 0h1v1h-1zm.5 0h1v1h-1zm-19 .1h1v1h-1zm1.1 0h1v1h-1zm6.6 0h1v1h-1zm1.3 0h1v1h-1zm1.4 0h1v1h-1zm4.7 0h1v1h-1zm4.2 0h1v1h-1zm-27.8 .1h1v1h-1zm.1 0h1v1h-1zm5.6 0h1v1h-1zm1.5 0h1v1h-1zm1.6 0h1v1h-1zm-3.3 .1h1v1h-1zm1 0h1v1h-1zm1.4 0h1v1h-1zm8.2 0h1v1h-1zm2.5 0h1v1h-1zm5.8 0h1v1h-1zm.2 0h1v1h-1zm.1 0h1v1h-1zm-25.1 .1h1v1h-1zm1.3 0h1v1h-1zm.8 0h1v1h-1zm1.4 0h1v1h-1zm2.8 0h1v1h-1zm14.2 0h1v1h-1zm-20.8 .1h1v1h-1zm6.5 0h1v1h-1zm2.4 0h1v1h-1zm8.3 0h1v1h-1zm.9 0h1v1h-1zm5.7 0h1v1h-1zm-15.6 .1h1v1h-1zm.1 0h1v1h-1zm8.6 0h1v1h-1zm3.2 0h1v1h-1zm.5 0h1v1h-1zm.1 0h1v1h-1zm3.9 0h1v1h-1zm1.4 0h1v1h-1zm.8 0h1v1h-1zm-16.9 .1h1v1h-1zm.4 0h1v1h-1zm8.3 0h1v1h-1zm.9 0h1v1h-1zm1.2 0h1v1h-1zm-12.7 .1h1v1h-1zm10.2 0h1v1h-1zm.8 0h1v1h-1zm.9 0h1v1h-1zm5.3 0h1v1h-1zm2 0h1v1h-1zm-21.7 .1h1v1h-1zm3.5 0h1v1h-1zm.6 0h1v1h-1zm14.9 0h1v1h-1zm-26 .1h1v1h-1zm1.6 0h1v1h-1zm4.4 0h1v1h-1zm1.5 0h1v1h-1zm1.5 0h1v1h-1zm9.2 0h1v1h-1zm.4 0h1v1h-1zm9.9 0h1v1h-1zm-26.1 .1h1v1h-1zm.4 0h1v1h-1zm5.6 0h1v1h-1zm16.6 0h1v1h-1zm-20.9 .1h1v1h-1zm5.1 0h1v1h-1zm1.8 0h1v1h-1zm7.3 0h1v1h-1zm1.9 0h1v1h-1zm.1 0h1v1h-1zm5.3 0h1v1h-1zm.5 0h1v1h-1zm2 0h1v1h-1zm-21.5 .1h1v1h-1zm5.8 0h1v1h-1zm6.6 0h1v1h-1zm7.1 0h1v1h-1zm-22.5 .1h1v1h-1zm8.6 0h1v1h-1zm6.9 0h1v1h-1zm-14.1 .1h1v1h-1zm2.8 0h1v1h-1zm11.9 0h1v1h-1zm4.5 0h1v1h-1zm-16.3 .1h1v1h-1zm1.2 0h1v1h-1zm10.8 0h1v1h-1zm2.8 0h1v1h-1zm2.7 0h1v1h-1zm-23.7 .1h1v1h-1zm1 0h1v1h-1zm2.9 0h1v1h-1zm1.4 0h1v1h-1zm.4 0h1v1h-1zm11 0h1v1h-1zm3.2 0h1v1h-1zm-17.7 .1h1v1h-1zm5.7 0h1v1h-1zm1 0h1v1h-1zm1.8 0h1v1h-1zm13.3 0h1v1h-1zm-23.6 .1h1v1h-1zm1.2 0h1v1h-1zm2 0h1v1h-1zm1 0h1v1h-1zm2.8 0h1v1h-1zm10 0h1v1h-1zm3.2 0h1v1h-1zm4.7 0h1v1h-1zm1.7 0h1v1h-1zm-26.1 .1h1v1h-1zm7 0h1v1h-1zm3.4 0h1v1h-1zm10.2 0h1v1h-1zm1.4 0h1v1h-1zm1.1 0h1v1h-1zm-18.9 .1h1v1h-1zm.7 0h1v1h-1zm5 0h1v1h-1zm7.8 0h1v1h-1zm.5 0h1v1h-1zm1.7 0h1v1h-1zm5.9 0h1v1h-1zm0 0h1v1h-1zm-26.2 .1h1v1h-1zm.6 0h1v1h-1zm7.4 0h1v1h-1zm2.5 0h1v1h-1zm10.8 0h1v1h-1zm-17.7 .2h1v1h-1zm.3 0h1v1h-1zm.5 0h1v1h-1zm-2.9 .1h1v1h-1zm1.6 0h1v1h-1zm2.8 0h1v1h-1zm13.4 0h1v1h-1zm2.5 0h1v1h-1zm-19 .1h1v1h-1zm.6 0h1v1h-1zm.1 0h1v1h-1zm3.2 0h1v1h-1zm.1 0h1v1h-1zm1.5 0h1v1h-1zm2.9 0h1v1h-1zm8.2 0h1v1h-1zm.3 0h1v1h-1zm-16.9 .1h1v1h-1zm1 0h1v1h-1zm3.3 0h1v1h-1zm9.3 0h1v1h-1zm.1 0h1v1h-1zm.8 0h1v1h-1zm0 0h1v1h-1zm2.1 0h1v1h-1zm1.8 0h1v1h-1zm-16.5 .1h1v1h-1zm1.2 0h1v1h-1zm5.8 0h1v1h-1zm-9.2 .1h1v1h-1zm16.6 0h1v1h-1zm-18.9 .1h1v1h-1zm3.9 0h1v1h-1zm3 0h1v1h-1zm.3 0h1v1h-1zm.3 0h1v1h-1zm11.9 0h1v1h-1zm-15.4 .1h1v1h-1zm8.1 0h1v1h-1zm3.2 0h1v1h-1zm3.9 0h1v1h-1zm2.4 0h1v1h-1zm.2 0h1v1h-1zm.2 0h1v1h-1zm.1 0h1v1h-1zm-21 .1h1v1h-1zm17.6 0h1v1h-1zm3.6 0h1v1h-1zm-16.4 .1h1v1h-1zm.2 0h1v1h-1zm2.5 0h1v1h-1zm6.5 0h1v1h-1zm3.6 0h1v1h-1zm.6 0h1v1h-1zm1.1 0h1v1h-1zm-9.9 .1h1v1h-1zm1.3 0h1v1h-1zm3.8 0h1v1h-1zm6.4 0h1v1h-1zm1.1 0h1v1h-1zm-16.6 .1h1v1h-1zm8.8 0h1v1h-1zm.3 0h1v1h-1zm3.2 0h1v1h-1zm-7.8 .1h1v1h-1zm.9 0h1v1h-1zm.2 0h1v1h-1zm-5.1 .1h1v1h-1zm3.8 0h1v1h-1zm7.8 0h1v1h-1zm.2 0h1v1h-1zm.3 0h1v1h-1zm1.2 0h1v1h-1zm.8 0h1v1h-1zm-18.5 .1h1v1h-1zm6.2 0h1v1h-1zm1.9 0h1v1h-1zm5.6 0h1v1h-1zm3 0h1v1h-1zm-13.2 .1h1v1h-1zm4.8 0h1v1h-1zm5.6 0h1v1h-1zm.2 0h1v1h-1zm-14.5 .1h1v1h-1zm4.4 0h1v1h-1zm3.3 0h1v1h-1zm5.3 0h1v1h-1zm2.1 0h1v1h-1zm.1 0h1v1h-1zm-15.5 .1h1v1h-1zm.3 0h1v1h-1zm5.7 0h1v1h-1zm3.5 0h1v1h-1zm9.1 0h1v1h-1zm-17.4 .1h1v1h-1zm3.4 0h1v1h-1zm.4 0h1v1h-1zm5.1 0h1v1h-1zm2.3 0h1v1h-1zm1.4 0h1v1h-1zm2.6 0h1v1h-1zm2.7 0h1v1h-1zm1.2 0h1v1h-1zm1.6 0h1v1h-1zm3.1 0h1v1h-1zm-25.6 .1h1v1h-1zm.7 0h1v1h-1zm.6 0h1v1h-1zm4.4 0h1v1h-1zm.4 0h1v1h-1zm3.9 0h1v1h-1zm1.2 0h1v1h-1zm5.9 0h1v1h-1zm.2 0h1v1h-1zm5.6 0h1v1h-1zm-20.8 .1h1v1h-1zm6.5 0h1v1h-1zm.2 0h1v1h-1zm7.3 0h1v1h-1zm1.6 0h1v1h-1zm1.3 0h1v1h-1zm-14.1 .1h1v1h-1zm2.3 0h1v1h-1zm.2 0h1v1h-1zm4.1 0h1v1h-1zm3.2 0h1v1h-1zm1.8 0h1v1h-1zm-17.5 .1h1v1h-1zm6.4 0h1v1h-1zm1.2 0h1v1h-1zm.1 0h1v1h-1zm2.8 0h1v1h-1zm12 0h1v1h-1zm.6 0h1v1h-1zm3.8 0h1v1h-1zm-6.6 .1h1v1h-1zm.3 0h1v1h-1zm.2 0h1v1h-1zm3.3 0h1v1h-1zm-23.2 .1h1v1h-1zm.9 0h1v1h-1zm6.8 0h1v1h-1zm1.3 0h1v1h-1zm1.6 0h1v1h-1zm2.4 0h1v1h-1zm.9 0h1v1h-1zm1.9 0h1v1h-1zm3.9 0h1v1h-1zm.8 0h1v1h-1zm1.6 0h1v1h-1zm4.2 0h1v1h-1zm-24 .1h1v1h-1zm4.1 0h1v1h-1zm1 0h1v1h-1zm4.5 0h1v1h-1zm.9 0h1v1h-1zm1.7 0h1v1h-1zm1.6 0h1v1h-1zm4.2 0h1v1h-1zm2 0h1v1h-1zm-12.3 .1h1v1h-1zm0 0h1v1h-1zm.7 0h1v1h-1zm1.8 0h1v1h-1zm13.3 0h1v1h-1zm-23.4 .1h1v1h-1zm2.4 0h1v1h-1zm.2 0h1v1h-1zm1.7 0h1v1h-1zm6.3 0h1v1h-1zm2 0h1v1h-1zm3.8 0h1v1h-1zm-19.2 .1h1v1h-1zm5.5 0h1v1h-1zm.1 0h1v1h-1zm9.7 0h1v1h-1zm3.3 0h1v1h-1zm1.4 0h1v1h-1zm5 0h1v1h-1zm-22.2 .1h1v1h-1zm.6 0h1v1h-1zm.5 0h1v1h-1zm0 0h1v1h-1zm.2 0h1v1h-1zm3.1 0h1v1h-1zm2.6 0h1v1h-1zm5.4 0h1v1h-1zm.4 0h1v1h-1zm2.1 0h1v1h-1zm4.3 0h1v1h-1zm1 0h1v1h-1zm-21.2 .1h1v1h-1zm2.2 0h1v1h-1zm3.7 0h1v1h-1zm4.3 0h1v1h-1zm.6 0h1v1h-1zm2.1 0h1v1h-1zm3.5 0h1v1h-1zm8.5 0h1v1h-1zm0 0h1v1h-1zm-26 .1h1v1h-1zm4.1 0h1v1h-1zm1 0h1v1h-1zm.7 0h1v1h-1zm5.6 0h1v1h-1zm1 0h1v1h-1zm.5 0h1v1h-1zm2.8 0h1v1h-1zm2.8 0h1v1h-1zm2 0h1v1h-1zm-21.3 .1h1v1h-1zm6.4 0h1v1h-1zm1.8 0h1v1h-1zm1 0h1v1h-1zm0 0h1v1h-1zm7.1 0h1v1h-1zm3 0h1v1h-1zm6.2 0h1v1h-1zm-22.4 .1h1v1h-1zm2.2 0h1v1h-1zm1.1 0h1v1h-1zm.5 0h1v1h-1zm.4 0h1v1h-1zm.7 0h1v1h-1zm.3 0h1v1h-1zm1.3 0h1v1h-1zm3.1 0h1v1h-1zm1.8 0h1v1h-1zm2.9 0h1v1h-1zm4.1 0h1v1h-1zm3.4 0h1v1h-1zm.7 0h1v1h-1zm-23.2 .1h1v1h-1zm3.8 0h1v1h-1zm1.8 0h1v1h-1zm3.4 0h1v1h-1zm2.5 0h1v1h-1zm2.8 0h1v1h-1zm1.2 0h1v1h-1zm3.9 0h1v1h-1zm-15.9 .1h1v1h-1zm10.2 0h1v1h-1zm.5 0h1v1h-1zm1.5 0h1v1h-1zm9.2 0h1v1h-1zm-25 .1h1v1h-1zm4.8 0h1v1h-1zm.8 0h1v1h-1zm.6 0h1v1h-1zm2.6 0h1v1h-1zm2.2 0h1v1h-1zm1.1 0h1v1h-1zm.2 0h1v1h-1zm2.7 0h1v1h-1zm.6 0h1v1h-1zm.5 0h1v1h-1zm1.8 0h1v1h-1zm2.2 0h1v1h-1zm3.7 0h1v1h-1zm-23.3 .1h1v1h-1zm2 0h1v1h-1zm2.9 0h1v1h-1zm1.1 0h1v1h-1zm16.6 0h1v1h-1zm-23.9 .1h1v1h-1zm2.4 0h1v1h-1zm15.8 0h1v1h-1zm1.1 0h1v1h-1zm.3 0h1v1h-1zm-16.5 .1h1v1h-1zm1.1 0h1v1h-1zm3.2 0h1v1h-1zm.1 0h1v1h-1zm3.6 0h1v1h-1zm5.2 0h1v1h-1zm4.8 0h1v1h-1zm-20.8 .1h1v1h-1zm4 0h1v1h-1zm5.9 0h1v1h-1zm7 0h1v1h-1zm3.6 0h1v1h-1zm0 0h1v1h-1zm-20.8 .1h1v1h-1zm.8 0h1v1h-1zm7.5 0h1v1h-1zm.3 0h1v1h-1zm7.5 0h1v1h-1zm.6 0h1v1h-1zm.3 0h1v1h-1zm-12.5 .1h1v1h-1zm3.7 0h1v1h-1zm9 0h1v1h-1zm1.2 0h1v1h-1zm-11.4 .1h1v1h-1zm10.6 0h1v1h-1zm2.7 .1h1v1h-1zm-20.2 .1h1v1h-1zm7.4 0h1v1h-1zm12.5 0h1v1h-1zm.6 0h1v1h-1zm-13.5 .1h1v1h-1zm12.5 0h1v1h-1zm-13.7 .1h1v1h-1zm.1 0h1v1h-1zm2.5 0h1v1h-1zm10.3 0h1v1h-1zm-11.5 .1h1v1h-1zm.7 0h1v1h-1zm-1.4 .1h1v1h-1zm3.6 0h1v1h-1zm8.5 0h1v1h-1zm-12.9 .1h1v1h-1zm1.5 0h1v1h-1zm10.2 0h1v1h-1zm2.7 0h1v1h-1zm-15.9 .1h1v1h-1zm.7 0h1v1h-1zm2 0h1v1h-1zm3.2 0h1v1h-1zm-3.9 .1h1v1h-1zm3.4 0h1v1h-1zm10.7 0h1v1h-1zm-16.8 .1h1v1h-1zm4 0h1v1h-1zm-.9 .1h1v1h-1zm.1 0h1v1h-1zm2.4 0h1v1h-1zm1.1 0h1v1h-1zm-2.4 .1h1v1h-1zm2 0h1v1h-1zm8.9 0h1v1h-1zm-15.2 .1h1v1h-1zm5 0h1v1h-1zm.6 0h1v1h-1zm-3 .1h1v1h-1zm.7 0h1v1h-1zm.6 0h1v1h-1zm10.6 0h1v1h-1zm-11.7 .1h1v1h-1zm-1.9 .3h1v1h-1zm.7 0h1v1h-1zm2 .1h1v1h-1zm-1.7 .1h1v1h-1zm-.4 .1h1v1h-1zm.3 0h1v1h-1zm1.8 .1h1v1h-1zm-1.8 .1h1v1h-1zm2.3 0h1v1h-1zm-15.8 30.1h1v1h-1zm-2.6 .1h1v1h-1zm.4 .2h1v1h-1zm1.9 0h1v1h-1zm-.1 .1h1v1h-1zm-1.4 .3h1v1h-1zm.5 0h1v1h-1zm.5 0h1v1h-1zm-1.3 .2h1v1h-1zm2.2 0h1v1h-1zm-9.5 .1h1v1h-1zm6.1 0h1v1h-1zm7.5 0h1v1h-1zm-13.2 .1h1v1h-1zm2.7 0h1v1h-1zm.8 0h1v1h-1zm1.7 0h1v1h-1zm1.8 0h1v1h-1zm-4.8 .2h1v1h-1zm.3 0h1v1h-1zm7 0h1v1h-1zm.5 0h1v1h-1zm-7.5 .1h1v1h-1zm1.9 0h1v1h-1zm2.2 0h1v1h-1zm7.1 0h1v1h-1zm-6.9 .1h1v1h-1zm2.8 0h1v1h-1zm2.4 0h1v1h-1zm1.2 0h1v1h-1zm-14 .1h1v1h-1zm6.7 0h1v1h-1zm8.2 0h1v1h-1zm-16.6 .1h1v1h-1zm6.3 0h1v1h-1zm1.3 0h1v1h-1zm1.7 0h1v1h-1zm-1.3 .1h1v1h-1zm3 0h1v1h-1zm1.3 0h1v1h-1zm3.5 0h1v1h-1zm-13.7 .1h1v1h-1zm7.8 0h1v1h-1zm.1 0h1v1h-1zm-5.7 .1h1v1h-1zm2.7 0h1v1h-1zm.9 0h1v1h-1zm2 0h1v1h-1zm2.7 0h1v1h-1zm-8.8 .1h1v1h-1zm12.2 0h1v1h-1zm2 0h1v1h-1zm1.1 0h1v1h-1zm3.3 0h1v1h-1zm8.4 0h1v1h-1zm-30.5 .1h1v1h-1zm.9 0h1v1h-1zm.5 0h1v1h-1zm13.7 0h1v1h-1zm7.8 0h1v1h-1zm-23 .1h1v1h-1zm.9 0h1v1h-1zm.5 0h1v1h-1zm18 0h1v1h-1zm-14.2 .1h1v1h-1zm.5 0h1v1h-1zm16.3 0h1v1h-1zm-21.1 .1h1v1h-1zm.8 0h1v1h-1zm.4 0h1v1h-1zm13.3 0h1v1h-1zm4.2 0h1v1h-1zm-17 .1h1v1h-1zm.7 0h1v1h-1zm1.5 0h1v1h-1zm11.9 0h1v1h-1zm6.7 0h1v1h-1zm7.3 0h1v1h-1zm-28 .1h1v1h-1zm12.2 0h1v1h-1zm.1 0h1v1h-1zm3.7 0h1v1h-1zm4.3 0h1v1h-1zm-21.1 .1h1v1h-1zm.9 0h1v1h-1zm.3 0h1v1h-1zm2.4 0h1v1h-1zm10.7 0h1v1h-1zm3.5 0h1v1h-1zm1.5 0h1v1h-1zm1 0h1v1h-1zm1.5 0h1v1h-1zm-24.9 .1h1v1h-1zm1.6 0h1v1h-1zm2.9 0h1v1h-1zm.5 0h1v1h-1zm12.2 0h1v1h-1zm6 0h1v1h-1zm1.6 0h1v1h-1zm6.8 0h1v1h-1zm-30.7 .1h1v1h-1zm25.9 0h1v1h-1zm.6 0h1v1h-1zm-.3 .1h1v1h-1zm.1 0h1v1h-1zm2.6 0h1v1h-1zm2.4 0h1v1h-1zm-13.1 .1h1v1h-1zm5.5 0h1v1h-1zm2.8 0h1v1h-1zm-27.1 .1h1v1h-1zm.4 0h1v1h-1zm20.6 0h1v1h-1zm1.1 0h1v1h-1zm2.7 0h1v1h-1zm2.2 0h1v1h-1zm3 0h1v1h-1zm-29.4 .1h1v1h-1zm19.9 0h1v1h-1zm1 0h1v1h-1zm0 0h1v1h-1zm8.2 0h1v1h-1zm2.4 0h1v1h-1zm-32.1 .1h1v1h-1zm23.4 0h1v1h-1zm8.1 0h1v1h-1zm1.1 0h1v1h-1zm-12 .1h1v1h-1zm2.9 0h1v1h-1zm1.6 0h1v1h-1zm2.4 0h1v1h-1zm-6.8 .1h1v1h-1zm1.2 0h1v1h-1zm4.5 0h1v1h-1zm4.8 0h1v1h-1zm-30.9 .1h1v1h-1zm20.8 0h1v1h-1zm3.3 0h1v1h-1zm1.3 0h1v1h-1zm-25 .1h1v1h-1zm21.1 0h1v1h-1zm1.4 0h1v1h-1zm1 0h1v1h-1zm.3 0h1v1h-1zm6.6 0h1v1h-1zm.9 0h1v1h-1zm-7.6 .1h1v1h-1zm-24.8 .1h1v1h-1zm24.7 0h1v1h-1zm.1 0h1v1h-1zm2.3 .1h1v1h-1zm3.6 0h1v1h-1zm-2.2 .1h1v1h-1zm3.4 0h1v1h-1zm.4 0h1v1h-1zm-7.5 .1h1v1h-1zm3.6 0h1v1h-1zm3.2 0h1v1h-1zm-2.8 .1h1v1h-1zm1.3 0h1v1h-1zm-3.6 .1h1v1h-1zm1.9 0h1v1h-1zm3 0h1v1h-1zm1.5 0h1v1h-1zm-8.3 .1h1v1h-1zm1.6 0h1v1h-1zm-1.3 .1h1v1h-1zm1.9 0h1v1h-1zm.4 0h1v1h-1zm1.4 0h1v1h-1zm.7 0h1v1h-1zm-1 .1h1v1h-1zm2.1 .1h1v1h-1zm.7 0h1v1h-1zm-5.2 .1h1v1h-1zm.7 0h1v1h-1zm1 .1h1v1h-1zm.7 0h1v1h-1zm2.4 0h1v1h-1zm-4.9 .2h1v1h-1zm-.2 .1h1v1h-1zm2.8 0h1v1h-1zm1.8 0h1v1h-1zm-31 .1h1v1h-1zm27.6 0h1v1h-1zm2.1 0h1v1h-1zm.7 .1h1v1h-1zm1.4 .1h1v1h-1zm0 0h1v1h-1zm-1.3 .1h1v1h-1zm1.1 0h1v1h-1zm-30.8 .1h1v1h-1zm27.3 0h1v1h-1zm5.8 0h1v1h-1zm-34.2 .1h1v1h-1zm27.7 0h1v1h-1zm4.5 0h1v1h-1zm-.2 .1h1v1h-1zm-1.4 .1h1v1h-1zm3.4 0h1v1h-1zm-6.2 .1h1v1h-1zm1.6 0h1v1h-1zm0 0h1v1h-1zm-29.7 .1h1v1h-1zm30.6 0h1v1h-1zm.7 0h1v1h-1zm-30.9 .1h1v1h-1zm-.5 .1h1v1h-1zm29 0h1v1h-1zm3.9 .1h1v1h-1zm-3.7 .1h1v1h-1zm0 0h1v1h-1zm.9 0h1v1h-1zm2.7 0h1v1h-1zm-2.5 .1h1v1h-1zm-1 .1h1v1h-1zm4.1 0h1v1h-1zm.2 0h1v1h-1zm-3.3 .1h1v1h-1zm1.3 .1h1v1h-1zm2.8 0h1v1h-1zm-2.5 .2h1v1h-1zm.8 0h1v1h-1zm-.9 .1h1v1h-1zm.7 0h1v1h-1zm-2.1 .1h1v1h-1zm2 0h1v1h-1zm.3 0h1v1h-1zm1.4 0h1v1h-1zm-34.3 .1h1v1h-1zm29.5 0h1v1h-1zm5 0h1v1h-1zm-34.4 .1h1v1h-1zm29 0h1v1h-1zm1.8 0h1v1h-1zm-1.9 .4h1v1h-1zm1.6 0h1v1h-1zm-1.8 .1h1v1h-1zm.6 0h1v1h-1zm.2 0h1v1h-1zm-.3 .1h1v1h-1zm.4 .1h1v1h-1zm1.4 .1h1v1h-1zm1 0h1v1h-1zm1.7 .1h1v1h-1zm-2.8 .2h1v1h-1zm-1.3 .2h1v1h-1zm-1.9 .1h1v1h-1zm1.2 0h1v1h-1zm2.7 0h1v1h-1zm-3.1 .1h1v1h-1zm2.2 .2h1v1h-1zm-.8 .1h1v1h-1zm.8 .1h1v1h-1zm0 0h1v1h-1zm-.5 .1h1v1h-1zm.3 0h1v1h-1zm-1.9 .1h1v1h-1zm1 0h1v1h-1zm-2.9 .1h1v1h-1zm.9 .1h1v1h-1zm.5 .6h1v1h-1zm.6 0h1v1h-1zm0 .1h1v1h-1zm-2 .1h1v1h-1zm-1.6 .1h1v1h-1zm1.2 0h1v1h-1zm.6 .1h1v1h-1zm1.1 .1h1v1h-1zm-2.2 .2h1v1h-1zm-23.9 .1h1v1h-1zm23.8 0h1v1h-1zm1.5 0h1v1h-1zm-1.4 .1h1v1h-1zm.5 0h1v1h-1zm.2 0h1v1h-1zm-24.5 .1h1v1h-1zm22.7 0h1v1h-1zm2.3 0h1v1h-1zm-.5 .1h1v1h-1zm.3 .1h1v1h-1zm-.4 .1h1v1h-1zm0 0h1v1h-1zm-2.2 .1h1v1h-1zm.9 0h1v1h-1zm-1.9 .1h1v1h-1zm-21.4 .1h1v1h-1zm21.8 0h1v1h-1zm2 .5h1v1h-1zm-22.4 .1h1v1h-1zm18.4 0h1v1h-1zm-.7 .1h1v1h-1zm1.3 .1h1v1h-1zm.8 0h1v1h-1zm.8 0h1v1h-1zm-2.1 .1h1v1h-1zm-17.3 .1h1v1h-1zm17.7 0h1v1h-1zm.1 0h1v1h-1zm-19.3 .1h1v1h-1zm.6 .1h1v1h-1zm.4 0h1v1h-1zm-.2 .2h1v1h-1zm.1 .1h1v1h-1zm.1 .1h1v1h-1zm3.5 0h1v1h-1zm1.8 0h1v1h-1zm5 0h1v1h-1zm.3 0h1v1h-1zm3.3 0h1v1h-1zm.9 0h1v1h-1zm5.8 0h1v1h-1zm-13.7 .1h1v1h-1zm2.2 0h1v1h-1zm4.5 0h1v1h-1zm1.4 0h1v1h-1zm-10.6 .1h1v1h-1zm.4 0h1v1h-1zm1 0h1v1h-1zm0 0h1v1h-1zm3 0h1v1h-1zm3.2 0h1v1h-1zm-4.5 .1h1v1h-1zm2.7 0h1v1h-1zm-6.6 .1h1v1h-1zm1.4 0h1v1h-1zm.8 0h1v1h-1zm7.3 0h1v1h-1zm2.8 0h1v1h-1zm-16.1 .1h1v1h-1zm1 0h1v1h-1zm4.2 0h1v1h-1zm8.7 0h1v1h-1zm-7.6 .1h1v1h-1zm3.2 0h1v1h-1zm3.6 0h1v1h-1zm4.4 0h1v1h-1zm-16.2 .1h1v1h-1zm.2 0h1v1h-1zm4.5 0h1v1h-1zm2.9 .1h1v1h-1zm6.8 0h1v1h-1zm.6 0h1v1h-1zm-11.7 .1h1v1h-1zm3 0h1v1h-1zm2.2 0h1v1h-1zm1.1 0h1v1h-1zm-3.7 .1h1v1h-1zm-.9 .1h1v1h-1zm1.7 0h1v1h-1zm-1.4 .3h1v1h-1z" fill="#2848e8"/><path d="M0 0m50.3 35h1v1h-1zm-.6 .2h1v1h-1zm.6 0h1v1h-1zm0 0h1v1h-1zm1.1 .1h1v1h-1zm-1.4 .2h1v1h-1zm.5 .1h1v1h-1zm-.2 .1h1v1h-1zm.8 .1h1v1h-1zm-1.7 .2h1v1h-1zm.9 0h1v1h-1zm.2 0h1v1h-1zm2.3 .1h1v1h-1zm.1 .1h1v1h-1zm-2.5 .1h1v1h-1zm.7 0h1v1h-1zm.3 0h1v1h-1zm-1.3 .2h1v1h-1zm2.7 0h1v1h-1zm-3.6 .1h1v1h-1zm.1 0h1v1h-1zm2.7 0h1v1h-1zm2.5 0h1v1h-1zm-4.7 .1h1v1h-1zm3.4 0h1v1h-1zm.6 0h1v1h-1zm1.7 .2h1v1h-1zm-6 .1h1v1h-1zm1.9 0h1v1h-1zm3.8 .1h1v1h-1zm-3.9 .1h1v1h-1zm.6 0h1v1h-1zm3.9 0h1v1h-1zm-5.4 .1h1v1h-1zm.7 0h1v1h-1zm-.6 .2h1v1h-1zm.5 0h1v1h-1zm-.9 .1h1v1h-1zm.5 .1h1v1h-1zm.8 0h1v1h-1zm3.7 0h1v1h-1zm.2 .1h1v1h-1zm-4.9 .2h1v1h-1zm.6 0h1v1h-1zm4.9 .4h1v1h-1zm-4.8 .3h1v1h-1zm4.5 0h1v1h-1zm-4.6 .1h1v1h-1zm4 .1h1v1h-1zm.9 0h1v1h-1zm-.7 .2h1v1h-1zm.1 0h1v1h-1zm-2.4 .1h1v1h-1zm2.2 0h1v1h-1zm.7 .2h1v1h-1zm.1 0h1v1h-1zm-3.9 .1h1v1h-1zm.1 .1h1v1h-1zm0 .1h1v1h-1zm.7 .2h1v1h-1zm2.8 0h1v1h-1zm-2.5 .1h1v1h-1zm-10 .2h1v1h-1zm1.2 0h1v1h-1zm9.5 0h1v1h-1zm.6 0h1v1h-1zm0 0h1v1h-1zm-10.8 .1h1v1h-1zm.4 0h1v1h-1zm0 0h1v1h-1zm.1 0h1v1h-1zm.8 0h1v1h-1zm-1.3 .1h1v1h-1zm10.5 0h1v1h-1zm-10.9 .1h1v1h-1zm1.3 0h1v1h-1zm1.1 0h1v1h-1zm8.1 0h1v1h-1zm-10.5 .1h1v1h-1zm10 0h1v1h-1zm-8.1 .1h1v1h-1zm-1.5 .1h1v1h-1zm-.2 .1h1v1h-1zm2.2 0h1v1h-1zm9.2 0h1v1h-1zm-10.9 .1h1v1h-1zm1 0h1v1h-1zm-.7 .2h1v1h-1zm1.6 .2h1v1h-1zm-1.4 .1h1v1h-1zm1.4 .2h1v1h-1zm-1.3 .2h1v1h-1zm-.1 .1h1v1h-1zm-6.5 36.1h1v1h-1zm-.2 .1h1v1h-1zm0 0h1v1h-1zm-3.9 .1h1v1h-1zm3 .3h1v1h-1zm-2.1 .1h1v1h-1zm2.3 .1h1v1h-1zm-3.3 .1h1v1h-1zm3.1 0h1v1h-1zm.2 0h1v1h-1zm-13.2 .1h1v1h-1zm11.1 0h1v1h-1zm2.7 0h1v1h-1zm.2 0h1v1h-1zm2.6 .1h1v1h-1zm.3 .3h1v1h-1zm-16.8 .2h1v1h-1zm-.6 .3h1v1h-1zm17.1 0h1v1h-1zm-17.1 .1h1v1h-1zm-1.1 .1h1v1h-1zm.2 0h1v1h-1zm23.1 .2h1v1h-1zm.5 0h1v1h-1zm-23.9 .1h1v1h-1zm23.4 .1h1v1h-1zm.4 .1h1v1h-1zm-23.2 .1h1v1h-1zm-.5 .1h1v1h-1zm.2 .1h1v1h-1zm24.1 .1h1v1h-1zm.2 .1h1v1h-1zm.2 .1h1v1h-1zm-.5 .5h1v1h-1zm0 .2h1v1h-1zm.6 .1h1v1h-1zm-25.9 .1h1v1h-1zm26.4 .7h1v1h-1zm.6 .2h1v1h-1zm.2 .4h1v1h-1zm0 0h1v1h-1zm0 .2h1v1h-1zm.2 .4h1v1h-1zm-.2 .1h1v1h-1zm.5 .4h1v1h-1zm.1 0h1v1h-1zm-.4 .2h1v1h-1zm-2.3 1.3h1v1h-1zm.1 .1h1v1h-1zm.2 0h1v1h-1zm0 .1h1v1h-1zm.4 .1h1v1h-1zm-.1 .2h1v1h-1zm-.3 .2h1v1h-1zm.4 0h1v1h-1zm-.5 .1h1v1h-1zm-1.5 .2h1v1h-1zm-.6 .1h1v1h-1zm-.1 .3h1v1h-1zm.7 .2h1v1h-1zm-.3 .3h1v1h-1zm-1.9 .2h1v1h-1zm-19.5 .1h1v1h-1zm.7 .2h1v1h-1zm18.7 0h1v1h-1zm0 .3h1v1h-1zm-6.5 .3h1v1h-1zm0 0h1v1h-1zm-10.6 .1h1v1h-1zm15.3 0h1v1h-1zm-1.3 .1h1v1h-1zm.8 0h1v1h-1zm-3.4 .1h1v1h-1zm1.1 0h1v1h-1zm1.6 0h1v1h-1zm-14 .1h1v1h-1zm11.2 0h1v1h-1zm2.6 0h1v1h-1zm-2.3 .1h1v1h-1zm3.8 0h1v1h-1zm-.9 .1h1v1h-1zm.2 0h1v1h-1zm-15.1 .1h1v1h-1zm12.9 0h1v1h-1zm-12.2 .1h1v1h-1zm.2 0h1v1h-1zm10.5 .1h1v1h-1zm3.9 0h1v1h-1zm0 0h1v1h-1zm-1.3 .1h1v1h-1z" fill="#2858e8"/><path d="M0 0m34.8 80.3h1v1h-1zm-.2 .3h1v1h-1zm.4 .1h1v1h-1zm-.6 .1h1v1h-1zm.2 .2h1v1h-1zm3.6 .1h1v1h-1zm.7 0h1v1h-1zm-.4 .2h1v1h-1zm-.5 .1h1v1h-1zm.4 0h1v1h-1zm-12.9 .1h1v1h-1zm13.1 0h1v1h-1zm-1.4 .1h1v1h-1zm-11.5 .1h1v1h-1zm12.6 .1h1v1h-1zm-12.4 .1h1v1h-1zm12 0h1v1h-1zm.1 0h1v1h-1zm1 0h1v1h-1zm-1.9 .1h1v1h-1zm-13.5 .2h1v1h-1zm.2 0h1v1h-1zm17.4 0h1v1h-1zm.7 0h1v1h-1zm-18.3 .1h1v1h-1zm17.5 0h1v1h-1zm.2 0h1v1h-1zm.3 0h1v1h-1zm0 0h1v1h-1zm-.2 .1h1v1h-1zm-17.7 .1h1v1h-1zm17.6 0h1v1h-1zm-18 .1h1v1h-1zm.6 0h1v1h-1zm-.1 .1h1v1h-1zm17.3 .1h1v1h-1zm.1 0h1v1h-1zm-18.1 .1h1v1h-1zm.7 0h1v1h-1zm17.4 0h1v1h-1zm.2 0h1v1h-1zm.1 .1h1v1h-1zm.4 .1h1v1h-1zm-.2 .1h1v1h-1zm.3 .3h1v1h-1zm-.3 .1h1v1h-1zm0 .4h1v1h-1zm-.5 .1h1v1h-1zm.2 .2h1v1h-1zm.3 0h1v1h-1zm-.5 .4h1v1h-1zm.4 0h1v1h-1zm.4 .1h1v1h-1zm-.8 .2h1v1h-1zm.4 0h1v1h-1zm-.2 .1h1v1h-1zm.4 .2h1v1h-1zm0 0h1v1h-1zm-.7 .3h1v1h-1zm0 .1h1v1h-1zm.6 .3h1v1h-1zm-5.5 1.2h1v1h-1zm.6 0h1v1h-1zm-.2 .3h1v1h-1zm.4 .1h1v1h-1zm-.9 .1h1v1h-1zm.4 .3h1v1h-1zm-7.6 .2h1v1h-1zm4.8 0h1v1h-1zm-5.2 .1h1v1h-1zm0 0h1v1h-1zm5.1 0h1v1h-1zm-4.9 .1h1v1h-1zm3.6 .1h1v1h-1zm.2 .1h1v1h-1zm-4.1 .1h1v1h-1zm5.3 0h1v1h-1zm-4.8 .1h1v1h-1zm3.8 .1h1v1h-1z" fill="#18b8d8"/><path d="M0 0m39.7 81.1h1v1h-1zm-.7 .1h1v1h-1zm.8 .1h1v1h-1zm.1 .1h1v1h-1zm-.6 .1h1v1h-1zm.1 .1h1v1h-1zm.3 0h1v1h-1zm-.5 .2h1v1h-1zm.1 .1h1v1h-1zm.4 0h1v1h-1zm0 .1h1v1h-1zm2.7 1.4h1v1h-1zm.6 0h1v1h-1zm-.8 .1h1v1h-1zm.2 .2h1v1h-1zm.5 .2h1v1h-1zm-.6 .1h1v1h-1zm-3.8 3h1v1h-1zm.7 0h1v1h-1zm-.3 .2h1v1h-1zm.4 0h1v1h-1zm.2 .1h1v1h-1zm.4 .1h1v1h-1zm-1.9 .1h1v1h-1zm1.6 0h1v1h-1zm-.9 .1h1v1h-1zm0 0h1v1h-1zm-.6 .1h1v1h-1zm.5 0h1v1h-1zm.6 0h1v1h-1zm-.5 .2h1v1h-1zm1.1 0h1v1h-1z" fill="#18a8d8"/><path d="M0 0m57.6 30h1v1h-1zm.1 .7h1v1h-1zm0 .1h1v1h-1zm7.5 1.8h1v1h-1zm.4 .1h1v1h-1zm.1 0h1v1h-1zm-.5 .4h1v1h-1zm.7 .3h1v1h-1zm-21.1 .2h1v1h-1zm-.5 .1h1v1h-1zm21.5 0h1v1h-1zm-.1 .1h1v1h-1zm-.5 .2h1v1h-1zm-22.9 .8h1v1h-1zm25.2 .3h1v1h-1zm-26.4 .1h1v1h-1zm.2 .2h1v1h-1zm1 0h1v1h-1zm25.3 .1h1v1h-1zm-25.3 .4h1v1h-1zm-3.7 .1h1v1h-1zm30 0h1v1h-1zm-.5 .1h1v1h-1zm-29.5 .5h1v1h-1zm-1.5 .6h1v1h-1zm31.8 0h1v1h-1zm-.9 .3h1v1h-1zm-30.4 .1h1v1h-1zm31.4 .1h1v1h-1zm-31.7 .1h1v1h-1zm.2 .6h1v1h-1zm.2 0h1v1h-1zm1.3 0h1v1h-1zm-1.1 .2h1v1h-1zm29.6 0h1v1h-1zm-30.1 .5h1v1h-1zm1.7 .1h1v1h-1zm27.6 0h1v1h-1zm-27.8 .1h1v1h-1zm.2 0h1v1h-1zm27.6 .1h1v1h-1zm-27.9 .2h1v1h-1zm.1 0h1v1h-1zm25.6 0h1v1h-1zm1.2 0h1v1h-1zm.5 0h1v1h-1zm-.7 .5h1v1h-1zm2.5 .1h1v1h-1zm-30.8 .1h1v1h-1zm28.7 0h1v1h-1zm-28 .1h1v1h-1zm.1 .1h1v1h-1zm27.9 0h1v1h-1zm-.8 .1h1v1h-1zm1.1 0h1v1h-1zm.3 0h1v1h-1zm.1 0h1v1h-1zm-29.1 .2h1v1h-1zm1.6 .2h1v1h-1zm.3 0h1v1h-1zm-1.2 .1h1v1h-1zm27.2 0h1v1h-1zm-27 .2h1v1h-1zm1.1 0h1v1h-1zm30.5 0h1v1h-1zm-31 .3h1v1h-1zm1 0h1v1h-1zm29.1 .1h1v1h-1zm-29.3 .1h1v1h-1zm29.9 0h1v1h-1zm-30.8 .1h1v1h-1zm-.4 .1h1v1h-1zm27.2 0h1v1h-1zm2.7 0h1v1h-1zm-28.1 .3h1v1h-1zm28.8 .1h1v1h-1zm-28.3 .1h1v1h-1zm-.6 .1h1v1h-1zm.3 .1h1v1h-1zm28.5 0h1v1h-1zm.5 .1h1v1h-1zm.3 .2h1v1h-1zm-14.6 .2h1v1h-1zm.6 .1h1v1h-1zm-.1 .2h1v1h-1zm8.6 0h1v1h-1zm.7 .1h1v1h-1zm-22.8 1.6h1v1h-1zm.1 .2h1v1h-1zm-.1 .1h1v1h-1zm-.1 .3h1v1h-1zm.1 .1h1v1h-1zm.4 0h1v1h-1zm-7 30.1h1v1h-1zm-6.3 .3h1v1h-1zm5.7 .1h1v1h-1zm0 .1h1v1h-1zm1 0h1v1h-1zm-.9 .1h1v1h-1zm-5.2 .3h1v1h-1zm5.4 0h1v1h-1zm.5 .1h1v1h-1zm16.4 1.1h1v1h-1zm2.4 .1h1v1h-1zm-2.5 .7h1v1h-1zm2.4 0h1v1h-1zm.4 0h1v1h-1zm.4 .2h1v1h-1zm-1.2 5.1h1v1h-1zm.5 0h1v1h-1zm0 0h1v1h-1zm.3 .2h1v1h-1zm-.7 .1h1v1h-1zm-.1 .2h1v1h-1zm-1.8 .4h1v1h-1zm.6 0h1v1h-1zm-.4 .1h1v1h-1zm-.2 .2h1v1h-1zm.1 .2h1v1h-1zm-29.7 3.8h1v1h-1zm-.2 .2h1v1h-1zm.1 .3h1v1h-1zm.8 .5h1v1h-1zm.6 .4h1v1h-1zm5.9 .4h1v1h-1zm-.8 .5h1v1h-1z" fill="#2848d8"/><path d="M0 0m28.6 80.3h1v1h-1zm4.4 0h1v1h-1zm.9 0h1v1h-1zm-5 .2h1v1h-1zm-.7 .1h1v1h-1zm.2 0h1v1h-1zm4.8 .2h1v1h-1zm.2 0h1v1h-1zm.3 .1h1v1h-1zm-7.7 .2h1v1h-1zm.2 .2h1v1h-1zm.3 0h1v1h-1zm.1 .4h1v1h-1zm0 .3h1v1h-1zm-1.8 .1h1v1h-1zm14.8 0h1v1h-1zm-15.3 .1h1v1h-1zm13.8 0h1v1h-1zm1 0h1v1h-1zm-14.6 .1h1v1h-1zm.2 0h1v1h-1zm.2 0h1v1h-1zm0 0h1v1h-1zm14.7 0h1v1h-1zm-15.4 .1h1v1h-1zm14.1 0h1v1h-1zm.3 0h1v1h-1zm1.3 0h1v1h-1zm-15.3 .1h1v1h-1zm14.9 0h1v1h-1zm-15.3 .1h1v1h-1zm14.1 .1h1v1h-1zm1.2 0h1v1h-1zm-1.2 .1h1v1h-1zm-14 .1h1v1h-1zm.3 0h1v1h-1zm13.5 0h1v1h-1zm1.4 0h1v1h-1zm-16 .1h1v1h-1zm16.7 0h1v1h-1zm-16.5 .1h1v1h-1zm16.4 0h1v1h-1zm.5 0h1v1h-1zm-17.5 .1h1v1h-1zm17.7 0h1v1h-1zm-.8 .1h1v1h-1zm.4 0h1v1h-1zm-17 .1h1v1h-1zm.4 0h1v1h-1zm-.3 .1h1v1h-1zm16.9 0h1v1h-1zm.2 0h1v1h-1zm-17 .1h1v1h-1zm-.2 .1h1v1h-1zm.1 0h1v1h-1zm.3 0h1v1h-1zm16.9 .1h1v1h-1zm-17.4 .2h1v1h-1zm16.9 0h1v1h-1zm.3 0h1v1h-1zm-17.3 .1h1v1h-1zm.1 0h1v1h-1zm.5 .1h1v1h-1zm17 0h1v1h-1zm-17.1 .2h1v1h-1zm16.3 0h1v1h-1zm.5 0h1v1h-1zm-16.9 .1h1v1h-1zm17.3 0h1v1h-1zm-.8 .1h1v1h-1zm.4 0h1v1h-1zm-16.8 .1h1v1h-1zm.1 0h1v1h-1zm16.5 .1h1v1h-1zm.1 0h1v1h-1zm.2 0h1v1h-1zm-17.1 .1h1v1h-1zm.4 0h1v1h-1zm-.6 .1h1v1h-1zm17.3 .2h1v1h-1zm0 .2h1v1h-1zm0 .1h1v1h-1zm-.1 .1h1v1h-1zm0 .1h1v1h-1zm-1.9 .3h1v1h-1zm-.8 .1h1v1h-1zm1.4 .1h1v1h-1zm.4 0h1v1h-1zm.1 0h1v1h-1zm-1.4 .1h1v1h-1zm1.6 0h1v1h-1zm-.9 .1h1v1h-1zm0 0h1v1h-1zm.2 0h1v1h-1zm.5 0h1v1h-1zm.1 0h1v1h-1zm.2 0h1v1h-1zm-.2 .1h1v1h-1zm.1 0h1v1h-1zm-2.9 .1h1v1h-1zm2.6 0h1v1h-1zm-1.5 .1h1v1h-1zm.4 0h1v1h-1zm.8 0h1v1h-1zm.4 0h1v1h-1zm-2.5 .1h1v1h-1zm.9 0h1v1h-1zm1.6 0h1v1h-1zm0 0h1v1h-1zm-2.4 .1h1v1h-1zm1.6 0h1v1h-1zm-3.9 .2h1v1h-1zm.1 .7h1v1h-1zm.6 .1h1v1h-1zm-4.3 .1h1v1h-1zm-.3 .2h1v1h-1zm.8 0h1v1h-1zm-1.8 .1h1v1h-1zm1 0h1v1h-1zm.8 .1h1v1h-1zm-.9 .2h1v1h-1zm-.5 .3h1v1h-1zm.9 .1h1v1h-1z" fill="#18c8c8"/><path d="M0 0m36.4 81.2h1v1h-1zm.4 0h1v1h-1zm.2 .3h1v1h-1zm-.6 .2h1v1h-1zm.3 .2h1v1h-1zm3.4 .2h1v1h-1zm.1 0h1v1h-1zm.5 .2h1v1h-1zm-.3 .1h1v1h-1zm-.1 .5h1v1h-1zm-16.9 2.2h1v1h-1zm.1 .1h1v1h-1zm.4 .1h1v1h-1zm-.4 .1h1v1h-1zm.1 .1h1v1h-1zm-.5 .2h1v1h-1zm.3 0h1v1h-1zm.3 .1h1v1h-1zm.1 .1h1v1h-1zm.4 .1h1v1h-1zm.8 0h1v1h-1zm15.8 0h1v1h-1zm-16.7 .1h1v1h-1zm16.6 0h1v1h-1zm-16.7 .1h1v1h-1zm16.4 0h1v1h-1zm.5 0h1v1h-1zm-16.3 .1h1v1h-1zm16.2 0h1v1h-1zm-16.7 .1h1v1h-1zm.6 0h1v1h-1zm.1 0h1v1h-1zm15.4 0h1v1h-1zm.6 0h1v1h-1zm-16.3 .1h1v1h-1zm-.4 .1h1v1h-1zm16.3 0h1v1h-1zm-15.7 .1h1v1h-1zm.3 0h1v1h-1zm15.2 0h1v1h-1zm.6 0h1v1h-1zm-16.3 .1h1v1h-1zm.5 .1h1v1h-1zm1.6 .1h1v1h-1zm13.6 0h1v1h-1zm.7 0h1v1h-1zm-14.8 .1h1v1h-1zm.3 0h1v1h-1zm-.3 .4h1v1h-1zm.6 .2h1v1h-1zm.3 .2h1v1h-1zm3 .7h1v1h-1zm-.1 .3h1v1h-1z" fill="#18b8c8"/><path d="M0 0m57 23h1v1h-1zm-4.9 .4h1v1h-1zm3.3 0h1v1h-1zm-4.1 .2h1v1h-1zm2.6 .4h1v1h-1zm4.7 0h1v1h-1zm-.6 .2h1v1h-1zm7.4 .8h1v1h-1zm-16.8 .1h1v1h-1zm15.4 .2h1v1h-1zm-15.3 .3h1v1h-1zm16.1 .1h1v1h-1zm-3.7 .1h1v1h-1zm3 .1h1v1h-1zm3.4 .7h1v1h-1zm1.6 .5h1v1h-1zm-27.9 .4h1v1h-1zm-.3 .3h1v1h-1zm.4 .1h1v1h-1zm28.8 .2h1v1h-1zm-31.2 .2h1v1h-1zm33 .3h1v1h-1zm-33.1 .2h1v1h-1zm1 0h1v1h-1zm32.8 1h1v1h-1zm-33 .1h1v1h-1zm30.8 0h1v1h-1zm3.7 .2h1v1h-1zm.8 .1h1v1h-1zm-3.4 .3h1v1h-1zm-36.3 .2h1v1h-1zm35.7 .3h1v1h-1zm.9 0h1v1h-1zm3.3 .5h1v1h-1zm-41.4 .4h1v1h-1zm41.9 .2h1v1h-1zm-43.5 .4h1v1h-1zm1.1 .4h1v1h-1zm42.4 .1h1v1h-1zm-41.8 .8h1v1h-1zm41.3 .1h1v1h-1zm-41.6 .4h1v1h-1zm42.3 .1h1v1h-1zm-43.5 .1h1v1h-1zm.7 .1h1v1h-1zm.1 0h1v1h-1zm42 .2h1v1h-1zm-44 .4h1v1h-1zm0 .4h1v1h-1zm.1 .1h1v1h-1zm-2.6 1.7h1v1h-1zm-1.1 .7h1v1h-1zm52.2 .3h1v1h-1zm-52.3 1.3h1v1h-1zm2.5 .7h1v1h-1zm-1.1 .5h1v1h-1zm49.3 .1h1v1h-1zm-48 .2h1v1h-1zm.3 .8h1v1h-1zm.1 .3h1v1h-1zm2.9 .8h1v1h-1zm-1 .1h1v1h-1zm.2 .2h1v1h-1zm.8 0h1v1h-1zm-.8 .3h1v1h-1zm38.6 1.5h1v1h-1zm-35.2 .5h1v1h-1zm-.4 .8h1v1h-1zm32.7 1.4h1v1h-1zm-31.3 .3h1v1h-1zm29.1 0h1v1h-1zm-28.3 .8h1v1h-1zm24.7 .1h1v1h-1zm1.8 0h1v1h-1zm-16.3 .4h1v1h-1zm16.6 0h1v1h-1zm-4.1 .1h1v1h-1zm1.5 .2h1v1h-1zm1.1 0h1v1h-1zm1.6 .2h1v1h-1zm-6.5 .1h1v1h-1zm-12 .1h1v1h-1zm-7.2 .1h1v1h-1zm4.1 .2h1v1h-1zm2 0h1v1h-1zm1.8 0h1v1h-1zm-3.8 .1h1v1h-1zm7.9 0h1v1h-1zm-9.1 .1h1v1h-1zm4.4 0h1v1h-1zm-6.5 .1h1v1h-1zm6.7 0h1v1h-1zm11.5 .2h1v1h-1zm-2.3 .1h1v1h-1zm-16.3 .1h1v1h-1zm1.4 0h1v1h-1zm13.6 1.5h1v1h-1zm-14.5 .1h1v1h-1zm0 .1h1v1h-1zm13.7 0h1v1h-1zm-13.7 .2h1v1h-1zm-1.3 .6h1v1h-1zm-14.7 1.1h1v1h-1zm14.4 0h1v1h-1zm-1.5 .5h1v1h-1zm-4.2 .1h1v1h-1zm-.8 .1h1v1h-1zm-7.9 .1h1v1h-1zm12.5 0h1v1h-1zm.1 .1h1v1h-1zm-11.9 .1h1v1h-1zm13.4 0h1v1h-1zm-13.6 .1h1v1h-1zm3.4 1.1h1v1h-1zm-.7 .6h1v1h-1zm11.2 .3h1v1h-1zm-9.7 .5h1v1h-1zm-6.9 .4h1v1h-1zm24.4 0h1v1h-1zm-24.6 .1h1v1h-1zm28.3 .3h1v1h-1zm1 .1h1v1h-1zm-11.1 .1h1v1h-1zm5.8 .1h1v1h-1zm1.5 0h1v1h-1zm3.1 .1h1v1h-1zm-3.7 .1h1v1h-1zm2.9 0h1v1h-1zm-2.2 .3h1v1h-1zm-2.5 .1h1v1h-1zm3.5 .1h1v1h-1zm1 .5h1v1h-1zm1.5 .1h1v1h-1zm-6.1 .1h1v1h-1zm7.3 .1h1v1h-1zm-6.6 .1h1v1h-1zm2 0h1v1h-1zm-4.6 .1h1v1h-1zm-.5 .3h1v1h-1zm4.6 .1h1v1h-1zm2.4 0h1v1h-1zm.7 .1h1v1h-1zm1.9 0h1v1h-1zm-5.8 .1h1v1h-1zm.3 0h1v1h-1zm6.4 .3h1v1h-1zm.7 .3h1v1h-1zm1.3 .2h1v1h-1zm-.4 .1h1v1h-1zm-1.8 .1h1v1h-1zm-7.9 1.8h1v1h-1zm-7.3 .5h1v1h-1zm7.5 1.5h1v1h-1zm-6 .1h1v1h-1zm4.7 .1h1v1h-1zm0 .2h1v1h-1zm2.6 .1h1v1h-1zm-7.7 .2h1v1h-1zm6.8 .3h1v1h-1zm.8 .1h1v1h-1zm.1 0h1v1h-1zm-1.1 .3h1v1h-1zm-.3 .3h1v1h-1zm-.4 .3h1v1h-1zm-1.8 .2h1v1h-1zm-.4 .7h1v1h-1zm-3.5 .4h1v1h-1zm7.5 0h1v1h-1zm-9.2 .1h1v1h-1zm5.1 .1h1v1h-1zm4.4 0h1v1h-1zm-9.5 .1h1v1h-1zm10.2 .2h1v1h-1zm-13.6 .3h1v1h-1zm14.3 .2h1v1h-1zm-13.7 .1h1v1h-1zm14.5 .1h1v1h-1zm-7.4 .1h1v1h-1zm12 0h1v1h-1zm-20.5 .3h1v1h-1zm4.3 0h1v1h-1zm12.1 .1h1v1h-1zm-3.8 .1h1v1h-1zm.2 0h1v1h-1zm-.3 .1h1v1h-1zm6.1 0h1v1h-1zm1.4 0h1v1h-1zm.4 0h1v1h-1zm-16.2 .2h1v1h-1zm7.4 0h1v1h-1zm-8.7 .1h1v1h-1zm8.8 .1h1v1h-1zm10 0h1v1h-1zm-2.8 .1h1v1h-1zm2.2 .3h1v1h-1zm-18 .1h1v1h-1zm16.4 0h1v1h-1zm3.4 0h1v1h-1zm-11.4 .5h1v1h-1zm13.3 .3h1v1h-1zm-16.2 .1h1v1h-1zm16.2 .3h1v1h-1zm-33.1 .2h1v1h-1zm0 .3h1v1h-1zm19.3 .1h1v1h-1zm-2.1 .3h1v1h-1zm21.2 1.1h1v1h-1zm2.2 .3h1v1h-1zm-.1 .6h1v1h-1zm3.3 .3h1v1h-1zm1.5 .2h1v1h-1zm5 0h1v1h-1zm-2.1 .1h1v1h-1zm.8 .1h1v1h-1zm1.7 .1h1v1h-1zm-7 .2h1v1h-1zm6.5 .1h1v1h-1zm1.2 .4h1v1h-1zm-.6 .9h1v1h-1zm.5 .2h1v1h-1zm-10.4 .1h1v1h-1zm10.5 .5h1v1h-1zm.2 2.7h1v1h-1zm-9 .4h1v1h-1zm-1.5 1.1h1v1h-1zm8.6 .1h1v1h-1zm.6 .3h1v1h-1zm.3 .3h1v1h-1zm-11.7 .9h1v1h-1zm-1.9 .4h1v1h-1zm-3.2 .9h1v1h-1zm1.4 0h1v1h-1zm-4.4 .2h1v1h-1zm3 .1h1v1h-1zm-.9 .4h1v1h-1zm-36.7 .9h1v1h-1zm30.8 1.2h1v1h-1zm-2.5 .4h1v1h-1zm-11.2 1.8h1v1h-1zm.6 0h1v1h-1zm.6 .1h1v1h-1zm-16.7 .2h1v1h-1zm18.8 .2h1v1h-1zm-16.8 .4h1v1h-1zm8.1 .3h1v1h-1zm1.4 0h1v1h-1zm.1 .6h1v1h-1z" fill="#4848e8"/><path d="M0 0m58.8 25.1h1v1h-1zm-8 .4h1v1h-1zm1.1 0h1v1h-1zm3.5 0h1v1h-1zm1.2 0h1v1h-1zm-5.6 .2h1v1h-1zm3.9 0h1v1h-1zm-4.7 .1h1v1h-1zm3.7 0h1v1h-1zm1.1 0h1v1h-1zm-2.8 .1h1v1h-1zm4.6 .1h1v1h-1zm-3.9 .1h1v1h-1zm3.2 0h1v1h-1zm3.7 0h1v1h-1zm-4.3 .2h1v1h-1zm10.2 .1h1v1h-1zm-16.6 .1h1v1h-1zm3.5 0h1v1h-1zm2.9 0h1v1h-1zm7.6 0h1v1h-1zm1.8 0h1v1h-1zm-15.7 .1h1v1h-1zm11.2 0h1v1h-1zm0 0h1v1h-1zm-9.2 .1h1v1h-1zm3.7 0h1v1h-1zm3.5 0h1v1h-1zm-7.5 .2h1v1h-1zm4.4 0h1v1h-1zm3.3 0h1v1h-1zm4.6 0h1v1h-1zm3 0h1v1h-1zm-7 .1h1v1h-1zm7.4 0h1v1h-1zm-14.4 .1h1v1h-1zm2.6 0h1v1h-1zm11.9 0h1v1h-1zm-17.5 .2h1v1h-1zm14.2 0h1v1h-1zm1 0h1v1h-1zm-12.7 .1h1v1h-1zm1 0h1v1h-1zm2.2 .1h1v1h-1zm4.1 0h1v1h-1zm.7 0h1v1h-1zm.8 0h1v1h-1zm1.6 0h1v1h-1zm4.1 0h1v1h-1zm-7.7 .1h1v1h-1zm1.1 0h1v1h-1zm1.1 0h1v1h-1zm6.6 0h1v1h-1zm-17.8 .1h1v1h-1zm4.4 0h1v1h-1zm7.9 0h1v1h-1zm.1 0h1v1h-1zm-13.6 .2h1v1h-1zm7.6 0h1v1h-1zm2.5 0h1v1h-1zm-.2 .1h1v1h-1zm6.3 0h1v1h-1zm1.4 0h1v1h-1zm-14.9 .1h1v1h-1zm-2.8 .1h1v1h-1zm.8 0h1v1h-1zm8.1 0h1v1h-1zm2 0h1v1h-1zm0 0h1v1h-1zm.6 0h1v1h-1zm.4 0h1v1h-1zm-7.3 .1h1v1h-1zm1.7 0h1v1h-1zm6.1 .1h1v1h-1zm4.8 0h1v1h-1zm-16.1 .1h1v1h-1zm14 0h1v1h-1zm-12.5 .1h1v1h-1zm7.1 0h1v1h-1zm-8.9 .1h1v1h-1zm.4 0h1v1h-1zm13.1 0h1v1h-1zm.9 0h1v1h-1zm2.4 0h1v1h-1zm.2 0h1v1h-1zm-13.8 .1h1v1h-1zm.1 0h1v1h-1zm3.4 0h1v1h-1zm0 0h1v1h-1zm3.5 0h1v1h-1zm7.2 0h1v1h-1zm1.4 0h1v1h-1zm-15.4 .2h1v1h-1zm9 0h1v1h-1zm3.5 0h1v1h-1zm.5 0h1v1h-1zm-13.9 .1h1v1h-1zm5.7 0h1v1h-1zm2.1 0h1v1h-1zm-17.9 .1h1v1h-1zm7.2 0h1v1h-1zm4.5 0h1v1h-1zm.4 0h1v1h-1zm1.3 0h1v1h-1zm1.6 0h1v1h-1zm3.5 0h1v1h-1zm3.5 0h1v1h-1zm4.9 0h1v1h-1zm-21.5 .1h1v1h-1zm8.5 0h1v1h-1zm-3.8 .1h1v1h-1zm2.2 0h1v1h-1zm1.7 0h1v1h-1zm.6 0h1v1h-1zm1.7 0h1v1h-1zm4.2 0h1v1h-1zm.7 0h1v1h-1zm5 0h1v1h-1zm-15.1 .1h1v1h-1zm.8 0h1v1h-1zm1.3 0h1v1h-1zm5.8 0h1v1h-1zm-19.3 .1h1v1h-1zm4.4 0h1v1h-1zm1.2 .1h1v1h-1zm.9 0h1v1h-1zm8.4 0h1v1h-1zm4.3 0h1v1h-1zm3.4 .1h1v1h-1zm-6.4 .1h1v1h-1zm6.7 0h1v1h-1zm2.7 0h1v1h-1zm.6 0h1v1h-1zm-19.2 .1h1v1h-1zm18.3 0h1v1h-1zm-19.7 .1h1v1h-1zm11.7 0h1v1h-1zm5.8 0h1v1h-1zm.5 0h1v1h-1zm.6 0h1v1h-1zm-23.7 .1h1v1h-1zm21.5 0h1v1h-1zm2.5 0h1v1h-1zm-18.8 .1h1v1h-1zm-6.5 .2h1v1h-1zm8.6 0h1v1h-1zm13.6 0h1v1h-1zm1.4 0h1v1h-1zm3 0h1v1h-1zm-25.7 .1h1v1h-1zm6 0h1v1h-1zm16.7 0h1v1h-1zm-16.7 .1h1v1h-1zm11.1 0h1v1h-1zm6.9 0h1v1h-1zm-6 .1h1v1h-1zm8.2 0h1v1h-1zm-23.9 .1h1v1h-1zm17.1 0h1v1h-1zm2.6 0h1v1h-1zm5.2 0h1v1h-1zm-24.5 .1h1v1h-1zm.9 0h1v1h-1zm18.1 0h1v1h-1zm-25.3 .1h1v1h-1zm10.2 0h1v1h-1zm19.3 0h1v1h-1zm-30.2 .1h1v1h-1zm5.2 0h1v1h-1zm-1.9 .1h1v1h-1zm-3.3 .1h1v1h-1zm7.3 0h1v1h-1zm.2 0h1v1h-1zm2.4 0h1v1h-1zm18.5 0h1v1h-1zm2.7 .1h1v1h-1zm-27.4 .1h1v1h-1zm24.5 0h1v1h-1zm-17.4 .1h1v1h-1zm19.6 0h1v1h-1zm1 0h1v1h-1zm-31.8 .1h1v1h-1zm8.3 0h1v1h-1zm1.8 0h1v1h-1zm-8 .1h1v1h-1zm3.9 0h1v1h-1zm-2.9 .1h1v1h-1zm4 0h1v1h-1zm23.6 0h1v1h-1zm2.4 0h1v1h-1zm-32.9 .1h1v1h-1zm6.9 .1h1v1h-1zm2.4 0h1v1h-1zm.2 0h1v1h-1zm.8 0h1v1h-1zm-11.9 .1h1v1h-1zm2.4 0h1v1h-1zm3.3 0h1v1h-1zm5 0h1v1h-1zm20.5 0h1v1h-1zm-28.3 .1h1v1h-1zm3.7 0h1v1h-1zm24.9 0h1v1h-1zm4.4 0h1v1h-1zm1.9 0h1v1h-1zm-35.7 .1h1v1h-1zm3.5 0h1v1h-1zm5.6 0h1v1h-1zm25.2 0h1v1h-1zm-34.9 .1h1v1h-1zm3.3 0h1v1h-1zm.5 .1h1v1h-1zm.8 0h1v1h-1zm4.3 .1h1v1h-1zm27.4 0h1v1h-1zm-35.3 .1h1v1h-1zm7.3 0h1v1h-1zm24.4 0h1v1h-1zm1.2 0h1v1h-1zm-31.2 .1h1v1h-1zm.9 0h1v1h-1zm-4.8 .1h1v1h-1zm7.6 0h1v1h-1zm-6.6 .1h1v1h-1zm6.4 0h1v1h-1zm25.4 0h1v1h-1zm-27.8 .1h1v1h-1zm2.1 0h1v1h-1zm24.4 0h1v1h-1zm5.1 0h1v1h-1zm-28.9 .1h1v1h-1zm23.8 0h1v1h-1zm6.4 0h1v1h-1zm-33.2 .1h1v1h-1zm1.7 0h1v1h-1zm1.3 0h1v1h-1zm-3 .1h1v1h-1zm2.4 0h1v1h-1zm-5.2 .1h1v1h-1zm6.3 0h1v1h-1zm28.4 0h1v1h-1zm-31.9 .1h1v1h-1zm1.3 0h1v1h-1zm25 0h1v1h-1zm2.7 0h1v1h-1zm.9 .2h1v1h-1zm1 0h1v1h-1zm-.7 .1h1v1h-1zm1.1 0h1v1h-1zm-2.3 .1h1v1h-1zm3.2 0h1v1h-1zm-6 .1h1v1h-1zm.9 0h1v1h-1zm-29.9 .1h1v1h-1zm.2 0h1v1h-1zm1.1 0h1v1h-1zm30.4 0h1v1h-1zm-32.3 .1h1v1h-1zm33.9 .1h1v1h-1zm-32.7 .1h1v1h-1zm33.7 0h1v1h-1zm2.1 0h1v1h-1zm-32.9 .1h1v1h-1zm-1.9 .1h1v1h-1zm2.8 0h1v1h-1zm25.2 0h1v1h-1zm6 .1h1v1h-1zm-.6 .1h1v1h-1zm-32.8 .1h1v1h-1zm35.5 0h1v1h-1zm-6.6 .1h1v1h-1zm-28.5 .1h1v1h-1zm-2.9 .1h1v1h-1zm1 0h1v1h-1zm.2 0h1v1h-1zm1.7 0h1v1h-1zm28.6 .1h1v1h-1zm.7 0h1v1h-1zm-.8 .1h1v1h-1zm-30.7 .1h1v1h-1zm2.8 0h1v1h-1zm28 0h1v1h-1zm-31.5 .1h1v1h-1zm3 0h1v1h-1zm30.3 0h1v1h-1zm-34.3 .1h1v1h-1zm33.4 0h1v1h-1zm6.1 0h1v1h-1zm-39.7 .1h1v1h-1zm34.3 0h1v1h-1zm2 0h1v1h-1zm-1.2 .1h1v1h-1zm1.8 .2h1v1h-1zm0 0h1v1h-1zm.6 0h1v1h-1zm-35.8 .1h1v1h-1zm.5 0h1v1h-1zm-4.6 .2h1v1h-1zm1 0h1v1h-1zm.1 0h1v1h-1zm1.6 0h1v1h-1zm1.7 0h1v1h-1zm32.8 0h1v1h-1zm5.4 0h1v1h-1zm-6.4 .1h1v1h-1zm1.3 .1h1v1h-1zm3.4 0h1v1h-1zm1.1 0h1v1h-1zm-40 .1h1v1h-1zm34 0h1v1h-1zm.9 0h1v1h-1zm-38.9 .1h1v1h-1zm2.1 0h1v1h-1zm2 0h1v1h-1zm-3 .1h1v1h-1zm38.2 0h1v1h-1zm-34.4 .1h1v1h-1zm-5.1 .1h1v1h-1zm3.2 .1h1v1h-1zm2.5 0h1v1h-1zm39.1 0h1v1h-1zm1 0h1v1h-1zm-2 .1h1v1h-1zm1.2 0h1v1h-1zm-40.6 .1h1v1h-1zm37.9 0h1v1h-1zm3.9 0h1v1h-1zm-46.1 .1h1v1h-1zm1 .1h1v1h-1zm2.9 0h1v1h-1zm34.6 0h1v1h-1zm-33.1 .1h1v1h-1zm37.5 0h1v1h-1zm-42.2 .1h1v1h-1zm3.3 .1h1v1h-1zm1.7 0h1v1h-1zm-4.6 .1h1v1h-1zm36.2 0h1v1h-1zm3.2 0h1v1h-1zm3.3 0h1v1h-1zm-43.1 .1h1v1h-1zm36.7 0h1v1h-1zm3 0h1v1h-1zm-40 .1h1v1h-1zm37.4 0h1v1h-1zm7 0h1v1h-1zm-7.9 .1h1v1h-1zm6.2 0h1v1h-1zm-5.1 .2h1v1h-1zm.3 0h1v1h-1zm3.3 0h1v1h-1zm-1.7 .1h1v1h-1zm-2.9 .1h1v1h-1zm7.5 0h1v1h-1zm-44.5 .1h1v1h-1zm.5 0h1v1h-1zm37.1 0h1v1h-1zm8.4 0h1v1h-1zm-46.8 .2h1v1h-1zm39.3 0h1v1h-1zm2.2 0h1v1h-1zm5.5 0h1v1h-1zm0 0h1v1h-1zm-40.9 .1h1v1h-1zm.4 0h1v1h-1zm37 0h1v1h-1zm-2.6 .1h1v1h-1zm5.3 0h1v1h-1zm-46.1 .1h1v1h-1zm44.5 0h1v1h-1zm-43.4 .1h1v1h-1zm4.5 0h1v1h-1zm31.3 0h1v1h-1zm1.4 0h1v1h-1zm1.6 0h1v1h-1zm-35.6 .1h1v1h-1zm.8 .1h1v1h-1zm0 0h1v1h-1zm-.2 .2h1v1h-1zm34 .1h1v1h-1zm4.7 0h1v1h-1zm-38.6 .1h1v1h-1zm40.3 0h1v1h-1zm-42.7 .2h1v1h-1zm42.1 0h1v1h-1zm-38.9 .1h1v1h-1zm33.4 0h1v1h-1zm1.6 0h1v1h-1zm-36.4 .1h1v1h-1zm.5 0h1v1h-1zm40.7 0h1v1h-1zm1.4 0h1v1h-1zm-41.9 .1h1v1h-1zm34.8 0h1v1h-1zm-34.3 .1h1v1h-1zm35.4 0h1v1h-1zm-34.2 .1h1v1h-1zm32.3 0h1v1h-1zm5.9 0h1v1h-1zm1.4 0h1v1h-1zm-1.3 .1h1v1h-1zm-5.3 .2h1v1h-1zm-34.6 .1h1v1h-1zm34.7 0h1v1h-1zm1.3 0h1v1h-1zm.4 0h1v1h-1zm2.3 0h1v1h-1zm-39.5 .1h1v1h-1zm35.4 0h1v1h-1zm3.5 .1h1v1h-1zm-40.6 .1h1v1h-1zm3.6 0h1v1h-1zm.5 0h1v1h-1zm33.2 0h1v1h-1zm3.7 0h1v1h-1zm-2.3 .1h1v1h-1zm.1 0h1v1h-1zm.9 0h1v1h-1zm.5 .1h1v1h-1zm-39.9 .1h1v1h-1zm38.2 0h1v1h-1zm.7 0h1v1h-1zm-38.3 .1h1v1h-1zm36.7 .1h1v1h-1zm-37.7 .1h1v1h-1zm6.4 0h1v1h-1zm32 0h1v1h-1zm-34 .1h1v1h-1zm33.3 0h1v1h-1zm-33.1 .1h1v1h-1zm-.2 .1h1v1h-1zm35.1 0h1v1h-1zm.8 0h1v1h-1zm-34.6 .1h1v1h-1zm32.4 0h1v1h-1zm-36.7 .1h1v1h-1zm1.5 0h1v1h-1zm.9 0h1v1h-1zm.4 .3h1v1h-1zm.8 0h1v1h-1zm2.3 0h1v1h-1zm24.9 0h1v1h-1zm1.1 0h1v1h-1zm1.4 0h1v1h-1zm.3 0h1v1h-1zm-31 .1h1v1h-1zm1.7 .1h1v1h-1zm1.3 0h1v1h-1zm28.9 0h1v1h-1zm2.7 0h1v1h-1zm-5.7 .1h1v1h-1zm.8 0h1v1h-1zm.9 0h1v1h-1zm2.2 0h1v1h-1zm-3.3 .1h1v1h-1zm-27.5 .1h1v1h-1zm31.1 .1h1v1h-1zm1 0h1v1h-1zm-32.3 .1h1v1h-1zm29.1 0h1v1h-1zm0 0h1v1h-1zm-2.7 .1h1v1h-1zm.2 0h1v1h-1zm-8.1 .1h1v1h-1zm-20.2 .1h1v1h-1zm3.7 0h1v1h-1zm27.1 0h1v1h-1zm-14.5 .1h1v1h-1zm14.5 0h1v1h-1zm-13.7 .1h1v1h-1zm14.8 0h1v1h-1zm.8 0h1v1h-1zm-31.9 .1h1v1h-1zm-1.1 .1h1v1h-1zm3.6 0h1v1h-1zm4.3 0h1v1h-1zm-8.3 .1h1v1h-1zm.4 0h1v1h-1zm6.4 0h1v1h-1zm10.5 0h1v1h-1zm1.1 0h1v1h-1zm5 0h1v1h-1zm4 0h1v1h-1zm-23.3 .1h1v1h-1zm28.6 0h1v1h-1zm.2 0h1v1h-1zm-14.1 .1h1v1h-1zm8.6 0h1v1h-1zm6.1 0h1v1h-1zm-28.5 .1h1v1h-1zm3.9 0h1v1h-1zm8.2 0h1v1h-1zm11.1 0h1v1h-1zm-26.3 .1h1v1h-1zm2.7 .1h1v1h-1zm16.9 0h1v1h-1zm7 0h1v1h-1zm-25.6 .1h1v1h-1zm4.2 0h1v1h-1zm2.6 0h1v1h-1zm7 0h1v1h-1zm2.9 0h1v1h-1zm5 0h1v1h-1zm5.5 0h1v1h-1zm-26.4 .1h1v1h-1zm5.2 0h1v1h-1zm10.3 0h1v1h-1zm5.9 0h1v1h-1zm-.8 .1h1v1h-1zm2.8 0h1v1h-1zm-27.1 .1h1v1h-1zm5 0h1v1h-1zm19.5 0h1v1h-1zm.9 0h1v1h-1zm1.5 0h1v1h-1zm2.4 0h1v1h-1zm4.1 0h1v1h-1zm-29.8 .1h1v1h-1zm.8 0h1v1h-1zm2.6 0h1v1h-1zm8 0h1v1h-1zm2.4 0h1v1h-1zm4.9 0h1v1h-1zm-21.5 .1h1v1h-1zm5.9 0h1v1h-1zm1.6 0h1v1h-1zm17.5 0h1v1h-1zm-22.5 .1h1v1h-1zm16.4 0h1v1h-1zm1.7 0h1v1h-1zm.2 0h1v1h-1zm9.1 0h1v1h-1zm-6.1 .1h1v1h-1zm1.4 0h1v1h-1zm4.6 0h1v1h-1zm-25.4 .1h1v1h-1zm4.4 0h1v1h-1zm5 0h1v1h-1zm10.1 0h1v1h-1zm3.8 0h1v1h-1zm-22.9 .1h1v1h-1zm.9 0h1v1h-1zm3 0h1v1h-1zm15.3 0h1v1h-1zm-15.2 .1h1v1h-1zm1.7 0h1v1h-1zm5 0h1v1h-1zm2.8 0h1v1h-1zm3.3 0h1v1h-1zm3.7 0h1v1h-1zm2.5 0h1v1h-1zm-28.4 .1h1v1h-1zm6.9 0h1v1h-1zm9 0h1v1h-1zm.3 0h1v1h-1zm-15.3 .1h1v1h-1zm4.5 0h1v1h-1zm12 0h1v1h-1zm7.5 0h1v1h-1zm-20.4 .1h1v1h-1zm6.2 0h1v1h-1zm11.7 0h1v1h-1zm7.5 0h1v1h-1zm-30.2 .1h1v1h-1zm4.8 0h1v1h-1zm10.1 0h1v1h-1zm4.1 0h1v1h-1zm.7 0h1v1h-1zm10.1 0h1v1h-1zm.8 0h1v1h-1zm.8 0h1v1h-1zm-24.5 .1h1v1h-1zm2.6 0h1v1h-1zm17.1 0h1v1h-1zm-20.3 .1h1v1h-1zm.5 0h1v1h-1zm3.8 0h1v1h-1zm12.2 0h1v1h-1zm2.3 0h1v1h-1zm6.4 0h1v1h-1zm-28.3 .1h1v1h-1zm22.7 0h1v1h-1zm.7 0h1v1h-1zm-16.4 .1h1v1h-1zm4.2 0h1v1h-1zm5.8 0h1v1h-1zm-6.4 .1h1v1h-1zm5.6 0h1v1h-1zm9 0h1v1h-1zm.9 0h1v1h-1zm-4.4 .1h1v1h-1zm-22.7 .1h1v1h-1zm3.6 0h1v1h-1zm8.2 0h1v1h-1zm5.9 0h1v1h-1zm.3 0h1v1h-1zm-12.1 .1h1v1h-1zm2.8 0h1v1h-1zm5.9 0h1v1h-1zm-6.9 .1h1v1h-1zm3 0h1v1h-1zm3.3 0h1v1h-1zm5.8 0h1v1h-1zm-18.3 .1h1v1h-1zm18.9 0h1v1h-1zm1.2 0h1v1h-1zm3.2 .1h1v1h-1zm-22.8 .1h1v1h-1zm.3 0h1v1h-1zm.6 0h1v1h-1zm1.1 0h1v1h-1zm3.7 0h1v1h-1zm13.5 0h1v1h-1zm-12.5 .1h1v1h-1zm3.9 0h1v1h-1zm7.4 0h1v1h-1zm3.4 0h1v1h-1zm.3 0h1v1h-1zm-22.4 .1h1v1h-1zm.5 0h1v1h-1zm8.3 0h1v1h-1zm1.8 0h1v1h-1zm9.2 0h1v1h-1zm6.2 0h1v1h-1zm-23.5 .1h1v1h-1zm16.2 0h1v1h-1zm4.5 0h1v1h-1zm-20.8 .1h1v1h-1zm-1.8 .1h1v1h-1zm3.7 0h1v1h-1zm7.1 0h1v1h-1zm1.7 0h1v1h-1zm4 0h1v1h-1zm1.5 0h1v1h-1zm-17.4 .1h1v1h-1zm4.6 0h1v1h-1zm2.7 0h1v1h-1zm7.2 0h1v1h-1zm1.3 0h1v1h-1zm-12.7 .1h1v1h-1zm.4 0h1v1h-1zm11.1 0h1v1h-1zm4.5 0h1v1h-1zm-7.8 .1h1v1h-1zm4.1 0h1v1h-1zm-6.4 .1h1v1h-1zm5.4 0h1v1h-1zm-6.6 .1h1v1h-1zm3.8 0h1v1h-1zm-1.7 .2h1v1h-1zm5.2 0h1v1h-1zm-15.8 .1h1v1h-1zm3 0h1v1h-1zm13.9 0h1v1h-1zm-13.8 .1h1v1h-1zm.6 .1h1v1h-1zm6.3 0h1v1h-1zm3.7 0h1v1h-1zm.3 0h1v1h-1zm.4 0h1v1h-1zm3.2 0h1v1h-1zm-11.5 .1h1v1h-1zm5.7 0h1v1h-1zm-.2 .1h1v1h-1zm1.7 0h1v1h-1zm-1.4 .1h1v1h-1zm.7 0h1v1h-1zm1.4 0h1v1h-1zm3.1 0h1v1h-1zm-12.7 .2h1v1h-1zm.7 0h1v1h-1zm5.3 .1h1v1h-1zm4.2 0h1v1h-1zm-.7 .1h1v1h-1zm1.2 .1h1v1h-1zm-1.9 .2h1v1h-1zm-1.6 .3h1v1h-1zm2.7 .2h1v1h-1zm-21.9 5.9h1v1h-1zm.8 .2h1v1h-1zm-.2 .1h1v1h-1zm-9.2 .1h1v1h-1zm9 0h1v1h-1zm-1.4 .1h1v1h-1zm.7 0h1v1h-1zm-.7 .2h1v1h-1zm-6.1 .1h1v1h-1zm-1.2 .1h1v1h-1zm9.8 .1h1v1h-1zm-9.3 .1h1v1h-1zm7.5 0h1v1h-1zm.9 .1h1v1h-1zm1.7 0h1v1h-1zm-4.2 .1h1v1h-1zm7 0h1v1h-1zm-14.2 .1h1v1h-1zm1.3 .1h1v1h-1zm7.6 0h1v1h-1zm-8 .1h1v1h-1zm10.8 0h1v1h-1zm1.2 0h1v1h-1zm.4 0h1v1h-1zm-4.4 .1h1v1h-1zm4.8 0h1v1h-1zm-6.9 .1h1v1h-1zm2.9 .1h1v1h-1zm1.7 0h1v1h-1zm-4.8 .1h1v1h-1zm1.1 0h1v1h-1zm0 0h1v1h-1zm3.5 .2h1v1h-1zm-8.7 .1h1v1h-1zm2 0h1v1h-1zm3.9 0h1v1h-1zm.6 0h1v1h-1zm3.3 0h1v1h-1zm-13.8 .1h1v1h-1zm.5 .1h1v1h-1zm4.3 0h1v1h-1zm-.7 .1h1v1h-1zm3.6 0h1v1h-1zm-3.6 .2h1v1h-1zm11.7 0h1v1h-1zm-15.7 .3h1v1h-1zm2.6 0h1v1h-1zm8.2 0h1v1h-1zm-5.6 .1h1v1h-1zm4.8 0h1v1h-1zm-9.5 .1h1v1h-1zm13.8 0h1v1h-1zm3.1 0h1v1h-1zm-12.4 .1h1v1h-1zm2.2 0h1v1h-1zm2.2 0h1v1h-1zm3 0h1v1h-1zm-12.8 .1h1v1h-1zm12.5 0h1v1h-1zm-10.8 .1h1v1h-1zm6.9 0h1v1h-1zm6.2 0h1v1h-1zm2.7 0h1v1h-1zm-13.6 .1h1v1h-1zm.7 0h1v1h-1zm5.4 0h1v1h-1zm7.9 0h1v1h-1zm-11.2 .1h1v1h-1zm3.5 0h1v1h-1zm-7.7 .1h1v1h-1zm4.7 0h1v1h-1zm7.5 0h1v1h-1zm3.1 0h1v1h-1zm-18.2 .1h1v1h-1zm2.3 0h1v1h-1zm10.1 0h1v1h-1zm1.5 0h1v1h-1zm-7.5 .1h1v1h-1zm3.6 0h1v1h-1zm4.7 .1h1v1h-1zm-13.4 .1h1v1h-1zm6.9 0h1v1h-1zm4 0h1v1h-1zm1.1 0h1v1h-1zm2.8 0h1v1h-1zm.9 0h1v1h-1zm-5.2 .1h1v1h-1zm1.3 0h1v1h-1zm1.1 0h1v1h-1zm-14.2 .1h1v1h-1zm2.1 0h1v1h-1zm4.2 0h1v1h-1zm.4 0h1v1h-1zm-7.7 .1h1v1h-1zm6.5 0h1v1h-1zm4.8 0h1v1h-1zm7.3 0h1v1h-1zm-17.4 .1h1v1h-1zm3.6 0h1v1h-1zm1.8 0h1v1h-1zm6.6 0h1v1h-1zm-9.3 .1h1v1h-1zm4.5 0h1v1h-1zm1 0h1v1h-1zm-2.4 .1h1v1h-1zm4 0h1v1h-1zm-8 .1h1v1h-1zm3.1 0h1v1h-1zm4 0h1v1h-1zm1.4 0h1v1h-1zm3.1 0h1v1h-1zm1.3 0h1v1h-1zm2.2 0h1v1h-1zm-13.6 .1h1v1h-1zm-3.7 .1h1v1h-1zm10.3 0h1v1h-1zm4.1 0h1v1h-1zm2.6 0h1v1h-1zm-14.7 .1h1v1h-1zm1 0h1v1h-1zm1.1 0h1v1h-1zm0 0h1v1h-1zm4.2 0h1v1h-1zm-8.7 .1h1v1h-1zm2.4 0h1v1h-1zm4.6 0h1v1h-1zm1.8 0h1v1h-1zm6.1 0h1v1h-1zm3.1 0h1v1h-1zm-18.4 .1h1v1h-1zm1.1 0h1v1h-1zm.4 0h1v1h-1zm.6 0h1v1h-1zm4 0h1v1h-1zm1 0h1v1h-1zm5 0h1v1h-1zm.4 0h1v1h-1zm1.9 .1h1v1h-1zm-14.7 .1h1v1h-1zm11.2 .1h1v1h-1zm.8 0h1v1h-1zm5.6 0h1v1h-1zm-17.1 .1h1v1h-1zm3.8 0h1v1h-1zm9.4 0h1v1h-1zm3.7 0h1v1h-1zm-13.1 .1h1v1h-1zm7.8 0h1v1h-1zm4.4 0h1v1h-1zm-7.6 .1h1v1h-1zm6.2 0h1v1h-1zm-10.1 .1h1v1h-1zm.9 0h1v1h-1zm.5 0h1v1h-1zm1.4 0h1v1h-1zm-2.4 .1h1v1h-1zm4.2 0h1v1h-1zm6.1 0h1v1h-1zm-14.8 .1h1v1h-1zm4.8 0h1v1h-1zm0 0h1v1h-1zm4.3 0h1v1h-1zm9.2 0h1v1h-1zm-18.8 .1h1v1h-1zm1.2 0h1v1h-1zm2.6 0h1v1h-1zm5.3 0h1v1h-1zm6.5 0h1v1h-1zm-15.1 .1h1v1h-1zm3 0h1v1h-1zm3.3 0h1v1h-1zm5.2 0h1v1h-1zm10.6 0h1v1h-1zm-22.9 .1h1v1h-1zm1.1 0h1v1h-1zm1.1 0h1v1h-1zm4.1 0h1v1h-1zm8.8 .1h1v1h-1zm-3.6 .2h1v1h-1zm2.9 0h1v1h-1zm-14.3 .1h1v1h-1zm2.7 0h1v1h-1zm4.3 0h1v1h-1zm.8 .1h1v1h-1zm1.9 0h1v1h-1zm7.8 0h1v1h-1zm1.6 0h1v1h-1zm-9.6 .1h1v1h-1zm-7.7 .1h1v1h-1zm12.4 0h1v1h-1zm-7.2 .2h1v1h-1zm.1 0h1v1h-1zm.9 0h1v1h-1zm7 0h1v1h-1zm-1.3 .1h1v1h-1zm.2 .1h1v1h-1zm2.7 0h1v1h-1zm-12.6 .1h1v1h-1zm7.9 0h1v1h-1zm-4.1 .1h1v1h-1zm5.9 0h1v1h-1zm-14.2 .1h1v1h-1zm2.5 0h1v1h-1zm-2.6 .1h1v1h-1zm.2 .2h1v1h-1zm7.9 0h1v1h-1zm5.3 0h1v1h-1zm-12.7 .1h1v1h-1zm.3 0h1v1h-1zm6.6 0h1v1h-1zm.1 0h1v1h-1zm2.4 0h1v1h-1zm5.5 0h1v1h-1zm-14 .2h1v1h-1zm11.2 0h1v1h-1zm-.3 .1h1v1h-1zm-3.3 .1h1v1h-1zm-7.8 .1h1v1h-1zm14 0h1v1h-1zm-14.4 .1h1v1h-1zm2.5 0h1v1h-1zm5.7 0h1v1h-1zm-9.1 .1h1v1h-1zm10.9 0h1v1h-1zm-10.8 .1h1v1h-1zm.8 0h1v1h-1zm.3 0h1v1h-1zm6.7 0h1v1h-1zm.7 0h1v1h-1zm2.5 0h1v1h-1zm1 .1h1v1h-1zm1.8 0h1v1h-1zm1.1 0h1v1h-1zm-14.1 .1h1v1h-1zm7.5 0h1v1h-1zm-8.2 .1h1v1h-1zm5.9 .1h1v1h-1zm2.8 0h1v1h-1zm3.3 0h1v1h-1zm-11.8 .1h1v1h-1zm.3 0h1v1h-1zm12.8 0h1v1h-1zm1.9 0h1v1h-1zm-14 .1h1v1h-1zm0 .2h1v1h-1zm7.9 .1h1v1h-1zm2.9 0h1v1h-1zm.7 0h1v1h-1zm7.1 0h1v1h-1zm-18.9 .1h1v1h-1zm5.5 0h1v1h-1zm1.8 0h1v1h-1zm-2.6 .1h1v1h-1zm14.2 0h1v1h-1zm-19.8 .1h1v1h-1zm11.5 0h1v1h-1zm-9.4 .1h1v1h-1zm8.3 0h1v1h-1zm4.3 0h1v1h-1zm-14.8 .1h1v1h-1zm7 0h1v1h-1zm2 0h1v1h-1zm5.1 0h1v1h-1zm-2.5 .1h1v1h-1zm1.4 0h1v1h-1zm-12.7 .1h1v1h-1zm5.3 0h1v1h-1zm5 0h1v1h-1zm3.1 0h1v1h-1zm6.8 0h1v1h-1zm-18.4 .1h1v1h-1zm5.7 0h1v1h-1zm-4.5 .1h1v1h-1zm1.6 .1h1v1h-1zm3.3 0h1v1h-1zm-5.2 .1h1v1h-1zm-3.2 .1h1v1h-1zm11 .2h1v1h-1zm9.2 0h1v1h-1zm-10.4 .1h1v1h-1zm10.4 0h1v1h-1zm-12 .1h1v1h-1zm.5 0h1v1h-1zm1.9 0h1v1h-1zm-7.4 .1h1v1h-1zm10.6 0h1v1h-1zm1.2 0h1v1h-1zm-12.3 .1h1v1h-1zm9.2 0h1v1h-1zm2.2 0h1v1h-1zm1.1 0h1v1h-1zm-9.9 .1h1v1h-1zm5.2 0h1v1h-1zm-7.5 .1h1v1h-1zm11.6 0h1v1h-1zm5.5 0h1v1h-1zm-18.2 .1h1v1h-1zm1.1 0h1v1h-1zm3.6 0h1v1h-1zm3.4 0h1v1h-1zm9.8 0h1v1h-1zm-11.4 .1h1v1h-1zm2.3 0h1v1h-1zm-8.8 .1h1v1h-1zm4.6 0h1v1h-1zm8 0h1v1h-1zm-10.3 .1h1v1h-1zm.5 .1h1v1h-1zm-3.4 .2h1v1h-1zm1.7 0h1v1h-1zm6 0h1v1h-1zm5.4 .1h1v1h-1zm-13.4 .2h1v1h-1zm6.2 0h1v1h-1zm1.9 .1h1v1h-1zm-4.2 .1h1v1h-1zm1.5 0h1v1h-1zm.3 0h1v1h-1zm-4.6 .1h1v1h-1zm-.9 .1h1v1h-1zm3.1 0h1v1h-1zm4.3 .1h1v1h-1zm-6.1 .1h1v1h-1zm1.5 0h1v1h-1zm5.6 0h1v1h-1zm-5.9 .3h1v1h-1zm-2.2 .1h1v1h-1zm2 0h1v1h-1zm1.3 0h1v1h-1zm-1 .1h1v1h-1zm.1 .4h1v1h-1zm6.5 0h1v1h-1zm-6.8 .2h1v1h-1zm2.2 .1h1v1h-1zm.2 0h1v1h-1zm1.1 0h1v1h-1zm1.1 0h1v1h-1zm-6.5 .1h1v1h-1zm4 0h1v1h-1zm2.2 0h1v1h-1zm-5.9 .1h1v1h-1zm5.2 0h1v1h-1zm0 0h1v1h-1zm-6.2 .1h1v1h-1zm1.4 0h1v1h-1zm5 0h1v1h-1zm4.1 0h1v1h-1zm-1.1 .1h1v1h-1zm-7.9 .1h1v1h-1zm5.7 0h1v1h-1zm-5.7 .1h1v1h-1zm-.1 .1h1v1h-1zm2.6 0h1v1h-1zm5.4 0h1v1h-1zm-.5 .1h1v1h-1zm-2 .2h1v1h-1zm-2.2 .1h1v1h-1zm3.1 0h1v1h-1zm2.2 0h1v1h-1zm-9.8 .1h1v1h-1zm.5 0h1v1h-1zm23.3 .2h1v1h-1zm-18 .1h1v1h-1zm4.1 .1h1v1h-1zm16.8 0h1v1h-1zm-17.3 .1h1v1h-1zm7.9 0h1v1h-1zm9.6 0h1v1h-1zm-1.8 .1h1v1h-1zm.9 .1h1v1h-1zm2.5 0h1v1h-1zm-22.1 .1h1v1h-1zm-1.4 .1h1v1h-1zm2.3 0h1v1h-1zm18.1 .1h1v1h-1zm-18 .1h1v1h-1zm9.1 0h1v1h-1zm1.6 0h1v1h-1zm-8 .1h1v1h-1zm20.1 0h1v1h-1zm3.4 0h1v1h-1zm-22.4 .1h1v1h-1zm0 0h1v1h-1zm3.8 0h1v1h-1zm-7.2 .2h1v1h-1zm6.7 0h1v1h-1zm12 0h1v1h-1zm.4 0h1v1h-1zm5 0h1v1h-1zm-26.1 .1h1v1h-1zm11.5 0h1v1h-1zm-8.1 .2h1v1h-1zm23.8 0h1v1h-1zm1.7 0h1v1h-1zm-23 .1h1v1h-1zm12.6 .1h1v1h-1zm.4 0h1v1h-1zm11.8 0h1v1h-1zm-19.9 .1h1v1h-1zm3.3 0h1v1h-1zm13.7 0h1v1h-1zm.5 0h1v1h-1zm-24.6 .1h1v1h-1zm3.4 0h1v1h-1zm6.3 0h1v1h-1zm12.5 0h1v1h-1zm-30.9 .1h1v1h-1zm20.8 0h1v1h-1zm13.6 0h1v1h-1zm2.9 0h1v1h-1zm-27.7 .1h1v1h-1zm17.1 0h1v1h-1zm1.7 0h1v1h-1zm3.3 0h1v1h-1zm-24.9 .1h1v1h-1zm17.9 0h1v1h-1zm3.9 0h1v1h-1zm-21.7 .1h1v1h-1zm1 0h1v1h-1zm9 0h1v1h-1zm11.7 0h1v1h-1zm-8.8 .1h1v1h-1zm3.3 0h1v1h-1zm2.3 0h1v1h-1zm2.7 0h1v1h-1zm6.3 0h1v1h-1zm1.3 0h1v1h-1zm1.5 0h1v1h-1zm-26.5 .1h1v1h-1zm2.4 0h1v1h-1zm15 0h1v1h-1zm2.6 0h1v1h-1zm1 0h1v1h-1zm-31.3 .1h1v1h-1zm1.7 0h1v1h-1zm4.1 0h1v1h-1zm14.1 0h1v1h-1zm4.6 0h1v1h-1zm.6 0h1v1h-1zm-19.7 .1h1v1h-1zm1 0h1v1h-1zm10.7 0h1v1h-1zm11.6 0h1v1h-1zm-28 .1h1v1h-1zm1.8 0h1v1h-1zm5.5 0h1v1h-1zm16.1 0h1v1h-1zm2.9 0h1v1h-1zm-4.5 .1h1v1h-1zm14.3 0h1v1h-1zm-20.9 .1h1v1h-1zm12.7 0h1v1h-1zm1.1 0h1v1h-1zm1 0h1v1h-1zm1.9 0h1v1h-1zm-32.8 .1h1v1h-1zm2.8 0h1v1h-1zm11.6 0h1v1h-1zm11.9 0h1v1h-1zm0 0h1v1h-1zm1.4 0h1v1h-1zm7.4 0h1v1h-1zm.7 0h1v1h-1zm-34.4 .1h1v1h-1zm16.5 0h1v1h-1zm3 0h1v1h-1zm3.7 0h1v1h-1zm1.7 0h1v1h-1zm5.2 0h1v1h-1zm2 0h1v1h-1zm-34.4 .1h1v1h-1zm23.9 0h1v1h-1zm12.6 0h1v1h-1zm-36 .1h1v1h-1zm4.7 0h1v1h-1zm2.1 0h1v1h-1zm10.2 0h1v1h-1zm3.5 0h1v1h-1zm7 0h1v1h-1zm-23.4 .1h1v1h-1zm20.6 0h1v1h-1zm.3 0h1v1h-1zm.7 0h1v1h-1zm-19.1 .1h1v1h-1zm8.9 0h1v1h-1zm19.9 0h1v1h-1zm-33.7 .1h1v1h-1zm26.7 0h1v1h-1zm5.8 0h1v1h-1zm4.3 0h1v1h-1zm-17.7 .1h1v1h-1zm.1 0h1v1h-1zm19.2 0h1v1h-1zm-39.6 .1h1v1h-1zm35.5 0h1v1h-1zm.6 0h1v1h-1zm1.6 0h1v1h-1zm3.8 0h1v1h-1zm-22.5 .1h1v1h-1zm10.2 0h1v1h-1zm6.9 0h1v1h-1zm-17.4 .1h1v1h-1zm3.8 0h1v1h-1zm2.6 0h1v1h-1zm5.7 0h1v1h-1zm.2 0h1v1h-1zm-32 .1h1v1h-1zm31 0h1v1h-1zm-8.8 .1h1v1h-1zm10.9 0h1v1h-1zm3.3 0h1v1h-1zm2.8 0h1v1h-1zm-38.3 .1h1v1h-1zm19.8 0h1v1h-1zm7.2 0h1v1h-1zm10.1 0h1v1h-1zm-11 .1h1v1h-1zm3.7 0h1v1h-1zm3.6 0h1v1h-1zm2.6 0h1v1h-1zm2.5 0h1v1h-1zm-38 .1h1v1h-1zm17.9 0h1v1h-1zm1.2 0h1v1h-1zm4.3 0h1v1h-1zm10.2 0h1v1h-1zm1.4 0h1v1h-1zm1.7 0h1v1h-1zm3.4 0h1v1h-1zm-20.8 .1h1v1h-1zm11.2 .1h1v1h-1zm6.3 0h1v1h-1zm2.5 0h1v1h-1zm-6.4 .1h1v1h-1zm.1 0h1v1h-1zm6.4 0h1v1h-1zm-12.2 .1h1v1h-1zm7.3 0h1v1h-1zm.8 0h1v1h-1zm3.3 0h1v1h-1zm1.9 0h1v1h-1zm-14.8 .1h1v1h-1zm6.5 0h1v1h-1zm7.6 .2h1v1h-1zm-42 .1h1v1h-1zm29.5 0h1v1h-1zm7.6 0h1v1h-1zm5.7 0h1v1h-1zm-41.6 .1h1v1h-1zm0 0h1v1h-1zm27.2 0h1v1h-1zm8.6 0h1v1h-1zm-6.4 .1h1v1h-1zm0 0h1v1h-1zm6.9 0h1v1h-1zm-37.4 .1h1v1h-1zm29.5 0h1v1h-1zm6.6 0h1v1h-1zm5.2 0h1v1h-1zm5.5 .1h1v1h-1zm-4 .1h1v1h-1zm-5.3 .2h1v1h-1zm9.9 0h1v1h-1zm1.4 .1h1v1h-1zm-9 .1h1v1h-1zm-2.9 .1h1v1h-1zm5.1 0h1v1h-1zm-3.3 .1h1v1h-1zm-.3 .1h1v1h-1zm1.1 0h1v1h-1zm1.9 0h1v1h-1zm-4.8 .1h1v1h-1zm.7 0h1v1h-1zm3.5 0h1v1h-1zm8.8 0h1v1h-1zm-13.8 .1h1v1h-1zm9.8 .1h1v1h-1zm1.5 0h1v1h-1zm2.4 0h1v1h-1zm1.8 0h1v1h-1zm-1.7 .1h1v1h-1zm-14.4 .2h1v1h-1zm1 0h1v1h-1zm.7 0h1v1h-1zm4.5 0h1v1h-1zm-6.7 .1h1v1h-1zm3.3 .1h1v1h-1zm9.4 0h1v1h-1zm-12.7 .1h1v1h-1zm.6 0h1v1h-1zm3.6 0h1v1h-1zm2 0h1v1h-1zm7.4 0h1v1h-1zm3.3 0h1v1h-1zm-12.3 .1h1v1h-1zm3.6 0h1v1h-1zm-7.7 .1h1v1h-1zm5.1 0h1v1h-1zm6.6 0h1v1h-1zm2.3 0h1v1h-1zm3.1 .1h1v1h-1zm.1 0h1v1h-1zm-17.3 .1h1v1h-1zm4.5 0h1v1h-1zm.3 0h1v1h-1zm5.8 0h1v1h-1zm3.8 0h1v1h-1zm-10.3 .1h1v1h-1zm4.3 0h1v1h-1zm7.3 0h1v1h-1zm-51.2 .1h1v1h-1zm39.5 0h1v1h-1zm-39 .1h1v1h-1zm36.3 0h1v1h-1zm-1.2 .1h1v1h-1zm2.5 0h1v1h-1zm2.1 0h1v1h-1zm.1 .1h1v1h-1zm3.3 0h1v1h-1zm4.8 0h1v1h-1zm-13.1 .1h1v1h-1zm4.7 0h1v1h-1zm-3.5 .1h1v1h-1zm1.8 0h1v1h-1zm.7 0h1v1h-1zm1.3 0h1v1h-1zm3 0h1v1h-1zm1.2 .1h1v1h-1zm4.1 0h1v1h-1zm2.6 0h1v1h-1zm-15.6 .1h1v1h-1zm2.1 0h1v1h-1zm13.7 0h1v1h-1zm-12.9 .1h1v1h-1zm4.1 0h1v1h-1zm1.3 0h1v1h-1zm5.5 0h1v1h-1zm1.3 0h1v1h-1zm-7.9 .1h1v1h-1zm3.9 0h1v1h-1zm5.3 0h1v1h-1zm.5 0h1v1h-1zm-53.2 .1h1v1h-1zm40 0h1v1h-1zm9.8 0h1v1h-1zm.3 0h1v1h-1zm-10.7 .2h1v1h-1zm1.9 0h1v1h-1zm3.6 0h1v1h-1zm1.8 0h1v1h-1zm-11 .1h1v1h-1zm10.8 0h1v1h-1zm2.5 0h1v1h-1zm-4.4 .1h1v1h-1zm4.7 0h1v1h-1zm5 0h1v1h-1zm-12.2 .2h1v1h-1zm1.2 0h1v1h-1zm4.3 0h1v1h-1zm6.4 0h1v1h-1zm-14.6 .1h1v1h-1zm2.1 0h1v1h-1zm.2 0h1v1h-1zm-5.5 .1h1v1h-1zm.8 0h1v1h-1zm5.1 0h1v1h-1zm2 0h1v1h-1zm5.3 0h1v1h-1zm-13.4 .1h1v1h-1zm2.7 0h1v1h-1zm.8 0h1v1h-1zm-2.3 .1h1v1h-1zm5.2 0h1v1h-1zm7.9 0h1v1h-1zm-14.4 .1h1v1h-1zm3.6 .1h1v1h-1zm-2.8 .1h1v1h-1zm.9 0h1v1h-1zm5.7 0h1v1h-1zm-43.1 .1h1v1h-1zm41.4 0h1v1h-1zm1.7 0h1v1h-1zm-43.2 .1h1v1h-1zm42.9 .2h1v1h-1zm6.6 0h1v1h-1zm-11.6 .1h1v1h-1zm-38.2 .1h1v1h-1zm38.1 .2h1v1h-1zm.5 0h1v1h-1zm1.9 0h1v1h-1zm2.2 .2h1v1h-1zm-2.5 .1h1v1h-1zm.6 0h1v1h-1zm.6 0h1v1h-1zm-4.8 .1h1v1h-1zm.5 0h1v1h-1zm3.1 0h1v1h-1zm3.8 .1h1v1h-1zm-9.4 .1h1v1h-1zm7.1 0h1v1h-1zm.2 .1h1v1h-1zm-41.1 .1h1v1h-1zm35.4 .1h1v1h-1zm2.6 .1h1v1h-1zm2.4 0h1v1h-1zm-40.5 .1h1v1h-1zm.3 0h1v1h-1zm39.1 0h1v1h-1zm-3.3 .2h1v1h-1zm-1.8 .1h1v1h-1zm1.3 0h1v1h-1zm2.1 0h1v1h-1zm1.7 .1h1v1h-1zm-7.9 .1h1v1h-1zm6.3 .1h1v1h-1zm-5.6 .1h1v1h-1zm5.7 0h1v1h-1zm-4.2 .1h1v1h-1zm-33.8 .1h1v1h-1zm33.6 .3h1v1h-1zm4.9 0h1v1h-1zm0 .1h1v1h-1zm-7.6 .1h1v1h-1zm-30.8 .2h1v1h-1zm31.9 .1h1v1h-1zm-.6 .3h1v1h-1zm1.6 0h1v1h-1zm-1.2 .2h1v1h-1zm1.4 0h1v1h-1zm-2 .3h1v1h-1zm-1 .1h1v1h-1zm-.6 .2h1v1h-1zm1.5 .1h1v1h-1zm-29.5 .1h1v1h-1zm28.4 0h1v1h-1zm-1.3 .2h1v1h-1zm2 0h1v1h-1zm1.6 0h1v1h-1zm-3.7 .2h1v1h-1zm-2.4 .1h1v1h-1zm1 0h1v1h-1zm-26.2 .2h1v1h-1zm.6 0h1v1h-1zm25.6 .1h1v1h-1zm-.8 .2h1v1h-1zm1.9 .1h1v1h-1zm-.3 .3h1v1h-1zm-26 .1h1v1h-1zm22.1 .1h1v1h-1zm-22.1 .1h1v1h-1zm.4 0h1v1h-1zm19.9 0h1v1h-1zm2.4 0h1v1h-1zm-1.5 .1h1v1h-1zm2.7 .1h1v1h-1zm-1.4 .1h1v1h-1zm0 0h1v1h-1zm-.2 .1h1v1h-1zm.7 0h1v1h-1zm-1.3 .1h1v1h-1zm.3 .3h1v1h-1zm1.7 0h1v1h-1zm-23.3 .1h1v1h-1zm1.8 0h1v1h-1zm.5 0h1v1h-1zm9.4 0h1v1h-1zm0 0h1v1h-1zm3.1 .1h1v1h-1zm-8.7 .1h1v1h-1zm-6.6 .1h1v1h-1zm3.3 0h1v1h-1zm13.3 .1h1v1h-1zm1 0h1v1h-1zm-4.5 .1h1v1h-1zm3.8 0h1v1h-1zm4.4 .1h1v1h-1zm-15.5 .1h1v1h-1zm-5 .1h1v1h-1zm11.4 0h1v1h-1zm-8.2 .1h1v1h-1zm-2.6 .1h1v1h-1zm1.4 0h1v1h-1zm4.8 0h1v1h-1zm1.8 0h1v1h-1zm.7 0h1v1h-1zm-.3 .1h1v1h-1zm1.4 .1h1v1h-1zm-7 .1h1v1h-1zm2 0h1v1h-1zm1.3 0h1v1h-1zm.8 .1h1v1h-1zm2.4 .1h1v1h-1zm-7 .1h1v1h-1zm4.2 0h1v1h-1zm2.1 .2h1v1h-1z" fill="#3848d8"/><path d="M0 0m54.2 21.2h1v1h-1zm4.2 0h1v1h-1zm-2.8 .4h1v1h-1zm5 .2h1v1h-1zm-9.5 .2h1v1h-1zm6.4 0h1v1h-1zm-2.5 .4h1v1h-1zm-3.9 .3h1v1h-1zm2.1 .2h1v1h-1zm7.9 0h1v1h-1zm-2.1 .1h1v1h-1zm3.5 0h1v1h-1zm-3.9 .4h1v1h-1zm-7.8 .1h1v1h-1zm.2 0h1v1h-1zm8.7 0h1v1h-1zm2.6 0h1v1h-1zm-1 .6h1v1h-1zm-22.1 .1h1v1h-1zm8.2 .3h1v1h-1zm19.9 0h1v1h-1zm-27.6 .1h1v1h-1zm-.6 .1h1v1h-1zm29.7 .1h1v1h-1zm-5.2 .2h1v1h-1zm-27.3 .2h1v1h-1zm3.8 .1h1v1h-1zm-3.4 .2h1v1h-1zm8.3 .3h1v1h-1zm22.9 0h1v1h-1zm-25.3 .2h1v1h-1zm-4.4 .3h1v1h-1zm-3.4 .3h1v1h-1zm35.3 .2h1v1h-1zm-26.9 .1h1v1h-1zm28 0h1v1h-1zm-29.2 .1h1v1h-1zm31.6 .2h1v1h-1zm-39.5 .1h1v1h-1zm2.4 .1h1v1h-1zm34.7 0h1v1h-1zm2.5 0h1v1h-1zm-39.2 .2h1v1h-1zm11.4 0h1v1h-1zm-7.7 .2h1v1h-1zm4.4 .2h1v1h-1zm29.6 .1h1v1h-1zm-27.7 .1h1v1h-1zm-13.3 .2h1v1h-1zm2.5 0h1v1h-1zm-2.4 .3h1v1h-1zm2 0h1v1h-1zm3.8 0h1v1h-1zm7.2 0h1v1h-1zm-7.3 .1h1v1h-1zm-2.3 .2h1v1h-1zm.4 0h1v1h-1zm40.9 .2h1v1h-1zm-2.2 .5h1v1h-1zm-37.5 .1h1v1h-1zm40.9 0h1v1h-1zm-3.8 .1h1v1h-1zm-42.3 .2h1v1h-1zm2.9 .1h1v1h-1zm41.7 0h1v1h-1zm.2 .4h1v1h-1zm2 .2h1v1h-1zm-47 .1h1v1h-1zm.3 .3h1v1h-1zm45.3 .5h1v1h-1zm.9 .1h1v1h-1zm-45 .1h1v1h-1zm-1.3 1h1v1h-1zm-.3 .2h1v1h-1zm45.3 .1h1v1h-1zm.3 1.6h1v1h-1zm-46.3 .4h1v1h-1zm49.6 .5h1v1h-1zm-1.4 .6h1v1h-1zm.3 0h1v1h-1zm-49.9 .2h1v1h-1zm-5.3 .2h1v1h-1zm55.4 .1h1v1h-1zm-55.5 .2h1v1h-1zm57.5 .1h1v1h-1zm-1.3 .4h1v1h-1zm-52.2 .1h1v1h-1zm-.6 1.1h1v1h-1zm-2.6 .5h1v1h-1zm56.4 0h1v1h-1zm-55.9 .1h1v1h-1zm2.1 .2h1v1h-1zm-1.1 .6h1v1h-1zm.1 .2h1v1h-1zm-.6 .3h1v1h-1zm55.1 .7h1v1h-1zm-55.2 .4h1v1h-1zm3.7 .4h1v1h-1zm-1.7 .1h1v1h-1zm.2 .1h1v1h-1zm51 .1h1v1h-1zm1.2 0h1v1h-1zm-49.5 .2h1v1h-1zm49.5 .1h1v1h-1zm-.9 .1h1v1h-1zm-49.2 .3h1v1h-1zm-2.1 .2h1v1h-1zm50 .2h1v1h-1zm-46.7 .6h1v1h-1zm47.8 .3h1v1h-1zm-4.4 .1h1v1h-1zm.3 0h1v1h-1zm-41.5 .1h1v1h-1zm43.4 .4h1v1h-1zm-46.6 .3h1v1h-1zm43.8 .6h1v1h-1zm-1.2 .1h1v1h-1zm-41.5 .2h1v1h-1zm-1.1 .1h1v1h-1zm0 0h1v1h-1zm-.2 .3h1v1h-1zm-1.1 .1h1v1h-1zm44.7 .1h1v1h-1zm-46.7 .1h1v1h-1zm46.4 .1h1v1h-1zm-46.7 .2h1v1h-1zm1.3 .3h1v1h-1zm42.4 .2h1v1h-1zm-1.5 .3h1v1h-1zm-41.4 .2h1v1h-1zm9.2 0h1v1h-1zm-1.6 .2h1v1h-1zm36.9 0h1v1h-1zm-44.3 .3h1v1h-1zm43.4 0h1v1h-1zm-2.7 .3h1v1h-1zm6 .2h1v1h-1zm-1.3 .2h1v1h-1zm-2.6 .4h1v1h-1zm-.2 .1h1v1h-1zm-1.9 .1h1v1h-1zm-36.8 .1h1v1h-1zm32.1 0h1v1h-1zm-32.3 .1h1v1h-1zm32.4 0h1v1h-1zm-28.4 .1h1v1h-1zm14.8 0h1v1h-1zm-26.3 .2h1v1h-1zm12.1 .2h1v1h-1zm-.6 .1h1v1h-1zm.1 .1h1v1h-1zm1.4 .1h1v1h-1zm6.9 .1h1v1h-1zm20.4 .1h1v1h-1zm-28.6 .1h1v1h-1zm12.6 .1h1v1h-1zm-16.1 .1h1v1h-1zm27.8 0h1v1h-1zm-29.4 .1h1v1h-1zm21.4 0h1v1h-1zm7.6 .1h1v1h-1zm1 0h1v1h-1zm-29 .2h1v1h-1zm31.2 .2h1v1h-1zm-39.3 .1h1v1h-1zm.9 0h1v1h-1zm13.2 0h1v1h-1zm4.3 0h1v1h-1zm14.8 0h1v1h-1zm6.4 0h1v1h-1zm-38.9 .2h1v1h-1zm29.2 0h1v1h-1zm7.8 0h1v1h-1zm-39.1 .1h1v1h-1zm22.1 .1h1v1h-1zm-20.6 .1h1v1h-1zm.5 .2h1v1h-1zm1.5 0h1v1h-1zm11.5 0h1v1h-1zm1.2 0h1v1h-1zm6.2 0h1v1h-1zm18.4 .1h1v1h-1zm-10.7 .1h1v1h-1zm-21.1 .1h1v1h-1zm13.8 0h1v1h-1zm9.4 0h1v1h-1zm-21.7 .1h1v1h-1zm-4.9 .1h1v1h-1zm11.1 0h1v1h-1zm-7.6 .1h1v1h-1zm20.8 0h1v1h-1zm-20.6 .1h1v1h-1zm24.8 .1h1v1h-1zm2 0h1v1h-1zm-36.7 .1h1v1h-1zm6 0h1v1h-1zm16.3 0h1v1h-1zm13.2 0h1v1h-1zm-36 .1h1v1h-1zm31.5 0h1v1h-1zm-15.3 .1h1v1h-1zm2.9 0h1v1h-1zm13.2 0h1v1h-1zm-10.6 .1h1v1h-1zm16.2 .2h1v1h-1zm.3 0h1v1h-1zm-36.8 .2h1v1h-1zm32.7 0h1v1h-1zm-27.7 .1h1v1h-1zm12.5 .1h1v1h-1zm-17.5 .1h1v1h-1zm2.9 0h1v1h-1zm31 0h1v1h-1zm-23.7 .1h1v1h-1zm13.5 .2h1v1h-1zm-22.7 .1h1v1h-1zm16.9 0h1v1h-1zm1.1 0h1v1h-1zm-20.4 .2h1v1h-1zm10.1 0h1v1h-1zm11.4 0h1v1h-1zm1.7 .1h1v1h-1zm-22.6 .1h1v1h-1zm33.2 .1h1v1h-1zm-9 .1h1v1h-1zm-16.8 .2h1v1h-1zm-.4 .1h1v1h-1zm25.1 0h1v1h-1zm-31 .4h1v1h-1zm21.8 .1h1v1h-1zm-2.2 .1h1v1h-1zm3 .5h1v1h-1zm1.1 0h1v1h-1zm4.4 .3h1v1h-1zm2.2 0h1v1h-1zm1.5 0h1v1h-1zm-9.2 .2h1v1h-1zm-4.6 .1h1v1h-1zm7.7 .2h1v1h-1zm.4 0h1v1h-1zm-2.9 .1h1v1h-1zm-5 .1h1v1h-1zm7.4 0h1v1h-1zm3.9 .1h1v1h-1zm-31 .4h1v1h-1zm30.4 .2h1v1h-1zm-8.9 .1h1v1h-1zm11.4 .6h1v1h-1zm1.5 0h1v1h-1zm-.5 .2h1v1h-1zm1.7 .2h1v1h-1zm-.5 .4h1v1h-1zm-14.3 .1h1v1h-1zm.5 .2h1v1h-1zm10.8 .1h1v1h-1zm.4 .1h1v1h-1zm-9.5 .1h1v1h-1zm13.6 .1h1v1h-1zm.7 .5h1v1h-1zm-2.9 .2h1v1h-1zm-4.8 .2h1v1h-1zm6.3 .2h1v1h-1zm-9.1 .4h1v1h-1zm4.4 .3h1v1h-1zm-4.2 .1h1v1h-1zm11.6 0h1v1h-1zm-6.7 .1h1v1h-1zm-.6 .1h1v1h-1zm2.9 .4h1v1h-1zm4.8 0h1v1h-1zm-13.1 .1h1v1h-1zm8.7 0h1v1h-1zm-8.7 .2h1v1h-1zm12.5 0h1v1h-1zm-11.5 .1h1v1h-1zm11.3 .1h1v1h-1zm-3.2 .3h1v1h-1zm-3.2 .1h1v1h-1zm2.6 .3h1v1h-1zm2.8 0h1v1h-1zm.3 .3h1v1h-1zm-12.7 .1h1v1h-1zm7.8 0h1v1h-1zm-2.3 .2h1v1h-1zm7.9 0h1v1h-1zm-2.4 .1h1v1h-1zm.7 .2h1v1h-1zm1.3 .1h1v1h-1zm-12.9 .1h1v1h-1zm3.8 0h1v1h-1zm8.7 .1h1v1h-1zm-8.1 .2h1v1h-1zm-1.3 .2h1v1h-1zm5.6 .1h1v1h-1zm-1.5 .4h1v1h-1zm5.6 0h1v1h-1zm-6.2 .1h1v1h-1zm.2 .2h1v1h-1zm-1.7 .4h1v1h-1zm8.1 0h1v1h-1zm-6.4 .1h1v1h-1zm-.1 .1h1v1h-1zm-.3 .2h1v1h-1zm7.2 .1h1v1h-1zm-10.4 .1h1v1h-1zm-2 .5h1v1h-1zm1.3 .3h1v1h-1zm5.6 0h1v1h-1zm-3.6 .1h1v1h-1zm2.3 0h1v1h-1zm4.2 .2h1v1h-1zm-7.9 .1h1v1h-1zm2.5 0h1v1h-1zm.9 .1h1v1h-1zm4.6 .1h1v1h-1zm1.6 .2h1v1h-1zm-14.4 .1h1v1h-1zm10.3 .1h1v1h-1zm.5 .1h1v1h-1zm9.1 .3h1v1h-1zm-13.1 .1h1v1h-1zm-6.3 .2h1v1h-1zm-1.4 .5h1v1h-1zm15.7 .3h1v1h-1zm-1.5 .2h1v1h-1zm1.2 0h1v1h-1zm4.4 0h1v1h-1zm-5.9 .1h1v1h-1zm-13.9 .2h1v1h-1zm22.4 .1h1v1h-1zm-3.7 .8h1v1h-1zm.6 .3h1v1h-1zm5 .1h1v1h-1zm-46.1 .3h1v1h-1zm44.6 0h1v1h-1zm2.4 .1h1v1h-1zm-9.4 .1h1v1h-1zm11.6 .1h1v1h-1zm-49.8 .1h1v1h-1zm.6 .1h1v1h-1zm39.2 0h1v1h-1zm2.2 .3h1v1h-1zm2.2 0h1v1h-1zm2.7 .2h1v1h-1zm-5.4 .1h1v1h-1zm2.6 .1h1v1h-1zm-1.8 .1h1v1h-1zm2.1 0h1v1h-1zm2.9 .2h1v1h-1zm-47.2 .2h1v1h-1zm53.3 .1h1v1h-1zm-5.2 .2h1v1h-1zm-48.2 .1h1v1h-1zm47.2 0h1v1h-1zm1.9 0h1v1h-1zm.7 0h1v1h-1zm.9 .4h1v1h-1zm-5 .2h1v1h-1zm1.2 .1h1v1h-1zm5.2 0h1v1h-1zm-1.6 .3h1v1h-1zm5.3 .4h1v1h-1zm4.1 .1h1v1h-1zm1.5 0h1v1h-1zm-5.6 .3h1v1h-1zm-9.1 .4h1v1h-1zm11.7 .5h1v1h-1zm3.1 0h1v1h-1zm-1.8 .6h1v1h-1zm-1.3 .6h1v1h-1zm.8 0h1v1h-1zm-59.7 .2h1v1h-1zm60.3 .1h1v1h-1zm-2.8 .2h1v1h-1zm2 .5h1v1h-1zm-1.5 .4h1v1h-1zm-.7 .5h1v1h-1zm0 1.8h1v1h-1zm-9.6 .9h1v1h-1zm3.4 0h1v1h-1zm4.7 .1h1v1h-1zm1.5 .2h1v1h-1zm-.9 .1h1v1h-1zm-6.1 .1h1v1h-1zm-1.1 .2h1v1h-1zm6.3 .3h1v1h-1zm-9.7 .1h1v1h-1zm1 .3h1v1h-1zm4.8 0h1v1h-1zm-7.9 .6h1v1h-1zm-2.8 .9h1v1h-1zm-6.5 1h1v1h-1zm3.8 .4h1v1h-1zm-2.6 .2h1v1h-1zm-1.1 .1h1v1h-1zm-1.3 .8h1v1h-1zm-.1 .1h1v1h-1zm-3.9 1.4h1v1h-1zm-6.2 .9h1v1h-1zm.5 .7h1v1h-1zm.4 0h1v1h-1zm-18.1 .7h1v1h-1zm-1.6 1h1v1h-1zm10.4 0h1v1h-1zm-10.9 .4h1v1h-1zm.9 .2h1v1h-1zm.3 .9h1v1h-1z" fill="#4858e8"/><path d="M0 0m32.7 80h1v1h-1zm-.5 .1h1v1h-1zm-2.8 .1h1v1h-1zm3.4 0h1v1h-1zm-3 .1h1v1h-1zm2.9 0h1v1h-1zm0 0h1v1h-1zm-.4 .2h1v1h-1zm-2.3 .1h1v1h-1zm-.1 .2h1v1h-1zm-.5 .1h1v1h-1zm.1 .1h1v1h-1zm-3.8 1.1h1v1h-1zm10.8 .1h1v1h-1zm-11 .1h1v1h-1zm11.1 .1h1v1h-1zm.1 .1h1v1h-1zm0 0h1v1h-1zm-11.4 .1h1v1h-1zm11.6 0h1v1h-1zm-11.9 .1h1v1h-1zm.2 0h1v1h-1zm11.3 0h1v1h-1zm-11.3 .1h1v1h-1zm.2 0h1v1h-1zm11.1 0h1v1h-1zm-11 .1h1v1h-1zm10.9 .1h1v1h-1zm.2 0h1v1h-1zm1.4 .2h1v1h-1zm.2 0h1v1h-1zm.4 0h1v1h-1zm-.6 .1h1v1h-1zm.8 0h1v1h-1zm.2 .1h1v1h-1zm-1 .1h1v1h-1zm.7 0h1v1h-1zm0 .1h1v1h-1zm.2 .3h1v1h-1zm.6 .1h1v1h-1zm.4 .2h1v1h-1zm-1.2 .1h1v1h-1zm.2 0h1v1h-1zm.3 .1h1v1h-1zm-.3 .1h1v1h-1zm-.5 .1h1v1h-1zm.6 0h1v1h-1zm-.7 .2h1v1h-1zm1.3 .1h1v1h-1zm-1.3 .1h1v1h-1zm1 0h1v1h-1zm.6 0h1v1h-1zm-15.3 .1h1v1h-1zm14.2 0h1v1h-1zm-.6 .1h1v1h-1zm0 0h1v1h-1zm-14.2 .1h1v1h-1zm14.1 0h1v1h-1zm-13.7 .1h1v1h-1zm14.5 0h1v1h-1zm-14.2 .1h1v1h-1zm13.6 .1h1v1h-1zm.5 0h1v1h-1zm-14.6 .1h1v1h-1zm.1 0h1v1h-1zm.6 0h1v1h-1zm13.6 .1h1v1h-1zm-.5 .1h1v1h-1zm-1.6 .1h1v1h-1zm0 0h1v1h-1zm2.5 0h1v1h-1zm-2.7 .1h1v1h-1zm.6 0h1v1h-1zm-.3 .2h1v1h-1zm-.2 .1h1v1h-1zm-.2 .2h1v1h-1zm.6 .3h1v1h-1zm0 0h1v1h-1zm-.6 .1h1v1h-1zm-1.9 .1h1v1h-1zm.1 0h1v1h-1zm-7 .1h1v1h-1zm.4 0h1v1h-1zm7.1 .1h1v1h-1zm-7.5 .1h1v1h-1zm0 0h1v1h-1zm.5 0h1v1h-1zm.1 0h1v1h-1zm6.6 0h1v1h-1zm.2 0h1v1h-1zm-7 .1h1v1h-1zm-.4 .1h1v1h-1zm7.1 0h1v1h-1zm.1 0h1v1h-1zm-7.2 .1h1v1h-1zm0 0h1v1h-1zm.1 0h1v1h-1zm-.1 .3h1v1h-1zm7 0h1v1h-1z" fill="#18d8b8"/><path d="M0 0m35.9 81.6h1v1h-1zm.1 0h1v1h-1zm0 0h1v1h-1zm-.7 .1h1v1h-1zm.1 .2h1v1h-1zm.2 0h1v1h-1zm0 0h1v1h-1zm.2 .1h1v1h-1zm2 0h1v1h-1zm-.2 .1h1v1h-1zm-.6 .1h1v1h-1zm.8 0h1v1h-1zm-.2 .1h1v1h-1zm0 0h1v1h-1zm-.2 .3h1v1h-1zm0 .2h1v1h-1zm.4 0h1v1h-1zm-.5 .1h1v1h-1zm.1 .1h1v1h-1zm2 .1h1v1h-1zm-.1 .1h1v1h-1zm.2 0h1v1h-1zm.4 0h1v1h-1zm-.3 .1h1v1h-1zm-.3 .2h1v1h-1zm.1 .1h1v1h-1zm.1 .1h1v1h-1zm0 .1h1v1h-1zm.1 .1h1v1h-1zm.3 0h1v1h-1zm.1 0h1v1h-1zm-.7 1.2h1v1h-1zm.3 .1h1v1h-1zm.2 0h1v1h-1zm0 0h1v1h-1zm-.7 .2h1v1h-1zm.6 .2h1v1h-1zm-.3 .2h1v1h-1zm.2 .1h1v1h-1zm-14.2 .2h1v1h-1zm.2 .2h1v1h-1zm.3 .6h1v1h-1zm0 0h1v1h-1z" fill="#18c8b8"/><path d="M0 0m63.8 20.1h1v1h-1zm-10.4 .4h1v1h-1zm5.9 0h1v1h-1zm-3.8 .1h1v1h-1zm5.9 .1h1v1h-1zm1.6 .1h1v1h-1zm12.8 .9h1v1h-1zm-.3 1.6h1v1h-1zm-.4 .4h1v1h-1zm-29.5 .5h1v1h-1zm23.4 0h1v1h-1zm-23.5 .2h1v1h-1zm-1.6 .5h1v1h-1zm-9 .6h1v1h-1zm-.2 .1h1v1h-1zm-11.1 .7h1v1h-1zm54.4 .8h1v1h-1zm-53.1 .1h1v1h-1zm-.1 .1h1v1h-1zm52.9 .9h1v1h-1zm-46.7 1.2h1v1h-1zm48.5 1.7h1v1h-1zm2.2 .7h1v1h-1zm-.1 .2h1v1h-1zm1 .8h1v1h-1zm-52.8 .9h1v1h-1zm50.5 0h1v1h-1zm-53 .3h1v1h-1zm52.3 .6h1v1h-1zm-55.7 .1h1v1h-1zm4.7 .2h1v1h-1zm-1.8 .1h1v1h-1zm-4.1 1h1v1h-1zm1.5 .4h1v1h-1zm57.1 .1h1v1h-1zm.3 .3h1v1h-1zm-60.3 .5h1v1h-1zm1 0h1v1h-1zm59.2 3.2h1v1h-1zm1.5 .3h1v1h-1zm1.9 .3h1v1h-1zm-1.1 1.6h1v1h-1zm-1 .6h1v1h-1zm1 .3h1v1h-1zm-59.8 .1h1v1h-1zm1.1 .3h1v1h-1zm54.7 0h1v1h-1zm-58.5 1.1h1v1h-1zm55.2 .3h1v1h-1zm-52.1 .4h1v1h-1zm50.9 .2h1v1h-1zm3.6 .5h1v1h-1zm-3.2 .6h1v1h-1zm-52.8 .4h1v1h-1zm-.9 .1h1v1h-1zm56.2 .5h1v1h-1zm-.6 .1h1v1h-1zm-54.3 .1h1v1h-1zm7.1 .1h1v1h-1zm-6.1 .1h1v1h-1zm9.2 .1h1v1h-1zm41.1 1.4h1v1h-1zm-1.1 .3h1v1h-1zm-46.4 .3h1v1h-1zm47 0h1v1h-1zm-52.3 .3h1v1h-1zm3.5 0h1v1h-1zm2 .2h1v1h-1zm41.7 .3h1v1h-1zm.6 .6h1v1h-1zm1.1 .2h1v1h-1zm-6.6 .5h1v1h-1zm-17.2 1h1v1h-1zm13 1.5h1v1h-1zm-13.4 .2h1v1h-1zm16.6 0h1v1h-1zm-1.7 .2h1v1h-1zm-3.6 .6h1v1h-1zm3 .1h1v1h-1zm1.8 .4h1v1h-1zm2.3 0h1v1h-1zm-15.5 .1h1v1h-1zm12.7 .6h1v1h-1zm-5.9 .6h1v1h-1zm1.3 .8h1v1h-1zm-.2 .1h1v1h-1zm7.5 .2h1v1h-1zm-.7 .3h1v1h-1zm-1.9 .5h1v1h-1zm.8 .3h1v1h-1zm1.3 1.3h1v1h-1zm-6.3 .4h1v1h-1zm4.3 1.2h1v1h-1zm-.8 .1h1v1h-1zm-.2 .3h1v1h-1zm1.6 1.5h1v1h-1zm-2.3 .1h1v1h-1zm4.2 4.1h1v1h-1zm10.8 0h1v1h-1zm-14.7 .1h1v1h-1zm1.2 .2h1v1h-1zm13.1 .2h1v1h-1zm-15.8 .1h1v1h-1zm6.3 .5h1v1h-1zm-.6 .1h1v1h-1zm1.9 0h1v1h-1zm-4.6 .4h1v1h-1zm13.3 1.5h1v1h-1zm-7.3 .4h1v1h-1zm1.6 .4h1v1h-1zm6.7 .4h1v1h-1zm-1.7 .4h1v1h-1zm.8 0h1v1h-1zm2.3 1.8h1v1h-1zm4.4 .7h1v1h-1zm-4.6 .5h1v1h-1zm1.8 .1h1v1h-1zm3.1 1.2h1v1h-1zm-.5 .9h1v1h-1zm.8 1.5h1v1h-1zm.2 .7h1v1h-1zm-1.7 .3h1v1h-1zm-2.5 .7h1v1h-1zm-.1 .2h1v1h-1zm1.9 .1h1v1h-1zm-7.6 3.9h1v1h-1zm-4.5 .8h1v1h-1zm-.7 .3h1v1h-1zm-2.2 .1h1v1h-1zm.2 .2h1v1h-1zm1.6 1h1v1h-1zm-8 .5h1v1h-1zm-2.9 .4h1v1h-1zm-8 2.4h1v1h-1zm-8.2 2h1v1h-1zm1 .1h1v1h-1zm-14 .5h1v1h-1zm9.1 .7h1v1h-1zm-.4 .3h1v1h-1zm-11.7 1.1h1v1h-1zm11.6 0h1v1h-1z" fill="#5858e8"/><path d="M0 0m52.6 24.3h1v1h-1zm.6 .2h1v1h-1zm-1.7 .1h1v1h-1zm5.2 .1h1v1h-1zm.1 .3h1v1h-1zm.5 0h1v1h-1zm-8.3 .7h1v1h-1zm.8 0h1v1h-1zm-2.8 1.3h1v1h-1zm21.4 .4h1v1h-1zm-20.4 .5h1v1h-1zm-6.7 .2h1v1h-1zm4.8 .1h1v1h-1zm-5.2 .1h1v1h-1zm.4 0h1v1h-1zm5.5 .3h1v1h-1zm22.8 0h1v1h-1zm-.2 .3h1v1h-1zm.3 0h1v1h-1zm-27.5 .3h1v1h-1zm-3.5 .9h1v1h-1zm34.8 1h1v1h-1zm-39.4 .3h1v1h-1zm.4 0h1v1h-1zm35.5 .2h1v1h-1zm2.8 0h1v1h-1zm1.6 .5h1v1h-1zm-40.2 .7h1v1h-1zm39.5 .1h1v1h-1zm-38.9 .9h1v1h-1zm40.4 1.4h1v1h-1zm1 1.1h1v1h-1zm-44.5 .2h1v1h-1zm-3.5 1.6h1v1h-1zm.2 .1h1v1h-1zm.2 .1h1v1h-1zm-.5 .5h1v1h-1zm.1 .1h1v1h-1zm50 .1h1v1h-1zm.3 .7h1v1h-1zm.4 .1h1v1h-1zm-.8 .1h1v1h-1zm-47.9 .4h1v1h-1zm.1 .2h1v1h-1zm.9 0h1v1h-1zm43.1 1.8h1v1h-1zm.1 0h1v1h-1zm-41.7 .2h1v1h-1zm1.3 .9h1v1h-1zm1.2 1.1h1v1h-1zm34.9 .8h1v1h-1zm-32.7 1.7h1v1h-1zm-.7 .4h1v1h-1zm31.2 .3h1v1h-1zm-31.8 .2h1v1h-1zm.5 0h1v1h-1zm27.6 .7h1v1h-1zm-25.1 .5h1v1h-1zm.7 0h1v1h-1zm7.7 .2h1v1h-1zm12.1 .4h1v1h-1zm-19.7 .2h1v1h-1zm.8 .8h1v1h-1zm14.2 .6h1v1h-1zm-30.9 4.8h1v1h-1zm1.3 .1h1v1h-1zm10.8 0h1v1h-1zm.1 0h1v1h-1zm-1.5 .1h1v1h-1zm-3.7 .1h1v1h-1zm4.7 .1h1v1h-1zm-10.3 .1h1v1h-1zm-1.3 .2h1v1h-1zm12.9 .2h1v1h-1zm-13.9 .7h1v1h-1zm14.5 0h1v1h-1zm-17.1 2.4h1v1h-1zm-.5 .3h1v1h-1zm22.6 1.7h1v1h-1zm.7 0h1v1h-1zm-.4 .4h1v1h-1zm-.9 .1h1v1h-1zm2.5 .1h1v1h-1zm.1 .3h1v1h-1zm-4.3 .2h1v1h-1zm4.5 .4h1v1h-1zm.1 .3h1v1h-1zm-2.7 .1h1v1h-1zm0 .1h1v1h-1zm-3.7 .3h1v1h-1zm2 0h1v1h-1zm-.8 .1h1v1h-1zm2.7 .2h1v1h-1zm1.6 0h1v1h-1zm-5.6 .1h1v1h-1zm3.5 .2h1v1h-1zm-1.1 .1h1v1h-1zm.8 .2h1v1h-1zm-16.1 .1h1v1h-1zm-1.1 .3h1v1h-1zm15.7 .3h1v1h-1zm-14.4 .1h1v1h-1zm15.7 .3h1v1h-1zm-5.2 .3h1v1h-1zm-.2 .6h1v1h-1zm3.4 .1h1v1h-1zm2.4 0h1v1h-1zm-1.8 .2h1v1h-1zm2 0h1v1h-1zm-10.9 1.5h1v1h-1zm4 .1h1v1h-1zm4.3 .5h1v1h-1zm-18.9 .2h1v1h-1zm15.3 .1h1v1h-1zm2.6 .3h1v1h-1zm.4 .1h1v1h-1zm-18.6 .1h1v1h-1zm20.1 .1h1v1h-1zm-1.6 .1h1v1h-1zm-18.1 .3h1v1h-1zm20 .1h1v1h-1zm-9.1 .1h1v1h-1zm7 0h1v1h-1zm-1.2 .3h1v1h-1zm.6 .3h1v1h-1zm2 .1h1v1h-1zm-.6 .1h1v1h-1zm7.2 0h1v1h-1zm3.3 .1h1v1h-1zm-9.8 .2h1v1h-1zm1 0h1v1h-1zm7 .1h1v1h-1zm2.5 .1h1v1h-1zm-2.1 .1h1v1h-1zm2.2 .4h1v1h-1zm-27.6 .1h1v1h-1zm14.5 0h1v1h-1zm.4 0h1v1h-1zm1.6 0h1v1h-1zm-6 .1h1v1h-1zm1.5 0h1v1h-1zm.6 .1h1v1h-1zm18.3 0h1v1h-1zm-32.3 .1h1v1h-1zm29.5 0h1v1h-1zm-11.7 .1h1v1h-1zm17.3 0h1v1h-1zm-2.9 .2h1v1h-1zm-20.7 .1h1v1h-1zm1.5 0h1v1h-1zm22.2 0h1v1h-1zm-17.3 .1h1v1h-1zm-17.5 .2h1v1h-1zm4.8 .1h1v1h-1zm31.9 0h1v1h-1zm-14.2 .4h1v1h-1zm0 0h1v1h-1zm19.3 1.5h1v1h-1zm.1 .1h1v1h-1zm-43 1.6h1v1h-1zm48.4 .2h1v1h-1zm-1.9 .2h1v1h-1zm6 .1h1v1h-1zm1 .1h1v1h-1zm-5.5 .1h1v1h-1zm2.1 0h1v1h-1zm.8 .1h1v1h-1zm2.8 0h1v1h-1zm-2.6 .2h1v1h-1zm-1.9 .1h1v1h-1zm2.1 0h1v1h-1zm-5.6 .3h1v1h-1zm6 .2h1v1h-1zm-6.1 .1h1v1h-1zm7.9 .2h1v1h-1zm-9.4 .9h1v1h-1zm10 .7h1v1h-1zm-.5 .7h1v1h-1zm.2 .6h1v1h-1zm-1.4 .4h1v1h-1zm-2.3 .3h1v1h-1zm2.2 .1h1v1h-1zm-7.8 .2h1v1h-1zm9.4 .3h1v1h-1zm-10 .8h1v1h-1zm-4.5 1.6h1v1h-1zm-10 2.7h1v1h-1zm.2 .3h1v1h-1zm-5 2.4h1v1h-1zm-10.1 .6h1v1h-1zm-5.9 1.2h1v1h-1zm1.4 0h1v1h-1zm-1.6 .4h1v1h-1z" fill="#4848d8"/><path d="M0 0m65.5 11.1h1v1h-1zm-5.1 3.6h1v1h-1zm-12.5 2.6h1v1h-1zm-4.7 .9h1v1h-1zm21.5 .1h1v1h-1zm11.5 .6h1v1h-1zm-23.4 .3h1v1h-1zm22.7 .7h1v1h-1zm-37.5 .6h1v1h-1zm3.4 .3h1v1h-1zm53.2 .1h1v1h-1zm-47 .1h1v1h-1zm-11.6 .4h1v1h-1zm38.4 .5h1v1h-1zm-29.2 .6h1v1h-1zm-5 .3h1v1h-1zm-10.8 .2h1v1h-1zm41.2 .4h1v1h-1zm10.9 .9h1v1h-1zm-2.2 .4h1v1h-1zm-50.6 .4h1v1h-1zm49.9 .1h1v1h-1zm-54.3 .1h1v1h-1zm6.2 .1h1v1h-1zm55.8 .9h1v1h-1zm-59.1 1.2h1v1h-1zm54.2 .3h1v1h-1zm-61.3 .8h1v1h-1zm63.2 .6h1v1h-1zm-58.1 1.4h1v1h-1zm73.3 .1h1v1h-1zm-78.1 1.8h1v1h-1zm2.9 0h1v1h-1zm60.4 1.4h1v1h-1zm3.5 .9h1v1h-1zm-2.4 1.2h1v1h-1zm-64.6 1.9h1v1h-1zm64 .1h1v1h-1zm-63.3 3h1v1h-1zm65.5 0h1v1h-1zm-63.5 1.5h1v1h-1zm62.1 .9h1v1h-1zm-64.1 .7h1v1h-1zm63.8 1.3h1v1h-1zm2.9 1.1h1v1h-1zm-3.8 1.4h1v1h-1zm-.5 .2h1v1h-1zm-1.8 .4h1v1h-1zm-2.1 .6h1v1h-1zm13.1 1.2h1v1h-1zm-16.4 .7h1v1h-1zm9.2 .8h1v1h-1zm-4.2 .1h1v1h-1zm-12.6 1.2h1v1h-1zm8.3 .2h1v1h-1zm-3.6 .3h1v1h-1zm-2.8 4.8h1v1h-1zm-2.7 2.1h1v1h-1zm1.6 .9h1v1h-1zm-4.4 3.2h1v1h-1zm.2 2.5h1v1h-1zm5.8 .3h1v1h-1zm2.8 1.7h1v1h-1zm-.3 1.2h1v1h-1zm22.9 .5h1v1h-1zm-17.7 1.6h1v1h-1zm2.2 1.9h1v1h-1zm4.9 .1h1v1h-1zm-.7 7.3h1v1h-1zm6.8 1h1v1h-1zm-10.4 2.7h1v1h-1zm-3.1 2.9h1v1h-1zm4 .7h1v1h-1zm-3.7 .5h1v1h-1zm-19.5 2.3h1v1h-1zm27.5 .5h1v1h-1zm-34 .1h1v1h-1zm13.5 .2h1v1h-1zm4.6 4.7h1v1h-1zm6.7 2.4h1v1h-1z" fill="#5868e8"/><path d="M0 0m30.9 80.2h1v1h-1zm.4 .1h1v1h-1zm.1 0h1v1h-1zm-1.2 .1h1v1h-1zm1 0h1v1h-1zm0 0h1v1h-1zm.1 0h1v1h-1zm-.3 .1h1v1h-1zm-.7 .1h1v1h-1zm.4 0h1v1h-1zm.3 .2h1v1h-1zm-.7 .1h1v1h-1zm.4 0h1v1h-1zm1.1 0h1v1h-1zm-7.5 3.1h1v1h-1zm.3 .1h1v1h-1zm13 0h1v1h-1zm.1 .1h1v1h-1zm-13.4 .1h1v1h-1zm13.1 0h1v1h-1zm-.4 .1h1v1h-1zm-12.2 .1h1v1h-1zm13 0h1v1h-1zm-13.5 .1h1v1h-1zm12.9 0h1v1h-1zm.2 .1h1v1h-1zm.5 0h1v1h-1zm-.1 .1h1v1h-1zm-13.4 .1h1v1h-1zm.2 0h1v1h-1zm.1 0h1v1h-1zm.1 0h1v1h-1zm12.3 0h1v1h-1zm.4 0h1v1h-1zm.1 0h1v1h-1zm-13.5 .1h1v1h-1zm.2 0h1v1h-1zm13 0h1v1h-1zm-11.2 1.1h1v1h-1zm.1 0h1v1h-1zm.6 0h1v1h-1zm.1 .2h1v1h-1zm-.2 .2h1v1h-1zm.1 0h1v1h-1zm.1 0h1v1h-1zm-.1 .4h1v1h-1z" fill="#18e8a8"/><path d="M0 0m27.4 81.1h1v1h-1zm.1 0h1v1h-1zm-.2 .1h1v1h-1zm-.3 .1h1v1h-1zm.6 0h1v1h-1zm-.2 .1h1v1h-1zm-.3 .1h1v1h-1zm-.1 .2h1v1h-1zm.4 .1h1v1h-1zm-.1 .1h1v1h-1zm.5 0h1v1h-1zm.1 0h1v1h-1zm-.2 .1h1v1h-1zm-3.5 1.2h1v1h-1zm.1 0h1v1h-1zm12.9 0h1v1h-1zm-12.6 .1h1v1h-1zm.2 0h1v1h-1zm12.7 0h1v1h-1zm.4 0h1v1h-1zm-13.8 .1h1v1h-1zm13.1 0h1v1h-1zm-12.3 .1h1v1h-1zm.1 0h1v1h-1zm-.6 .1h1v1h-1zm12.7 0h1v1h-1zm-12.6 .1h1v1h-1zm.1 0h1v1h-1zm13.2 0h1v1h-1zm-.6 .1h1v1h-1zm.1 0h1v1h-1zm-.2 1.2h1v1h-1zm.3 0h1v1h-1zm.4 0h1v1h-1zm-.2 .2h1v1h-1zm-.4 .5h1v1h-1z" fill="#18d8a8"/><path d="M0 0m34.5 81h1v1h-1zm.2 .1h1v1h-1zm.2 .1h1v1h-1zm-.6 .2h1v1h-1zm.4 0h1v1h-1zm-.6 .5h1v1h-1zm.1 .1h1v1h-1zm.3 0h1v1h-1zm.5 0h1v1h-1zm-8.1 .2h1v1h-1zm0 0h1v1h-1zm.1 .4h1v1h-1zm-.7 .2h1v1h-1zm.5 0h1v1h-1zm-.5 .1h1v1h-1zm-.6 .1h1v1h-1zm-.7 .1h1v1h-1zm11.7 0h1v1h-1zm-11 .1h1v1h-1zm.1 0h1v1h-1zm10.8 0h1v1h-1zm.2 .2h1v1h-1zm-11.2 .1h1v1h-1zm-.4 .1h1v1h-1zm.7 0h1v1h-1zm10.3 0h1v1h-1zm-10.7 .1h1v1h-1zm-.3 .1h1v1h-1zm11.1 0h1v1h-1zm.4 0h1v1h-1zm-10.9 .1h1v1h-1zm0 0h1v1h-1zm10.3 0h1v1h-1zm-11 1.2h1v1h-1zm.7 0h1v1h-1zm-.3 .1h1v1h-1zm0 .1h1v1h-1zm-.4 .1h1v1h-1zm.3 0h1v1h-1zm.4 0h1v1h-1zm-.5 .1h1v1h-1zm-.1 .1h1v1h-1zm.1 0h1v1h-1zm.7 .1h1v1h-1zm-.1 .1h1v1h-1zm-.9 .1h1v1h-1zm.6 .1h1v1h-1zm7.7 1.1h1v1h-1zm.2 .1h1v1h-1zm.1 .1h1v1h-1zm.1 .3h1v1h-1zm0 .1h1v1h-1zm.2 .1h1v1h-1zm-.2 .2h1v1h-1z" fill="#28e898"/><path d="M0 0m35.8 82h1v1h-1zm-.6 .2h1v1h-1zm.2 0h1v1h-1zm.4 0h1v1h-1zm-.5 .1h1v1h-1zm.6 .1h1v1h-1zm-.7 .2h1v1h-1zm.3 .1h1v1h-1zm.1 0h1v1h-1zm0 .2h1v1h-1zm0 .1h1v1h-1zm-9.9 1.1h1v1h-1zm.1 0h1v1h-1zm-.6 .1h1v1h-1zm11 0h1v1h-1zm-11.1 .1h1v1h-1zm11.8 0h1v1h-1zm-.5 .1h1v1h-1zm-11.3 .1h1v1h-1zm.7 .1h1v1h-1zm10.2 0h1v1h-1zm.3 0h1v1h-1zm.5 0h1v1h-1zm.1 0h1v1h-1zm-11.8 .1h1v1h-1zm.2 0h1v1h-1zm.3 0h1v1h-1zm.1 0h1v1h-1zm10.3 0h1v1h-1zm-10.9 .1h1v1h-1zm.2 .1h1v1h-1zm.4 0h1v1h-1zm11.2 0h1v1h-1zm-11.7 .1h1v1h-1zm11.5 0h1v1h-1zm-.1 .1h1v1h-1zm.3 0h1v1h-1zm-.5 .1h1v1h-1zm.1 0h1v1h-1zm.1 0h1v1h-1zm-.2 .1h1v1h-1zm.1 .2h1v1h-1zm.4 0h1v1h-1zm-.5 .1h1v1h-1zm-.4 .1h1v1h-1zm.4 0h1v1h-1zm.4 0h1v1h-1zm.1 0h1v1h-1zm-.8 .1h1v1h-1zm.2 .1h1v1h-1zm.2 0h1v1h-1zm-.8 .2h1v1h-1zm-.5 .3h1v1h-1zm.8 .1h1v1h-1zm-.7 .1h1v1h-1zm.4 0h1v1h-1zm-.6 .1h1v1h-1zm.3 0h1v1h-1zm-.2 .1h1v1h-1zm-6.9 .3h1v1h-1zm.6 0h1v1h-1zm-.8 .2h1v1h-1zm.9 .1h1v1h-1zm-.6 .3h1v1h-1zm.4 0h1v1h-1zm-.8 .2h1v1h-1zm0 0h1v1h-1z" fill="#28e888"/><path d="M0 0m28.4 81.1h1v1h-1zm.2 0h1v1h-1zm-.1 .1h1v1h-1zm-.2 .1h1v1h-1zm.6 .3h1v1h-1zm-.8 .1h1v1h-1zm.2 0h1v1h-1zm.4 0h1v1h-1zm-.3 .1h1v1h-1zm.3 0h1v1h-1zm-.3 .1h1v1h-1zm0 0h1v1h-1zm0 0h1v1h-1z" fill="#28e878"/><path d="M0 0m33.4 81.1h1v1h-1zm.1 0h1v1h-1zm.4 0h1v1h-1zm-.8 .2h1v1h-1zm.1 .5h1v1h-1zm.4 0h1v1h-1zm.1 0h1v1h-1zm-.5 .1h1v1h-1zm-7.2 1.2h1v1h-1zm.1 0h1v1h-1zm.3 0h1v1h-1zm-.1 .1h1v1h-1zm-.3 .1h1v1h-1zm.1 .2h1v1h-1zm.8 .1h1v1h-1zm-.5 .2h1v1h-1zm.4 0h1v1h-1zm-.1 .1h1v1h-1zm.2 .1h1v1h-1zm-.1 1h1v1h-1zm-.7 .1h1v1h-1zm.1 0h1v1h-1zm.4 0h1v1h-1zm-.1 .1h1v1h-1zm.2 0h1v1h-1zm-.7 .2h1v1h-1zm.6 .1h1v1h-1zm.2 .2h1v1h-1zm-.2 .2h1v1h-1zm.4 0h1v1h-1zm-.1 .1h1v1h-1zm.4 .1h1v1h-1zm.6 0h1v1h-1zm-.5 .1h1v1h-1zm.2 .4h1v1h-1zm.2 .4h1v1h-1zm5.1 .2h1v1h-1zm-.8 .1h1v1h-1zm.1 0h1v1h-1zm.5 0h1v1h-1zm-.5 .1h1v1h-1zm.2 .2h1v1h-1zm-.4 .3h1v1h-1zm.2 0h1v1h-1z" fill="#28e868"/><path d="M0 0m27.7 82.1h1v1h-1zm-.4 .1h1v1h-1zm-.2 .1h1v1h-1zm.5 0h1v1h-1zm.3 0h1v1h-1zm-.2 .1h1v1h-1zm-.4 .1h1v1h-1zm0 .2h1v1h-1zm0 .3h1v1h-1zm.6 0h1v1h-1zm7.9 .2h1v1h-1zm0 0h1v1h-1zm-.7 .1h1v1h-1zm0 .1h1v1h-1zm.2 0h1v1h-1zm.5 0h1v1h-1zm0 0h1v1h-1zm-.8 .2h1v1h-1zm0 .1h1v1h-1zm.4 0h1v1h-1zm-9.2 .4h1v1h-1zm.2 0h1v1h-1zm-.1 .5h1v1h-1zm.3 .1h1v1h-1zm-.3 .1h1v1h-1zm9.5 .2h1v1h-1zm-.4 .1h1v1h-1zm.1 0h1v1h-1zm0 0h1v1h-1zm.2 .1h1v1h-1zm-.6 .1h1v1h-1zm0 0h1v1h-1zm.8 0h1v1h-1zm-.7 .2h1v1h-1zm0 0h1v1h-1zm.7 0h1v1h-1zm.1 0h1v1h-1zm-.7 .1h1v1h-1zm.7 0h1v1h-1zm-.3 .2h1v1h-1zm-.7 .1h1v1h-1zm-.9 .1h1v1h-1zm.1 .1h1v1h-1zm.1 0h1v1h-1zm.3 0h1v1h-1zm-.6 .1h1v1h-1zm.6 0h1v1h-1zm.2 .1h1v1h-1zm-.6 .1h1v1h-1zm.3 0h1v1h-1zm-.5 .3h1v1h-1zm.1 .1h1v1h-1zm.4 0h1v1h-1zm.5 .1h1v1h-1zm-5 .1h1v1h-1zm-.4 .1h1v1h-1zm-.5 .3h1v1h-1zm.7 0h1v1h-1zm-.1 .1h1v1h-1zm.2 0h1v1h-1zm-.5 .1h1v1h-1zm.5 .1h1v1h-1zm-.3 .1h1v1h-1zm.3 .2h1v1h-1z" fill="#38e858"/><path d="M0 0m34.8 82h1v1h-1zm-.7 .1h1v1h-1zm-.1 .1h1v1h-1zm.1 .2h1v1h-1zm0 0h1v1h-1zm.4 .1h1v1h-1zm-.5 .1h1v1h-1zm.3 0h1v1h-1zm.3 0h1v1h-1zm-.3 .1h1v1h-1zm.2 .1h1v1h-1zm-.1 .1h1v1h-1zm.2 0h1v1h-1zm.1 0h1v1h-1zm.9 1.2h1v1h-1zm-.2 .2h1v1h-1zm.4 0h1v1h-1zm-.4 .1h1v1h-1zm.3 0h1v1h-1zm-.5 .1h1v1h-1zm0 0h1v1h-1zm.1 0h1v1h-1zm0 .1h1v1h-1zm.1 0h1v1h-1zm.3 .1h1v1h-1zm-.5 .3h1v1h-1zm-4.5 2h1v1h-1zm.3 .1h1v1h-1zm-.6 .1h1v1h-1zm.4 0h1v1h-1zm-.2 .1h1v1h-1zm.5 0h1v1h-1zm-.8 .1h1v1h-1zm1.2 0h1v1h-1zm-.7 .1h1v1h-1zm-.2 .1h1v1h-1zm.3 0h1v1h-1zm.9 0h1v1h-1zm-.6 .1h1v1h-1zm.8 0h1v1h-1zm-1.8 .1h1v1h-1zm1 0h1v1h-1zm.4 0h1v1h-1zm-1.4 .1h1v1h-1zm1.6 0h1v1h-1zm-1.3 .1h1v1h-1zm.8 0h1v1h-1z" fill="#38e848"/><path d="M0 0m32.4 81h1v1h-1zm.3 0h1v1h-1zm-.6 .1h1v1h-1zm0 0h1v1h-1zm-2.8 .1h1v1h-1zm3.3 0h1v1h-1zm-3 .1h1v1h-1zm2.5 0h1v1h-1zm-3 .1h1v1h-1zm.5 0h1v1h-1zm.4 0h1v1h-1zm2.1 0h1v1h-1zm.6 0h1v1h-1zm0 0h1v1h-1zm-2.8 .1h1v1h-1zm0 0h1v1h-1zm2.2 0h1v1h-1zm.6 0h1v1h-1zm-3.3 .1h1v1h-1zm.5 .1h1v1h-1zm2.6 0h1v1h-1zm.5 0h1v1h-1zm-3.4 .1h1v1h-1zm.2 0h1v1h-1zm-.3 .1h1v1h-1zm.5 0h1v1h-1zm-.5 .1h1v1h-1zm.4 0h1v1h-1zm2.1 0h1v1h-1zm.3 0h1v1h-1zm.6 0h1v1h-1z" fill="#38e838"/><path d="M0 0m30.4 81.1h1v1h-1zm0 0h1v1h-1zm.3 0h1v1h-1zm-.1 .3h1v1h-1zm.2 .1h1v1h-1zm-.6 .2h1v1h-1zm.7 0h1v1h-1zm.1 0h1v1h-1zm-.2 .2h1v1h-1zm-3.7 3.2h1v1h-1zm.6 0h1v1h-1zm-.1 .2h1v1h-1zm-.2 .2h1v1h-1zm.2 .1h1v1h-1zm-.5 .2h1v1h-1zm.4 0h1v1h-1zm.2 0h1v1h-1zm-.2 .1h1v1h-1zm.5 0h1v1h-1zm-1 .1h1v1h-1zm.2 0h1v1h-1z" fill="#58f828"/><path d="M0 0m31.2 81.1h1v1h-1zm-.1 .2h1v1h-1zm0 .2h1v1h-1zm.6 0h1v1h-1zm.2 0h1v1h-1zm-.8 .1h1v1h-1zm.5 0h1v1h-1zm.2 0h1v1h-1zm.1 0h1v1h-1zm-.9 .1h1v1h-1zm1 0h1v1h-1zm-.7 .2h1v1h-1zm.2 0h1v1h-1zm.1 0h1v1h-1zm.1 0h1v1h-1zm.2 .1h1v1h-1zm-4.5 1h1v1h-1zm6.7 0h1v1h-1zm.1 0h1v1h-1zm.6 0h1v1h-1zm.1 .1h1v1h-1zm-7.8 .1h1v1h-1zm7 0h1v1h-1zm.1 0h1v1h-1zm.4 0h1v1h-1zm.4 0h1v1h-1zm-7.5 .1h1v1h-1zm.3 0h1v1h-1zm6.4 0h1v1h-1zm-7.2 .1h1v1h-1zm.4 0h1v1h-1zm.1 0h1v1h-1zm7.2 0h1v1h-1zm.2 0h1v1h-1zm-7.6 .1h1v1h-1zm.5 0h1v1h-1zm0 0h1v1h-1zm6.9 0h1v1h-1zm-.7 .1h1v1h-1zm.2 0h1v1h-1zm.2 0h1v1h-1zm.2 0h1v1h-1zm-7.1 .1h1v1h-1zm-.5 .1h1v1h-1zm7.1 0h1v1h-1zm.1 0h1v1h-1zm.6 0h1v1h-1zm-7.8 .1h1v1h-1zm.2 0h1v1h-1zm.1 0h1v1h-1zm-.1 .1h1v1h-1zm7.7 1h1v1h-1zm-.8 .1h1v1h-1zm.4 0h1v1h-1zm.4 0h1v1h-1zm-.7 .1h1v1h-1zm.3 0h1v1h-1zm-.1 .1h1v1h-1zm.1 0h1v1h-1zm.1 0h1v1h-1zm.1 0h1v1h-1zm.1 0h1v1h-1zm-.7 .1h1v1h-1zm.3 .1h1v1h-1zm.3 .1h1v1h-1zm0 0h1v1h-1zm.2 .1h1v1h-1zm-.9 .1h1v1h-1zm.2 .1h1v1h-1zm.1 0h1v1h-1zm.3 0h1v1h-1zm.2 0h1v1h-1zm-1.1 .1h1v1h-1zm.3 0h1v1h-1zm.3 0h1v1h-1zm-1 .1h1v1h-1zm.2 0h1v1h-1zm.3 0h1v1h-1zm-.3 .1h1v1h-1zm.2 0h1v1h-1zm-5 .1h1v1h-1zm-.2 .1h1v1h-1zm4.9 0h1v1h-1zm-4.6 .1h1v1h-1zm-.4 .1h1v1h-1zm5.3 0h1v1h-1zm.2 0h1v1h-1zm-5.8 .1h1v1h-1zm.3 0h1v1h-1zm4.8 0h1v1h-1zm.1 0h1v1h-1zm.1 0h1v1h-1zm.4 0h1v1h-1zm-5.4 .1h1v1h-1zm0 0h1v1h-1zm4.8 0h1v1h-1zm.4 0h1v1h-1zm-5.3 .1h1v1h-1zm.5 0h1v1h-1zm4.9 0h1v1h-1zm-5.2 .1h1v1h-1zm.1 0h1v1h-1zm.2 0h1v1h-1zm5 0h1v1h-1z" fill="#68f828"/><path d="M0 0m28.5 82h1v1h-1zm-.1 .1h1v1h-1zm-.2 .2h1v1h-1zm.4 0h1v1h-1zm.1 0h1v1h-1zm0 .1h1v1h-1zm-.6 .1h1v1h-1zm.3 0h1v1h-1zm.6 0h1v1h-1zm-.7 .1h1v1h-1zm.5 0h1v1h-1zm-.6 .1h1v1h-1zm.3 .1h1v1h-1zm-.3 .1h1v1h-1zm.5 0h1v1h-1zm.1 0h1v1h-1zm-.8 .1h1v1h-1zm.5 0h1v1h-1z" fill="#78f828"/><path d="M0 0m33.2 82.1h1v1h-1zm.6 0h1v1h-1zm-.1 .1h1v1h-1zm-.1 .1h1v1h-1zm-.4 .1h1v1h-1zm.1 0h1v1h-1zm.1 0h1v1h-1zm0 .1h1v1h-1zm.2 0h1v1h-1zm.2 0h1v1h-1zm-.7 .1h1v1h-1zm.2 0h1v1h-1zm.3 0h1v1h-1zm.4 0h1v1h-1zm-.9 .2h1v1h-1zm.9 0h1v1h-1zm-.7 .1h1v1h-1zm.1 0h1v1h-1zm.3 0h1v1h-1zm-6.3 1.2h1v1h-1zm.2 0h1v1h-1zm.2 0h1v1h-1zm-.6 .1h1v1h-1zm7.5 0h1v1h-1zm0 0h1v1h-1zm-7.5 .1h1v1h-1zm.5 0h1v1h-1zm6.6 .1h1v1h-1zm-.3 .1h1v1h-1zm.8 0h1v1h-1zm-7.1 .1h1v1h-1zm.1 0h1v1h-1zm6.3 0h1v1h-1zm-6.5 .1h1v1h-1zm.2 0h1v1h-1zm0 0h1v1h-1zm.1 0h1v1h-1zm6.4 0h1v1h-1zm-7.2 .1h1v1h-1zm.3 0h1v1h-1zm6.9 0h1v1h-1zm.4 0h1v1h-1zm-7.2 .1h1v1h-1zm-.3 .1h1v1h-1zm.1 0h1v1h-1z" fill="#88f828"/><path d="M0 0m32.7 86h1v1h-1zm-.4 .1h1v1h-1zm.4 0h1v1h-1zm.1 0h1v1h-1zm-.7 .1h1v1h-1zm.3 0h1v1h-1zm0 0h1v1h-1zm.2 0h1v1h-1zm.3 0h1v1h-1zm0 0h1v1h-1zm-.4 .1h1v1h-1zm.4 0h1v1h-1zm-.8 .2h1v1h-1zm0 .1h1v1h-1zm.7 0h1v1h-1zm-.4 .1h1v1h-1zm.3 0h1v1h-1zm-.3 .1h1v1h-1z" fill="#c8f818"/><path d="M0 0m29.6 86.1h1v1h-1zm-.5 .1h1v1h-1zm.1 0h1v1h-1zm.3 0h1v1h-1zm.4 0h1v1h-1zm.1 .1h1v1h-1zm0 0h1v1h-1zm-.5 .2h1v1h-1zm0 0h1v1h-1zm.1 0h1v1h-1zm.3 0h1v1h-1zm-.4 .1h1v1h-1zm.2 0h1v1h-1zm.2 0h1v1h-1zm-.2 .1h1v1h-1zm-.5 .1h1v1h-1zm.3 0h1v1h-1zm.4 0h1v1h-1zm-.7 .1h1v1h-1zm.1 0h1v1h-1zm.2 0h1v1h-1zm.1 0h1v1h-1zm.3 0h1v1h-1zm-.2 .1h1v1h-1z" fill="#d8f818"/><path d="M0 0m33 85.1h1v1h-1zm.7 0h1v1h-1zm-.5 .1h1v1h-1zm-.1 .1h1v1h-1zm.3 0h1v1h-1zm0 .1h1v1h-1zm.2 0h1v1h-1zm.2 0h1v1h-1zm-.7 .1h1v1h-1zm.6 0h1v1h-1zm-.5 .2h1v1h-1zm.6 .2h1v1h-1zm0 .1h1v1h-1z" fill="#e8f818"/><path d="M0 0m30.5 84h1v1h-1zm.4 0h1v1h-1zm0 0h1v1h-1zm.1 0h1v1h-1zm0 .1h1v1h-1zm.3 0h1v1h-1zm.1 0h1v1h-1zm0 0h1v1h-1zm.1 0h1v1h-1zm.2 0h1v1h-1zm-1.5 .1h1v1h-1zm.2 0h1v1h-1zm.1 0h1v1h-1zm.7 0h1v1h-1zm.1 0h1v1h-1zm.2 0h1v1h-1zm.4 0h1v1h-1zm-1.5 .1h1v1h-1zm.1 0h1v1h-1zm.2 0h1v1h-1zm.2 0h1v1h-1zm.3 0h1v1h-1zm-.8 .1h1v1h-1zm.1 0h1v1h-1zm1.1 0h1v1h-1zm.1 0h1v1h-1zm-1.6 .1h1v1h-1zm.2 0h1v1h-1zm.3 0h1v1h-1zm.2 0h1v1h-1zm.4 0h1v1h-1zm.2 0h1v1h-1zm.1 0h1v1h-1zm0 0h1v1h-1zm0 0h1v1h-1zm.1 0h1v1h-1zm.1 0h1v1h-1zm.1 0h1v1h-1zm.2 0h1v1h-1zm-1.8 .1h1v1h-1zm.6 0h1v1h-1zm.7 0h1v1h-1zm0 0h1v1h-1zm-.3 .1h1v1h-1zm0 0h1v1h-1zm.3 0h1v1h-1zm-1.5 .1h1v1h-1zm.4 0h1v1h-1zm.2 0h1v1h-1zm0 0h1v1h-1zm.2 0h1v1h-1zm.7 0h1v1h-1zm.1 0h1v1h-1zm0 0h1v1h-1zm.1 0h1v1h-1zm.1 0h1v1h-1zm.1 0h1v1h-1zm-1.9 .1h1v1h-1zm.8 0h1v1h-1zm.9 0h1v1h-1zm0 0h1v1h-1zm.1 0h1v1h-1zm-.7 .1h1v1h-1zm0 0h1v1h-1z" fill="#e81808"/><path d="M0 0m32.2 82h1v1h-1zm.3 0h1v1h-1zm-2.7 .1h1v1h-1zm.2 .1h1v1h-1zm2.1 0h1v1h-1zm-2.7 .1h1v1h-1zm.3 0h1v1h-1zm-.2 .1h1v1h-1zm2.7 0h1v1h-1zm.2 0h1v1h-1zm-2.8 .1h1v1h-1zm.1 0h1v1h-1zm2.8 0h1v1h-1zm-3.3 .1h1v1h-1zm.3 0h1v1h-1zm2.6 0h1v1h-1zm.4 0h1v1h-1zm.4 0h1v1h-1zm-.3 .1h1v1h-1zm.1 0h1v1h-1zm-2.8 .1h1v1h-1zm2.4 0h1v1h-1zm.6 0h1v1h-1zm-3.8 .1h1v1h-1zm.4 0h1v1h-1zm2.9 0h1v1h-1zm-3.1 .1h1v1h-1zm.1 0h1v1h-1zm.2 0h1v1h-1zm-1.4 .1h1v1h-1zm.2 0h1v1h-1zm4.9 0h1v1h-1zm-4.7 .1h1v1h-1zm.2 0h1v1h-1zm4.3 0h1v1h-1zm.3 0h1v1h-1zm.6 0h1v1h-1zm-.6 .1h1v1h-1zm-4.9 .1h1v1h-1zm.5 .1h1v1h-1zm-.6 .1h1v1h-1zm0 0h1v1h-1zm.4 0h1v1h-1zm5 0h1v1h-1zm-5 .1h1v1h-1zm.1 0h1v1h-1zm4.2 0h1v1h-1zm.3 0h1v1h-1zm.3 0h1v1h-1zm0 0h1v1h-1zm-5.7 .1h1v1h-1zm.8 0h1v1h-1zm0 0h1v1h-1zm4.8 0h1v1h-1zm0 0h1v1h-1zm.2 0h1v1h-1zm-5.8 .1h1v1h-1zm.2 0h1v1h-1zm.6 0h1v1h-1zm.1 0h1v1h-1zm4.2 0h1v1h-1zm-4.6 .1h1v1h-1zm4.7 0h1v1h-1zm-4.3 1h1v1h-1zm-.9 .1h1v1h-1zm.3 0h1v1h-1zm.2 0h1v1h-1zm.3 0h1v1h-1zm-.8 .1h1v1h-1zm0 0h1v1h-1zm.9 0h1v1h-1zm-.3 .2h1v1h-1zm.2 0h1v1h-1zm-.5 .1h1v1h-1zm.4 0h1v1h-1zm.1 0h1v1h-1zm-.2 .1h1v1h-1zm.3 0h1v1h-1zm-.5 .1h1v1h-1zm.2 0h1v1h-1zm.2 0h1v1h-1zm.2 0h1v1h-1zm-.3 .2h1v1h-1zm.2 0h1v1h-1z" fill="#f8e818"/><path d="M0 0m28.4 84h1v1h-1zm.2 0h1v1h-1zm.1 .1h1v1h-1zm.2 0h1v1h-1zm0 0h1v1h-1zm4.7 0h1v1h-1zm-5.3 .1h1v1h-1zm5.1 0h1v1h-1zm.1 0h1v1h-1zm-5.5 .1h1v1h-1zm.3 0h1v1h-1zm4.8 0h1v1h-1zm0 0h1v1h-1zm.1 0h1v1h-1zm-4.7 .1h1v1h-1zm4.5 0h1v1h-1zm.4 0h1v1h-1zm-5.1 .1h1v1h-1zm.4 0h1v1h-1zm.1 0h1v1h-1zm.2 0h1v1h-1zm-.8 .1h1v1h-1zm.4 0h1v1h-1zm.4 0h1v1h-1zm4.1 0h1v1h-1zm.1 0h1v1h-1zm-4.8 .1h1v1h-1zm.5 0h1v1h-1zm5 0h1v1h-1zm-5.8 .1h1v1h-1zm.2 0h1v1h-1zm.2 0h1v1h-1zm0 0h1v1h-1zm.5 0h1v1h-1zm4.4 0h1v1h-1zm0 0h1v1h-1zm.2 0h1v1h-1zm.2 0h1v1h-1zm.1 .1h1v1h-1zm0 0h1v1h-1zm-5.4 .1h1v1h-1zm.1 0h1v1h-1zm.3 0h1v1h-1zm4.8 0h1v1h-1zm0 0h1v1h-1z" fill="#f8c818"/><path d="M0 0m30.9 83h1v1h-1zm.9 0h1v1h-1zm-1.6 .1h1v1h-1zm.4 0h1v1h-1zm.1 0h1v1h-1zm.5 0h1v1h-1zm.2 0h1v1h-1zm.1 0h1v1h-1zm-1.3 .1h1v1h-1zm.2 0h1v1h-1zm.3 0h1v1h-1zm.3 0h1v1h-1zm0 0h1v1h-1zm.2 0h1v1h-1zm.1 0h1v1h-1zm.2 0h1v1h-1zm-1.2 .1h1v1h-1zm.5 0h1v1h-1zm.2 0h1v1h-1zm.4 0h1v1h-1zm0 0h1v1h-1zm0 0h1v1h-1zm.3 0h1v1h-1zm.3 0h1v1h-1zm-1.6 .1h1v1h-1zm.2 0h1v1h-1zm.1 0h1v1h-1zm.3 0h1v1h-1zm0 0h1v1h-1zm.1 0h1v1h-1zm.2 0h1v1h-1zm-1.2 .1h1v1h-1zm.4 0h1v1h-1zm.3 0h1v1h-1zm.1 0h1v1h-1zm.4 0h1v1h-1zm.1 0h1v1h-1zm.1 0h1v1h-1zm0 0h1v1h-1zm.1 0h1v1h-1zm0 0h1v1h-1zm.4 0h1v1h-1zm-1.8 .1h1v1h-1zm.2 0h1v1h-1zm.2 0h1v1h-1zm.3 0h1v1h-1zm.2 0h1v1h-1zm.2 0h1v1h-1zm0 0h1v1h-1zm.1 0h1v1h-1zm.6 0h1v1h-1zm-1.8 .1h1v1h-1zm.2 0h1v1h-1zm.6 0h1v1h-1zm.3 0h1v1h-1zm.1 0h1v1h-1zm.3 0h1v1h-1zm-1.6 .1h1v1h-1zm.1 0h1v1h-1zm.1 0h1v1h-1zm.2 0h1v1h-1zm.1 0h1v1h-1zm.2 0h1v1h-1zm.4 0h1v1h-1zm0 0h1v1h-1zm.1 0h1v1h-1zm.1 0h1v1h-1zm.1 0h1v1h-1zm-1.5 .1h1v1h-1zm.1 0h1v1h-1zm.3 0h1v1h-1zm.2 0h1v1h-1zm.4 0h1v1h-1zm.1 0h1v1h-1zm.1 0h1v1h-1zm.1 0h1v1h-1zm.5 0h1v1h-1zm.1 0h1v1h-1zm-1.5 .1h1v1h-1zm-.4 1h1v1h-1zm.2 0h1v1h-1zm.1 0h1v1h-1zm.4 0h1v1h-1zm-.1 .1h1v1h-1zm.3 0h1v1h-1zm-.6 .1h1v1h-1zm.2 0h1v1h-1zm.3 0h1v1h-1zm0 0h1v1h-1zm0 0h1v1h-1zm-.7 .1h1v1h-1zm.1 0h1v1h-1zm.7 0h1v1h-1zm0 0h1v1h-1zm-.4 .1h1v1h-1zm.2 0h1v1h-1zm.2 0h1v1h-1zm0 0h1v1h-1zm-.4 .1h1v1h-1zm.1 0h1v1h-1zm.3 0h1v1h-1zm-.8 .1h1v1h-1zm.7 0h1v1h-1zm-.3 .1h1v1h-1zm.5 0h1v1h-1zm-.7 .1h1v1h-1zm0 0h1v1h-1zm.1 0h1v1h-1zm.1 0h1v1h-1zm.2 0h1v1h-1zm.2 0h1v1h-1zm-.7 .1h1v1h-1zm.1 0h1v1h-1zm.3 0h1v1h-1z" fill="#e84808"/><path d="M0 0m30.2 86h1v1h-1zm.2 0h1v1h-1zm.7 0h1v1h-1zm.5 0h1v1h-1zm.2 0h1v1h-1zm.1 0h1v1h-1zm-1.7 .1h1v1h-1zm.4 0h1v1h-1zm0 0h1v1h-1zm0 0h1v1h-1zm1.1 0h1v1h-1zm-1.7 .1h1v1h-1zm.3 0h1v1h-1zm1.1 0h1v1h-1zm.3 0h1v1h-1zm-1.5 .1h1v1h-1zm.4 0h1v1h-1zm.1 0h1v1h-1zm.1 0h1v1h-1zm-.7 .1h1v1h-1zm0 0h1v1h-1zm.1 0h1v1h-1zm.4 0h1v1h-1zm.2 0h1v1h-1zm1.1 0h1v1h-1zm-1.8 .1h1v1h-1zm1 0h1v1h-1zm.5 0h1v1h-1zm0 0h1v1h-1zm-.8 .2h1v1h-1zm0 0h1v1h-1zm.1 0h1v1h-1zm.4 0h1v1h-1zm.5 0h1v1h-1zm-1.8 .1h1v1h-1zm1.5 0h1v1h-1zm-1.3 .1h1v1h-1zm.1 0h1v1h-1zm.1 0h1v1h-1zm0 0h1v1h-1zm.5 0h1v1h-1zm.3 0h1v1h-1zm.1 0h1v1h-1z" fill="#f8d818"/><path d="M0 0m31.1 85.1h1v1h-1zm.2 0h1v1h-1zm.2 0h1v1h-1zm-.4 .1h1v1h-1zm.2 0h1v1h-1zm.4 0h1v1h-1zm-.7 .1h1v1h-1zm0 0h1v1h-1zm0 .1h1v1h-1zm0 0h1v1h-1zm.3 0h1v1h-1zm-.3 .1h1v1h-1zm.1 0h1v1h-1zm.3 0h1v1h-1zm.3 0h1v1h-1zm0 0h1v1h-1zm-.6 .1h1v1h-1zm0 0h1v1h-1zm.4 0h1v1h-1zm.2 0h1v1h-1zm-.7 .1h1v1h-1zm.4 0h1v1h-1zm.3 0h1v1h-1zm.2 0h1v1h-1zm-.9 .1h1v1h-1zm0 0h1v1h-1zm.2 0h1v1h-1zm.6 0h1v1h-1zm-.7 .1h1v1h-1zm.4 0h1v1h-1zm.1 0h1v1h-1zm0 0h1v1h-1zm.3 0h1v1h-1zm-.9 .1h1v1h-1zm.4 0h1v1h-1zm.1 0h1v1h-1z" fill="#e85808"/><path d="M0 0m30.4 82h1v1h-1zm.1 0h1v1h-1zm.1 0h1v1h-1zm-.4 .1h1v1h-1zm.1 0h1v1h-1zm1.4 0h1v1h-1zm-1.4 .1h1v1h-1zm.6 0h1v1h-1zm.1 0h1v1h-1zm0 0h1v1h-1zm.1 0h1v1h-1zm-.8 .1h1v1h-1zm.7 0h1v1h-1zm.5 0h1v1h-1zm-1.5 .1h1v1h-1zm1 0h1v1h-1zm0 0h1v1h-1zm.4 0h1v1h-1zm.2 0h1v1h-1zm.2 0h1v1h-1zm-1.3 .1h1v1h-1zm.7 0h1v1h-1zm.6 0h1v1h-1zm0 0h1v1h-1zm-1.6 .1h1v1h-1zm.1 0h1v1h-1zm.1 0h1v1h-1zm.8 0h1v1h-1zm.4 0h1v1h-1zm.3 0h1v1h-1zm0 0h1v1h-1zm-.9 .1h1v1h-1zm.6 0h1v1h-1zm-1.5 .1h1v1h-1zm.5 0h1v1h-1zm.2 0h1v1h-1zm.4 0h1v1h-1zm.7 0h1v1h-1zm-1.7 .1h1v1h-1zm0 0h1v1h-1zm.4 0h1v1h-1zm.4 0h1v1h-1zm.1 0h1v1h-1zm-.7 .1h1v1h-1zm1 0h1v1h-1z" fill="#f8b808"/><path d="M0 0m32.3 85h1v1h-1zm.1 0h1v1h-1zm-.4 .1h1v1h-1zm0 0h1v1h-1zm.7 .1h1v1h-1zm.2 0h1v1h-1zm-.6 .1h1v1h-1zm-.3 .1h1v1h-1zm.1 0h1v1h-1zm.2 0h1v1h-1zm.2 0h1v1h-1zm.1 0h1v1h-1zm.4 0h1v1h-1zm-.3 .1h1v1h-1zm.1 0h1v1h-1zm-.7 .1h1v1h-1zm.3 0h1v1h-1zm0 0h1v1h-1zm.2 0h1v1h-1zm-.3 .1h1v1h-1zm.6 0h1v1h-1zm.1 0h1v1h-1zm-.3 .1h1v1h-1zm.3 0h1v1h-1zm-.5 .1h1v1h-1z" fill="#f89808"/><path d="M0 0m29.3 83.1h1v1h-1zm.1 0h1v1h-1zm.6 0h1v1h-1zm2.2 0h1v1h-1zm.1 0h1v1h-1zm.2 .1h1v1h-1zm.4 0h1v1h-1zm0 0h1v1h-1zm.1 0h1v1h-1zm-.5 .1h1v1h-1zm.1 0h1v1h-1zm.4 0h1v1h-1zm-3.9 .1h1v1h-1zm.2 0h1v1h-1zm3.2 0h1v1h-1zm-2.7 .1h1v1h-1zm-.8 .1h1v1h-1zm.9 0h1v1h-1zm2.4 0h1v1h-1zm.1 0h1v1h-1zm.5 0h1v1h-1zm-3.5 .1h1v1h-1zm.3 0h1v1h-1zm.1 0h1v1h-1zm0 0h1v1h-1zm.1 0h1v1h-1zm.1 0h1v1h-1zm2.6 0h1v1h-1zm.1 0h1v1h-1zm-3.6 .1h1v1h-1zm.9 0h1v1h-1zm2.6 0h1v1h-1zm-3.1 .1h1v1h-1zm2.5 0h1v1h-1zm0 0h1v1h-1zm.5 0h1v1h-1zm0 0h1v1h-1zm-3.3 .1h1v1h-1zm.3 0h1v1h-1zm3.2 0h1v1h-1zm.2 0h1v1h-1zm.1 0h1v1h-1zm-3 1h1v1h-1zm0 0h1v1h-1zm-.5 .1h1v1h-1zm.3 0h1v1h-1zm.2 .1h1v1h-1zm-1 .1h1v1h-1zm.4 0h1v1h-1zm.1 0h1v1h-1zm0 0h1v1h-1zm.2 0h1v1h-1zm.2 0h1v1h-1zm-.8 .1h1v1h-1zm.2 0h1v1h-1zm-.3 .1h1v1h-1zm.6 0h1v1h-1zm.2 0h1v1h-1zm-.7 .2h1v1h-1zm.1 .2h1v1h-1zm.1 0h1v1h-1zm.1 0h1v1h-1zm.5 0h1v1h-1zm0 0h1v1h-1zm-.5 .1h1v1h-1zm.3 0h1v1h-1z" fill="#f88808"/><path d="M0 0m29.2 84.1h1v1h-1zm0 0h1v1h-1zm.3 0h1v1h-1zm.4 0h1v1h-1zm0 0h1v1h-1zm-.7 .1h1v1h-1zm.3 0h1v1h-1zm0 0h1v1h-1zm-.2 .1h1v1h-1zm-.2 .1h1v1h-1zm.3 0h1v1h-1zm.3 0h1v1h-1zm0 0h1v1h-1zm0 0h1v1h-1zm-.4 .1h1v1h-1zm.1 0h1v1h-1zm-.3 .1h1v1h-1zm.1 0h1v1h-1zm.4 0h1v1h-1zm-.6 .1h1v1h-1zm.1 0h1v1h-1zm.1 0h1v1h-1zm.2 0h1v1h-1zm.2 0h1v1h-1zm.1 0h1v1h-1zm-.3 .1h1v1h-1zm.2 0h1v1h-1zm.2 0h1v1h-1zm-.7 .2h1v1h-1zm.2 0h1v1h-1zm.3 0h1v1h-1z" fill="#f85808"/><path d="M0 0m32.1 84h1v1h-1zm.8 0h1v1h-1zm-.7 .1h1v1h-1zm.2 0h1v1h-1zm.2 0h1v1h-1zm-.5 .1h1v1h-1zm0 0h1v1h-1zm0 0h1v1h-1zm.3 0h1v1h-1zm.1 0h1v1h-1zm.1 0h1v1h-1zm.3 0h1v1h-1zm.1 0h1v1h-1zm-.9 .1h1v1h-1zm.3 0h1v1h-1zm.3 0h1v1h-1zm.2 0h1v1h-1zm.1 0h1v1h-1zm-.4 .2h1v1h-1zm0 0h1v1h-1zm-.4 .1h1v1h-1zm.1 0h1v1h-1zm.2 0h1v1h-1zm-.1 .1h1v1h-1zm-.3 .1h1v1h-1zm.6 0h1v1h-1zm.3 .1h1v1h-1zm-.2 .1h1v1h-1z" fill="#f86808"/></g>
<rect x="21.1" y="229.5" width="110.9" height="110.39999999999998" fill="none" stroke="#4a4a4a" stroke-width="1"/>
<rect x="40.4" y="244.8" width="67.9" height="37.39999999999998" fill="none" stroke="#3a3a3a" stroke-width="1"/>
<line x1="19.3" y1="232.7" x2="21.1" y2="232.7" stroke="#4a4a4a" stroke-width="0.7"/>
<line x1="19.3" y1="239.6" x2="21.1" y2="239.6" stroke="#4a4a4a" stroke-width="0.7"/>
<line x1="19.3" y1="247.5" x2="21.1" y2="247.5" stroke="#4a4a4a" stroke-width="0.7"/>
<line x1="19.3" y1="252.0" x2="21.1" y2="252.0" stroke="#4a4a4a" stroke-width="0.7"/>
<line x1="19.3" y1="256.0" x2="21.1" y2="256.0" stroke="#4a4a4a" stroke-width="0.7"/>
<line x1="19.3" y1="259.5" x2="21.1" y2="259.5" stroke="#4a4a4a" stroke-width="0.7"/>
<line x1="19.3" y1="262.5" x2="21.1" y2="262.5" stroke="#4a4a4a" stroke-width="0.7"/>
<line x1="19.3" y1="266.2" x2="21.1" y2="266.2" stroke="#4a4a4a" stroke-width="0.7"/>
<line x1="19.3" y1="275.5" x2="21.1" y2="275.5" stroke="#4a4a4a" stroke-width="0.7"/>
<line x1="19.3" y1="279.5" x2="21.1" y2="279.5" stroke="#4a4a4a" stroke-width="0.7"/>
<line x1="19.3" y1="284.5" x2="21.1" y2="284.5" stroke="#4a4a4a" stroke-width="0.7"/>
<line x1="19.3" y1="287.5" x2="21.1" y2="287.5" stroke="#4a4a4a" stroke-width="0.7"/>
<line x1="19.3" y1="291.5" x2="21.1" y2="291.5" stroke="#4a4a4a" stroke-width="0.7"/>
<line x1="19.3" y1="296.6" x2="21.1" y2="296.6" stroke="#4a4a4a" stroke-width="0.7"/>
<line x1="19.3" y1="305.5" x2="21.1" y2="305.5" stroke="#4a4a4a" stroke-width="0.7"/>
<line x1="19.3" y1="309.5" x2="21.1" y2="309.5" stroke="#4a4a4a" stroke-width="0.7"/>
<line x1="19.3" y1="318.5" x2="21.1" y2="318.5" stroke="#4a4a4a" stroke-width="0.7"/>
<line x1="19.3" y1="324.5" x2="21.1" y2="324.5" stroke="#4a4a4a" stroke-width="0.7"/>
<line x1="19.3" y1="327.5" x2="21.1" y2="327.5" stroke="#4a4a4a" stroke-width="0.7"/>
<line x1="19.3" y1="333.0" x2="21.1" y2="333.0" stroke="#4a4a4a" stroke-width="0.7"/>
<line x1="18.1" y1="239.6" x2="21.1" y2="239.6" stroke="#4a4a4a" stroke-width="0.9"/>
<line x1="18.1" y1="266.2" x2="21.1" y2="266.2" stroke="#4a4a4a" stroke-width="0.9"/>
<line x1="18.1" y1="296.6" x2="21.1" y2="296.6" stroke="#4a4a4a" stroke-width="0.9"/>
<line x1="18.1" y1="333.0" x2="21.1" y2="333.0" stroke="#4a4a4a" stroke-width="0.9"/>
<rect x="18.5" y="312.0" width="2.6" height="3.5" fill="#222"/>
<line x1="22.1" y1="339.9" x2="22.1" y2="341.5" stroke="#4a4a4a" stroke-width="0.7"/>
<line x1="26.2" y1="339.9" x2="26.2" y2="341.5" stroke="#4a4a4a" stroke-width="0.7"/>
<line x1="30.3" y1="339.9" x2="30.3" y2="341.5" stroke="#4a4a4a" stroke-width="0.7"/>
<line x1="34.4" y1="339.9" x2="34.4" y2="341.5" stroke="#4a4a4a" stroke-width="0.7"/>
<line x1="38.5" y1="339.9" x2="38.5" y2="341.5" stroke="#4a4a4a" stroke-width="0.7"/>
<line x1="42.6" y1="339.9" x2="42.6" y2="341.5" stroke="#4a4a4a" stroke-width="0.7"/>
<line x1="46.7" y1="339.9" x2="46.7" y2="341.5" stroke="#4a4a4a" stroke-width="0.7"/>
<line x1="50.8" y1="339.9" x2="50.8" y2="341.5" stroke="#4a4a4a" stroke-width="0.7"/>
<line x1="54.9" y1="339.9" x2="54.9" y2="341.5" stroke="#4a4a4a" stroke-width="0.7"/>
<line x1="59.0" y1="339.9" x2="59.0" y2="341.5" stroke="#4a4a4a" stroke-width="0.7"/>
<line x1="63.1" y1="339.9" x2="63.1" y2="341.5" stroke="#4a4a4a" stroke-width="0.7"/>
<line x1="67.2" y1="339.9" x2="67.2" y2="341.5" stroke="#4a4a4a" stroke-width="0.7"/>
<line x1="71.3" y1="339.9" x2="71.3" y2="341.5" stroke="#4a4a4a" stroke-width="0.7"/>
<line x1="75.4" y1="339.9" x2="75.4" y2="341.5" stroke="#4a4a4a" stroke-width="0.7"/>
<line x1="79.5" y1="339.9" x2="79.5" y2="341.5" stroke="#4a4a4a" stroke-width="0.7"/>
<line x1="83.6" y1="339.9" x2="83.6" y2="341.5" stroke="#4a4a4a" stroke-width="0.7"/>
<line x1="87.7" y1="339.9" x2="87.7" y2="341.5" stroke="#4a4a4a" stroke-width="0.7"/>
<line x1="91.8" y1="339.9" x2="91.8" y2="341.5" stroke="#4a4a4a" stroke-width="0.7"/>
<line x1="95.9" y1="339.9" x2="95.9" y2="341.5" stroke="#4a4a4a" stroke-width="0.7"/>
<line x1="100.0" y1="339.9" x2="100.0" y2="341.5" stroke="#4a4a4a" stroke-width="0.7"/>
<line x1="104.1" y1="339.9" x2="104.1" y2="341.5" stroke="#4a4a4a" stroke-width="0.7"/>
<line x1="108.2" y1="339.9" x2="108.2" y2="341.5" stroke="#4a4a4a" stroke-width="0.7"/>
<line x1="112.3" y1="339.9" x2="112.3" y2="341.5" stroke="#4a4a4a" stroke-width="0.7"/>
<line x1="116.4" y1="339.9" x2="116.4" y2="341.5" stroke="#4a4a4a" stroke-width="0.7"/>
<line x1="120.5" y1="339.9" x2="120.5" y2="341.5" stroke="#4a4a4a" stroke-width="0.7"/>
<line x1="124.6" y1="339.9" x2="124.6" y2="341.5" stroke="#4a4a4a" stroke-width="0.7"/>
<line x1="128.7" y1="339.9" x2="128.7" y2="341.5" stroke="#4a4a4a" stroke-width="0.7"/>
<line x1="42.1" y1="339.9" x2="42.1" y2="342.7" stroke="#4a4a4a" stroke-width="0.9"/>
<line x1="62.6" y1="339.9" x2="62.6" y2="342.7" stroke="#4a4a4a" stroke-width="0.9"/>
<line x1="83.1" y1="339.9" x2="83.1" y2="342.7" stroke="#4a4a4a" stroke-width="0.9"/>
<line x1="103.6" y1="339.9" x2="103.6" y2="342.7" stroke="#4a4a4a" stroke-width="0.9"/>
<line x1="124.1" y1="339.9" x2="124.1" y2="342.7" stroke="#4a4a4a" stroke-width="0.9"/>
<rect x="153.4" y="228.8" width="111.20000000000002" height="110.09999999999997" fill="none" stroke="#4a4a4a" stroke-width="1"/>
<rect x="172.6" y="244.2" width="67.70000000000002" height="37.0" fill="none" stroke="#3a3a3a" stroke-width="1"/>
<line x1="151.6" y1="232.0" x2="153.4" y2="232.0" stroke="#4a4a4a" stroke-width="0.7"/>
<line x1="151.6" y1="238.9" x2="153.4" y2="238.9" stroke="#4a4a4a" stroke-width="0.7"/>
<line x1="151.6" y1="246.8" x2="153.4" y2="246.8" stroke="#4a4a4a" stroke-width="0.7"/>
<line x1="151.6" y1="251.3" x2="153.4" y2="251.3" stroke="#4a4a4a" stroke-width="0.7"/>
<line x1="151.6" y1="255.3" x2="153.4" y2="255.3" stroke="#4a4a4a" stroke-width="0.7"/>
<line x1="151.6" y1="258.8" x2="153.4" y2="258.8" stroke="#4a4a4a" stroke-width="0.7"/>
<line x1="151.6" y1="261.8" x2="153.4" y2="261.8" stroke="#4a4a4a" stroke-width="0.7"/>
<line x1="151.6" y1="265.5" x2="153.4" y2="265.5" stroke="#4a4a4a" stroke-width="0.7"/>
<line x1="151.6" y1="274.8" x2="153.4" y2="274.8" stroke="#4a4a4a" stroke-width="0.7"/>
<line x1="151.6" y1="278.8" x2="153.4" y2="278.8" stroke="#4a4a4a" stroke-width="0.7"/>
<line x1="151.6" y1="283.8" x2="153.4" y2="283.8" stroke="#4a4a4a" stroke-width="0.7"/>
<line x1="151.6" y1="286.8" x2="153.4" y2="286.8" stroke="#4a4a4a" stroke-width="0.7"/>
<line x1="151.6" y1="290.8" x2="153.4" y2="290.8" stroke="#4a4a4a" stroke-width="0.7"/>
<line x1="151.6" y1="295.9" x2="153.4" y2="295.9" stroke="#4a4a4a" stroke-width="0.7"/>
<line x1="151.6" y1="304.8" x2="153.4" y2="304.8" stroke="#4a4a4a" stroke-width="0.7"/>
<line x1="151.6" y1="308.8" x2="153.4" y2="308.8" stroke="#4a4a4a" stroke-width="0.7"/>
<line x1="151.6" y1="317.8" x2="153.4" y2="317.8" stroke="#4a4a4a" stroke-width="0.7"/>
<line x1="151.6" y1="323.8" x2="153.4" y2="323.8" stroke="#4a4a4a" stroke-width="0.7"/>
<line x1="151.6" y1="326.8" x2="153.4" y2="326.8" stroke="#4a4a4a" stroke-width="0.7"/>
<line x1="151.6" y1="332.3" x2="153.4" y2="332.3" stroke="#4a4a4a" stroke-width="0.7"/>
<line x1="150.4" y1="238.9" x2="153.4" y2="238.9" stroke="#4a4a4a" stroke-width="0.9"/>
<line x1="150.4" y1="265.5" x2="153.4" y2="265.5" stroke="#4a4a4a" stroke-width="0.9"/>
<line x1="150.4" y1="295.9" x2="153.4" y2="295.9" stroke="#4a4a4a" stroke-width="0.9"/>
<line x1="150.4" y1="332.3" x2="153.4" y2="332.3" stroke="#4a4a4a" stroke-width="0.9"/>
<rect x="150.8" y="311.3" width="2.6" height="3.5" fill="#222"/>
<line x1="154.4" y1="338.9" x2="154.4" y2="340.5" stroke="#4a4a4a" stroke-width="0.7"/>
<line x1="158.5" y1="338.9" x2="158.5" y2="340.5" stroke="#4a4a4a" stroke-width="0.7"/>
<line x1="162.6" y1="338.9" x2="162.6" y2="340.5" stroke="#4a4a4a" stroke-width="0.7"/>
<line x1="166.7" y1="338.9" x2="166.7" y2="340.5" stroke="#4a4a4a" stroke-width="0.7"/>
<line x1="170.8" y1="338.9" x2="170.8" y2="340.5" stroke="#4a4a4a" stroke-width="0.7"/>
<line x1="174.9" y1="338.9" x2="174.9" y2="340.5" stroke="#4a4a4a" stroke-width="0.7"/>
<line x1="179.0" y1="338.9" x2="179.0" y2="340.5" stroke="#4a4a4a" stroke-width="0.7"/>
<line x1="183.1" y1="338.9" x2="183.1" y2="340.5" stroke="#4a4a4a" stroke-width="0.7"/>
<line x1="187.2" y1="338.9" x2="187.2" y2="340.5" stroke="#4a4a4a" stroke-width="0.7"/>
<line x1="191.3" y1="338.9" x2="191.3" y2="340.5" stroke="#4a4a4a" stroke-width="0.7"/>
<line x1="195.4" y1="338.9" x2="195.4" y2="340.5" stroke="#4a4a4a" stroke-width="0.7"/>
<line x1="199.5" y1="338.9" x2="199.5" y2="340.5" stroke="#4a4a4a" stroke-width="0.7"/>
<line x1="203.6" y1="338.9" x2="203.6" y2="340.5" stroke="#4a4a4a" stroke-width="0.7"/>
<line x1="207.7" y1="338.9" x2="207.7" y2="340.5" stroke="#4a4a4a" stroke-width="0.7"/>
<line x1="211.8" y1="338.9" x2="211.8" y2="340.5" stroke="#4a4a4a" stroke-width="0.7"/>
<line x1="215.9" y1="338.9" x2="215.9" y2="340.5" stroke="#4a4a4a" stroke-width="0.7"/>
<line x1="220.0" y1="338.9" x2="220.0" y2="340.5" stroke="#4a4a4a" stroke-width="0.7"/>
<line x1="224.1" y1="338.9" x2="224.1" y2="340.5" stroke="#4a4a4a" stroke-width="0.7"/>
<line x1="228.2" y1="338.9" x2="228.2" y2="340.5" stroke="#4a4a4a" stroke-width="0.7"/>
<line x1="232.3" y1="338.9" x2="232.3" y2="340.5" stroke="#4a4a4a" stroke-width="0.7"/>
<line x1="236.4" y1="338.9" x2="236.4" y2="340.5" stroke="#4a4a4a" stroke-width="0.7"/>
<line x1="240.5" y1="338.9" x2="240.5" y2="340.5" stroke="#4a4a4a" stroke-width="0.7"/>
<line x1="244.6" y1="338.9" x2="244.6" y2="340.5" stroke="#4a4a4a" stroke-width="0.7"/>
<line x1="248.7" y1="338.9" x2="248.7" y2="340.5" stroke="#4a4a4a" stroke-width="0.7"/>
<line x1="252.8" y1="338.9" x2="252.8" y2="340.5" stroke="#4a4a4a" stroke-width="0.7"/>
<line x1="256.9" y1="338.9" x2="256.9" y2="340.5" stroke="#4a4a4a" stroke-width="0.7"/>
<line x1="261.0" y1="338.9" x2="261.0" y2="340.5" stroke="#4a4a4a" stroke-width="0.7"/>
<line x1="174.4" y1="338.9" x2="174.4" y2="341.7" stroke="#4a4a4a" stroke-width="0.9"/>
<line x1="194.9" y1="338.9" x2="194.9" y2="341.7" stroke="#4a4a4a" stroke-width="0.9"/>
<line x1="215.4" y1="338.9" x2="215.4" y2="341.7" stroke="#4a4a4a" stroke-width="0.9"/>
<line x1="235.9" y1="338.9" x2="235.9" y2="341.7" stroke="#4a4a4a" stroke-width="0.9"/>
<line x1="256.4" y1="338.9" x2="256.4" y2="341.7" stroke="#4a4a4a" stroke-width="0.9"/>
<text x="21.6" y="225.2" font-size="12" textLength="93.8" lengthAdjust="spacingAndGlyphs" fill="#1a1a1a">Control Liposome</text>
<text x="153.0" y="224.4" font-size="12" textLength="65.8" lengthAdjust="spacingAndGlyphs" fill="#1a1a1a">Chlodronate</text>
<text x="41.8" y="241.9" font-size="12" textLength="34.6" lengthAdjust="spacingAndGlyphs" fill="#1a1a1a">36.7%</text>
<text x="172.7" y="240.4" font-size="12" textLength="34.6" lengthAdjust="spacingAndGlyphs" fill="#1a1a1a">8.23%</text>
<text transform="translate(12.2,336.8) rotate(-90)" font-size="12" fill="#1a1a1a" textLength="36.3" lengthAdjust="spacingAndGlyphs">CD11b</text>
<line x1="7.6" y1="294.4" x2="7.6" y2="271" stroke="#1a1a1a" stroke-width="1.1"/>
<polygon points="7.6,267.6 5.8,272.2 9.4,272.2" fill="#1a1a1a"/>
<text x="40.5" y="358.7" font-size="12" textLength="36" lengthAdjust="spacingAndGlyphs" fill="#1a1a1a">FSC-A</text>
<line x1="80.2" y1="354.2" x2="102.5" y2="354.2" stroke="#1a1a1a" stroke-width="1.1"/>
<polygon points="106.2,354.2 101.6,352.4 101.6,356.0" fill="#1a1a1a"/>
<text x="4.0" y="385.4" font-size="15" fill="#111">D</text>
<line x1="40.6" y1="389.8" x2="40.6" y2="518.5" stroke="#1c1c1c" stroke-width="1.35"/>
<line x1="37.8" y1="518.0" x2="40.6" y2="518.0" stroke="#1c1c1c" stroke-width="1.0"/>
<text x="37.4" y="520.8" font-size="8.0" text-anchor="end" font-weight="bold" fill="#111">0</text>
<line x1="37.8" y1="492.46" x2="40.6" y2="492.46" stroke="#1c1c1c" stroke-width="1.0"/>
<text x="37.4" y="495.26" font-size="8.0" text-anchor="end" font-weight="bold" fill="#111">200</text>
<line x1="37.8" y1="466.92" x2="40.6" y2="466.92" stroke="#1c1c1c" stroke-width="1.0"/>
<text x="37.4" y="469.72" font-size="8.0" text-anchor="end" font-weight="bold" fill="#111">400</text>
<line x1="37.8" y1="441.38" x2="40.6" y2="441.38" stroke="#1c1c1c" stroke-width="1.0"/>
<text x="37.4" y="444.18" font-size="8.0" text-anchor="end" font-weight="bold" fill="#111">600</text>
<line x1="37.8" y1="415.84000000000003" x2="40.6" y2="415.84000000000003" stroke="#1c1c1c" stroke-width="1.0"/>
<text x="37.4" y="418.64000000000004" font-size="8.0" text-anchor="end" font-weight="bold" fill="#111">800</text>
<line x1="37.8" y1="390.3" x2="40.6" y2="390.3" stroke="#1c1c1c" stroke-width="1.0"/>
<text x="37.4" y="393.1" font-size="8.0" text-anchor="end" font-weight="bold" fill="#111">1000</text>
<line x1="40.6" y1="518.0" x2="169.8" y2="518.0" stroke="#1c1c1c" stroke-width="1.35"/>
<line x1="48.75" y1="518.0" x2="48.75" y2="520.6" stroke="#1c1c1c" stroke-width="1.0"/>
<text x="48.45" y="533.2" font-size="10.4" text-anchor="middle" fill="#111">0</text>
<line x1="64.89285714285714" y1="518.0" x2="64.89285714285714" y2="520.6" stroke="#1c1c1c" stroke-width="1.0"/>
<text x="64.59285714285714" y="533.2" font-size="10.4" text-anchor="middle" fill="#111">2</text>
<line x1="81.03571428571428" y1="518.0" x2="81.03571428571428" y2="520.6" stroke="#1c1c1c" stroke-width="1.0"/>
<text x="80.73571428571428" y="533.2" font-size="10.4" text-anchor="middle" fill="#111">4</text>
<line x1="97.17857142857143" y1="518.0" x2="97.17857142857143" y2="520.6" stroke="#1c1c1c" stroke-width="1.0"/>
<text x="96.87857142857143" y="533.2" font-size="10.4" text-anchor="middle" fill="#111">6</text>
<line x1="113.32142857142857" y1="518.0" x2="113.32142857142857" y2="520.6" stroke="#1c1c1c" stroke-width="1.0"/>
<text x="113.02142857142857" y="533.2" font-size="10.4" text-anchor="middle" fill="#111">8</text>
<line x1="129.46428571428572" y1="518.0" x2="129.46428571428572" y2="520.6" stroke="#1c1c1c" stroke-width="1.0"/>
<text x="129.1642857142857" y="533.2" font-size="10.4" text-anchor="middle" fill="#111">10</text>
<line x1="145.60714285714286" y1="518.0" x2="145.60714285714286" y2="520.6" stroke="#1c1c1c" stroke-width="1.0"/>
<text x="145.30714285714285" y="533.2" font-size="10.4" text-anchor="middle" fill="#111">12</text>
<line x1="161.75" y1="518.0" x2="161.75" y2="520.6" stroke="#1c1c1c" stroke-width="1.0"/>
<text x="161.45" y="533.2" font-size="10.4" text-anchor="middle" fill="#111">14</text>
<text x="11.0" y="532.9" font-size="10.8" textLength="27" lengthAdjust="spacingAndGlyphs" fill="#111">Days:</text>
<text transform="translate(17.6,510.4) rotate(-90)" font-size="10.2" fill="#111" textLength="93.8" lengthAdjust="spacingAndGlyphs">Tumor volume (mm<tspan font-size="6.5" dy="-3.5">3</tspan><tspan dy="3.5">)</tspan></text>
<polyline points="48.75,514.50 64.89,507.50 81.04,502.00 97.18,495.00 113.32,483.75 129.46,457.50 145.61,448.30 161.75,420.30" fill="none" stroke="#ef7a2e" stroke-width="1.0"/>
<line x1="48.75" y1="513.5" x2="48.75" y2="515.5" stroke="#ef7a2e" stroke-width="1.5"/>
<line x1="46.55" y1="513.5" x2="50.95" y2="513.5" stroke="#ef7a2e" stroke-width="1.5"/>
<line x1="46.55" y1="515.5" x2="50.95" y2="515.5" stroke="#ef7a2e" stroke-width="1.5"/>
<rect x="46.65" y="512.40" width="4.2" height="4.2" fill="#ef7a2e"/>
<line x1="64.89285714285714" y1="505.5" x2="64.89285714285714" y2="509.5" stroke="#ef7a2e" stroke-width="1.5"/>
<line x1="62.692857142857136" y1="505.5" x2="67.09285714285714" y2="505.5" stroke="#ef7a2e" stroke-width="1.5"/>
<line x1="62.692857142857136" y1="509.5" x2="67.09285714285714" y2="509.5" stroke="#ef7a2e" stroke-width="1.5"/>
<rect x="62.79" y="505.40" width="4.2" height="4.2" fill="#ef7a2e"/>
<line x1="81.03571428571428" y1="499.5" x2="81.03571428571428" y2="504.5" stroke="#ef7a2e" stroke-width="1.5"/>
<line x1="78.83571428571427" y1="499.5" x2="83.23571428571428" y2="499.5" stroke="#ef7a2e" stroke-width="1.5"/>
<line x1="78.83571428571427" y1="504.5" x2="83.23571428571428" y2="504.5" stroke="#ef7a2e" stroke-width="1.5"/>
<rect x="78.94" y="499.90" width="4.2" height="4.2" fill="#ef7a2e"/>
<line x1="97.17857142857143" y1="490.5" x2="97.17857142857143" y2="499.5" stroke="#ef7a2e" stroke-width="1.5"/>
<line x1="94.97857142857143" y1="490.5" x2="99.37857142857143" y2="490.5" stroke="#ef7a2e" stroke-width="1.5"/>
<line x1="94.97857142857143" y1="499.5" x2="99.37857142857143" y2="499.5" stroke="#ef7a2e" stroke-width="1.5"/>
<rect x="95.08" y="492.90" width="4.2" height="4.2" fill="#ef7a2e"/>
<line x1="113.32142857142857" y1="477.5" x2="113.32142857142857" y2="490.0" stroke="#ef7a2e" stroke-width="1.5"/>
<line x1="111.12142857142857" y1="477.5" x2="115.52142857142857" y2="477.5" stroke="#ef7a2e" stroke-width="1.5"/>
<line x1="111.12142857142857" y1="490.0" x2="115.52142857142857" y2="490.0" stroke="#ef7a2e" stroke-width="1.5"/>
<rect x="111.22" y="481.65" width="4.2" height="4.2" fill="#ef7a2e"/>
<line x1="129.46428571428572" y1="444.3" x2="129.46428571428572" y2="470.7" stroke="#ef7a2e" stroke-width="1.5"/>
<line x1="127.26428571428572" y1="444.3" x2="131.6642857142857" y2="444.3" stroke="#ef7a2e" stroke-width="1.5"/>
<line x1="127.26428571428572" y1="470.7" x2="131.6642857142857" y2="470.7" stroke="#ef7a2e" stroke-width="1.5"/>
<rect x="127.36" y="455.40" width="4.2" height="4.2" fill="#ef7a2e"/>
<line x1="145.60714285714286" y1="434.1" x2="145.60714285714286" y2="462.5" stroke="#ef7a2e" stroke-width="1.5"/>
<line x1="143.40714285714287" y1="434.1" x2="147.80714285714285" y2="434.1" stroke="#ef7a2e" stroke-width="1.5"/>
<line x1="143.40714285714287" y1="462.5" x2="147.80714285714285" y2="462.5" stroke="#ef7a2e" stroke-width="1.5"/>
<rect x="143.51" y="446.20" width="4.2" height="4.2" fill="#ef7a2e"/>
<line x1="161.75" y1="400.1" x2="161.75" y2="440.5" stroke="#ef7a2e" stroke-width="1.5"/>
<line x1="159.55" y1="400.1" x2="163.95" y2="400.1" stroke="#ef7a2e" stroke-width="1.5"/>
<line x1="159.55" y1="440.5" x2="163.95" y2="440.5" stroke="#ef7a2e" stroke-width="1.5"/>
<rect x="159.65" y="418.20" width="4.2" height="4.2" fill="#ef7a2e"/>
<polyline points="48.75,511.25 64.89,503.75 81.04,502.50 97.18,502.00 113.32,500.50 129.46,499.50 145.61,497.50 161.75,496.25" fill="none" stroke="#2c9a44" stroke-width="1.0"/>
<line x1="48.75" y1="510.25" x2="48.75" y2="512.25" stroke="#2c9a44" stroke-width="1.5"/>
<line x1="46.55" y1="510.25" x2="50.95" y2="510.25" stroke="#2c9a44" stroke-width="1.5"/>
<line x1="46.55" y1="512.25" x2="50.95" y2="512.25" stroke="#2c9a44" stroke-width="1.5"/>
<circle cx="48.75" cy="511.25" r="2.10" fill="#2c9a44"/>
<line x1="64.89285714285714" y1="502.55" x2="64.89285714285714" y2="504.95" stroke="#2c9a44" stroke-width="1.5"/>
<line x1="62.692857142857136" y1="502.55" x2="67.09285714285714" y2="502.55" stroke="#2c9a44" stroke-width="1.5"/>
<line x1="62.692857142857136" y1="504.95" x2="67.09285714285714" y2="504.95" stroke="#2c9a44" stroke-width="1.5"/>
<circle cx="64.89" cy="503.75" r="2.10" fill="#2c9a44"/>
<line x1="81.03571428571428" y1="501.3" x2="81.03571428571428" y2="503.7" stroke="#2c9a44" stroke-width="1.5"/>
<line x1="78.83571428571427" y1="501.3" x2="83.23571428571428" y2="501.3" stroke="#2c9a44" stroke-width="1.5"/>
<line x1="78.83571428571427" y1="503.7" x2="83.23571428571428" y2="503.7" stroke="#2c9a44" stroke-width="1.5"/>
<circle cx="81.04" cy="502.50" r="2.10" fill="#2c9a44"/>
<line x1="97.17857142857143" y1="500.8" x2="97.17857142857143" y2="503.2" stroke="#2c9a44" stroke-width="1.5"/>
<line x1="94.97857142857143" y1="500.8" x2="99.37857142857143" y2="500.8" stroke="#2c9a44" stroke-width="1.5"/>
<line x1="94.97857142857143" y1="503.2" x2="99.37857142857143" y2="503.2" stroke="#2c9a44" stroke-width="1.5"/>
<circle cx="97.18" cy="502.00" r="2.10" fill="#2c9a44"/>
<line x1="113.32142857142857" y1="499.3" x2="113.32142857142857" y2="501.7" stroke="#2c9a44" stroke-width="1.5"/>
<line x1="111.12142857142857" y1="499.3" x2="115.52142857142857" y2="499.3" stroke="#2c9a44" stroke-width="1.5"/>
<line x1="111.12142857142857" y1="501.7" x2="115.52142857142857" y2="501.7" stroke="#2c9a44" stroke-width="1.5"/>
<circle cx="113.32" cy="500.50" r="2.10" fill="#2c9a44"/>
<line x1="129.46428571428572" y1="498.2" x2="129.46428571428572" y2="500.8" stroke="#2c9a44" stroke-width="1.5"/>
<line x1="127.26428571428572" y1="498.2" x2="131.6642857142857" y2="498.2" stroke="#2c9a44" stroke-width="1.5"/>
<line x1="127.26428571428572" y1="500.8" x2="131.6642857142857" y2="500.8" stroke="#2c9a44" stroke-width="1.5"/>
<circle cx="129.46" cy="499.50" r="2.10" fill="#2c9a44"/>
<line x1="145.60714285714286" y1="496.2" x2="145.60714285714286" y2="498.8" stroke="#2c9a44" stroke-width="1.5"/>
<line x1="143.40714285714287" y1="496.2" x2="147.80714285714285" y2="496.2" stroke="#2c9a44" stroke-width="1.5"/>
<line x1="143.40714285714287" y1="498.8" x2="147.80714285714285" y2="498.8" stroke="#2c9a44" stroke-width="1.5"/>
<circle cx="145.61" cy="497.50" r="2.10" fill="#2c9a44"/>
<line x1="161.75" y1="494.95" x2="161.75" y2="497.55" stroke="#2c9a44" stroke-width="1.5"/>
<line x1="159.55" y1="494.95" x2="163.95" y2="494.95" stroke="#2c9a44" stroke-width="1.5"/>
<line x1="159.55" y1="497.55" x2="163.95" y2="497.55" stroke="#2c9a44" stroke-width="1.5"/>
<circle cx="161.75" cy="496.25" r="2.10" fill="#2c9a44"/>
<polyline points="48.75,513.00 64.89,510.00 81.04,507.50 97.18,506.25 113.32,496.25 129.46,492.00 145.61,490.50 161.75,487.50" fill="none" stroke="#141c78" stroke-width="1.0"/>
<line x1="48.75" y1="512" x2="48.75" y2="514" stroke="#141c78" stroke-width="1.5"/>
<line x1="46.55" y1="512" x2="50.95" y2="512" stroke="#141c78" stroke-width="1.5"/>
<line x1="46.55" y1="514" x2="50.95" y2="514" stroke="#141c78" stroke-width="1.5"/>
<circle cx="48.75" cy="513.00" r="2.10" fill="#141c78"/>
<line x1="64.89285714285714" y1="508.8" x2="64.89285714285714" y2="511.2" stroke="#141c78" stroke-width="1.5"/>
<line x1="62.692857142857136" y1="508.8" x2="67.09285714285714" y2="508.8" stroke="#141c78" stroke-width="1.5"/>
<line x1="62.692857142857136" y1="511.2" x2="67.09285714285714" y2="511.2" stroke="#141c78" stroke-width="1.5"/>
<circle cx="64.89" cy="510.00" r="2.10" fill="#141c78"/>
<line x1="81.03571428571428" y1="506.0" x2="81.03571428571428" y2="509.0" stroke="#141c78" stroke-width="1.5"/>
<line x1="78.83571428571427" y1="506.0" x2="83.23571428571428" y2="506.0" stroke="#141c78" stroke-width="1.5"/>
<line x1="78.83571428571427" y1="509.0" x2="83.23571428571428" y2="509.0" stroke="#141c78" stroke-width="1.5"/>
<circle cx="81.04" cy="507.50" r="2.10" fill="#141c78"/>
<line x1="97.17857142857143" y1="504.25" x2="97.17857142857143" y2="508.25" stroke="#141c78" stroke-width="1.5"/>
<line x1="94.97857142857143" y1="504.25" x2="99.37857142857143" y2="504.25" stroke="#141c78" stroke-width="1.5"/>
<line x1="94.97857142857143" y1="508.25" x2="99.37857142857143" y2="508.25" stroke="#141c78" stroke-width="1.5"/>
<circle cx="97.18" cy="506.25" r="2.10" fill="#141c78"/>
<line x1="113.32142857142857" y1="492.75" x2="113.32142857142857" y2="499.75" stroke="#141c78" stroke-width="1.5"/>
<line x1="111.12142857142857" y1="492.75" x2="115.52142857142857" y2="492.75" stroke="#141c78" stroke-width="1.5"/>
<line x1="111.12142857142857" y1="499.75" x2="115.52142857142857" y2="499.75" stroke="#141c78" stroke-width="1.5"/>
<circle cx="113.32" cy="496.25" r="2.10" fill="#141c78"/>
<line x1="129.46428571428572" y1="488" x2="129.46428571428572" y2="496" stroke="#141c78" stroke-width="1.5"/>
<line x1="127.26428571428572" y1="488" x2="131.6642857142857" y2="488" stroke="#141c78" stroke-width="1.5"/>
<line x1="127.26428571428572" y1="496" x2="131.6642857142857" y2="496" stroke="#141c78" stroke-width="1.5"/>
<circle cx="129.46" cy="492.00" r="2.10" fill="#141c78"/>
<line x1="145.60714285714286" y1="486.5" x2="145.60714285714286" y2="494.5" stroke="#141c78" stroke-width="1.5"/>
<line x1="143.40714285714287" y1="486.5" x2="147.80714285714285" y2="486.5" stroke="#141c78" stroke-width="1.5"/>
<line x1="143.40714285714287" y1="494.5" x2="147.80714285714285" y2="494.5" stroke="#141c78" stroke-width="1.5"/>
<circle cx="145.61" cy="490.50" r="2.10" fill="#141c78"/>
<line x1="161.75" y1="483.0" x2="161.75" y2="492.0" stroke="#141c78" stroke-width="1.5"/>
<line x1="159.55" y1="483.0" x2="163.95" y2="483.0" stroke="#141c78" stroke-width="1.5"/>
<line x1="159.55" y1="492.0" x2="163.95" y2="492.0" stroke="#141c78" stroke-width="1.5"/>
<circle cx="161.75" cy="487.50" r="2.10" fill="#141c78"/>
<polyline points="48.75,514.50 64.89,510.00 81.04,509.25 97.18,509.50 113.32,507.50 129.46,504.25 145.61,502.50 161.75,501.25" fill="none" stroke="#e8202c" stroke-width="1.0"/>
<line x1="48.75" y1="512.5" x2="48.75" y2="516.5" stroke="#e8202c" stroke-width="1.5"/>
<line x1="46.55" y1="512.5" x2="50.95" y2="512.5" stroke="#e8202c" stroke-width="1.5"/>
<line x1="46.55" y1="516.5" x2="50.95" y2="516.5" stroke="#e8202c" stroke-width="1.5"/>
<rect x="46.65" y="512.40" width="4.2" height="4.2" fill="#e8202c"/>
<line x1="64.89285714285714" y1="507.4" x2="64.89285714285714" y2="512.6" stroke="#e8202c" stroke-width="1.5"/>
<line x1="62.692857142857136" y1="507.4" x2="67.09285714285714" y2="507.4" stroke="#e8202c" stroke-width="1.5"/>
<line x1="62.692857142857136" y1="512.6" x2="67.09285714285714" y2="512.6" stroke="#e8202c" stroke-width="1.5"/>
<rect x="62.79" y="507.90" width="4.2" height="4.2" fill="#e8202c"/>
<line x1="81.03571428571428" y1="506.55" x2="81.03571428571428" y2="511.95" stroke="#e8202c" stroke-width="1.5"/>
<line x1="78.83571428571427" y1="506.55" x2="83.23571428571428" y2="506.55" stroke="#e8202c" stroke-width="1.5"/>
<line x1="78.83571428571427" y1="511.95" x2="83.23571428571428" y2="511.95" stroke="#e8202c" stroke-width="1.5"/>
<rect x="78.94" y="507.15" width="4.2" height="4.2" fill="#e8202c"/>
<line x1="97.17857142857143" y1="506.7" x2="97.17857142857143" y2="512.3" stroke="#e8202c" stroke-width="1.5"/>
<line x1="94.97857142857143" y1="506.7" x2="99.37857142857143" y2="506.7" stroke="#e8202c" stroke-width="1.5"/>
<line x1="94.97857142857143" y1="512.3" x2="99.37857142857143" y2="512.3" stroke="#e8202c" stroke-width="1.5"/>
<rect x="95.08" y="507.40" width="4.2" height="4.2" fill="#e8202c"/>
<line x1="113.32142857142857" y1="504.7" x2="113.32142857142857" y2="510.3" stroke="#e8202c" stroke-width="1.5"/>
<line x1="111.12142857142857" y1="504.7" x2="115.52142857142857" y2="504.7" stroke="#e8202c" stroke-width="1.5"/>
<line x1="111.12142857142857" y1="510.3" x2="115.52142857142857" y2="510.3" stroke="#e8202c" stroke-width="1.5"/>
<rect x="111.22" y="505.40" width="4.2" height="4.2" fill="#e8202c"/>
<line x1="129.46428571428572" y1="501.25" x2="129.46428571428572" y2="507.25" stroke="#e8202c" stroke-width="1.5"/>
<line x1="127.26428571428572" y1="501.25" x2="131.6642857142857" y2="501.25" stroke="#e8202c" stroke-width="1.5"/>
<line x1="127.26428571428572" y1="507.25" x2="131.6642857142857" y2="507.25" stroke="#e8202c" stroke-width="1.5"/>
<rect x="127.36" y="502.15" width="4.2" height="4.2" fill="#e8202c"/>
<line x1="145.60714285714286" y1="499.5" x2="145.60714285714286" y2="505.5" stroke="#e8202c" stroke-width="1.5"/>
<line x1="143.40714285714287" y1="499.5" x2="147.80714285714285" y2="499.5" stroke="#e8202c" stroke-width="1.5"/>
<line x1="143.40714285714287" y1="505.5" x2="147.80714285714285" y2="505.5" stroke="#e8202c" stroke-width="1.5"/>
<rect x="143.51" y="500.40" width="4.2" height="4.2" fill="#e8202c"/>
<line x1="161.75" y1="498.05" x2="161.75" y2="504.45" stroke="#e8202c" stroke-width="1.5"/>
<line x1="159.55" y1="498.05" x2="163.95" y2="498.05" stroke="#e8202c" stroke-width="1.5"/>
<line x1="159.55" y1="504.45" x2="163.95" y2="504.45" stroke="#e8202c" stroke-width="1.5"/>
<rect x="159.65" y="499.15" width="4.2" height="4.2" fill="#e8202c"/>
<line x1="44.8" y1="398.3" x2="54.6" y2="398.3" stroke="#ef7a2e" stroke-width="1.2"/>
<rect x="47.90" y="396.50" width="3.6" height="3.6" fill="#ef7a2e"/>
<text x="56.7" y="401.5" font-size="9" textLength="88.5" lengthAdjust="spacingAndGlyphs" fill="#1a1a1a">Exo<tspan font-size="5.5" dy="-3">MSC</tspan><tspan dy="3">:Control Liposome</tspan></text>
<line x1="44.8" y1="410.3" x2="54.6" y2="410.3" stroke="#e8202c" stroke-width="1.2"/>
<rect x="47.90" y="408.50" width="3.6" height="3.6" fill="#e8202c"/>
<text x="56.7" y="413.5" font-size="9" textLength="69.8" lengthAdjust="spacingAndGlyphs" fill="#1a1a1a">Exo<tspan font-size="5.5" dy="-3">MSC</tspan><tspan dy="3">:Chlodronate</tspan></text>
<line x1="44.8" y1="421.9" x2="54.6" y2="421.9" stroke="#141c78" stroke-width="1.2"/>
<circle cx="49.70" cy="421.90" r="1.80" fill="#141c78"/>
<text x="56.7" y="425.09999999999997" font-size="9" textLength="89.9" lengthAdjust="spacingAndGlyphs" fill="#1a1a1a">Vehicle:Control Liposome</text>
<line x1="44.8" y1="433.1" x2="54.6" y2="433.1" stroke="#2c9a44" stroke-width="1.2"/>
<circle cx="49.70" cy="433.10" r="1.80" fill="#2c9a44"/>
<text x="56.7" y="436.3" font-size="9" textLength="70.7" lengthAdjust="spacingAndGlyphs" fill="#1a1a1a">Vehicle:Chlodronate</text>
<line x1="170.7" y1="419.3" x2="170.7" y2="500.4" stroke="#1c1c1c" stroke-width="1.5"/>
<line x1="166.8" y1="419.3" x2="174.8" y2="419.3" stroke="#1c1c1c" stroke-width="1.5"/>
<line x1="166.8" y1="500.4" x2="174.8" y2="500.4" stroke="#1c1c1c" stroke-width="1.5"/>
<text x="173.7" y="473.3" font-size="14" textLength="10.7" lengthAdjust="spacingAndGlyphs" fill="#222">**</text>
<line x1="177.1" y1="497.0" x2="177.1" y2="506.6" stroke="#1c1c1c" stroke-width="1.5"/>
<line x1="173.0" y1="497.0" x2="181.2" y2="497.0" stroke="#1c1c1c" stroke-width="1.5"/>
<line x1="173.0" y1="506.6" x2="181.2" y2="506.6" stroke="#1c1c1c" stroke-width="1.5"/>
<text x="181.6" y="504.5" font-size="8.2" textLength="9.2" lengthAdjust="spacingAndGlyphs" fill="#777">NS</text>
<text x="218.8" y="384.6" font-size="15" fill="#111">E</text>
<line x1="259.2" y1="386.4" x2="259.2" y2="506.0" stroke="#1c1c1c" stroke-width="1.35"/>
<line x1="255.5" y1="505.5" x2="259.2" y2="505.5" stroke="#1c1c1c" stroke-width="1.0"/>
<text x="254.6" y="508.4" font-size="8.2" text-anchor="end" font-weight="bold" fill="#111">0</text>
<line x1="255.5" y1="475.85" x2="259.2" y2="475.85" stroke="#1c1c1c" stroke-width="1.0"/>
<text x="254.6" y="478.75" font-size="8.2" text-anchor="end" font-weight="bold" fill="#111">500</text>
<line x1="255.5" y1="446.2" x2="259.2" y2="446.2" stroke="#1c1c1c" stroke-width="1.0"/>
<text x="254.6" y="449.09999999999997" font-size="8.2" text-anchor="end" font-weight="bold" fill="#111">1000</text>
<line x1="255.5" y1="416.54999999999995" x2="259.2" y2="416.54999999999995" stroke="#1c1c1c" stroke-width="1.0"/>
<text x="254.6" y="419.44999999999993" font-size="8.2" text-anchor="end" font-weight="bold" fill="#111">1500</text>
<line x1="255.5" y1="386.9" x2="259.2" y2="386.9" stroke="#1c1c1c" stroke-width="1.0"/>
<text x="254.6" y="389.79999999999995" font-size="8.2" text-anchor="end" font-weight="bold" fill="#111">2000</text>
<line x1="259.2" y1="505.5" x2="363.8" y2="505.5" stroke="#1c1c1c" stroke-width="1.35"/>
<line x1="277.2" y1="505.5" x2="277.2" y2="508.0" stroke="#1c1c1c" stroke-width="1.0"/>
<line x1="304.3" y1="505.5" x2="304.3" y2="508.0" stroke="#1c1c1c" stroke-width="1.0"/>
<line x1="331.1" y1="505.5" x2="331.1" y2="508.0" stroke="#1c1c1c" stroke-width="1.0"/>
<line x1="358.9" y1="505.5" x2="358.9" y2="508.0" stroke="#1c1c1c" stroke-width="1.0"/>
<text transform="translate(227.8,494.4) rotate(-90)" font-size="10.7" fill="#111" textLength="81" lengthAdjust="spacingAndGlyphs">Tumor weight (mg)</text>
<rect x="275.05" y="403.15" width="4.3" height="4.3" fill="#ef7a2e"/>
<rect x="271.45" y="410.15" width="4.3" height="4.3" fill="#ef7a2e"/>
<rect x="278.85" y="414.75" width="4.3" height="4.3" fill="#ef7a2e"/>
<rect x="282.05" y="413.75" width="4.3" height="4.3" fill="#ef7a2e"/>
<rect x="271.45" y="421.15" width="4.3" height="4.3" fill="#ef7a2e"/>
<rect x="271.45" y="431.65" width="4.3" height="4.3" fill="#ef7a2e"/>
<rect x="269.35" y="438.45" width="4.3" height="4.3" fill="#ef7a2e"/>
<rect x="278.85" y="438.05" width="4.3" height="4.3" fill="#ef7a2e"/>
<rect x="275.05" y="445.45" width="4.3" height="4.3" fill="#ef7a2e"/>
<rect x="280.55" y="443.35" width="4.3" height="4.3" fill="#ef7a2e"/>
<line x1="273" y1="428.1" x2="282" y2="428.1" stroke="#111" stroke-width="1.6"/>
<circle cx="298.50" cy="471.50" r="2.00" fill="#e8151f"/>
<circle cx="301.50" cy="473.50" r="2.00" fill="#e8151f"/>
<circle cx="304.30" cy="474.50" r="2.00" fill="#e8151f"/>
<circle cx="307.50" cy="473.50" r="2.00" fill="#e8151f"/>
<circle cx="310.50" cy="471.50" r="2.00" fill="#e8151f"/>
<circle cx="300.00" cy="475.50" r="2.00" fill="#e8151f"/>
<circle cx="304.30" cy="477.50" r="2.00" fill="#e8151f"/>
<circle cx="308.50" cy="475.50" r="2.00" fill="#e8151f"/>
<circle cx="302.00" cy="477.00" r="2.00" fill="#e8151f"/>
<circle cx="306.50" cy="477.00" r="2.00" fill="#e8151f"/>
<circle cx="301.00" cy="472.00" r="2.00" fill="#e8151f"/>
<circle cx="304.30" cy="472.00" r="2.00" fill="#e8151f"/>
<circle cx="308.00" cy="472.00" r="2.00" fill="#e8151f"/>
<rect x="302.50" y="467.40" width="3.6" height="3.6" fill="#e8151f"/>
<line x1="300" y1="473.0" x2="309" y2="473.0" stroke="#111" stroke-width="1.6"/>
<circle cx="328.50" cy="451.50" r="2.00" fill="#0d1a8a"/>
<circle cx="330.50" cy="453.50" r="2.00" fill="#0d1a8a"/>
<circle cx="327.50" cy="456.50" r="2.00" fill="#0d1a8a"/>
<circle cx="333.50" cy="456.00" r="2.00" fill="#0d1a8a"/>
<circle cx="331.50" cy="459.50" r="2.00" fill="#0d1a8a"/>
<circle cx="334.50" cy="461.00" r="2.00" fill="#0d1a8a"/>
<circle cx="329.50" cy="463.50" r="2.00" fill="#0d1a8a"/>
<circle cx="326.50" cy="468.00" r="2.00" fill="#0d1a8a"/>
<circle cx="329.50" cy="469.50" r="2.00" fill="#0d1a8a"/>
<circle cx="333.00" cy="469.50" r="2.00" fill="#0d1a8a"/>
<circle cx="336.50" cy="469.50" r="2.00" fill="#0d1a8a"/>
<circle cx="338.50" cy="468.50" r="2.00" fill="#0d1a8a"/>
<line x1="327.5" y1="462.5" x2="336.5" y2="462.5" stroke="#111" stroke-width="1.6"/>
<circle cx="364.50" cy="475.50" r="2.00" fill="#2ec02e"/>
<circle cx="361.50" cy="477.50" r="2.00" fill="#2ec02e"/>
<circle cx="356.50" cy="478.00" r="2.00" fill="#2ec02e"/>
<circle cx="354.00" cy="480.00" r="2.00" fill="#2ec02e"/>
<circle cx="358.50" cy="480.50" r="2.00" fill="#2ec02e"/>
<circle cx="363.00" cy="481.50" r="2.00" fill="#2ec02e"/>
<circle cx="359.00" cy="483.50" r="2.00" fill="#2ec02e"/>
<circle cx="356.50" cy="486.00" r="2.00" fill="#2ec02e"/>
<circle cx="361.00" cy="477.00" r="2.00" fill="#2ec02e"/>
<line x1="354.5" y1="480.4" x2="363.5" y2="480.4" stroke="#111" stroke-width="1.6"/>
<polyline points="275.80,396.00 275.80,392.60 336.00,392.60 336.00,438.10" fill="none" stroke="#1c1c1c" stroke-width="1.6"/>
<line x1="303.3" y1="438.1" x2="367.8" y2="438.1" stroke="#1c1c1c" stroke-width="1.6"/>
<text x="341.8" y="425.9" font-size="18" textLength="16.0" lengthAdjust="spacingAndGlyphs" fill="#111">***</text>
<text transform="translate(280.5,518.5) rotate(-45) scale(0.79,1)" font-size="12.5" text-anchor="end" fill="#1a1a1a">Exo<tspan font-size="8" dy="-4.8">MSC</tspan><tspan dy="4.8">:Control Liposome</tspan></text>
<text transform="translate(305.5,519.5) rotate(-45) scale(0.79,1)" font-size="12.5" text-anchor="end" fill="#1a1a1a">Exo<tspan font-size="8" dy="-4.8">MSC</tspan><tspan dy="4.8">:Chlodronate</tspan></text>
<text transform="translate(334.0,516.5) rotate(-45) scale(0.79,1)" font-size="12.5" text-anchor="end" fill="#1a1a1a">Vehicle:Control Liposome</text>
<text transform="translate(353.0,519.5) rotate(-45) scale(0.79,1)" font-size="12.5" text-anchor="end" fill="#1a1a1a">Vehicle:Chlodronate</text>
<defs><linearGradient id="peg" x1="0" y1="0" x2="1" y2="0"><stop offset="0" stop-color="#808080"/><stop offset="0.02" stop-color="#9a9a9a"/><stop offset="0.035" stop-color="#d4d4d2"/><stop offset="0.08" stop-color="#e4e4e2"/><stop offset="1" stop-color="#e6e6e4"/></linearGradient></defs>
<rect x="416.8" y="394.3" width="102.7" height="99.5" fill="url(#peg)"/>
<path d="M442.1 410.0 L442.6 411.6 L442.7 413.5 L442.2 415.3 L441.2 416.9 L439.8 418.0 L438.0 418.0 L436.4 417.5 L434.9 417.6 L433.3 417.3 L432.3 415.8 L431.8 414.2 L430.5 413.2 L428.7 412.0 L428.1 410.0 L429.0 408.1 L430.1 406.5 L431.2 405.3 L432.5 404.4 L433.7 403.6 L434.9 402.4 L436.4 401.5 L438.0 402.0 L439.4 402.9 L441.1 403.3 L442.7 404.2 L443.1 406.3 L442.4 408.4Z" fill="#a0585a"/>
<ellipse cx="435.2" cy="410.6" rx="4.3" ry="4.8" fill="#8c4248" opacity="0.85"/>
<ellipse cx="434.3" cy="408.0" rx="2.1" ry="2.0" fill="#b87478" opacity="0.7"/>
<path d="M442.2 419.5 L442.6 420.8 L442.5 422.1 L441.9 423.4 L441.0 424.3 L439.6 424.4 L438.4 424.0 L437.5 424.3 L436.4 424.9 L435.3 424.6 L434.5 423.6 L433.7 422.8 L432.6 422.1 L431.9 420.9 L432.2 419.5 L432.9 418.3 L433.4 417.4 L434.1 416.5 L434.7 415.7 L435.3 414.5 L436.2 413.3 L437.5 413.3 L438.6 414.2 L439.6 414.7 L440.8 415.0 L441.5 416.0 L441.6 417.3 L441.6 418.5Z" fill="#a0585a"/>
<ellipse cx="438.2" cy="420.3" rx="3.1" ry="3.3" fill="#8c4248" opacity="0.85"/>
<ellipse cx="436.0" cy="418.1" rx="1.5" ry="1.4" fill="#b87478" opacity="0.7"/>
<path d="M466.2 413.0 L466.3 414.2 L466.1 415.4 L465.8 416.7 L465.3 418.1 L464.4 419.2 L463.0 419.1 L461.8 418.2 L460.9 417.7 L459.7 418.0 L458.6 417.6 L458.0 416.5 L457.5 415.4 L456.7 414.4 L456.2 413.0 L456.5 411.6 L457.1 410.4 L457.9 409.4 L459.0 409.0 L460.0 408.7 L460.8 407.8 L461.8 406.6 L463.1 406.4 L464.1 407.5 L464.8 408.6 L465.8 409.3 L466.5 410.4 L466.4 411.8Z" fill="#a0585a"/>
<ellipse cx="462.2" cy="412.1" rx="3.1" ry="3.5" fill="#8c4248" opacity="0.85"/>
<ellipse cx="460.3" cy="411.6" rx="1.5" ry="1.4" fill="#b87478" opacity="0.7"/>
<path d="M491.4 410.8 L491.7 412.2 L490.9 413.4 L489.9 414.3 L489.4 415.7 L488.6 417.1 L487.2 417.8 L485.7 417.6 L484.3 417.0 L483.3 416.1 L482.6 414.9 L481.6 414.2 L480.1 413.6 L479.1 412.4 L479.4 410.8 L480.0 409.4 L480.1 408.0 L480.5 406.5 L481.9 405.8 L483.4 405.8 L484.5 405.5 L485.7 405.0 L487.0 404.7 L488.5 404.7 L490.1 405.1 L491.0 406.3 L490.9 408.2 L490.8 409.6Z" fill="#a0585a"/>
<ellipse cx="486.5" cy="411.0" rx="3.7" ry="3.8" fill="#8c4248" opacity="0.85"/>
<ellipse cx="483.9" cy="409.2" rx="1.8" ry="1.6" fill="#b87478" opacity="0.7"/>
<path d="M510.6 408.5 L510.1 409.9 L509.4 411.0 L508.7 412.1 L507.9 413.0 L506.8 413.4 L505.8 413.8 L504.8 414.1 L503.7 413.9 L502.7 413.5 L501.4 413.4 L500.1 412.9 L499.7 411.3 L500.3 409.7 L500.6 408.5 L500.3 407.3 L500.3 406.0 L500.9 404.9 L501.6 403.9 L502.5 402.9 L503.6 402.5 L504.8 402.5 L506.0 402.6 L507.1 403.1 L507.7 404.4 L507.9 405.6 L508.7 406.3 L510.1 407.1Z" fill="#a0585a"/>
<ellipse cx="505.7" cy="407.7" rx="3.1" ry="3.5" fill="#8c4248" opacity="0.85"/>
<ellipse cx="503.3" cy="407.1" rx="1.5" ry="1.4" fill="#b87478" opacity="0.7"/>
<path d="M445.5 446.8 L445.0 448.4 L444.9 450.1 L444.5 451.9 L443.7 453.6 L442.5 455.2 L440.9 456.0 L439.2 455.4 L437.7 454.9 L436.1 454.7 L434.7 453.7 L434.3 451.6 L434.1 449.8 L432.9 448.6 L431.5 446.8 L431.3 444.6 L432.3 442.8 L433.5 441.3 L434.9 440.3 L436.5 439.9 L437.8 439.4 L439.2 438.4 L440.8 438.3 L442.1 439.4 L443.4 440.4 L445.2 441.0 L446.7 442.4 L446.5 444.8Z" fill="#a0585a"/>
<ellipse cx="440.1" cy="446.8" rx="4.3" ry="5.1" fill="#8c4248" opacity="0.85"/>
<ellipse cx="437.1" cy="444.7" rx="2.1" ry="2.1" fill="#b87478" opacity="0.7"/>
<path d="M464.2 446.8 L464.3 448.1 L463.9 449.3 L463.4 450.4 L462.8 451.4 L461.9 451.8 L461.0 452.0 L460.1 452.2 L459.3 451.9 L458.6 451.0 L457.9 450.6 L456.7 450.5 L455.7 449.7 L455.7 448.2 L456.2 446.8 L456.5 445.7 L456.7 444.5 L457.2 443.6 L457.8 442.8 L458.4 441.9 L459.2 441.3 L460.1 441.2 L461.0 441.2 L462.1 441.1 L462.9 442.0 L463.0 443.6 L462.9 444.9 L463.5 445.7Z" fill="#a0585a"/>
<ellipse cx="460.3" cy="447.8" rx="2.5" ry="3.3" fill="#8c4248" opacity="0.85"/>
<ellipse cx="458.9" cy="445.4" rx="1.2" ry="1.4" fill="#b87478" opacity="0.7"/>
<path d="M490.6 445.1 L490.4 446.4 L491.0 448.2 L491.0 450.1 L489.6 451.2 L487.9 451.4 L486.5 451.9 L485.1 452.5 L483.6 452.0 L482.5 450.8 L481.5 449.9 L480.4 449.2 L479.3 448.1 L478.4 446.7 L477.6 445.1 L477.8 443.3 L479.3 442.1 L480.8 441.4 L481.5 440.2 L482.3 438.8 L483.6 438.2 L485.1 438.5 L486.5 438.4 L488.2 438.2 L489.6 439.0 L490.5 440.4 L491.0 442.0 L491.1 443.6Z" fill="#a0585a"/>
<ellipse cx="484.1" cy="446.4" rx="4.0" ry="4.2" fill="#8c4248" opacity="0.85"/>
<ellipse cx="483.2" cy="443.4" rx="1.9" ry="1.8" fill="#b87478" opacity="0.7"/>
<path d="M509.7 448.3 L508.9 449.1 L508.8 450.0 L508.5 450.9 L507.6 451.5 L506.6 451.7 L505.7 452.2 L504.6 452.8 L503.4 452.8 L502.2 452.5 L501.2 451.8 L500.8 450.9 L500.8 449.8 L500.6 449.1 L499.7 448.3 L499.2 447.3 L499.8 446.3 L500.7 445.7 L501.4 444.9 L502.2 444.2 L503.4 444.1 L504.6 444.4 L505.6 444.6 L506.6 444.9 L507.5 445.3 L508.6 445.6 L509.8 446.2 L510.4 447.2Z" fill="#a0585a"/>
<ellipse cx="505.0" cy="448.6" rx="3.1" ry="2.5" fill="#8c4248" opacity="0.85"/>
<ellipse cx="503.1" cy="447.2" rx="1.5" ry="1.1" fill="#b87478" opacity="0.7"/>
<path d="M448.2 479.0 L446.7 480.7 L446.1 482.3 L445.8 484.3 L444.6 485.6 L442.8 486.0 L441.2 486.6 L439.6 487.9 L437.6 488.4 L435.7 487.5 L434.3 486.0 L433.4 484.2 L433.2 482.3 L433.2 480.6 L432.2 479.0 L431.1 476.9 L431.7 474.9 L433.3 473.7 L434.6 472.4 L435.8 470.6 L437.7 470.0 L439.6 470.9 L441.1 471.9 L442.7 472.2 L444.3 472.7 L445.9 473.6 L447.7 474.9 L448.8 476.8Z" fill="#a0585a"/>
<ellipse cx="440.0" cy="479.5" rx="5.0" ry="5.1" fill="#8c4248" opacity="0.85"/>
<ellipse cx="437.2" cy="476.9" rx="2.4" ry="2.1" fill="#b87478" opacity="0.7"/>
<path d="M467.2 480.7 L467.4 482.0 L467.8 483.7 L467.5 485.3 L466.5 485.9 L465.6 486.2 L464.8 487.0 L463.9 487.4 L463.0 486.7 L462.4 485.7 L461.7 485.1 L460.9 484.5 L460.2 483.5 L459.6 482.2 L459.2 480.7 L459.6 479.2 L460.6 478.2 L461.3 477.4 L461.6 476.1 L462.1 474.9 L463.0 474.7 L463.9 474.8 L464.8 474.4 L465.8 474.3 L466.7 475.2 L467.2 476.6 L467.4 478.0 L467.4 479.4Z" fill="#a0585a"/>
<ellipse cx="464.7" cy="480.0" rx="2.5" ry="3.8" fill="#8c4248" opacity="0.85"/>
<ellipse cx="462.7" cy="479.1" rx="1.2" ry="1.6" fill="#b87478" opacity="0.7"/>
<path d="M492.1 477.9 L491.6 479.4 L490.6 480.6 L490.2 482.0 L489.4 483.5 L487.8 484.0 L486.0 483.7 L484.5 483.5 L483.1 483.3 L481.7 483.0 L480.1 482.8 L478.3 482.4 L477.1 481.1 L477.4 479.3 L478.1 477.9 L477.9 476.5 L478.0 475.1 L479.3 474.1 L480.7 473.6 L481.7 472.7 L482.9 471.4 L484.5 470.9 L486.2 471.1 L487.8 471.7 L488.9 473.0 L489.2 474.5 L489.7 475.6 L491.1 476.5Z" fill="#a0585a"/>
<ellipse cx="483.7" cy="478.6" rx="4.3" ry="3.8" fill="#8c4248" opacity="0.85"/>
<ellipse cx="482.4" cy="476.3" rx="2.1" ry="1.6" fill="#b87478" opacity="0.7"/>
<path d="M510.7 477.9 L510.1 478.9 L510.3 480.1 L510.4 481.7 L509.8 482.8 L508.7 483.4 L507.8 483.8 L506.7 484.1 L505.7 483.6 L504.8 482.9 L504.0 482.3 L503.4 481.3 L503.2 480.1 L502.7 479.1 L501.7 477.9 L501.4 476.3 L502.2 475.1 L503.4 474.5 L504.1 473.8 L504.8 472.9 L505.7 472.5 L506.7 472.5 L507.7 472.3 L508.7 472.5 L509.6 473.2 L510.4 474.1 L511.3 475.0 L511.5 476.5Z" fill="#a0585a"/>
<ellipse cx="505.8" cy="478.0" rx="2.8" ry="3.5" fill="#8c4248" opacity="0.85"/>
<ellipse cx="505.3" cy="476.4" rx="1.3" ry="1.4" fill="#b87478" opacity="0.7"/>
<text transform="translate(439.0,501.5) rotate(-45) scale(0.79,1)" font-size="12.5" text-anchor="end" fill="#1a1a1a">Exo<tspan font-size="8" dy="-4.8">MSC</tspan><tspan dy="4.8">:Control Liposome</tspan></text>
<text transform="translate(462.5,504.5) rotate(-45) scale(0.79,1)" font-size="12.5" text-anchor="end" fill="#1a1a1a">Exo<tspan font-size="8" dy="-4.8">MSC</tspan><tspan dy="4.8">:Chlodronate</tspan></text>
<text transform="translate(491.3,501.3) rotate(-45) scale(0.79,1)" font-size="12.5" text-anchor="end" fill="#1a1a1a">Vehicle:Control Liposome</text>
<text transform="translate(511.5,503.0) rotate(-45) scale(0.79,1)" font-size="12.5" text-anchor="end" fill="#1a1a1a">Vehicle:Chlodronate</text>
<text x="4.8" y="610.8" font-size="14" fill="#111">F</text>
<text x="34.0" y="622.5" font-size="14.4" textLength="212" lengthAdjust="spacingAndGlyphs" fill="#111">LC-MS/MS analysis of exosomes</text>
<rect x="38.5" y="635.0" width="461.7" height="25.5" fill="#000"/>
<rect x="39.5" y="636.0" width="459.7" height="92.0" fill="none" stroke="#000" stroke-width="2"/>
<text x="211.5" y="645.3" font-size="11.3" text-anchor="middle" fill="#fff">MSCs-exosomes</text>
<text x="327.5" y="645.3" font-size="11.3" text-anchor="middle" fill="#fff">3T3-exosomes</text>
<text x="442.5" y="645.3" font-size="11.3" text-anchor="middle" fill="#fff">EpCAM<tspan font-size="7" dy="-4">+</tspan><tspan dy="4"> cell</tspan></text>
<text x="442.5" y="657.5" font-size="11.3" text-anchor="middle" fill="#fff">exosomes</text>
<text x="97.5" y="670.8" font-size="11.3" text-anchor="middle" fill="#111">TGF-β</text>
<text x="211.5" y="670.8" font-size="11.3" text-anchor="middle" fill="#111">1.90E+08</text>
<text x="327.5" y="670.8" font-size="11.3" text-anchor="middle" fill="#111">0</text>
<text x="442.5" y="670.8" font-size="11.3" text-anchor="middle" fill="#111">0</text>
<text x="97.5" y="684.0" font-size="11.3" text-anchor="middle" fill="#111">C1q</text>
<text x="211.5" y="684.0" font-size="11.3" text-anchor="middle" fill="#111">2.21E+07</text>
<text x="327.5" y="684.0" font-size="11.3" text-anchor="middle" fill="#111">0</text>
<text x="442.5" y="684.0" font-size="11.3" text-anchor="middle" fill="#111">0</text>
<text x="97.5" y="697.2" font-size="11.3" text-anchor="middle" fill="#111">Semaphorin-3D</text>
<text x="211.5" y="697.2" font-size="11.3" text-anchor="middle" fill="#111">2.81E+08</text>
<text x="327.5" y="697.2" font-size="11.3" text-anchor="middle" fill="#111">0</text>
<text x="442.5" y="697.2" font-size="11.3" text-anchor="middle" fill="#111">0</text>
<text x="97.5" y="710.4" font-size="11.3" text-anchor="middle" fill="#111">Semaphorin-3C</text>
<text x="211.5" y="710.4" font-size="11.3" text-anchor="middle" fill="#111">9.58E+08</text>
<text x="327.5" y="710.4" font-size="11.3" text-anchor="middle" fill="#111">0</text>
<text x="442.5" y="710.4" font-size="11.3" text-anchor="middle" fill="#111">3.59E+07</text>
<text x="97.5" y="723.6" font-size="11.3" text-anchor="middle" fill="#111">CD63</text>
<text x="211.5" y="723.6" font-size="11.3" text-anchor="middle" fill="#111">6.33E+07</text>
<text x="327.5" y="723.6" font-size="11.3" text-anchor="middle" fill="#111">8.31E+07</text>
<text x="442.5" y="723.6" font-size="11.3" text-anchor="middle" fill="#111">7.86E+07</text>
</svg>
</body></html>
